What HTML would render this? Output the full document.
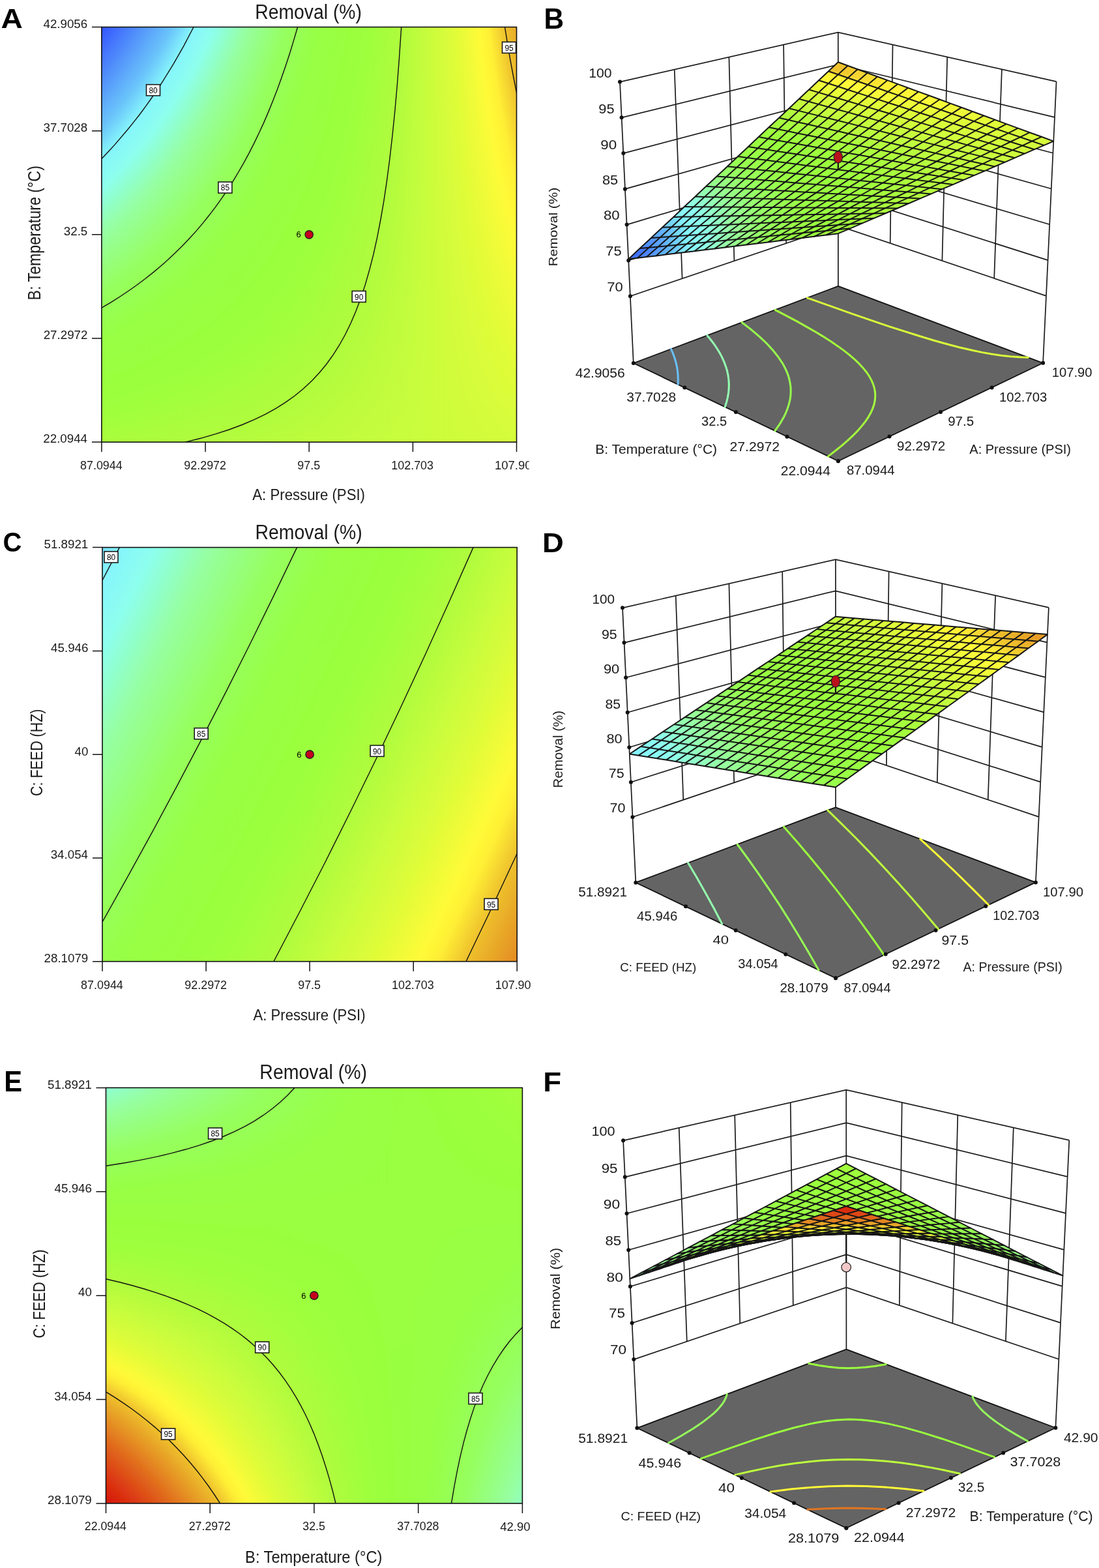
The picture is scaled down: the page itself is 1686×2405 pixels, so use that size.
<!DOCTYPE html><html><head><meta charset="utf-8"><style>html,body{margin:0;padding:0;background:#fff}svg{display:block}text{font-family:'Liberation Sans', Arial, sans-serif}</style></head><body><svg width="1686" height="2405" viewBox="0 0 1686 2405"><defs><clipPath id="c0"><rect x="155.9" y="41.5" width="636.6" height="636.6"/></clipPath><linearGradient id="g1"><stop offset="0" stop-color="#3051fe"/><stop offset="0.076" stop-color="#4b82fc"/><stop offset="0.1758" stop-color="#6ac4fa"/><stop offset="0.2256" stop-color="#86f5fc"/><stop offset="0.25" stop-color="#89faf5"/><stop offset="0.2754" stop-color="#8dffee"/><stop offset="0.3551" stop-color="#96ffa0"/><stop offset="0.4496" stop-color="#96ff5f"/><stop offset="0.5" stop-color="#97ff4e"/><stop offset="0.5242" stop-color="#98ff46"/><stop offset="0.5987" stop-color="#99ff3e"/><stop offset="0.6483" stop-color="#9eff3c"/><stop offset="0.7228" stop-color="#affc3c"/><stop offset="0.75" stop-color="#bafc3c"/><stop offset="0.7873" stop-color="#c8fd3c"/><stop offset="0.8517" stop-color="#e1fc39"/><stop offset="0.9086" stop-color="#fffa37"/><stop offset="0.9309" stop-color="#fff035"/><stop offset="0.9705" stop-color="#eec02d"/><stop offset="1" stop-color="#e8a828"/></linearGradient><linearGradient id="g2"><stop offset="0" stop-color="#3458fe"/><stop offset="0.06605" stop-color="#4b82fc"/><stop offset="0.1672" stop-color="#6ac4fa"/><stop offset="0.2177" stop-color="#86f5fc"/><stop offset="0.25" stop-color="#8afbf3"/><stop offset="0.2682" stop-color="#8dffee"/><stop offset="0.349" stop-color="#96ffa0"/><stop offset="0.4449" stop-color="#96ff5f"/><stop offset="0.5" stop-color="#97ff4d"/><stop offset="0.5204" stop-color="#98ff46"/><stop offset="0.596" stop-color="#99ff3e"/><stop offset="0.6463" stop-color="#9eff3c"/><stop offset="0.7218" stop-color="#affc3c"/><stop offset="0.75" stop-color="#bafc3c"/><stop offset="0.7872" stop-color="#c8fd3c"/><stop offset="0.8524" stop-color="#e1fc39"/><stop offset="0.9102" stop-color="#fffa37"/><stop offset="0.9328" stop-color="#fff035"/><stop offset="0.9729" stop-color="#eec02d"/><stop offset="1" stop-color="#e9aa28"/></linearGradient><linearGradient id="g3"><stop offset="0" stop-color="#385ffe"/><stop offset="0.05585" stop-color="#4b82fc"/><stop offset="0.1584" stop-color="#6ac4fa"/><stop offset="0.2097" stop-color="#86f5fc"/><stop offset="0.25" stop-color="#8cfdf1"/><stop offset="0.2609" stop-color="#8dffee"/><stop offset="0.3428" stop-color="#96ffa0"/><stop offset="0.44" stop-color="#96ff5f"/><stop offset="0.5" stop-color="#98ff4b"/><stop offset="0.5167" stop-color="#98ff46"/><stop offset="0.5933" stop-color="#99ff3e"/><stop offset="0.6442" stop-color="#9eff3c"/><stop offset="0.7208" stop-color="#affc3c"/><stop offset="0.75" stop-color="#bafc3c"/><stop offset="0.7871" stop-color="#c8fd3c"/><stop offset="0.8533" stop-color="#e1fc39"/><stop offset="0.9118" stop-color="#fffa37"/><stop offset="0.9347" stop-color="#fff035"/><stop offset="0.9754" stop-color="#eec02d"/><stop offset="1" stop-color="#e9ad29"/></linearGradient><linearGradient id="g4"><stop offset="0" stop-color="#3c66fd"/><stop offset="0.04535" stop-color="#4b82fc"/><stop offset="0.1493" stop-color="#6ac4fa"/><stop offset="0.2013" stop-color="#86f5fc"/><stop offset="0.25" stop-color="#8dfeef"/><stop offset="0.2533" stop-color="#8dffee"/><stop offset="0.3364" stop-color="#96ffa0"/><stop offset="0.435" stop-color="#96ff5f"/><stop offset="0.5" stop-color="#98ff4a"/><stop offset="0.5127" stop-color="#98ff46"/><stop offset="0.5904" stop-color="#99ff3e"/><stop offset="0.6421" stop-color="#9eff3c"/><stop offset="0.7198" stop-color="#affc3c"/><stop offset="0.75" stop-color="#bafc3c"/><stop offset="0.787" stop-color="#c8fd3c"/><stop offset="0.8541" stop-color="#e1fc39"/><stop offset="0.9134" stop-color="#fffa37"/><stop offset="0.9366" stop-color="#fff035"/><stop offset="0.9779" stop-color="#eec02d"/><stop offset="1" stop-color="#eaaf29"/></linearGradient><linearGradient id="g5"><stop offset="0" stop-color="#406dfd"/><stop offset="0.0345" stop-color="#4b82fc"/><stop offset="0.1401" stop-color="#6ac4fa"/><stop offset="0.1928" stop-color="#86f5fc"/><stop offset="0.2455" stop-color="#8dffee"/><stop offset="0.25" stop-color="#8dffea"/><stop offset="0.3298" stop-color="#96ffa0"/><stop offset="0.4298" stop-color="#96ff5f"/><stop offset="0.5" stop-color="#98ff49"/><stop offset="0.5087" stop-color="#98ff46"/><stop offset="0.5875" stop-color="#99ff3e"/><stop offset="0.64" stop-color="#9eff3c"/><stop offset="0.7187" stop-color="#affc3c"/><stop offset="0.75" stop-color="#bafc3c"/><stop offset="0.7868" stop-color="#c8fd3c"/><stop offset="0.8549" stop-color="#e1fc39"/><stop offset="0.9152" stop-color="#fffa37"/><stop offset="0.9387" stop-color="#fff035"/><stop offset="0.9806" stop-color="#eec02d"/><stop offset="1" stop-color="#eab12a"/></linearGradient><linearGradient id="g6"><stop offset="0" stop-color="#4374fd"/><stop offset="0.0234" stop-color="#4b82fc"/><stop offset="0.1305" stop-color="#6ac4fa"/><stop offset="0.184" stop-color="#86f5fc"/><stop offset="0.2375" stop-color="#8dffee"/><stop offset="0.25" stop-color="#8effe3"/><stop offset="0.323" stop-color="#96ffa0"/><stop offset="0.4244" stop-color="#96ff5f"/><stop offset="0.5" stop-color="#98ff47"/><stop offset="0.5044" stop-color="#98ff46"/><stop offset="0.5845" stop-color="#99ff3e"/><stop offset="0.6377" stop-color="#9eff3c"/><stop offset="0.7176" stop-color="#affc3c"/><stop offset="0.75" stop-color="#bbfc3c"/><stop offset="0.7867" stop-color="#c8fd3c"/><stop offset="0.8558" stop-color="#e1fc39"/><stop offset="0.9169" stop-color="#fffa37"/><stop offset="0.9408" stop-color="#fff035"/><stop offset="0.9832" stop-color="#eec02d"/><stop offset="1" stop-color="#ebb32a"/></linearGradient><linearGradient id="g7"><stop offset="0" stop-color="#477bfc"/><stop offset="0.0119" stop-color="#4b82fc"/><stop offset="0.1206" stop-color="#6ac4fa"/><stop offset="0.1749" stop-color="#86f5fc"/><stop offset="0.2293" stop-color="#8dffee"/><stop offset="0.25" stop-color="#8fffdb"/><stop offset="0.316" stop-color="#96ffa0"/><stop offset="0.4189" stop-color="#96ff5f"/><stop offset="0.5" stop-color="#98ff46"/><stop offset="0.5002" stop-color="#98ff46"/><stop offset="0.5813" stop-color="#99ff3e"/><stop offset="0.6353" stop-color="#9eff3c"/><stop offset="0.7164" stop-color="#affc3c"/><stop offset="0.75" stop-color="#bbfc3c"/><stop offset="0.7866" stop-color="#c8fd3c"/><stop offset="0.8567" stop-color="#e1fc39"/><stop offset="0.9187" stop-color="#fffa37"/><stop offset="0.9429" stop-color="#fff035"/><stop offset="0.986" stop-color="#eec02d"/><stop offset="1" stop-color="#ebb62b"/></linearGradient><linearGradient id="g8"><stop offset="0" stop-color="#4b82fc"/><stop offset="0.0001" stop-color="#4b82fc"/><stop offset="0.1104" stop-color="#6ac4fa"/><stop offset="0.1656" stop-color="#86f5fc"/><stop offset="0.2207" stop-color="#8dffee"/><stop offset="0.25" stop-color="#90ffd4"/><stop offset="0.3088" stop-color="#96ffa0"/><stop offset="0.4133" stop-color="#96ff5f"/><stop offset="0.4958" stop-color="#98ff46"/><stop offset="0.5" stop-color="#98ff46"/><stop offset="0.5781" stop-color="#99ff3e"/><stop offset="0.633" stop-color="#9eff3c"/><stop offset="0.7152" stop-color="#affc3c"/><stop offset="0.75" stop-color="#bbfc3c"/><stop offset="0.7864" stop-color="#c8fd3c"/><stop offset="0.8576" stop-color="#e1fc39"/><stop offset="0.9205" stop-color="#fffa37"/><stop offset="0.9451" stop-color="#fff035"/><stop offset="0.9889" stop-color="#eec02d"/><stop offset="1" stop-color="#ecb82b"/></linearGradient><linearGradient id="g9"><stop offset="0" stop-color="#4e89fc"/><stop offset="0.1" stop-color="#6ac4fa"/><stop offset="0.156" stop-color="#86f5fc"/><stop offset="0.212" stop-color="#8dffee"/><stop offset="0.25" stop-color="#91ffcd"/><stop offset="0.3014" stop-color="#96ffa0"/><stop offset="0.4075" stop-color="#96ff5f"/><stop offset="0.4912" stop-color="#98ff46"/><stop offset="0.5" stop-color="#98ff45"/><stop offset="0.5748" stop-color="#99ff3e"/><stop offset="0.6305" stop-color="#9eff3c"/><stop offset="0.714" stop-color="#affc3c"/><stop offset="0.75" stop-color="#bbfc3c"/><stop offset="0.7863" stop-color="#c8fd3c"/><stop offset="0.8585" stop-color="#e1fc39"/><stop offset="0.9224" stop-color="#fffa37"/><stop offset="0.9474" stop-color="#fff035"/><stop offset="0.9918" stop-color="#eec02d"/><stop offset="1" stop-color="#edba2c"/></linearGradient><linearGradient id="g10"><stop offset="0" stop-color="#5290fc"/><stop offset="0.0892" stop-color="#6ac4fa"/><stop offset="0.1461" stop-color="#86f5fc"/><stop offset="0.2029" stop-color="#8dffee"/><stop offset="0.25" stop-color="#92ffc6"/><stop offset="0.2938" stop-color="#96ffa0"/><stop offset="0.4015" stop-color="#96ff5f"/><stop offset="0.4865" stop-color="#98ff46"/><stop offset="0.5" stop-color="#98ff45"/><stop offset="0.5714" stop-color="#99ff3e"/><stop offset="0.628" stop-color="#9eff3c"/><stop offset="0.7127" stop-color="#affc3c"/><stop offset="0.75" stop-color="#bcfd3c"/><stop offset="0.7862" stop-color="#c8fd3c"/><stop offset="0.8596" stop-color="#e1fc39"/><stop offset="0.9244" stop-color="#fffa37"/><stop offset="0.9497" stop-color="#fff035"/><stop offset="0.9948" stop-color="#eec02d"/><stop offset="1" stop-color="#edbc2c"/></linearGradient><linearGradient id="g11"><stop offset="0" stop-color="#5597fb"/><stop offset="0.07805" stop-color="#6ac4fa"/><stop offset="0.1358" stop-color="#86f5fc"/><stop offset="0.1935" stop-color="#8dffee"/><stop offset="0.25" stop-color="#93ffbe"/><stop offset="0.2858" stop-color="#96ffa0"/><stop offset="0.3953" stop-color="#96ff5f"/><stop offset="0.4817" stop-color="#98ff46"/><stop offset="0.5" stop-color="#98ff44"/><stop offset="0.5679" stop-color="#99ff3e"/><stop offset="0.6253" stop-color="#9eff3c"/><stop offset="0.7115" stop-color="#affc3c"/><stop offset="0.75" stop-color="#bcfd3c"/><stop offset="0.7861" stop-color="#c8fd3c"/><stop offset="0.8605" stop-color="#e1fc39"/><stop offset="0.9264" stop-color="#fffa37"/><stop offset="0.9522" stop-color="#fff035"/><stop offset="0.998" stop-color="#eec02d"/><stop offset="1" stop-color="#eebf2d"/></linearGradient><linearGradient id="g12"><stop offset="0" stop-color="#589ffb"/><stop offset="0.06655" stop-color="#6ac4fa"/><stop offset="0.1252" stop-color="#86f5fc"/><stop offset="0.1839" stop-color="#8dffee"/><stop offset="0.25" stop-color="#93ffb7"/><stop offset="0.2777" stop-color="#96ffa0"/><stop offset="0.3889" stop-color="#96ff5f"/><stop offset="0.4767" stop-color="#98ff46"/><stop offset="0.5" stop-color="#98ff44"/><stop offset="0.5643" stop-color="#99ff3e"/><stop offset="0.6227" stop-color="#9eff3c"/><stop offset="0.7102" stop-color="#affc3c"/><stop offset="0.75" stop-color="#bcfd3c"/><stop offset="0.7859" stop-color="#c8fd3c"/><stop offset="0.8616" stop-color="#e1fc39"/><stop offset="0.9285" stop-color="#fffa37"/><stop offset="0.9546" stop-color="#fff035"/><stop offset="1" stop-color="#eec12d"/></linearGradient><linearGradient id="g13"><stop offset="0" stop-color="#5ca6fb"/><stop offset="0.05465" stop-color="#6ac4fa"/><stop offset="0.1144" stop-color="#86f5fc"/><stop offset="0.1739" stop-color="#8dffee"/><stop offset="0.25" stop-color="#94ffb0"/><stop offset="0.2692" stop-color="#96ffa0"/><stop offset="0.3823" stop-color="#96ff5f"/><stop offset="0.4714" stop-color="#98ff46"/><stop offset="0.5" stop-color="#98ff43"/><stop offset="0.5605" stop-color="#99ff3e"/><stop offset="0.6199" stop-color="#9eff3c"/><stop offset="0.7087" stop-color="#affc3c"/><stop offset="0.75" stop-color="#bcfd3c"/><stop offset="0.7857" stop-color="#c8fd3c"/><stop offset="0.8626" stop-color="#e1fc39"/><stop offset="0.9306" stop-color="#fffa37"/><stop offset="0.9572" stop-color="#fff035"/><stop offset="1" stop-color="#f0c52e"/></linearGradient><linearGradient id="g14"><stop offset="0" stop-color="#5fadfb"/><stop offset="0.0424" stop-color="#6ac4fa"/><stop offset="0.103" stop-color="#86f5fc"/><stop offset="0.1637" stop-color="#8dffee"/><stop offset="0.25" stop-color="#95ffa9"/><stop offset="0.2606" stop-color="#96ffa0"/><stop offset="0.3755" stop-color="#96ff5f"/><stop offset="0.4661" stop-color="#98ff46"/><stop offset="0.5" stop-color="#98ff43"/><stop offset="0.5566" stop-color="#99ff3e"/><stop offset="0.6169" stop-color="#9eff3c"/><stop offset="0.7074" stop-color="#affc3c"/><stop offset="0.75" stop-color="#bdfd3c"/><stop offset="0.7856" stop-color="#c8fd3c"/><stop offset="0.8638" stop-color="#e1fc39"/><stop offset="0.9328" stop-color="#fffa37"/><stop offset="0.9599" stop-color="#fff035"/><stop offset="1" stop-color="#f1c82e"/></linearGradient><linearGradient id="g15"><stop offset="0" stop-color="#63b4fa"/><stop offset="0.0297" stop-color="#6ac4fa"/><stop offset="0.0914" stop-color="#86f5fc"/><stop offset="0.1531" stop-color="#8dffee"/><stop offset="0.25" stop-color="#96ffa1"/><stop offset="0.2515" stop-color="#96ffa0"/><stop offset="0.3684" stop-color="#96ff5f"/><stop offset="0.4606" stop-color="#98ff46"/><stop offset="0.5" stop-color="#98ff43"/><stop offset="0.5526" stop-color="#99ff3e"/><stop offset="0.6139" stop-color="#9eff3c"/><stop offset="0.7058" stop-color="#affc3c"/><stop offset="0.75" stop-color="#bdfd3c"/><stop offset="0.7854" stop-color="#c8fd3c"/><stop offset="0.8649" stop-color="#e1fc39"/><stop offset="0.9351" stop-color="#fffa37"/><stop offset="0.9627" stop-color="#fff035"/><stop offset="1" stop-color="#f2cb2f"/></linearGradient><linearGradient id="g16"><stop offset="0" stop-color="#66bbfa"/><stop offset="0.01655" stop-color="#6ac4fa"/><stop offset="0.0793" stop-color="#86f5fc"/><stop offset="0.1421" stop-color="#8dffee"/><stop offset="0.2423" stop-color="#96ffa0"/><stop offset="0.25" stop-color="#96ff9c"/><stop offset="0.3611" stop-color="#96ff5f"/><stop offset="0.4549" stop-color="#98ff46"/><stop offset="0.5" stop-color="#98ff42"/><stop offset="0.5485" stop-color="#99ff3e"/><stop offset="0.6109" stop-color="#9eff3c"/><stop offset="0.7044" stop-color="#affc3c"/><stop offset="0.75" stop-color="#bdfd3c"/><stop offset="0.7853" stop-color="#c8fd3c"/><stop offset="0.8661" stop-color="#e1fc39"/><stop offset="0.9375" stop-color="#fffa37"/><stop offset="0.9654" stop-color="#fff035"/><stop offset="1" stop-color="#f3cf2f"/></linearGradient><linearGradient id="g17"><stop offset="0" stop-color="#69c2fa"/><stop offset="0.00295" stop-color="#6ac4fa"/><stop offset="0.06685" stop-color="#86f5fc"/><stop offset="0.1306" stop-color="#8dffee"/><stop offset="0.2327" stop-color="#96ffa0"/><stop offset="0.25" stop-color="#96ff97"/><stop offset="0.3536" stop-color="#96ff5f"/><stop offset="0.449" stop-color="#98ff46"/><stop offset="0.5" stop-color="#99ff42"/><stop offset="0.5443" stop-color="#99ff3e"/><stop offset="0.6077" stop-color="#9eff3c"/><stop offset="0.7027" stop-color="#affc3c"/><stop offset="0.75" stop-color="#bdfd3c"/><stop offset="0.7851" stop-color="#c8fd3c"/><stop offset="0.8673" stop-color="#e1fc39"/><stop offset="0.94" stop-color="#fffa37"/><stop offset="0.9684" stop-color="#fff035"/><stop offset="1" stop-color="#f4d230"/></linearGradient><linearGradient id="g18"><stop offset="0" stop-color="#6fccfa"/><stop offset="0.0539" stop-color="#86f5fc"/><stop offset="0.1189" stop-color="#8dffee"/><stop offset="0.2227" stop-color="#96ffa0"/><stop offset="0.25" stop-color="#96ff92"/><stop offset="0.3458" stop-color="#96ff5f"/><stop offset="0.4429" stop-color="#98ff46"/><stop offset="0.5" stop-color="#99ff41"/><stop offset="0.5398" stop-color="#99ff3e"/><stop offset="0.6043" stop-color="#9eff3c"/><stop offset="0.7011" stop-color="#affc3c"/><stop offset="0.75" stop-color="#befd3c"/><stop offset="0.7849" stop-color="#c8fd3c"/><stop offset="0.8685" stop-color="#e1fc39"/><stop offset="0.9425" stop-color="#fffa37"/><stop offset="0.9714" stop-color="#fff035"/><stop offset="1" stop-color="#f6d531"/></linearGradient><linearGradient id="g19"><stop offset="0" stop-color="#75d7fb"/><stop offset="0.0405" stop-color="#86f5fc"/><stop offset="0.1066" stop-color="#8dffee"/><stop offset="0.2123" stop-color="#96ffa0"/><stop offset="0.25" stop-color="#96ff8c"/><stop offset="0.3377" stop-color="#96ff5f"/><stop offset="0.4365" stop-color="#98ff46"/><stop offset="0.5" stop-color="#99ff41"/><stop offset="0.5352" stop-color="#99ff3e"/><stop offset="0.6009" stop-color="#9eff3c"/><stop offset="0.6994" stop-color="#affc3c"/><stop offset="0.75" stop-color="#befd3c"/><stop offset="0.7847" stop-color="#c8fd3c"/><stop offset="0.8699" stop-color="#e1fc39"/><stop offset="0.9451" stop-color="#fffa37"/><stop offset="0.9746" stop-color="#fff035"/><stop offset="1" stop-color="#f7d931"/></linearGradient><linearGradient id="g20"><stop offset="0" stop-color="#7be2fb"/><stop offset="0.0266" stop-color="#86f5fc"/><stop offset="0.09395" stop-color="#8dffee"/><stop offset="0.2016" stop-color="#96ffa0"/><stop offset="0.25" stop-color="#96ff87"/><stop offset="0.3293" stop-color="#96ff5f"/><stop offset="0.4299" stop-color="#98ff46"/><stop offset="0.5" stop-color="#99ff40"/><stop offset="0.5304" stop-color="#99ff3e"/><stop offset="0.5974" stop-color="#9eff3c"/><stop offset="0.6976" stop-color="#affc3c"/><stop offset="0.75" stop-color="#befd3c"/><stop offset="0.7845" stop-color="#c8fd3c"/><stop offset="0.8712" stop-color="#e1fc39"/><stop offset="0.9479" stop-color="#fffa37"/><stop offset="0.9778" stop-color="#fff035"/><stop offset="1" stop-color="#f8dc32"/></linearGradient><linearGradient id="g21"><stop offset="0" stop-color="#81ecfc"/><stop offset="0.01215" stop-color="#86f5fc"/><stop offset="0.0808" stop-color="#8dffee"/><stop offset="0.1905" stop-color="#96ffa0"/><stop offset="0.25" stop-color="#96ff82"/><stop offset="0.3206" stop-color="#96ff5f"/><stop offset="0.4231" stop-color="#98ff46"/><stop offset="0.5" stop-color="#99ff40"/><stop offset="0.5255" stop-color="#99ff3e"/><stop offset="0.5937" stop-color="#9eff3c"/><stop offset="0.6958" stop-color="#affc3c"/><stop offset="0.75" stop-color="#befd3c"/><stop offset="0.7843" stop-color="#c8fd3c"/><stop offset="0.8726" stop-color="#e1fc39"/><stop offset="0.9507" stop-color="#fffa37"/><stop offset="0.9812" stop-color="#fff035"/><stop offset="1" stop-color="#f9df32"/></linearGradient><linearGradient id="g22"><stop offset="0" stop-color="#86f5fb"/><stop offset="0.06715" stop-color="#8dffee"/><stop offset="0.1789" stop-color="#96ffa0"/><stop offset="0.25" stop-color="#96ff7d"/><stop offset="0.3115" stop-color="#96ff5f"/><stop offset="0.416" stop-color="#98ff46"/><stop offset="0.5" stop-color="#99ff40"/><stop offset="0.5203" stop-color="#99ff3e"/><stop offset="0.5898" stop-color="#9eff3c"/><stop offset="0.694" stop-color="#affc3c"/><stop offset="0.75" stop-color="#bffd3c"/><stop offset="0.7841" stop-color="#c8fd3c"/><stop offset="0.874" stop-color="#e1fc39"/><stop offset="0.9536" stop-color="#fffa37"/><stop offset="0.9847" stop-color="#fff035"/><stop offset="1" stop-color="#fae333"/></linearGradient><linearGradient id="g23"><stop offset="0" stop-color="#88f8f8"/><stop offset="0.05295" stop-color="#8dffee"/><stop offset="0.1669" stop-color="#96ffa0"/><stop offset="0.25" stop-color="#96ff78"/><stop offset="0.3021" stop-color="#96ff5f"/><stop offset="0.4087" stop-color="#98ff46"/><stop offset="0.5" stop-color="#99ff3f"/><stop offset="0.515" stop-color="#99ff3e"/><stop offset="0.5858" stop-color="#9eff3c"/><stop offset="0.692" stop-color="#affc3c"/><stop offset="0.75" stop-color="#bffd3c"/><stop offset="0.7838" stop-color="#c8fd3c"/><stop offset="0.8756" stop-color="#e1fc39"/><stop offset="0.9567" stop-color="#fffa37"/><stop offset="0.9884" stop-color="#fff035"/><stop offset="1" stop-color="#fbe633"/></linearGradient><linearGradient id="g24"><stop offset="0" stop-color="#89faf5"/><stop offset="0.0382" stop-color="#8dffee"/><stop offset="0.1544" stop-color="#96ffa0"/><stop offset="0.25" stop-color="#96ff73"/><stop offset="0.2923" stop-color="#96ff5f"/><stop offset="0.401" stop-color="#98ff46"/><stop offset="0.5" stop-color="#99ff3f"/><stop offset="0.5094" stop-color="#99ff3e"/><stop offset="0.5817" stop-color="#9eff3c"/><stop offset="0.69" stop-color="#affc3c"/><stop offset="0.75" stop-color="#bffd3c"/><stop offset="0.7836" stop-color="#c8fd3c"/><stop offset="0.8771" stop-color="#e1fc39"/><stop offset="0.9598" stop-color="#fffa37"/><stop offset="0.9921" stop-color="#fff035"/><stop offset="1" stop-color="#fde934"/></linearGradient><linearGradient id="g25"><stop offset="0" stop-color="#8bfcf2"/><stop offset="0.0228" stop-color="#8dffee"/><stop offset="0.1415" stop-color="#96ffa0"/><stop offset="0.25" stop-color="#96ff6e"/><stop offset="0.2822" stop-color="#96ff5f"/><stop offset="0.393" stop-color="#98ff46"/><stop offset="0.5" stop-color="#99ff3e"/><stop offset="0.5037" stop-color="#99ff3e"/><stop offset="0.5774" stop-color="#9eff3c"/><stop offset="0.6878" stop-color="#affc3c"/><stop offset="0.75" stop-color="#bffd3c"/><stop offset="0.7833" stop-color="#c8fd3c"/><stop offset="0.8787" stop-color="#e1fc39"/><stop offset="0.963" stop-color="#fffa37"/><stop offset="0.996" stop-color="#fff035"/><stop offset="1" stop-color="#feed34"/></linearGradient><linearGradient id="g26"><stop offset="0" stop-color="#8cfeef"/><stop offset="0.0068" stop-color="#8dffee"/><stop offset="0.128" stop-color="#96ffa0"/><stop offset="0.25" stop-color="#96ff69"/><stop offset="0.2716" stop-color="#96ff5f"/><stop offset="0.3847" stop-color="#98ff46"/><stop offset="0.4977" stop-color="#99ff3e"/><stop offset="0.5" stop-color="#99ff3e"/><stop offset="0.5729" stop-color="#9eff3c"/><stop offset="0.6856" stop-color="#affc3c"/><stop offset="0.75" stop-color="#c0fd3c"/><stop offset="0.7831" stop-color="#c8fd3c"/><stop offset="0.8804" stop-color="#e1fc39"/><stop offset="0.9665" stop-color="#fffa37"/><stop offset="1" stop-color="#fff035"/></linearGradient><linearGradient id="g27"><stop offset="0" stop-color="#8effe8"/><stop offset="0.1139" stop-color="#96ffa0"/><stop offset="0.25" stop-color="#96ff64"/><stop offset="0.2605" stop-color="#96ff5f"/><stop offset="0.376" stop-color="#98ff46"/><stop offset="0.4914" stop-color="#99ff3e"/><stop offset="0.5" stop-color="#9aff3e"/><stop offset="0.5683" stop-color="#9eff3c"/><stop offset="0.6833" stop-color="#affc3c"/><stop offset="0.75" stop-color="#c0fd3c"/><stop offset="0.7828" stop-color="#c8fd3c"/><stop offset="0.8822" stop-color="#e1fc39"/><stop offset="0.9701" stop-color="#fffa37"/><stop offset="1" stop-color="#fff135"/></linearGradient><linearGradient id="g28"><stop offset="0" stop-color="#8fffdd"/><stop offset="0.09915" stop-color="#96ffa0"/><stop offset="0.249" stop-color="#96ff5f"/><stop offset="0.25" stop-color="#96ff5f"/><stop offset="0.367" stop-color="#98ff46"/><stop offset="0.4849" stop-color="#99ff3e"/><stop offset="0.5" stop-color="#9aff3e"/><stop offset="0.5634" stop-color="#9eff3c"/><stop offset="0.6808" stop-color="#affc3c"/><stop offset="0.75" stop-color="#c0fd3c"/><stop offset="0.7826" stop-color="#c8fd3c"/><stop offset="0.8841" stop-color="#e1fc39"/><stop offset="0.9738" stop-color="#fffa37"/><stop offset="1" stop-color="#fff336"/></linearGradient><linearGradient id="g29"><stop offset="0" stop-color="#90ffd3"/><stop offset="0.0838" stop-color="#96ffa0"/><stop offset="0.2369" stop-color="#96ff5f"/><stop offset="0.25" stop-color="#96ff5c"/><stop offset="0.3577" stop-color="#98ff46"/><stop offset="0.4781" stop-color="#99ff3e"/><stop offset="0.5" stop-color="#9aff3d"/><stop offset="0.5583" stop-color="#9eff3c"/><stop offset="0.6784" stop-color="#affc3c"/><stop offset="0.75" stop-color="#c0fd3c"/><stop offset="0.7823" stop-color="#c8fd3c"/><stop offset="0.886" stop-color="#e1fc39"/><stop offset="0.9776" stop-color="#fffa37"/><stop offset="1" stop-color="#fff436"/></linearGradient><linearGradient id="g30"><stop offset="0" stop-color="#91ffc8"/><stop offset="0.0677" stop-color="#96ffa0"/><stop offset="0.2243" stop-color="#96ff5f"/><stop offset="0.25" stop-color="#96ff5a"/><stop offset="0.3478" stop-color="#98ff46"/><stop offset="0.4709" stop-color="#99ff3e"/><stop offset="0.5" stop-color="#9bff3d"/><stop offset="0.553" stop-color="#9eff3c"/><stop offset="0.6757" stop-color="#affc3c"/><stop offset="0.75" stop-color="#c0fd3c"/><stop offset="0.7819" stop-color="#c8fd3c"/><stop offset="0.888" stop-color="#e1fc39"/><stop offset="0.9817" stop-color="#fffa37"/><stop offset="1" stop-color="#fff536"/></linearGradient><linearGradient id="g31"><stop offset="0" stop-color="#93ffbd"/><stop offset="0.0509" stop-color="#96ffa0"/><stop offset="0.2112" stop-color="#96ff5f"/><stop offset="0.25" stop-color="#97ff57"/><stop offset="0.3375" stop-color="#98ff46"/><stop offset="0.4635" stop-color="#99ff3e"/><stop offset="0.5" stop-color="#9bff3d"/><stop offset="0.5474" stop-color="#9eff3c"/><stop offset="0.6729" stop-color="#affc3c"/><stop offset="0.75" stop-color="#c1fd3c"/><stop offset="0.7816" stop-color="#c8fd3c"/><stop offset="0.8901" stop-color="#e1fc39"/><stop offset="0.9859" stop-color="#fffa37"/><stop offset="1" stop-color="#fff636"/></linearGradient><linearGradient id="g32"><stop offset="0" stop-color="#94ffb3"/><stop offset="0.0333" stop-color="#96ffa0"/><stop offset="0.1974" stop-color="#96ff5f"/><stop offset="0.25" stop-color="#97ff55"/><stop offset="0.3267" stop-color="#98ff46"/><stop offset="0.4557" stop-color="#99ff3e"/><stop offset="0.5" stop-color="#9cff3d"/><stop offset="0.5415" stop-color="#9eff3c"/><stop offset="0.6701" stop-color="#affc3c"/><stop offset="0.75" stop-color="#c1fd3c"/><stop offset="0.7812" stop-color="#c8fd3c"/><stop offset="0.8922" stop-color="#e1fc39"/><stop offset="0.9903" stop-color="#fffa37"/><stop offset="1" stop-color="#fff736"/></linearGradient><linearGradient id="g33"><stop offset="0" stop-color="#95ffa8"/><stop offset="0.0148" stop-color="#96ffa0"/><stop offset="0.183" stop-color="#96ff5f"/><stop offset="0.25" stop-color="#97ff52"/><stop offset="0.3154" stop-color="#98ff46"/><stop offset="0.4475" stop-color="#99ff3e"/><stop offset="0.5" stop-color="#9cff3d"/><stop offset="0.5354" stop-color="#9eff3c"/><stop offset="0.6671" stop-color="#affc3c"/><stop offset="0.75" stop-color="#c1fd3c"/><stop offset="0.7809" stop-color="#c8fd3c"/><stop offset="0.8945" stop-color="#e1fc39"/><stop offset="0.9949" stop-color="#fffa37"/><stop offset="1" stop-color="#fff937"/></linearGradient><linearGradient id="g34"><stop offset="0" stop-color="#96ff9e"/><stop offset="0.1678" stop-color="#96ff5f"/><stop offset="0.25" stop-color="#97ff50"/><stop offset="0.3035" stop-color="#98ff46"/><stop offset="0.4389" stop-color="#99ff3e"/><stop offset="0.5" stop-color="#9cff3d"/><stop offset="0.529" stop-color="#9eff3c"/><stop offset="0.6639" stop-color="#affc3c"/><stop offset="0.75" stop-color="#c1fd3c"/><stop offset="0.7805" stop-color="#c8fd3c"/><stop offset="0.897" stop-color="#e1fc39"/><stop offset="0.9998" stop-color="#fffa37"/><stop offset="1" stop-color="#fffa37"/></linearGradient><linearGradient id="g35"><stop offset="0" stop-color="#96ff97"/><stop offset="0.1518" stop-color="#96ff5f"/><stop offset="0.25" stop-color="#97ff4d"/><stop offset="0.291" stop-color="#98ff46"/><stop offset="0.4299" stop-color="#99ff3e"/><stop offset="0.5" stop-color="#9dff3c"/><stop offset="0.5222" stop-color="#9eff3c"/><stop offset="0.6605" stop-color="#affc3c"/><stop offset="0.75" stop-color="#c2fd3c"/><stop offset="0.7801" stop-color="#c8fd3c"/><stop offset="0.8995" stop-color="#e1fc39"/><stop offset="1" stop-color="#fefa37"/></linearGradient><linearGradient id="g36"><stop offset="0" stop-color="#96ff8f"/><stop offset="0.1351" stop-color="#96ff5f"/><stop offset="0.25" stop-color="#98ff4b"/><stop offset="0.2779" stop-color="#98ff46"/><stop offset="0.4204" stop-color="#99ff3e"/><stop offset="0.5" stop-color="#9dff3c"/><stop offset="0.5151" stop-color="#9eff3c"/><stop offset="0.6571" stop-color="#affc3c"/><stop offset="0.75" stop-color="#c2fd3c"/><stop offset="0.7797" stop-color="#c8fd3c"/><stop offset="0.9021" stop-color="#e1fc39"/><stop offset="1" stop-color="#fcfa37"/></linearGradient><linearGradient id="g37"><stop offset="0" stop-color="#96ff88"/><stop offset="0.1174" stop-color="#96ff5f"/><stop offset="0.25" stop-color="#98ff48"/><stop offset="0.2641" stop-color="#98ff46"/><stop offset="0.4103" stop-color="#99ff3e"/><stop offset="0.5" stop-color="#9eff3c"/><stop offset="0.5077" stop-color="#9eff3c"/><stop offset="0.6533" stop-color="#affc3c"/><stop offset="0.75" stop-color="#c2fd3c"/><stop offset="0.7792" stop-color="#c8fd3c"/><stop offset="0.9049" stop-color="#e1fc39"/><stop offset="1" stop-color="#fbfa37"/></linearGradient><linearGradient id="g38"><stop offset="0" stop-color="#96ff80"/><stop offset="0.09865" stop-color="#96ff5f"/><stop offset="0.2495" stop-color="#98ff46"/><stop offset="0.25" stop-color="#98ff46"/><stop offset="0.3998" stop-color="#99ff3e"/><stop offset="0.4998" stop-color="#9eff3c"/><stop offset="0.5" stop-color="#9eff3c"/><stop offset="0.6494" stop-color="#affc3c"/><stop offset="0.75" stop-color="#c2fd3c"/><stop offset="0.7788" stop-color="#c8fd3c"/><stop offset="0.9078" stop-color="#e1fc39"/><stop offset="1" stop-color="#f9fa37"/></linearGradient><linearGradient id="g39"><stop offset="0" stop-color="#96ff79"/><stop offset="0.0789" stop-color="#96ff5f"/><stop offset="0.234" stop-color="#98ff46"/><stop offset="0.25" stop-color="#98ff45"/><stop offset="0.3886" stop-color="#99ff3e"/><stop offset="0.4914" stop-color="#9eff3c"/><stop offset="0.5" stop-color="#9fff3c"/><stop offset="0.6453" stop-color="#affc3c"/><stop offset="0.75" stop-color="#c3fd3c"/><stop offset="0.7783" stop-color="#c8fd3c"/><stop offset="0.9109" stop-color="#e1fc39"/><stop offset="1" stop-color="#f8fa37"/></linearGradient><linearGradient id="g40"><stop offset="0" stop-color="#96ff72"/><stop offset="0.058" stop-color="#96ff5f"/><stop offset="0.2177" stop-color="#98ff46"/><stop offset="0.25" stop-color="#98ff44"/><stop offset="0.3769" stop-color="#99ff3e"/><stop offset="0.4827" stop-color="#9eff3c"/><stop offset="0.5" stop-color="#a0ff3c"/><stop offset="0.641" stop-color="#affc3c"/><stop offset="0.75" stop-color="#c3fd3c"/><stop offset="0.7777" stop-color="#c8fd3c"/><stop offset="0.9142" stop-color="#e1fc39"/><stop offset="1" stop-color="#f6fb38"/></linearGradient><linearGradient id="g41"><stop offset="0" stop-color="#96ff6a"/><stop offset="0.03585" stop-color="#96ff5f"/><stop offset="0.2003" stop-color="#98ff46"/><stop offset="0.25" stop-color="#98ff44"/><stop offset="0.3643" stop-color="#99ff3e"/><stop offset="0.4733" stop-color="#9eff3c"/><stop offset="0.5" stop-color="#a1ff3c"/><stop offset="0.6363" stop-color="#affc3c"/><stop offset="0.75" stop-color="#c3fd3c"/><stop offset="0.7772" stop-color="#c8fd3c"/><stop offset="0.9177" stop-color="#e1fc39"/><stop offset="1" stop-color="#f5fb38"/></linearGradient><linearGradient id="g42"><stop offset="0" stop-color="#96ff63"/><stop offset="0.0123" stop-color="#96ff5f"/><stop offset="0.182" stop-color="#98ff46"/><stop offset="0.25" stop-color="#98ff43"/><stop offset="0.351" stop-color="#99ff3e"/><stop offset="0.4634" stop-color="#9eff3c"/><stop offset="0.5" stop-color="#a2fe3c"/><stop offset="0.6315" stop-color="#affc3c"/><stop offset="0.75" stop-color="#c3fd3c"/><stop offset="0.7766" stop-color="#c8fd3c"/><stop offset="0.9213" stop-color="#e1fc39"/><stop offset="1" stop-color="#f3fb38"/></linearGradient><linearGradient id="g43"><stop offset="0" stop-color="#96ff5d"/><stop offset="0.1624" stop-color="#98ff46"/><stop offset="0.25" stop-color="#99ff42"/><stop offset="0.3369" stop-color="#99ff3e"/><stop offset="0.4528" stop-color="#9eff3c"/><stop offset="0.5" stop-color="#a3fe3c"/><stop offset="0.6262" stop-color="#affc3c"/><stop offset="0.75" stop-color="#c4fd3c"/><stop offset="0.7759" stop-color="#c8fd3c"/><stop offset="0.9252" stop-color="#e1fc39"/><stop offset="1" stop-color="#f2fb38"/></linearGradient><linearGradient id="g44"><stop offset="0" stop-color="#96ff5a"/><stop offset="0.1415" stop-color="#98ff46"/><stop offset="0.25" stop-color="#99ff41"/><stop offset="0.3218" stop-color="#99ff3e"/><stop offset="0.4416" stop-color="#9eff3c"/><stop offset="0.5" stop-color="#a4fe3c"/><stop offset="0.6207" stop-color="#affc3c"/><stop offset="0.75" stop-color="#c4fd3c"/><stop offset="0.7753" stop-color="#c8fd3c"/><stop offset="0.9294" stop-color="#e1fc39"/><stop offset="1" stop-color="#f1fb38"/></linearGradient><linearGradient id="g45"><stop offset="0" stop-color="#97ff56"/><stop offset="0.1192" stop-color="#98ff46"/><stop offset="0.25" stop-color="#99ff40"/><stop offset="0.3057" stop-color="#99ff3e"/><stop offset="0.4296" stop-color="#9eff3c"/><stop offset="0.5" stop-color="#a4fe3c"/><stop offset="0.6148" stop-color="#affc3c"/><stop offset="0.75" stop-color="#c4fd3c"/><stop offset="0.7746" stop-color="#c8fd3c"/><stop offset="0.9338" stop-color="#e1fc39"/><stop offset="1" stop-color="#effb38"/></linearGradient><linearGradient id="g46"><stop offset="0" stop-color="#97ff52"/><stop offset="0.0953" stop-color="#98ff46"/><stop offset="0.25" stop-color="#99ff40"/><stop offset="0.2884" stop-color="#99ff3e"/><stop offset="0.4168" stop-color="#9eff3c"/><stop offset="0.5" stop-color="#a5fe3c"/><stop offset="0.6084" stop-color="#affc3c"/><stop offset="0.75" stop-color="#c4fd3c"/><stop offset="0.7737" stop-color="#c8fd3c"/><stop offset="0.9385" stop-color="#e1fc39"/><stop offset="1" stop-color="#eefb38"/></linearGradient><linearGradient id="g47"><stop offset="0" stop-color="#97ff4f"/><stop offset="0.06965" stop-color="#98ff46"/><stop offset="0.25" stop-color="#99ff3f"/><stop offset="0.27" stop-color="#99ff3e"/><stop offset="0.403" stop-color="#9eff3c"/><stop offset="0.5" stop-color="#a6fe3c"/><stop offset="0.6016" stop-color="#affc3c"/><stop offset="0.75" stop-color="#c5fd3c"/><stop offset="0.773" stop-color="#c8fd3c"/><stop offset="0.9435" stop-color="#e1fc39"/><stop offset="1" stop-color="#ecfb38"/></linearGradient><linearGradient id="g48"><stop offset="0" stop-color="#98ff4b"/><stop offset="0.04205" stop-color="#98ff46"/><stop offset="0.25" stop-color="#99ff3e"/><stop offset="0.25" stop-color="#99ff3e"/><stop offset="0.3881" stop-color="#9eff3c"/><stop offset="0.5" stop-color="#a7fd3c"/><stop offset="0.5942" stop-color="#affc3c"/><stop offset="0.75" stop-color="#c5fd3c"/><stop offset="0.7721" stop-color="#c8fd3c"/><stop offset="0.949" stop-color="#e1fc39"/><stop offset="1" stop-color="#ebfb38"/></linearGradient><linearGradient id="g49"><stop offset="0" stop-color="#98ff47"/><stop offset="0.0122" stop-color="#98ff46"/><stop offset="0.2285" stop-color="#99ff3e"/><stop offset="0.25" stop-color="#9aff3e"/><stop offset="0.3721" stop-color="#9eff3c"/><stop offset="0.5" stop-color="#a8fd3c"/><stop offset="0.5864" stop-color="#affc3c"/><stop offset="0.75" stop-color="#c5fd3c"/><stop offset="0.7711" stop-color="#c8fd3c"/><stop offset="0.9548" stop-color="#e1fc39"/><stop offset="1" stop-color="#e9fb38"/></linearGradient><linearGradient id="g50"><stop offset="0" stop-color="#98ff45"/><stop offset="0.2053" stop-color="#99ff3e"/><stop offset="0.25" stop-color="#9aff3d"/><stop offset="0.3548" stop-color="#9eff3c"/><stop offset="0.5" stop-color="#a9fd3c"/><stop offset="0.5778" stop-color="#affc3c"/><stop offset="0.75" stop-color="#c5fd3c"/><stop offset="0.77" stop-color="#c8fd3c"/><stop offset="0.9611" stop-color="#e1fc39"/><stop offset="1" stop-color="#e8fc39"/></linearGradient><linearGradient id="g51"><stop offset="0" stop-color="#98ff44"/><stop offset="0.18" stop-color="#99ff3e"/><stop offset="0.25" stop-color="#9bff3d"/><stop offset="0.3359" stop-color="#9eff3c"/><stop offset="0.5" stop-color="#aafd3c"/><stop offset="0.5685" stop-color="#affc3c"/><stop offset="0.75" stop-color="#c6fd3c"/><stop offset="0.7689" stop-color="#c8fd3c"/><stop offset="0.968" stop-color="#e1fc39"/><stop offset="1" stop-color="#e6fc39"/></linearGradient><linearGradient id="g52"><stop offset="0" stop-color="#98ff43"/><stop offset="0.1525" stop-color="#99ff3e"/><stop offset="0.25" stop-color="#9cff3d"/><stop offset="0.3155" stop-color="#9eff3c"/><stop offset="0.5" stop-color="#abfd3c"/><stop offset="0.5585" stop-color="#affc3c"/><stop offset="0.75" stop-color="#c6fd3c"/><stop offset="0.7676" stop-color="#c8fd3c"/><stop offset="0.9754" stop-color="#e1fc39"/><stop offset="1" stop-color="#e5fc39"/></linearGradient><linearGradient id="g53"><stop offset="0" stop-color="#99ff42"/><stop offset="0.1224" stop-color="#99ff3e"/><stop offset="0.25" stop-color="#9dff3d"/><stop offset="0.2931" stop-color="#9eff3c"/><stop offset="0.5" stop-color="#acfd3c"/><stop offset="0.5474" stop-color="#affc3c"/><stop offset="0.75" stop-color="#c6fd3c"/><stop offset="0.7662" stop-color="#c8fd3c"/><stop offset="0.9835" stop-color="#e1fc39"/><stop offset="1" stop-color="#e4fc39"/></linearGradient><linearGradient id="g54"><stop offset="0" stop-color="#99ff41"/><stop offset="0.0892" stop-color="#99ff3e"/><stop offset="0.25" stop-color="#9dff3c"/><stop offset="0.2684" stop-color="#9eff3c"/><stop offset="0.5" stop-color="#adfc3c"/><stop offset="0.5353" stop-color="#affc3c"/><stop offset="0.75" stop-color="#c6fd3c"/><stop offset="0.7648" stop-color="#c8fd3c"/><stop offset="0.9924" stop-color="#e1fc39"/><stop offset="1" stop-color="#e2fc39"/></linearGradient><linearGradient id="g55"><stop offset="0" stop-color="#99ff3f"/><stop offset="0.05255" stop-color="#99ff3e"/><stop offset="0.2413" stop-color="#9eff3c"/><stop offset="0.25" stop-color="#9fff3c"/><stop offset="0.5" stop-color="#aefc3c"/><stop offset="0.522" stop-color="#affc3c"/><stop offset="0.75" stop-color="#c7fd3c"/><stop offset="0.7631" stop-color="#c8fd3c"/><stop offset="1" stop-color="#e1fc39"/></linearGradient><linearGradient id="g56"><stop offset="0" stop-color="#99ff3e"/><stop offset="0.0119" stop-color="#99ff3e"/><stop offset="0.2112" stop-color="#9eff3c"/><stop offset="0.25" stop-color="#a0ff3c"/><stop offset="0.5" stop-color="#affc3c"/><stop offset="0.5072" stop-color="#affc3c"/><stop offset="0.75" stop-color="#c7fd3c"/><stop offset="0.7612" stop-color="#c8fd3c"/><stop offset="1" stop-color="#e0fc39"/></linearGradient><linearGradient id="g57"><stop offset="0" stop-color="#9aff3e"/><stop offset="0.1775" stop-color="#9eff3c"/><stop offset="0.25" stop-color="#a2fe3c"/><stop offset="0.4908" stop-color="#affc3c"/><stop offset="0.5" stop-color="#b0fc3c"/><stop offset="0.75" stop-color="#c7fd3c"/><stop offset="0.7592" stop-color="#c8fd3c"/><stop offset="1" stop-color="#dffc39"/></linearGradient><linearGradient id="g58"><stop offset="0" stop-color="#9bff3d"/><stop offset="0.1397" stop-color="#9eff3c"/><stop offset="0.25" stop-color="#a4fe3c"/><stop offset="0.4723" stop-color="#affc3c"/><stop offset="0.5" stop-color="#b1fc3c"/><stop offset="0.75" stop-color="#c7fd3c"/><stop offset="0.757" stop-color="#c8fd3c"/><stop offset="1" stop-color="#defc39"/></linearGradient><linearGradient id="g59"><stop offset="0" stop-color="#9cff3d"/><stop offset="0.0969" stop-color="#9eff3c"/><stop offset="0.25" stop-color="#a5fe3c"/><stop offset="0.4515" stop-color="#affc3c"/><stop offset="0.5" stop-color="#b3fc3c"/><stop offset="0.75" stop-color="#c8fd3c"/><stop offset="0.7544" stop-color="#c8fd3c"/><stop offset="1" stop-color="#ddfc3a"/></linearGradient><linearGradient id="g60"><stop offset="0" stop-color="#9dff3c"/><stop offset="0.048" stop-color="#9eff3c"/><stop offset="0.25" stop-color="#a7fd3c"/><stop offset="0.4278" stop-color="#affc3c"/><stop offset="0.5" stop-color="#b5fc3c"/><stop offset="0.75" stop-color="#c8fd3c"/><stop offset="0.7514" stop-color="#c8fd3c"/><stop offset="1" stop-color="#dbfc3a"/></linearGradient><linearGradient id="g61"><stop offset="0" stop-color="#9eff3c"/><stop offset="0.25" stop-color="#a9fd3c"/><stop offset="0.4006" stop-color="#affc3c"/><stop offset="0.5" stop-color="#b6fc3c"/><stop offset="0.7481" stop-color="#c8fd3c"/><stop offset="0.75" stop-color="#c8fd3c"/><stop offset="1" stop-color="#dafc3a"/></linearGradient><linearGradient id="g62"><stop offset="0" stop-color="#a1ff3c"/><stop offset="0.25" stop-color="#aafd3c"/><stop offset="0.3689" stop-color="#affc3c"/><stop offset="0.5" stop-color="#b8fc3c"/><stop offset="0.7442" stop-color="#c8fd3c"/><stop offset="0.75" stop-color="#c8fd3c"/><stop offset="1" stop-color="#d9fc3a"/></linearGradient><linearGradient id="g63"><stop offset="0" stop-color="#a3fe3c"/><stop offset="0.25" stop-color="#acfd3c"/><stop offset="0.3317" stop-color="#affc3c"/><stop offset="0.5" stop-color="#b9fc3c"/><stop offset="0.7397" stop-color="#c8fd3c"/><stop offset="0.75" stop-color="#c9fd3c"/><stop offset="1" stop-color="#d8fc3a"/></linearGradient><linearGradient id="g64"><stop offset="0" stop-color="#a6fe3c"/><stop offset="0.25" stop-color="#aefc3c"/><stop offset="0.2873" stop-color="#affc3c"/><stop offset="0.5" stop-color="#bbfc3c"/><stop offset="0.7343" stop-color="#c8fd3c"/><stop offset="0.75" stop-color="#c9fd3c"/><stop offset="1" stop-color="#d7fc3a"/></linearGradient><linearGradient id="g65"><stop offset="0" stop-color="#a8fd3c"/><stop offset="0.2334" stop-color="#affc3c"/><stop offset="0.25" stop-color="#b0fc3c"/><stop offset="0.5" stop-color="#bcfd3c"/><stop offset="0.7278" stop-color="#c8fd3c"/><stop offset="0.75" stop-color="#c9fd3c"/><stop offset="1" stop-color="#d6fc3a"/></linearGradient><linearGradient id="g66"><stop offset="0" stop-color="#abfd3c"/><stop offset="0.1664" stop-color="#affc3c"/><stop offset="0.25" stop-color="#b3fc3c"/><stop offset="0.5" stop-color="#befd3c"/><stop offset="0.7198" stop-color="#c8fd3c"/><stop offset="0.75" stop-color="#c9fd3c"/><stop offset="1" stop-color="#d5fc3a"/></linearGradient><filter id="f67" x="0" y="-0.1" width="1" height="1.2"><feGaussianBlur stdDeviation="0 4.5"/></filter><clipPath id="c68"><rect x="157" y="839.6" width="636.2" height="635.1"/></clipPath><linearGradient id="g69"><stop offset="0" stop-color="#77dbfb"/><stop offset="0.04545" stop-color="#86f5fc"/><stop offset="0.1312" stop-color="#8dffee"/><stop offset="0.25" stop-color="#95ffaa"/><stop offset="0.2682" stop-color="#96ffa0"/><stop offset="0.4304" stop-color="#96ff5f"/><stop offset="0.5" stop-color="#97ff51"/><stop offset="0.5583" stop-color="#98ff46"/><stop offset="0.6858" stop-color="#99ff3e"/><stop offset="0.75" stop-color="#9dff3c"/><stop offset="0.7708" stop-color="#9eff3c"/><stop offset="0.8979" stop-color="#affc3c"/><stop offset="1" stop-color="#c6fd3c"/></linearGradient><linearGradient id="g70"><stop offset="0" stop-color="#7ae0fb"/><stop offset="0.0374" stop-color="#86f5fc"/><stop offset="0.1233" stop-color="#8dffee"/><stop offset="0.25" stop-color="#95ffa6"/><stop offset="0.2605" stop-color="#96ffa0"/><stop offset="0.423" stop-color="#96ff5f"/><stop offset="0.5" stop-color="#97ff50"/><stop offset="0.551" stop-color="#98ff46"/><stop offset="0.6787" stop-color="#99ff3e"/><stop offset="0.75" stop-color="#9dff3c"/><stop offset="0.7637" stop-color="#9eff3c"/><stop offset="0.8911" stop-color="#affc3c"/><stop offset="1" stop-color="#c8fd3c"/></linearGradient><linearGradient id="g71"><stop offset="0" stop-color="#7ce4fb"/><stop offset="0.02935" stop-color="#86f5fc"/><stop offset="0.1154" stop-color="#8dffee"/><stop offset="0.25" stop-color="#96ffa2"/><stop offset="0.2528" stop-color="#96ffa0"/><stop offset="0.4155" stop-color="#96ff5f"/><stop offset="0.5" stop-color="#97ff4f"/><stop offset="0.5436" stop-color="#98ff46"/><stop offset="0.6715" stop-color="#99ff3e"/><stop offset="0.75" stop-color="#9eff3c"/><stop offset="0.7567" stop-color="#9eff3c"/><stop offset="0.8842" stop-color="#affc3c"/><stop offset="0.9945" stop-color="#c8fd3c"/><stop offset="1" stop-color="#c9fd3c"/></linearGradient><linearGradient id="g72"><stop offset="0" stop-color="#7fe9fc"/><stop offset="0.02125" stop-color="#86f5fc"/><stop offset="0.1074" stop-color="#8dffee"/><stop offset="0.245" stop-color="#96ffa0"/><stop offset="0.25" stop-color="#96ff9e"/><stop offset="0.4079" stop-color="#96ff5f"/><stop offset="0.5" stop-color="#97ff4d"/><stop offset="0.5363" stop-color="#98ff46"/><stop offset="0.6644" stop-color="#99ff3e"/><stop offset="0.7497" stop-color="#9eff3c"/><stop offset="0.75" stop-color="#9eff3c"/><stop offset="0.8773" stop-color="#affc3c"/><stop offset="0.9878" stop-color="#c8fd3c"/><stop offset="1" stop-color="#cbfd3c"/></linearGradient><linearGradient id="g73"><stop offset="0" stop-color="#82eefc"/><stop offset="0.01315" stop-color="#86f5fc"/><stop offset="0.0994" stop-color="#8dffee"/><stop offset="0.2372" stop-color="#96ffa0"/><stop offset="0.25" stop-color="#96ff9b"/><stop offset="0.4004" stop-color="#96ff5f"/><stop offset="0.5" stop-color="#98ff4c"/><stop offset="0.529" stop-color="#98ff46"/><stop offset="0.6572" stop-color="#99ff3e"/><stop offset="0.7426" stop-color="#9eff3c"/><stop offset="0.75" stop-color="#9fff3c"/><stop offset="0.8704" stop-color="#affc3c"/><stop offset="0.981" stop-color="#c8fd3c"/><stop offset="1" stop-color="#ccfd3b"/></linearGradient><linearGradient id="g74"><stop offset="0" stop-color="#84f2fc"/><stop offset="0.005" stop-color="#86f5fc"/><stop offset="0.0914" stop-color="#8dffee"/><stop offset="0.2293" stop-color="#96ffa0"/><stop offset="0.25" stop-color="#96ff98"/><stop offset="0.3928" stop-color="#96ff5f"/><stop offset="0.5" stop-color="#98ff4a"/><stop offset="0.5215" stop-color="#98ff46"/><stop offset="0.65" stop-color="#99ff3e"/><stop offset="0.7355" stop-color="#9eff3c"/><stop offset="0.75" stop-color="#a0ff3c"/><stop offset="0.8636" stop-color="#affc3c"/><stop offset="0.9743" stop-color="#c8fd3c"/><stop offset="1" stop-color="#cefd3b"/></linearGradient><linearGradient id="g75"><stop offset="0" stop-color="#86f5fb"/><stop offset="0.08335" stop-color="#8dffee"/><stop offset="0.2216" stop-color="#96ffa0"/><stop offset="0.25" stop-color="#96ff95"/><stop offset="0.3852" stop-color="#96ff5f"/><stop offset="0.5" stop-color="#98ff49"/><stop offset="0.5141" stop-color="#98ff46"/><stop offset="0.6428" stop-color="#99ff3e"/><stop offset="0.7284" stop-color="#9eff3c"/><stop offset="0.75" stop-color="#a1fe3c"/><stop offset="0.8566" stop-color="#affc3c"/><stop offset="0.9675" stop-color="#c8fd3c"/><stop offset="1" stop-color="#cffd3b"/></linearGradient><linearGradient id="g76"><stop offset="0" stop-color="#87f6fa"/><stop offset="0.0753" stop-color="#8dffee"/><stop offset="0.2137" stop-color="#96ffa0"/><stop offset="0.25" stop-color="#96ff92"/><stop offset="0.3776" stop-color="#96ff5f"/><stop offset="0.5" stop-color="#98ff47"/><stop offset="0.5067" stop-color="#98ff46"/><stop offset="0.6356" stop-color="#99ff3e"/><stop offset="0.7213" stop-color="#9eff3c"/><stop offset="0.75" stop-color="#a2fe3c"/><stop offset="0.8497" stop-color="#affc3c"/><stop offset="0.9607" stop-color="#c8fd3c"/><stop offset="1" stop-color="#d1fd3b"/></linearGradient><linearGradient id="g77"><stop offset="0" stop-color="#88f7f9"/><stop offset="0.06725" stop-color="#8dffee"/><stop offset="0.2058" stop-color="#96ffa0"/><stop offset="0.25" stop-color="#96ff8f"/><stop offset="0.37" stop-color="#96ff5f"/><stop offset="0.4993" stop-color="#98ff46"/><stop offset="0.5" stop-color="#98ff46"/><stop offset="0.6282" stop-color="#99ff3e"/><stop offset="0.7142" stop-color="#9eff3c"/><stop offset="0.75" stop-color="#a3fe3c"/><stop offset="0.8427" stop-color="#affc3c"/><stop offset="0.9539" stop-color="#c8fd3c"/><stop offset="1" stop-color="#d2fd3b"/></linearGradient><linearGradient id="g78"><stop offset="0" stop-color="#88f8f8"/><stop offset="0.0591" stop-color="#8dffee"/><stop offset="0.1979" stop-color="#96ffa0"/><stop offset="0.25" stop-color="#96ff8b"/><stop offset="0.3623" stop-color="#96ff5f"/><stop offset="0.4918" stop-color="#98ff46"/><stop offset="0.5" stop-color="#98ff45"/><stop offset="0.621" stop-color="#99ff3e"/><stop offset="0.7069" stop-color="#9eff3c"/><stop offset="0.75" stop-color="#a4fe3c"/><stop offset="0.8357" stop-color="#affc3c"/><stop offset="0.9471" stop-color="#c8fd3c"/><stop offset="1" stop-color="#d4fd3b"/></linearGradient><linearGradient id="g79"><stop offset="0" stop-color="#89f9f6"/><stop offset="0.051" stop-color="#8dffee"/><stop offset="0.19" stop-color="#96ffa0"/><stop offset="0.25" stop-color="#96ff88"/><stop offset="0.3546" stop-color="#96ff5f"/><stop offset="0.4843" stop-color="#98ff46"/><stop offset="0.5" stop-color="#98ff45"/><stop offset="0.6137" stop-color="#99ff3e"/><stop offset="0.6998" stop-color="#9eff3c"/><stop offset="0.75" stop-color="#a5fe3c"/><stop offset="0.8287" stop-color="#affc3c"/><stop offset="0.9403" stop-color="#c8fd3c"/><stop offset="1" stop-color="#d5fc3a"/></linearGradient><linearGradient id="g80"><stop offset="0" stop-color="#8afaf5"/><stop offset="0.04285" stop-color="#8dffee"/><stop offset="0.182" stop-color="#96ffa0"/><stop offset="0.25" stop-color="#96ff85"/><stop offset="0.3469" stop-color="#96ff5f"/><stop offset="0.4768" stop-color="#98ff46"/><stop offset="0.5" stop-color="#98ff45"/><stop offset="0.6063" stop-color="#99ff3e"/><stop offset="0.6925" stop-color="#9eff3c"/><stop offset="0.75" stop-color="#a6fe3c"/><stop offset="0.8217" stop-color="#affc3c"/><stop offset="0.9334" stop-color="#c8fd3c"/><stop offset="1" stop-color="#d7fc3a"/></linearGradient><linearGradient id="g81"><stop offset="0" stop-color="#8afbf4"/><stop offset="0.03465" stop-color="#8dffee"/><stop offset="0.174" stop-color="#96ffa0"/><stop offset="0.25" stop-color="#96ff82"/><stop offset="0.3392" stop-color="#96ff5f"/><stop offset="0.4692" stop-color="#98ff46"/><stop offset="0.5" stop-color="#98ff44"/><stop offset="0.599" stop-color="#99ff3e"/><stop offset="0.6854" stop-color="#9eff3c"/><stop offset="0.75" stop-color="#a6fe3c"/><stop offset="0.8146" stop-color="#affc3c"/><stop offset="0.9265" stop-color="#c8fd3c"/><stop offset="1" stop-color="#d8fc3a"/></linearGradient><linearGradient id="g82"><stop offset="0" stop-color="#8bfcf2"/><stop offset="0.02645" stop-color="#8dffee"/><stop offset="0.166" stop-color="#96ffa0"/><stop offset="0.25" stop-color="#96ff7f"/><stop offset="0.3314" stop-color="#96ff5f"/><stop offset="0.4617" stop-color="#98ff46"/><stop offset="0.5" stop-color="#98ff44"/><stop offset="0.5916" stop-color="#99ff3e"/><stop offset="0.6781" stop-color="#9eff3c"/><stop offset="0.75" stop-color="#a7fd3c"/><stop offset="0.8075" stop-color="#affc3c"/><stop offset="0.9196" stop-color="#c8fd3c"/><stop offset="1" stop-color="#dafc3a"/></linearGradient><linearGradient id="g83"><stop offset="0" stop-color="#8cfdf1"/><stop offset="0.01825" stop-color="#8dffee"/><stop offset="0.1581" stop-color="#96ffa0"/><stop offset="0.25" stop-color="#96ff7c"/><stop offset="0.3236" stop-color="#96ff5f"/><stop offset="0.4541" stop-color="#98ff46"/><stop offset="0.5" stop-color="#98ff43"/><stop offset="0.5842" stop-color="#99ff3e"/><stop offset="0.6708" stop-color="#9eff3c"/><stop offset="0.75" stop-color="#a8fd3c"/><stop offset="0.8005" stop-color="#affc3c"/><stop offset="0.9126" stop-color="#c8fd3c"/><stop offset="1" stop-color="#dbfc3a"/></linearGradient><linearGradient id="g84"><stop offset="0" stop-color="#8cfef0"/><stop offset="0.01" stop-color="#8dffee"/><stop offset="0.15" stop-color="#96ffa0"/><stop offset="0.25" stop-color="#96ff79"/><stop offset="0.3158" stop-color="#96ff5f"/><stop offset="0.4465" stop-color="#98ff46"/><stop offset="0.5" stop-color="#98ff43"/><stop offset="0.5768" stop-color="#99ff3e"/><stop offset="0.6635" stop-color="#9eff3c"/><stop offset="0.75" stop-color="#a9fd3c"/><stop offset="0.7934" stop-color="#affc3c"/><stop offset="0.9057" stop-color="#c8fd3c"/><stop offset="1" stop-color="#ddfc39"/></linearGradient><linearGradient id="g85"><stop offset="0" stop-color="#8dffee"/><stop offset="0.0017" stop-color="#8dffee"/><stop offset="0.142" stop-color="#96ffa0"/><stop offset="0.25" stop-color="#96ff76"/><stop offset="0.308" stop-color="#96ff5f"/><stop offset="0.4388" stop-color="#98ff46"/><stop offset="0.5" stop-color="#98ff42"/><stop offset="0.5694" stop-color="#99ff3e"/><stop offset="0.6562" stop-color="#9eff3c"/><stop offset="0.75" stop-color="#aafd3c"/><stop offset="0.7863" stop-color="#affc3c"/><stop offset="0.8987" stop-color="#c8fd3c"/><stop offset="1" stop-color="#dffc39"/></linearGradient><linearGradient id="g86"><stop offset="0" stop-color="#8dffea"/><stop offset="0.1339" stop-color="#96ffa0"/><stop offset="0.25" stop-color="#96ff73"/><stop offset="0.3002" stop-color="#96ff5f"/><stop offset="0.4312" stop-color="#98ff46"/><stop offset="0.5" stop-color="#99ff42"/><stop offset="0.5618" stop-color="#99ff3e"/><stop offset="0.6489" stop-color="#9eff3c"/><stop offset="0.75" stop-color="#abfd3c"/><stop offset="0.7791" stop-color="#affc3c"/><stop offset="0.8918" stop-color="#c8fd3c"/><stop offset="1" stop-color="#e0fc39"/></linearGradient><linearGradient id="g87"><stop offset="0" stop-color="#8effe6"/><stop offset="0.1257" stop-color="#96ffa0"/><stop offset="0.25" stop-color="#96ff70"/><stop offset="0.2923" stop-color="#96ff5f"/><stop offset="0.4235" stop-color="#98ff46"/><stop offset="0.5" stop-color="#99ff41"/><stop offset="0.5544" stop-color="#99ff3e"/><stop offset="0.6415" stop-color="#9eff3c"/><stop offset="0.75" stop-color="#acfd3c"/><stop offset="0.7719" stop-color="#affc3c"/><stop offset="0.8847" stop-color="#c8fd3c"/><stop offset="0.9973" stop-color="#e1fc39"/><stop offset="1" stop-color="#e2fc39"/></linearGradient><linearGradient id="g88"><stop offset="0" stop-color="#8effe1"/><stop offset="0.1176" stop-color="#96ffa0"/><stop offset="0.25" stop-color="#96ff6c"/><stop offset="0.2844" stop-color="#96ff5f"/><stop offset="0.4158" stop-color="#98ff46"/><stop offset="0.5" stop-color="#99ff41"/><stop offset="0.5469" stop-color="#99ff3e"/><stop offset="0.6341" stop-color="#9eff3c"/><stop offset="0.75" stop-color="#adfc3c"/><stop offset="0.7648" stop-color="#affc3c"/><stop offset="0.8777" stop-color="#c8fd3c"/><stop offset="0.9905" stop-color="#e1fc39"/><stop offset="1" stop-color="#e4fc39"/></linearGradient><linearGradient id="g89"><stop offset="0" stop-color="#8fffdd"/><stop offset="0.1094" stop-color="#96ffa0"/><stop offset="0.25" stop-color="#96ff69"/><stop offset="0.2765" stop-color="#96ff5f"/><stop offset="0.4081" stop-color="#98ff46"/><stop offset="0.5" stop-color="#99ff40"/><stop offset="0.5393" stop-color="#99ff3e"/><stop offset="0.6267" stop-color="#9eff3c"/><stop offset="0.75" stop-color="#aefc3c"/><stop offset="0.7575" stop-color="#affc3c"/><stop offset="0.8706" stop-color="#c8fd3c"/><stop offset="0.9836" stop-color="#e1fc39"/><stop offset="1" stop-color="#e6fc39"/></linearGradient><linearGradient id="g90"><stop offset="0" stop-color="#90ffd8"/><stop offset="0.1013" stop-color="#96ffa0"/><stop offset="0.25" stop-color="#96ff66"/><stop offset="0.2686" stop-color="#96ff5f"/><stop offset="0.4003" stop-color="#98ff46"/><stop offset="0.5" stop-color="#99ff40"/><stop offset="0.5318" stop-color="#99ff3e"/><stop offset="0.6193" stop-color="#9eff3c"/><stop offset="0.75" stop-color="#affc3c"/><stop offset="0.7503" stop-color="#affc3c"/><stop offset="0.8636" stop-color="#c8fd3c"/><stop offset="0.9767" stop-color="#e1fc39"/><stop offset="1" stop-color="#e8fc39"/></linearGradient><linearGradient id="g91"><stop offset="0" stop-color="#90ffd3"/><stop offset="0.093" stop-color="#96ffa0"/><stop offset="0.25" stop-color="#96ff63"/><stop offset="0.2606" stop-color="#96ff5f"/><stop offset="0.3926" stop-color="#98ff46"/><stop offset="0.5" stop-color="#99ff3f"/><stop offset="0.5242" stop-color="#99ff3e"/><stop offset="0.6119" stop-color="#9eff3c"/><stop offset="0.743" stop-color="#affc3c"/><stop offset="0.75" stop-color="#b1fc3c"/><stop offset="0.8565" stop-color="#c8fd3c"/><stop offset="0.9698" stop-color="#e1fc39"/><stop offset="1" stop-color="#eafb38"/></linearGradient><linearGradient id="g92"><stop offset="0" stop-color="#91ffcf"/><stop offset="0.08475" stop-color="#96ffa0"/><stop offset="0.25" stop-color="#96ff60"/><stop offset="0.2526" stop-color="#96ff5f"/><stop offset="0.3847" stop-color="#98ff46"/><stop offset="0.5" stop-color="#99ff3f"/><stop offset="0.5166" stop-color="#99ff3e"/><stop offset="0.6043" stop-color="#9eff3c"/><stop offset="0.7358" stop-color="#affc3c"/><stop offset="0.75" stop-color="#b2fc3c"/><stop offset="0.8494" stop-color="#c8fd3c"/><stop offset="0.9628" stop-color="#e1fc39"/><stop offset="1" stop-color="#ecfb38"/></linearGradient><linearGradient id="g93"><stop offset="0" stop-color="#91ffca"/><stop offset="0.0765" stop-color="#96ffa0"/><stop offset="0.2445" stop-color="#96ff5f"/><stop offset="0.25" stop-color="#96ff5e"/><stop offset="0.3769" stop-color="#98ff46"/><stop offset="0.5" stop-color="#99ff3f"/><stop offset="0.509" stop-color="#99ff3e"/><stop offset="0.5968" stop-color="#9eff3c"/><stop offset="0.7285" stop-color="#affc3c"/><stop offset="0.75" stop-color="#b4fc3c"/><stop offset="0.8422" stop-color="#c8fd3c"/><stop offset="0.9558" stop-color="#e1fc39"/><stop offset="1" stop-color="#eefb38"/></linearGradient><linearGradient id="g94"><stop offset="0" stop-color="#92ffc5"/><stop offset="0.0682" stop-color="#96ffa0"/><stop offset="0.2365" stop-color="#96ff5f"/><stop offset="0.25" stop-color="#96ff5c"/><stop offset="0.3691" stop-color="#98ff46"/><stop offset="0.5" stop-color="#99ff3e"/><stop offset="0.5013" stop-color="#99ff3e"/><stop offset="0.5894" stop-color="#9eff3c"/><stop offset="0.7211" stop-color="#affc3c"/><stop offset="0.75" stop-color="#b5fc3c"/><stop offset="0.8351" stop-color="#c8fd3c"/><stop offset="0.9488" stop-color="#e1fc39"/><stop offset="1" stop-color="#f0fb38"/></linearGradient><linearGradient id="g95"><stop offset="0" stop-color="#92ffc1"/><stop offset="0.0599" stop-color="#96ffa0"/><stop offset="0.2284" stop-color="#96ff5f"/><stop offset="0.25" stop-color="#96ff5b"/><stop offset="0.3612" stop-color="#98ff46"/><stop offset="0.4936" stop-color="#99ff3e"/><stop offset="0.5" stop-color="#99ff3e"/><stop offset="0.5818" stop-color="#9eff3c"/><stop offset="0.7137" stop-color="#affc3c"/><stop offset="0.75" stop-color="#b7fc3c"/><stop offset="0.8279" stop-color="#c8fd3c"/><stop offset="0.9418" stop-color="#e1fc39"/><stop offset="1" stop-color="#f2fb38"/></linearGradient><linearGradient id="g96"><stop offset="0" stop-color="#93ffbc"/><stop offset="0.05155" stop-color="#96ffa0"/><stop offset="0.2204" stop-color="#96ff5f"/><stop offset="0.25" stop-color="#96ff59"/><stop offset="0.3533" stop-color="#98ff46"/><stop offset="0.486" stop-color="#99ff3e"/><stop offset="0.5" stop-color="#9aff3e"/><stop offset="0.5743" stop-color="#9eff3c"/><stop offset="0.7064" stop-color="#affc3c"/><stop offset="0.75" stop-color="#b9fc3c"/><stop offset="0.8207" stop-color="#c8fd3c"/><stop offset="0.9348" stop-color="#e1fc39"/><stop offset="1" stop-color="#f4fb38"/></linearGradient><linearGradient id="g97"><stop offset="0" stop-color="#93ffb8"/><stop offset="0.0432" stop-color="#96ffa0"/><stop offset="0.2122" stop-color="#96ff5f"/><stop offset="0.25" stop-color="#97ff58"/><stop offset="0.3454" stop-color="#98ff46"/><stop offset="0.4783" stop-color="#99ff3e"/><stop offset="0.5" stop-color="#9aff3e"/><stop offset="0.5666" stop-color="#9eff3c"/><stop offset="0.699" stop-color="#affc3c"/><stop offset="0.75" stop-color="#bafc3c"/><stop offset="0.8135" stop-color="#c8fd3c"/><stop offset="0.9278" stop-color="#e1fc39"/><stop offset="1" stop-color="#f6fb38"/></linearGradient><linearGradient id="g98"><stop offset="0" stop-color="#94ffb3"/><stop offset="0.0348" stop-color="#96ffa0"/><stop offset="0.2041" stop-color="#96ff5f"/><stop offset="0.25" stop-color="#97ff56"/><stop offset="0.3375" stop-color="#98ff46"/><stop offset="0.4705" stop-color="#99ff3e"/><stop offset="0.5" stop-color="#9bff3d"/><stop offset="0.5591" stop-color="#9eff3c"/><stop offset="0.6916" stop-color="#affc3c"/><stop offset="0.75" stop-color="#bcfd3c"/><stop offset="0.8063" stop-color="#c8fd3c"/><stop offset="0.9206" stop-color="#e1fc39"/><stop offset="1" stop-color="#f9fa37"/></linearGradient><linearGradient id="g99"><stop offset="0" stop-color="#94ffae"/><stop offset="0.0264" stop-color="#96ffa0"/><stop offset="0.196" stop-color="#96ff5f"/><stop offset="0.25" stop-color="#97ff55"/><stop offset="0.3295" stop-color="#98ff46"/><stop offset="0.4627" stop-color="#99ff3e"/><stop offset="0.5" stop-color="#9bff3d"/><stop offset="0.5514" stop-color="#9eff3c"/><stop offset="0.6842" stop-color="#affc3c"/><stop offset="0.75" stop-color="#bdfd3c"/><stop offset="0.799" stop-color="#c8fd3c"/><stop offset="0.9135" stop-color="#e1fc39"/><stop offset="1" stop-color="#fbfa37"/></linearGradient><linearGradient id="g100"><stop offset="0" stop-color="#95ffaa"/><stop offset="0.01795" stop-color="#96ffa0"/><stop offset="0.1878" stop-color="#96ff5f"/><stop offset="0.25" stop-color="#97ff53"/><stop offset="0.3216" stop-color="#98ff46"/><stop offset="0.455" stop-color="#99ff3e"/><stop offset="0.5" stop-color="#9cff3d"/><stop offset="0.5437" stop-color="#9eff3c"/><stop offset="0.6767" stop-color="#affc3c"/><stop offset="0.75" stop-color="#bffd3c"/><stop offset="0.7917" stop-color="#c8fd3c"/><stop offset="0.9064" stop-color="#e1fc39"/><stop offset="1" stop-color="#fdfa37"/></linearGradient><linearGradient id="g101"><stop offset="0" stop-color="#95ffa5"/><stop offset="0.0095" stop-color="#96ffa0"/><stop offset="0.1796" stop-color="#96ff5f"/><stop offset="0.25" stop-color="#97ff52"/><stop offset="0.3135" stop-color="#98ff46"/><stop offset="0.4471" stop-color="#99ff3e"/><stop offset="0.5" stop-color="#9cff3d"/><stop offset="0.5361" stop-color="#9eff3c"/><stop offset="0.6693" stop-color="#affc3c"/><stop offset="0.75" stop-color="#c1fd3c"/><stop offset="0.7844" stop-color="#c8fd3c"/><stop offset="0.8993" stop-color="#e1fc39"/><stop offset="1" stop-color="#fffa37"/></linearGradient><linearGradient id="g102"><stop offset="0" stop-color="#96ffa1"/><stop offset="0.001" stop-color="#96ffa0"/><stop offset="0.1714" stop-color="#96ff5f"/><stop offset="0.25" stop-color="#97ff50"/><stop offset="0.3055" stop-color="#98ff46"/><stop offset="0.4394" stop-color="#99ff3e"/><stop offset="0.5" stop-color="#9cff3d"/><stop offset="0.5284" stop-color="#9eff3c"/><stop offset="0.6618" stop-color="#affc3c"/><stop offset="0.75" stop-color="#c2fd3c"/><stop offset="0.7771" stop-color="#c8fd3c"/><stop offset="0.8921" stop-color="#e1fc39"/><stop offset="0.9938" stop-color="#fffa37"/><stop offset="1" stop-color="#fff837"/></linearGradient><linearGradient id="g103"><stop offset="0" stop-color="#96ff9d"/><stop offset="0.1631" stop-color="#96ff5f"/><stop offset="0.25" stop-color="#97ff4f"/><stop offset="0.2974" stop-color="#98ff46"/><stop offset="0.4315" stop-color="#99ff3e"/><stop offset="0.5" stop-color="#9dff3c"/><stop offset="0.5207" stop-color="#9eff3c"/><stop offset="0.6542" stop-color="#affc3c"/><stop offset="0.75" stop-color="#c4fd3c"/><stop offset="0.7697" stop-color="#c8fd3c"/><stop offset="0.885" stop-color="#e1fc39"/><stop offset="0.9868" stop-color="#fffa37"/><stop offset="1" stop-color="#fff736"/></linearGradient><linearGradient id="g104"><stop offset="0" stop-color="#96ff9a"/><stop offset="0.1548" stop-color="#96ff5f"/><stop offset="0.25" stop-color="#97ff4d"/><stop offset="0.2893" stop-color="#98ff46"/><stop offset="0.4236" stop-color="#99ff3e"/><stop offset="0.5" stop-color="#9dff3c"/><stop offset="0.5129" stop-color="#9eff3c"/><stop offset="0.6466" stop-color="#affc3c"/><stop offset="0.75" stop-color="#c5fd3c"/><stop offset="0.7623" stop-color="#c8fd3c"/><stop offset="0.8778" stop-color="#e1fc39"/><stop offset="0.9797" stop-color="#fffa37"/><stop offset="1" stop-color="#fff536"/></linearGradient><linearGradient id="g105"><stop offset="0" stop-color="#96ff97"/><stop offset="0.1465" stop-color="#96ff5f"/><stop offset="0.25" stop-color="#98ff4c"/><stop offset="0.2812" stop-color="#98ff46"/><stop offset="0.4157" stop-color="#99ff3e"/><stop offset="0.5" stop-color="#9eff3c"/><stop offset="0.5051" stop-color="#9eff3c"/><stop offset="0.6391" stop-color="#affc3c"/><stop offset="0.75" stop-color="#c7fd3c"/><stop offset="0.7549" stop-color="#c8fd3c"/><stop offset="0.8705" stop-color="#e1fc39"/><stop offset="0.9726" stop-color="#fffa37"/><stop offset="1" stop-color="#fff336"/></linearGradient><linearGradient id="g106"><stop offset="0" stop-color="#96ff93"/><stop offset="0.1381" stop-color="#96ff5f"/><stop offset="0.25" stop-color="#98ff4a"/><stop offset="0.2731" stop-color="#98ff46"/><stop offset="0.4078" stop-color="#99ff3e"/><stop offset="0.4974" stop-color="#9eff3c"/><stop offset="0.5" stop-color="#9eff3c"/><stop offset="0.6315" stop-color="#affc3c"/><stop offset="0.7475" stop-color="#c8fd3c"/><stop offset="0.75" stop-color="#c9fd3c"/><stop offset="0.8633" stop-color="#e1fc39"/><stop offset="0.9655" stop-color="#fffa37"/><stop offset="1" stop-color="#fff135"/></linearGradient><linearGradient id="g107"><stop offset="0" stop-color="#96ff90"/><stop offset="0.1298" stop-color="#96ff5f"/><stop offset="0.25" stop-color="#98ff49"/><stop offset="0.265" stop-color="#98ff46"/><stop offset="0.3998" stop-color="#99ff3e"/><stop offset="0.4895" stop-color="#9eff3c"/><stop offset="0.5" stop-color="#9fff3c"/><stop offset="0.6239" stop-color="#affc3c"/><stop offset="0.74" stop-color="#c8fd3c"/><stop offset="0.75" stop-color="#cafd3c"/><stop offset="0.856" stop-color="#e1fc39"/><stop offset="0.9584" stop-color="#fffa37"/><stop offset="0.9984" stop-color="#fff035"/><stop offset="1" stop-color="#ffef35"/></linearGradient><linearGradient id="g108"><stop offset="0" stop-color="#96ff8d"/><stop offset="0.1214" stop-color="#96ff5f"/><stop offset="0.25" stop-color="#98ff47"/><stop offset="0.2568" stop-color="#98ff46"/><stop offset="0.3918" stop-color="#99ff3e"/><stop offset="0.4817" stop-color="#9eff3c"/><stop offset="0.5" stop-color="#a0ff3c"/><stop offset="0.6162" stop-color="#affc3c"/><stop offset="0.7326" stop-color="#c8fd3c"/><stop offset="0.75" stop-color="#ccfd3c"/><stop offset="0.8487" stop-color="#e1fc39"/><stop offset="0.9512" stop-color="#fffa37"/><stop offset="0.9913" stop-color="#fff035"/><stop offset="1" stop-color="#fdea34"/></linearGradient><linearGradient id="g109"><stop offset="0" stop-color="#96ff8a"/><stop offset="0.113" stop-color="#96ff5f"/><stop offset="0.2485" stop-color="#98ff46"/><stop offset="0.25" stop-color="#98ff46"/><stop offset="0.3838" stop-color="#99ff3e"/><stop offset="0.4738" stop-color="#9eff3c"/><stop offset="0.5" stop-color="#a1fe3c"/><stop offset="0.6086" stop-color="#affc3c"/><stop offset="0.7251" stop-color="#c8fd3c"/><stop offset="0.75" stop-color="#cdfd3b"/><stop offset="0.8414" stop-color="#e1fc39"/><stop offset="0.9441" stop-color="#fffa37"/><stop offset="0.9842" stop-color="#fff035"/><stop offset="1" stop-color="#fbe533"/></linearGradient><linearGradient id="g110"><stop offset="0" stop-color="#96ff86"/><stop offset="0.1045" stop-color="#96ff5f"/><stop offset="0.2403" stop-color="#98ff46"/><stop offset="0.25" stop-color="#98ff45"/><stop offset="0.3758" stop-color="#99ff3e"/><stop offset="0.4659" stop-color="#9eff3c"/><stop offset="0.5" stop-color="#a2fe3c"/><stop offset="0.6009" stop-color="#affc3c"/><stop offset="0.7176" stop-color="#c8fd3c"/><stop offset="0.75" stop-color="#cffd3b"/><stop offset="0.834" stop-color="#e1fc39"/><stop offset="0.9369" stop-color="#fffa37"/><stop offset="0.9771" stop-color="#fff035"/><stop offset="1" stop-color="#fae132"/></linearGradient><linearGradient id="g111"><stop offset="0" stop-color="#96ff83"/><stop offset="0.0961" stop-color="#96ff5f"/><stop offset="0.232" stop-color="#98ff46"/><stop offset="0.25" stop-color="#98ff45"/><stop offset="0.3678" stop-color="#99ff3e"/><stop offset="0.458" stop-color="#9eff3c"/><stop offset="0.5" stop-color="#a3fe3c"/><stop offset="0.5931" stop-color="#affc3c"/><stop offset="0.71" stop-color="#c8fd3c"/><stop offset="0.75" stop-color="#d1fd3b"/><stop offset="0.8267" stop-color="#e1fc39"/><stop offset="0.9297" stop-color="#fffa37"/><stop offset="0.9699" stop-color="#fff035"/><stop offset="1" stop-color="#f8dc32"/></linearGradient><linearGradient id="g112"><stop offset="0" stop-color="#96ff80"/><stop offset="0.0876" stop-color="#96ff5f"/><stop offset="0.2238" stop-color="#98ff46"/><stop offset="0.25" stop-color="#98ff44"/><stop offset="0.3597" stop-color="#99ff3e"/><stop offset="0.4501" stop-color="#9eff3c"/><stop offset="0.5" stop-color="#a4fe3c"/><stop offset="0.5855" stop-color="#affc3c"/><stop offset="0.7025" stop-color="#c8fd3c"/><stop offset="0.75" stop-color="#d2fd3b"/><stop offset="0.8193" stop-color="#e1fc39"/><stop offset="0.9224" stop-color="#fffa37"/><stop offset="0.9628" stop-color="#fff035"/><stop offset="1" stop-color="#f6d731"/></linearGradient><linearGradient id="g113"><stop offset="0" stop-color="#96ff7d"/><stop offset="0.07905" stop-color="#96ff5f"/><stop offset="0.2154" stop-color="#98ff46"/><stop offset="0.25" stop-color="#98ff44"/><stop offset="0.3516" stop-color="#99ff3e"/><stop offset="0.4421" stop-color="#9eff3c"/><stop offset="0.5" stop-color="#a5fe3c"/><stop offset="0.5776" stop-color="#affc3c"/><stop offset="0.6949" stop-color="#c8fd3c"/><stop offset="0.75" stop-color="#d4fd3b"/><stop offset="0.8119" stop-color="#e1fc39"/><stop offset="0.9152" stop-color="#fffa37"/><stop offset="0.9556" stop-color="#fff035"/><stop offset="1" stop-color="#f4d230"/></linearGradient><linearGradient id="g114"><stop offset="0" stop-color="#96ff79"/><stop offset="0.0705" stop-color="#96ff5f"/><stop offset="0.2072" stop-color="#98ff46"/><stop offset="0.25" stop-color="#98ff43"/><stop offset="0.3435" stop-color="#99ff3e"/><stop offset="0.4341" stop-color="#9eff3c"/><stop offset="0.5" stop-color="#a6fe3c"/><stop offset="0.5699" stop-color="#affc3c"/><stop offset="0.6873" stop-color="#c8fd3c"/><stop offset="0.75" stop-color="#d5fc3a"/><stop offset="0.8044" stop-color="#e1fc39"/><stop offset="0.908" stop-color="#fffa37"/><stop offset="0.9484" stop-color="#fff035"/><stop offset="1" stop-color="#f3cd2f"/></linearGradient><linearGradient id="g115"><stop offset="0" stop-color="#96ff76"/><stop offset="0.06195" stop-color="#96ff5f"/><stop offset="0.1987" stop-color="#98ff46"/><stop offset="0.25" stop-color="#98ff43"/><stop offset="0.3353" stop-color="#99ff3e"/><stop offset="0.4261" stop-color="#9eff3c"/><stop offset="0.5" stop-color="#a7fd3c"/><stop offset="0.5621" stop-color="#affc3c"/><stop offset="0.6796" stop-color="#c8fd3c"/><stop offset="0.75" stop-color="#d7fc3a"/><stop offset="0.797" stop-color="#e1fc39"/><stop offset="0.9006" stop-color="#fffa37"/><stop offset="0.9411" stop-color="#fff035"/><stop offset="1" stop-color="#f1c92e"/></linearGradient><linearGradient id="g116"><stop offset="0" stop-color="#96ff73"/><stop offset="0.05335" stop-color="#96ff5f"/><stop offset="0.1904" stop-color="#98ff46"/><stop offset="0.25" stop-color="#98ff43"/><stop offset="0.3271" stop-color="#99ff3e"/><stop offset="0.4181" stop-color="#9eff3c"/><stop offset="0.5" stop-color="#a8fd3c"/><stop offset="0.5543" stop-color="#affc3c"/><stop offset="0.672" stop-color="#c8fd3c"/><stop offset="0.75" stop-color="#d9fc3a"/><stop offset="0.7895" stop-color="#e1fc39"/><stop offset="0.8933" stop-color="#fffa37"/><stop offset="0.9339" stop-color="#fff035"/><stop offset="1" stop-color="#efc42e"/></linearGradient><linearGradient id="g117"><stop offset="0" stop-color="#96ff70"/><stop offset="0.0447" stop-color="#96ff5f"/><stop offset="0.182" stop-color="#98ff46"/><stop offset="0.25" stop-color="#98ff42"/><stop offset="0.3189" stop-color="#99ff3e"/><stop offset="0.41" stop-color="#9eff3c"/><stop offset="0.5" stop-color="#a9fd3c"/><stop offset="0.5464" stop-color="#affc3c"/><stop offset="0.6643" stop-color="#c8fd3c"/><stop offset="0.75" stop-color="#dafc3a"/><stop offset="0.7821" stop-color="#e1fc39"/><stop offset="0.886" stop-color="#fffa37"/><stop offset="0.9266" stop-color="#fff035"/><stop offset="0.9988" stop-color="#eec02d"/><stop offset="1" stop-color="#eebf2d"/></linearGradient><linearGradient id="g118"><stop offset="0" stop-color="#96ff6c"/><stop offset="0.03605" stop-color="#96ff5f"/><stop offset="0.1735" stop-color="#98ff46"/><stop offset="0.25" stop-color="#99ff42"/><stop offset="0.3106" stop-color="#99ff3e"/><stop offset="0.4019" stop-color="#9eff3c"/><stop offset="0.5" stop-color="#aafd3c"/><stop offset="0.5385" stop-color="#affc3c"/><stop offset="0.6566" stop-color="#c8fd3c"/><stop offset="0.75" stop-color="#dcfc3a"/><stop offset="0.7746" stop-color="#e1fc39"/><stop offset="0.8786" stop-color="#fffa37"/><stop offset="0.9193" stop-color="#fff035"/><stop offset="0.9915" stop-color="#eec02d"/><stop offset="1" stop-color="#edbc2c"/></linearGradient><linearGradient id="g119"><stop offset="0" stop-color="#96ff69"/><stop offset="0.0274" stop-color="#96ff5f"/><stop offset="0.165" stop-color="#98ff46"/><stop offset="0.25" stop-color="#99ff41"/><stop offset="0.3024" stop-color="#99ff3e"/><stop offset="0.3938" stop-color="#9eff3c"/><stop offset="0.5" stop-color="#abfd3c"/><stop offset="0.5306" stop-color="#affc3c"/><stop offset="0.6489" stop-color="#c8fd3c"/><stop offset="0.75" stop-color="#ddfc39"/><stop offset="0.767" stop-color="#e1fc39"/><stop offset="0.8713" stop-color="#fffa37"/><stop offset="0.912" stop-color="#fff035"/><stop offset="0.9844" stop-color="#eec02d"/><stop offset="1" stop-color="#ecb92c"/></linearGradient><linearGradient id="g120"><stop offset="0" stop-color="#96ff66"/><stop offset="0.0187" stop-color="#96ff5f"/><stop offset="0.1566" stop-color="#98ff46"/><stop offset="0.25" stop-color="#99ff41"/><stop offset="0.2942" stop-color="#99ff3e"/><stop offset="0.3856" stop-color="#9eff3c"/><stop offset="0.5" stop-color="#acfc3c"/><stop offset="0.5227" stop-color="#affc3c"/><stop offset="0.6411" stop-color="#c8fd3c"/><stop offset="0.75" stop-color="#dffc39"/><stop offset="0.7594" stop-color="#e1fc39"/><stop offset="0.8638" stop-color="#fffa37"/><stop offset="0.9046" stop-color="#fff035"/><stop offset="0.9771" stop-color="#eec02d"/><stop offset="1" stop-color="#ebb62b"/></linearGradient><linearGradient id="g121"><stop offset="0" stop-color="#96ff63"/><stop offset="0.00995" stop-color="#96ff5f"/><stop offset="0.1481" stop-color="#98ff46"/><stop offset="0.25" stop-color="#99ff40"/><stop offset="0.2858" stop-color="#99ff3e"/><stop offset="0.3775" stop-color="#9eff3c"/><stop offset="0.5" stop-color="#adfc3c"/><stop offset="0.5148" stop-color="#affc3c"/><stop offset="0.6334" stop-color="#c8fd3c"/><stop offset="0.75" stop-color="#e1fc39"/><stop offset="0.7518" stop-color="#e1fc39"/><stop offset="0.8564" stop-color="#fffa37"/><stop offset="0.8972" stop-color="#fff035"/><stop offset="0.9698" stop-color="#eec02d"/><stop offset="1" stop-color="#ebb32a"/></linearGradient><linearGradient id="g122"><stop offset="0" stop-color="#96ff5f"/><stop offset="0.0012" stop-color="#96ff5f"/><stop offset="0.1395" stop-color="#98ff46"/><stop offset="0.25" stop-color="#99ff40"/><stop offset="0.2775" stop-color="#99ff3e"/><stop offset="0.3693" stop-color="#9eff3c"/><stop offset="0.5" stop-color="#aefc3c"/><stop offset="0.5068" stop-color="#affc3c"/><stop offset="0.6256" stop-color="#c8fd3c"/><stop offset="0.7442" stop-color="#e1fc39"/><stop offset="0.75" stop-color="#e3fc39"/><stop offset="0.8489" stop-color="#fffa37"/><stop offset="0.8899" stop-color="#fff035"/><stop offset="0.9626" stop-color="#eec02d"/><stop offset="1" stop-color="#eaaf2a"/></linearGradient><linearGradient id="g123"><stop offset="0" stop-color="#96ff5e"/><stop offset="0.131" stop-color="#98ff46"/><stop offset="0.25" stop-color="#99ff3f"/><stop offset="0.2692" stop-color="#99ff3e"/><stop offset="0.3611" stop-color="#9eff3c"/><stop offset="0.4988" stop-color="#affc3c"/><stop offset="0.5" stop-color="#affc3c"/><stop offset="0.6178" stop-color="#c8fd3c"/><stop offset="0.7366" stop-color="#e1fc39"/><stop offset="0.75" stop-color="#e5fc39"/><stop offset="0.8415" stop-color="#fffa37"/><stop offset="0.8824" stop-color="#fff035"/><stop offset="0.9552" stop-color="#eec02d"/><stop offset="1" stop-color="#e9ac29"/></linearGradient><linearGradient id="g124"><stop offset="0" stop-color="#96ff5c"/><stop offset="0.1224" stop-color="#98ff46"/><stop offset="0.25" stop-color="#99ff3f"/><stop offset="0.2608" stop-color="#99ff3e"/><stop offset="0.3528" stop-color="#9eff3c"/><stop offset="0.4907" stop-color="#affc3c"/><stop offset="0.5" stop-color="#b1fc3c"/><stop offset="0.6099" stop-color="#c8fd3c"/><stop offset="0.7289" stop-color="#e1fc39"/><stop offset="0.75" stop-color="#e7fc39"/><stop offset="0.8339" stop-color="#fffa37"/><stop offset="0.875" stop-color="#fff035"/><stop offset="0.9479" stop-color="#eec02d"/><stop offset="1" stop-color="#e8a928"/></linearGradient><linearGradient id="g125"><stop offset="0" stop-color="#96ff5a"/><stop offset="0.1137" stop-color="#98ff46"/><stop offset="0.25" stop-color="#99ff3e"/><stop offset="0.2523" stop-color="#99ff3e"/><stop offset="0.3446" stop-color="#9eff3c"/><stop offset="0.4827" stop-color="#affc3c"/><stop offset="0.5" stop-color="#b3fc3c"/><stop offset="0.602" stop-color="#c8fd3c"/><stop offset="0.7212" stop-color="#e1fc39"/><stop offset="0.75" stop-color="#e9fb38"/><stop offset="0.8264" stop-color="#fffa37"/><stop offset="0.8676" stop-color="#fff035"/><stop offset="0.9405" stop-color="#eec02d"/><stop offset="0.9952" stop-color="#e8a828"/><stop offset="1" stop-color="#e8a628"/></linearGradient><linearGradient id="g126"><stop offset="0" stop-color="#96ff59"/><stop offset="0.105" stop-color="#98ff46"/><stop offset="0.2439" stop-color="#99ff3e"/><stop offset="0.25" stop-color="#99ff3e"/><stop offset="0.3363" stop-color="#9eff3c"/><stop offset="0.4746" stop-color="#affc3c"/><stop offset="0.5" stop-color="#b4fc3c"/><stop offset="0.5941" stop-color="#c8fd3c"/><stop offset="0.7135" stop-color="#e1fc39"/><stop offset="0.75" stop-color="#ebfb38"/><stop offset="0.8189" stop-color="#fffa37"/><stop offset="0.86" stop-color="#fff035"/><stop offset="0.9332" stop-color="#eec02d"/><stop offset="0.9879" stop-color="#e8a828"/><stop offset="1" stop-color="#e7a327"/></linearGradient><linearGradient id="g127"><stop offset="0" stop-color="#97ff57"/><stop offset="0.09635" stop-color="#98ff46"/><stop offset="0.2354" stop-color="#99ff3e"/><stop offset="0.25" stop-color="#9aff3e"/><stop offset="0.3279" stop-color="#9eff3c"/><stop offset="0.4665" stop-color="#affc3c"/><stop offset="0.5" stop-color="#b6fc3c"/><stop offset="0.5862" stop-color="#c8fd3c"/><stop offset="0.7058" stop-color="#e1fc39"/><stop offset="0.75" stop-color="#eefb38"/><stop offset="0.8113" stop-color="#fffa37"/><stop offset="0.8525" stop-color="#fff035"/><stop offset="0.9258" stop-color="#eec02d"/><stop offset="0.9807" stop-color="#e8a828"/><stop offset="1" stop-color="#e7a026"/></linearGradient><linearGradient id="g128"><stop offset="0" stop-color="#97ff56"/><stop offset="0.08765" stop-color="#98ff46"/><stop offset="0.2269" stop-color="#99ff3e"/><stop offset="0.25" stop-color="#9aff3e"/><stop offset="0.3196" stop-color="#9eff3c"/><stop offset="0.4583" stop-color="#affc3c"/><stop offset="0.5" stop-color="#b8fc3c"/><stop offset="0.5783" stop-color="#c8fd3c"/><stop offset="0.698" stop-color="#e1fc39"/><stop offset="0.75" stop-color="#f0fb38"/><stop offset="0.8037" stop-color="#fffa37"/><stop offset="0.845" stop-color="#fff035"/><stop offset="0.9183" stop-color="#eec02d"/><stop offset="0.9733" stop-color="#e8a828"/><stop offset="1" stop-color="#e79c26"/></linearGradient><linearGradient id="g129"><stop offset="0" stop-color="#97ff54"/><stop offset="0.0789" stop-color="#98ff46"/><stop offset="0.2184" stop-color="#99ff3e"/><stop offset="0.25" stop-color="#9bff3d"/><stop offset="0.3113" stop-color="#9eff3c"/><stop offset="0.4502" stop-color="#affc3c"/><stop offset="0.5" stop-color="#b9fc3c"/><stop offset="0.5704" stop-color="#c8fd3c"/><stop offset="0.6903" stop-color="#e1fc39"/><stop offset="0.75" stop-color="#f2fb38"/><stop offset="0.7961" stop-color="#fffa37"/><stop offset="0.8375" stop-color="#fff035"/><stop offset="0.9109" stop-color="#eec02d"/><stop offset="0.9659" stop-color="#e8a828"/><stop offset="1" stop-color="#e69925"/></linearGradient><linearGradient id="g130"><stop offset="0" stop-color="#97ff53"/><stop offset="0.07015" stop-color="#98ff46"/><stop offset="0.2099" stop-color="#99ff3e"/><stop offset="0.25" stop-color="#9bff3d"/><stop offset="0.3029" stop-color="#9eff3c"/><stop offset="0.442" stop-color="#affc3c"/><stop offset="0.5" stop-color="#bbfc3c"/><stop offset="0.5624" stop-color="#c8fd3c"/><stop offset="0.6824" stop-color="#e1fc39"/><stop offset="0.75" stop-color="#f4fb38"/><stop offset="0.7884" stop-color="#fffa37"/><stop offset="0.8298" stop-color="#fff035"/><stop offset="0.9034" stop-color="#eec02d"/><stop offset="0.9586" stop-color="#e8a828"/><stop offset="1" stop-color="#e69625"/></linearGradient><linearGradient id="g131"><stop offset="0" stop-color="#97ff51"/><stop offset="0.06135" stop-color="#98ff46"/><stop offset="0.2013" stop-color="#99ff3e"/><stop offset="0.25" stop-color="#9cff3d"/><stop offset="0.2944" stop-color="#9eff3c"/><stop offset="0.4338" stop-color="#affc3c"/><stop offset="0.5" stop-color="#bdfd3c"/><stop offset="0.5544" stop-color="#c8fd3c"/><stop offset="0.6746" stop-color="#e1fc39"/><stop offset="0.75" stop-color="#f6fb38"/><stop offset="0.7808" stop-color="#fffa37"/><stop offset="0.8222" stop-color="#fff035"/><stop offset="0.896" stop-color="#eec02d"/><stop offset="0.9511" stop-color="#e8a828"/><stop offset="1" stop-color="#e59324"/></linearGradient><linearGradient id="g132"><stop offset="0" stop-color="#97ff4f"/><stop offset="0.05255" stop-color="#98ff46"/><stop offset="0.1927" stop-color="#99ff3e"/><stop offset="0.25" stop-color="#9cff3d"/><stop offset="0.286" stop-color="#9eff3c"/><stop offset="0.4255" stop-color="#affc3c"/><stop offset="0.5" stop-color="#befd3c"/><stop offset="0.5463" stop-color="#c8fd3c"/><stop offset="0.6667" stop-color="#e1fc39"/><stop offset="0.75" stop-color="#f8fa37"/><stop offset="0.7731" stop-color="#fffa37"/><stop offset="0.8146" stop-color="#fff035"/><stop offset="0.8884" stop-color="#eec02d"/><stop offset="0.9437" stop-color="#e8a828"/><stop offset="1" stop-color="#e59024"/></linearGradient><linearGradient id="g133"><stop offset="0" stop-color="#97ff4e"/><stop offset="0.0437" stop-color="#98ff46"/><stop offset="0.1841" stop-color="#99ff3e"/><stop offset="0.25" stop-color="#9dff3d"/><stop offset="0.2775" stop-color="#9eff3c"/><stop offset="0.4173" stop-color="#affc3c"/><stop offset="0.5" stop-color="#c0fd3c"/><stop offset="0.5382" stop-color="#c8fd3c"/><stop offset="0.6588" stop-color="#e1fc39"/><stop offset="0.75" stop-color="#fbfa37"/><stop offset="0.7653" stop-color="#fffa37"/><stop offset="0.807" stop-color="#fff035"/><stop offset="0.8809" stop-color="#eec02d"/><stop offset="0.9363" stop-color="#e8a828"/><stop offset="1" stop-color="#e58c23"/></linearGradient><linearGradient id="g134"><stop offset="0" stop-color="#98ff4c"/><stop offset="0.0348" stop-color="#98ff46"/><stop offset="0.1754" stop-color="#99ff3e"/><stop offset="0.25" stop-color="#9dff3c"/><stop offset="0.269" stop-color="#9eff3c"/><stop offset="0.4091" stop-color="#affc3c"/><stop offset="0.5" stop-color="#c2fd3c"/><stop offset="0.5301" stop-color="#c8fd3c"/><stop offset="0.651" stop-color="#e1fc39"/><stop offset="0.75" stop-color="#fdfa37"/><stop offset="0.7576" stop-color="#fffa37"/><stop offset="0.7993" stop-color="#fff035"/><stop offset="0.8734" stop-color="#eec02d"/><stop offset="0.9288" stop-color="#e8a828"/><stop offset="1" stop-color="#e48922"/></linearGradient><filter id="f135" x="0" y="-0.1" width="1" height="1.2"><feGaussianBlur stdDeviation="0 4.5"/></filter><clipPath id="c136"><rect x="162.5" y="1668.4" width="638.9" height="637.5"/></clipPath><linearGradient id="g137"><stop offset="0" stop-color="#8fffdb"/><stop offset="0.1535" stop-color="#96ffa0"/><stop offset="0.25" stop-color="#96ff86"/><stop offset="0.3961" stop-color="#96ff5f"/><stop offset="0.5" stop-color="#97ff51"/><stop offset="0.5872" stop-color="#98ff46"/><stop offset="0.75" stop-color="#99ff3f"/><stop offset="0.7781" stop-color="#99ff3e"/><stop offset="0.9052" stop-color="#9eff3c"/><stop offset="1" stop-color="#a6fe3c"/></linearGradient><linearGradient id="g138"><stop offset="0" stop-color="#91ffcd"/><stop offset="0.1231" stop-color="#96ffa0"/><stop offset="0.25" stop-color="#96ff80"/><stop offset="0.3788" stop-color="#96ff5f"/><stop offset="0.5" stop-color="#97ff50"/><stop offset="0.5803" stop-color="#98ff46"/><stop offset="0.75" stop-color="#99ff3f"/><stop offset="0.7814" stop-color="#99ff3e"/><stop offset="0.9153" stop-color="#9eff3c"/><stop offset="1" stop-color="#a5fe3c"/></linearGradient><linearGradient id="g139"><stop offset="0" stop-color="#92ffbf"/><stop offset="0.0893" stop-color="#96ffa0"/><stop offset="0.25" stop-color="#96ff79"/><stop offset="0.3596" stop-color="#96ff5f"/><stop offset="0.5" stop-color="#97ff4f"/><stop offset="0.5726" stop-color="#98ff46"/><stop offset="0.75" stop-color="#99ff3f"/><stop offset="0.7852" stop-color="#99ff3e"/><stop offset="0.9266" stop-color="#9eff3c"/><stop offset="1" stop-color="#a4fe3c"/></linearGradient><linearGradient id="g140"><stop offset="0" stop-color="#94ffb1"/><stop offset="0.05135" stop-color="#96ffa0"/><stop offset="0.25" stop-color="#96ff73"/><stop offset="0.338" stop-color="#96ff5f"/><stop offset="0.5" stop-color="#97ff4d"/><stop offset="0.5639" stop-color="#98ff46"/><stop offset="0.75" stop-color="#99ff3f"/><stop offset="0.7893" stop-color="#99ff3e"/><stop offset="0.9393" stop-color="#9eff3c"/><stop offset="1" stop-color="#a3fe3c"/></linearGradient><linearGradient id="g141"><stop offset="0" stop-color="#96ffa3"/><stop offset="0.00845" stop-color="#96ffa0"/><stop offset="0.25" stop-color="#96ff6d"/><stop offset="0.3137" stop-color="#96ff5f"/><stop offset="0.5" stop-color="#98ff4c"/><stop offset="0.5541" stop-color="#98ff46"/><stop offset="0.75" stop-color="#99ff3f"/><stop offset="0.7939" stop-color="#99ff3e"/><stop offset="0.9536" stop-color="#9eff3c"/><stop offset="1" stop-color="#a1fe3c"/></linearGradient><linearGradient id="g142"><stop offset="0" stop-color="#96ff98"/><stop offset="0.25" stop-color="#96ff66"/><stop offset="0.2861" stop-color="#96ff5f"/><stop offset="0.5" stop-color="#98ff4a"/><stop offset="0.543" stop-color="#98ff46"/><stop offset="0.75" stop-color="#99ff40"/><stop offset="0.7993" stop-color="#99ff3e"/><stop offset="0.9698" stop-color="#9eff3c"/><stop offset="1" stop-color="#a0ff3c"/></linearGradient><linearGradient id="g143"><stop offset="0" stop-color="#96ff8e"/><stop offset="0.25" stop-color="#96ff60"/><stop offset="0.2543" stop-color="#96ff5f"/><stop offset="0.5" stop-color="#98ff49"/><stop offset="0.5302" stop-color="#98ff46"/><stop offset="0.75" stop-color="#99ff40"/><stop offset="0.8054" stop-color="#99ff3e"/><stop offset="0.9884" stop-color="#9eff3c"/><stop offset="1" stop-color="#9fff3c"/></linearGradient><linearGradient id="g144"><stop offset="0" stop-color="#96ff84"/><stop offset="0.2174" stop-color="#96ff5f"/><stop offset="0.25" stop-color="#96ff5c"/><stop offset="0.5" stop-color="#98ff47"/><stop offset="0.5155" stop-color="#98ff46"/><stop offset="0.75" stop-color="#99ff40"/><stop offset="0.8125" stop-color="#99ff3e"/><stop offset="1" stop-color="#9eff3c"/></linearGradient><linearGradient id="g145"><stop offset="0" stop-color="#96ff7b"/><stop offset="0.1742" stop-color="#96ff5f"/><stop offset="0.25" stop-color="#96ff59"/><stop offset="0.4981" stop-color="#98ff46"/><stop offset="0.5" stop-color="#98ff46"/><stop offset="0.75" stop-color="#99ff40"/><stop offset="0.8207" stop-color="#99ff3e"/><stop offset="1" stop-color="#9dff3c"/></linearGradient><linearGradient id="g146"><stop offset="0" stop-color="#96ff71"/><stop offset="0.1227" stop-color="#96ff5f"/><stop offset="0.25" stop-color="#97ff56"/><stop offset="0.4775" stop-color="#98ff46"/><stop offset="0.5" stop-color="#98ff45"/><stop offset="0.75" stop-color="#99ff40"/><stop offset="0.8306" stop-color="#99ff3e"/><stop offset="1" stop-color="#9dff3d"/></linearGradient><linearGradient id="g147"><stop offset="0" stop-color="#96ff67"/><stop offset="0.0603" stop-color="#96ff5f"/><stop offset="0.25" stop-color="#97ff53"/><stop offset="0.4526" stop-color="#98ff46"/><stop offset="0.5" stop-color="#98ff45"/><stop offset="0.75" stop-color="#99ff40"/><stop offset="0.8425" stop-color="#99ff3e"/><stop offset="1" stop-color="#9cff3d"/></linearGradient><linearGradient id="g148"><stop offset="0" stop-color="#96ff5e"/><stop offset="0.25" stop-color="#97ff50"/><stop offset="0.4218" stop-color="#98ff46"/><stop offset="0.5" stop-color="#98ff45"/><stop offset="0.75" stop-color="#99ff40"/><stop offset="0.8571" stop-color="#99ff3e"/><stop offset="1" stop-color="#9bff3d"/></linearGradient><linearGradient id="g149"><stop offset="0" stop-color="#96ff59"/><stop offset="0.25" stop-color="#97ff4d"/><stop offset="0.3828" stop-color="#98ff46"/><stop offset="0.5" stop-color="#98ff44"/><stop offset="0.75" stop-color="#99ff40"/><stop offset="0.8756" stop-color="#99ff3e"/><stop offset="1" stop-color="#9bff3d"/></linearGradient><linearGradient id="g150"><stop offset="0" stop-color="#97ff54"/><stop offset="0.25" stop-color="#98ff4a"/><stop offset="0.3318" stop-color="#98ff46"/><stop offset="0.5" stop-color="#98ff44"/><stop offset="0.75" stop-color="#99ff40"/><stop offset="0.8996" stop-color="#99ff3e"/><stop offset="1" stop-color="#9aff3d"/></linearGradient><linearGradient id="g151"><stop offset="0" stop-color="#97ff50"/><stop offset="0.25" stop-color="#98ff46"/><stop offset="0.2625" stop-color="#98ff46"/><stop offset="0.5" stop-color="#98ff43"/><stop offset="0.75" stop-color="#99ff40"/><stop offset="0.9321" stop-color="#99ff3e"/><stop offset="1" stop-color="#9aff3e"/></linearGradient><linearGradient id="g152"><stop offset="0" stop-color="#98ff4b"/><stop offset="0.1623" stop-color="#98ff46"/><stop offset="0.25" stop-color="#98ff45"/><stop offset="0.5" stop-color="#98ff43"/><stop offset="0.75" stop-color="#99ff40"/><stop offset="0.9785" stop-color="#99ff3e"/><stop offset="1" stop-color="#99ff3e"/></linearGradient><linearGradient id="g153"><stop offset="0" stop-color="#98ff46"/><stop offset="0.00455" stop-color="#98ff46"/><stop offset="0.25" stop-color="#98ff44"/><stop offset="0.5" stop-color="#98ff42"/><stop offset="0.75" stop-color="#99ff40"/><stop offset="1" stop-color="#99ff3e"/></linearGradient><linearGradient id="g154"><stop offset="0" stop-color="#98ff45"/><stop offset="0.25" stop-color="#98ff43"/><stop offset="0.5" stop-color="#99ff42"/><stop offset="0.75" stop-color="#99ff40"/><stop offset="1" stop-color="#99ff3f"/></linearGradient><linearGradient id="g155"><stop offset="0" stop-color="#98ff43"/><stop offset="0.25" stop-color="#98ff42"/><stop offset="0.5" stop-color="#99ff41"/><stop offset="0.75" stop-color="#99ff40"/><stop offset="1" stop-color="#99ff40"/></linearGradient><linearGradient id="g156"><stop offset="0" stop-color="#99ff41"/><stop offset="0.25" stop-color="#99ff41"/><stop offset="0.5" stop-color="#99ff41"/><stop offset="0.75" stop-color="#99ff41"/><stop offset="1" stop-color="#99ff40"/></linearGradient><linearGradient id="g157"><stop offset="0" stop-color="#99ff40"/><stop offset="0.25" stop-color="#99ff40"/><stop offset="0.5" stop-color="#99ff40"/><stop offset="0.75" stop-color="#99ff41"/><stop offset="1" stop-color="#99ff41"/></linearGradient><linearGradient id="g158"><stop offset="0" stop-color="#99ff3e"/><stop offset="0.25" stop-color="#99ff3f"/><stop offset="0.5" stop-color="#99ff40"/><stop offset="0.75" stop-color="#99ff41"/><stop offset="1" stop-color="#99ff41"/></linearGradient><linearGradient id="g159"><stop offset="0" stop-color="#9aff3e"/><stop offset="0.2186" stop-color="#99ff3e"/><stop offset="0.25" stop-color="#99ff3e"/><stop offset="0.5" stop-color="#99ff3f"/><stop offset="0.75" stop-color="#99ff41"/><stop offset="1" stop-color="#98ff42"/></linearGradient><linearGradient id="g160"><stop offset="0" stop-color="#9cff3d"/><stop offset="0.25" stop-color="#9aff3e"/><stop offset="0.3628" stop-color="#99ff3e"/><stop offset="0.5" stop-color="#99ff3f"/><stop offset="0.75" stop-color="#99ff41"/><stop offset="1" stop-color="#98ff43"/></linearGradient><linearGradient id="g161"><stop offset="0" stop-color="#9dff3c"/><stop offset="0.25" stop-color="#9bff3d"/><stop offset="0.4425" stop-color="#99ff3e"/><stop offset="0.5" stop-color="#99ff3f"/><stop offset="0.75" stop-color="#99ff41"/><stop offset="1" stop-color="#98ff43"/></linearGradient><linearGradient id="g162"><stop offset="0" stop-color="#9fff3c"/><stop offset="0.03625" stop-color="#9eff3c"/><stop offset="0.25" stop-color="#9cff3d"/><stop offset="0.493" stop-color="#99ff3e"/><stop offset="0.5" stop-color="#99ff3e"/><stop offset="0.75" stop-color="#99ff41"/><stop offset="1" stop-color="#98ff44"/></linearGradient><linearGradient id="g163"><stop offset="0" stop-color="#a2fe3c"/><stop offset="0.1412" stop-color="#9eff3c"/><stop offset="0.25" stop-color="#9dff3d"/><stop offset="0.5" stop-color="#99ff3e"/><stop offset="0.5279" stop-color="#99ff3e"/><stop offset="0.75" stop-color="#99ff41"/><stop offset="1" stop-color="#98ff44"/></linearGradient><linearGradient id="g164"><stop offset="0" stop-color="#a5fe3c"/><stop offset="0.2182" stop-color="#9eff3c"/><stop offset="0.25" stop-color="#9eff3c"/><stop offset="0.5" stop-color="#9aff3e"/><stop offset="0.5534" stop-color="#99ff3e"/><stop offset="0.75" stop-color="#99ff41"/><stop offset="1" stop-color="#98ff45"/></linearGradient><linearGradient id="g165"><stop offset="0" stop-color="#a9fd3c"/><stop offset="0.25" stop-color="#9fff3c"/><stop offset="0.2772" stop-color="#9eff3c"/><stop offset="0.5" stop-color="#9aff3e"/><stop offset="0.5728" stop-color="#99ff3e"/><stop offset="0.75" stop-color="#99ff41"/><stop offset="1" stop-color="#98ff46"/></linearGradient><linearGradient id="g166"><stop offset="0" stop-color="#acfd3c"/><stop offset="0.25" stop-color="#a1fe3c"/><stop offset="0.3237" stop-color="#9eff3c"/><stop offset="0.5" stop-color="#9bff3d"/><stop offset="0.5881" stop-color="#99ff3e"/><stop offset="0.75" stop-color="#99ff41"/><stop offset="0.9868" stop-color="#98ff46"/><stop offset="1" stop-color="#98ff47"/></linearGradient><linearGradient id="g167"><stop offset="0" stop-color="#affc3c"/><stop offset="0.0041" stop-color="#affc3c"/><stop offset="0.25" stop-color="#a3fe3c"/><stop offset="0.3614" stop-color="#9eff3c"/><stop offset="0.5" stop-color="#9bff3d"/><stop offset="0.6005" stop-color="#99ff3e"/><stop offset="0.75" stop-color="#99ff41"/><stop offset="0.9607" stop-color="#98ff46"/><stop offset="1" stop-color="#98ff49"/></linearGradient><linearGradient id="g168"><stop offset="0" stop-color="#b5fc3c"/><stop offset="0.0661" stop-color="#affc3c"/><stop offset="0.25" stop-color="#a5fe3c"/><stop offset="0.3924" stop-color="#9eff3c"/><stop offset="0.5" stop-color="#9cff3d"/><stop offset="0.6108" stop-color="#99ff3e"/><stop offset="0.75" stop-color="#99ff41"/><stop offset="0.9393" stop-color="#98ff46"/><stop offset="1" stop-color="#98ff4b"/></linearGradient><linearGradient id="g169"><stop offset="0" stop-color="#bafc3c"/><stop offset="0.1183" stop-color="#affc3c"/><stop offset="0.25" stop-color="#a8fd3c"/><stop offset="0.4185" stop-color="#9eff3c"/><stop offset="0.5" stop-color="#9cff3d"/><stop offset="0.6193" stop-color="#99ff3e"/><stop offset="0.75" stop-color="#99ff41"/><stop offset="0.9214" stop-color="#98ff46"/><stop offset="1" stop-color="#97ff4c"/></linearGradient><linearGradient id="g170"><stop offset="0" stop-color="#c0fd3c"/><stop offset="0.1627" stop-color="#affc3c"/><stop offset="0.25" stop-color="#aafd3c"/><stop offset="0.4407" stop-color="#9eff3c"/><stop offset="0.5" stop-color="#9cff3d"/><stop offset="0.6266" stop-color="#99ff3e"/><stop offset="0.75" stop-color="#99ff42"/><stop offset="0.9061" stop-color="#98ff46"/><stop offset="1" stop-color="#97ff4e"/></linearGradient><linearGradient id="g171"><stop offset="0" stop-color="#c5fd3c"/><stop offset="0.2011" stop-color="#affc3c"/><stop offset="0.25" stop-color="#acfd3c"/><stop offset="0.4599" stop-color="#9eff3c"/><stop offset="0.5" stop-color="#9dff3c"/><stop offset="0.6329" stop-color="#99ff3e"/><stop offset="0.75" stop-color="#99ff42"/><stop offset="0.893" stop-color="#98ff46"/><stop offset="1" stop-color="#97ff50"/></linearGradient><linearGradient id="g172"><stop offset="0" stop-color="#cbfd3c"/><stop offset="0.02495" stop-color="#c8fd3c"/><stop offset="0.2344" stop-color="#affc3c"/><stop offset="0.25" stop-color="#aefc3c"/><stop offset="0.4766" stop-color="#9eff3c"/><stop offset="0.5" stop-color="#9dff3c"/><stop offset="0.6384" stop-color="#99ff3e"/><stop offset="0.75" stop-color="#99ff42"/><stop offset="0.8815" stop-color="#98ff46"/><stop offset="1" stop-color="#97ff52"/></linearGradient><linearGradient id="g173"><stop offset="0" stop-color="#d1fd3b"/><stop offset="0.0669" stop-color="#c8fd3c"/><stop offset="0.25" stop-color="#b1fc3c"/><stop offset="0.2638" stop-color="#affc3c"/><stop offset="0.4913" stop-color="#9eff3c"/><stop offset="0.5" stop-color="#9eff3c"/><stop offset="0.6432" stop-color="#99ff3e"/><stop offset="0.75" stop-color="#99ff42"/><stop offset="0.8715" stop-color="#98ff46"/><stop offset="1" stop-color="#97ff54"/></linearGradient><linearGradient id="g174"><stop offset="0" stop-color="#d6fc3a"/><stop offset="0.1041" stop-color="#c8fd3c"/><stop offset="0.25" stop-color="#b4fc3c"/><stop offset="0.2897" stop-color="#affc3c"/><stop offset="0.5" stop-color="#9eff3c"/><stop offset="0.5042" stop-color="#9eff3c"/><stop offset="0.6474" stop-color="#99ff3e"/><stop offset="0.75" stop-color="#99ff42"/><stop offset="0.8626" stop-color="#98ff46"/><stop offset="1" stop-color="#97ff56"/></linearGradient><linearGradient id="g175"><stop offset="0" stop-color="#dcfc3a"/><stop offset="0.1373" stop-color="#c8fd3c"/><stop offset="0.25" stop-color="#b8fc3c"/><stop offset="0.3129" stop-color="#affc3c"/><stop offset="0.5" stop-color="#9fff3c"/><stop offset="0.5158" stop-color="#9eff3c"/><stop offset="0.6512" stop-color="#99ff3e"/><stop offset="0.75" stop-color="#99ff42"/><stop offset="0.8547" stop-color="#98ff46"/><stop offset="1" stop-color="#97ff58"/></linearGradient><linearGradient id="g176"><stop offset="0" stop-color="#e1fc39"/><stop offset="0.0007" stop-color="#e1fc39"/><stop offset="0.1671" stop-color="#c8fd3c"/><stop offset="0.25" stop-color="#bcfd3c"/><stop offset="0.3337" stop-color="#affc3c"/><stop offset="0.5" stop-color="#a0ff3c"/><stop offset="0.5262" stop-color="#9eff3c"/><stop offset="0.6546" stop-color="#99ff3e"/><stop offset="0.75" stop-color="#99ff42"/><stop offset="0.8477" stop-color="#98ff46"/><stop offset="1" stop-color="#96ff5a"/></linearGradient><linearGradient id="g177"><stop offset="0" stop-color="#e9fb38"/><stop offset="0.03565" stop-color="#e1fc39"/><stop offset="0.194" stop-color="#c8fd3c"/><stop offset="0.25" stop-color="#bffd3c"/><stop offset="0.3525" stop-color="#affc3c"/><stop offset="0.5" stop-color="#a1fe3c"/><stop offset="0.5355" stop-color="#9eff3c"/><stop offset="0.6578" stop-color="#99ff3e"/><stop offset="0.75" stop-color="#98ff42"/><stop offset="0.8413" stop-color="#98ff46"/><stop offset="1" stop-color="#96ff5c"/></linearGradient><linearGradient id="g178"><stop offset="0" stop-color="#f0fb38"/><stop offset="0.0674" stop-color="#e1fc39"/><stop offset="0.2183" stop-color="#c8fd3c"/><stop offset="0.25" stop-color="#c3fd3c"/><stop offset="0.3695" stop-color="#affc3c"/><stop offset="0.5" stop-color="#a2fe3c"/><stop offset="0.5441" stop-color="#9eff3c"/><stop offset="0.6605" stop-color="#99ff3e"/><stop offset="0.75" stop-color="#98ff42"/><stop offset="0.8355" stop-color="#98ff46"/><stop offset="1" stop-color="#96ff5d"/></linearGradient><linearGradient id="g179"><stop offset="0" stop-color="#f8fa37"/><stop offset="0.0963" stop-color="#e1fc39"/><stop offset="0.2406" stop-color="#c8fd3c"/><stop offset="0.25" stop-color="#c6fd3c"/><stop offset="0.385" stop-color="#affc3c"/><stop offset="0.5" stop-color="#a3fe3c"/><stop offset="0.5518" stop-color="#9eff3c"/><stop offset="0.6631" stop-color="#99ff3e"/><stop offset="0.75" stop-color="#98ff42"/><stop offset="0.8302" stop-color="#98ff46"/><stop offset="0.9974" stop-color="#96ff5f"/><stop offset="1" stop-color="#96ff60"/></linearGradient><linearGradient id="g180"><stop offset="0" stop-color="#fffa37"/><stop offset="0.00065" stop-color="#fffa37"/><stop offset="0.1228" stop-color="#e1fc39"/><stop offset="0.25" stop-color="#cafd3c"/><stop offset="0.2609" stop-color="#c8fd3c"/><stop offset="0.3992" stop-color="#affc3c"/><stop offset="0.5" stop-color="#a4fe3c"/><stop offset="0.5589" stop-color="#9eff3c"/><stop offset="0.6654" stop-color="#99ff3e"/><stop offset="0.75" stop-color="#98ff42"/><stop offset="0.8254" stop-color="#98ff46"/><stop offset="0.9855" stop-color="#96ff5f"/><stop offset="1" stop-color="#96ff64"/></linearGradient><linearGradient id="g181"><stop offset="0" stop-color="#fff336"/><stop offset="0.02995" stop-color="#fffa37"/><stop offset="0.1471" stop-color="#e1fc39"/><stop offset="0.25" stop-color="#cefd3b"/><stop offset="0.2796" stop-color="#c8fd3c"/><stop offset="0.4122" stop-color="#affc3c"/><stop offset="0.5" stop-color="#a5fe3c"/><stop offset="0.5654" stop-color="#9eff3c"/><stop offset="0.6675" stop-color="#99ff3e"/><stop offset="0.75" stop-color="#98ff42"/><stop offset="0.821" stop-color="#98ff46"/><stop offset="0.9745" stop-color="#96ff5f"/><stop offset="1" stop-color="#96ff68"/></linearGradient><linearGradient id="g182"><stop offset="0" stop-color="#fce834"/><stop offset="0.0129" stop-color="#fff035"/><stop offset="0.0569" stop-color="#fffa37"/><stop offset="0.1694" stop-color="#e1fc39"/><stop offset="0.25" stop-color="#d1fd3b"/><stop offset="0.2968" stop-color="#c8fd3c"/><stop offset="0.4243" stop-color="#affc3c"/><stop offset="0.5" stop-color="#a6fe3c"/><stop offset="0.5714" stop-color="#9eff3c"/><stop offset="0.6695" stop-color="#99ff3e"/><stop offset="0.75" stop-color="#98ff42"/><stop offset="0.8169" stop-color="#98ff46"/><stop offset="0.9644" stop-color="#96ff5f"/><stop offset="1" stop-color="#96ff6b"/></linearGradient><linearGradient id="g183"><stop offset="0" stop-color="#f6d731"/><stop offset="0.0395" stop-color="#fff035"/><stop offset="0.08185" stop-color="#fffa37"/><stop offset="0.1902" stop-color="#e1fc39"/><stop offset="0.25" stop-color="#d5fc3a"/><stop offset="0.3127" stop-color="#c8fd3c"/><stop offset="0.4354" stop-color="#affc3c"/><stop offset="0.5" stop-color="#a7fd3c"/><stop offset="0.5769" stop-color="#9eff3c"/><stop offset="0.6714" stop-color="#99ff3e"/><stop offset="0.75" stop-color="#98ff42"/><stop offset="0.8132" stop-color="#98ff46"/><stop offset="0.955" stop-color="#96ff5f"/><stop offset="1" stop-color="#96ff6f"/></linearGradient><linearGradient id="g184"><stop offset="0" stop-color="#f0c62e"/><stop offset="0.06415" stop-color="#fff035"/><stop offset="0.105" stop-color="#fffa37"/><stop offset="0.2094" stop-color="#e1fc39"/><stop offset="0.25" stop-color="#d8fc3a"/><stop offset="0.3275" stop-color="#c8fd3c"/><stop offset="0.4456" stop-color="#affc3c"/><stop offset="0.5" stop-color="#a8fd3c"/><stop offset="0.582" stop-color="#9eff3c"/><stop offset="0.6731" stop-color="#99ff3e"/><stop offset="0.75" stop-color="#98ff43"/><stop offset="0.8096" stop-color="#98ff46"/><stop offset="0.9464" stop-color="#96ff5f"/><stop offset="1" stop-color="#96ff73"/></linearGradient><linearGradient id="g185"><stop offset="0" stop-color="#ecb82b"/><stop offset="0.01705" stop-color="#eec02d"/><stop offset="0.0871" stop-color="#fff035"/><stop offset="0.1265" stop-color="#fffa37"/><stop offset="0.2273" stop-color="#e1fc39"/><stop offset="0.25" stop-color="#dcfc3a"/><stop offset="0.3412" stop-color="#c8fd3c"/><stop offset="0.4552" stop-color="#affc3c"/><stop offset="0.5" stop-color="#a9fd3c"/><stop offset="0.5868" stop-color="#9eff3c"/><stop offset="0.6746" stop-color="#99ff3e"/><stop offset="0.75" stop-color="#98ff43"/><stop offset="0.8064" stop-color="#98ff46"/><stop offset="0.9383" stop-color="#96ff5f"/><stop offset="1" stop-color="#96ff77"/></linearGradient><linearGradient id="g186"><stop offset="0" stop-color="#e9ad29"/><stop offset="0.04085" stop-color="#eec02d"/><stop offset="0.1085" stop-color="#fff035"/><stop offset="0.1466" stop-color="#fffa37"/><stop offset="0.2439" stop-color="#e1fc39"/><stop offset="0.25" stop-color="#e0fc39"/><stop offset="0.354" stop-color="#c8fd3c"/><stop offset="0.4641" stop-color="#affc3c"/><stop offset="0.5" stop-color="#aafd3c"/><stop offset="0.5913" stop-color="#9eff3c"/><stop offset="0.6761" stop-color="#99ff3e"/><stop offset="0.75" stop-color="#98ff43"/><stop offset="0.8034" stop-color="#98ff46"/><stop offset="0.9307" stop-color="#96ff5f"/><stop offset="1" stop-color="#96ff7b"/></linearGradient><linearGradient id="g187"><stop offset="0" stop-color="#e7a127"/><stop offset="0.01395" stop-color="#e8a828"/><stop offset="0.06305" stop-color="#eec02d"/><stop offset="0.1285" stop-color="#fff035"/><stop offset="0.1653" stop-color="#fffa37"/><stop offset="0.25" stop-color="#e4fc39"/><stop offset="0.2594" stop-color="#e1fc39"/><stop offset="0.3659" stop-color="#c8fd3c"/><stop offset="0.4724" stop-color="#affc3c"/><stop offset="0.5" stop-color="#abfd3c"/><stop offset="0.5955" stop-color="#9eff3c"/><stop offset="0.6775" stop-color="#99ff3e"/><stop offset="0.75" stop-color="#98ff43"/><stop offset="0.8006" stop-color="#98ff46"/><stop offset="0.9238" stop-color="#96ff5f"/><stop offset="1" stop-color="#96ff7f"/></linearGradient><linearGradient id="g188"><stop offset="0" stop-color="#e69625"/><stop offset="0.0363" stop-color="#e8a828"/><stop offset="0.08385" stop-color="#eec02d"/><stop offset="0.1472" stop-color="#fff035"/><stop offset="0.1829" stop-color="#fffa37"/><stop offset="0.25" stop-color="#e9fb38"/><stop offset="0.2741" stop-color="#e1fc39"/><stop offset="0.3771" stop-color="#c8fd3c"/><stop offset="0.4803" stop-color="#affc3c"/><stop offset="0.5" stop-color="#acfc3c"/><stop offset="0.5994" stop-color="#9eff3c"/><stop offset="0.6787" stop-color="#99ff3e"/><stop offset="0.75" stop-color="#98ff43"/><stop offset="0.7979" stop-color="#98ff46"/><stop offset="0.9172" stop-color="#96ff5f"/><stop offset="1" stop-color="#96ff83"/></linearGradient><linearGradient id="g189"><stop offset="0" stop-color="#e48a23"/><stop offset="0.0573" stop-color="#e8a828"/><stop offset="0.1033" stop-color="#eec02d"/><stop offset="0.1648" stop-color="#fff035"/><stop offset="0.1994" stop-color="#fffa37"/><stop offset="0.25" stop-color="#eefb38"/><stop offset="0.2877" stop-color="#e1fc39"/><stop offset="0.3876" stop-color="#c8fd3c"/><stop offset="0.4876" stop-color="#affc3c"/><stop offset="0.5" stop-color="#adfc3c"/><stop offset="0.603" stop-color="#9eff3c"/><stop offset="0.68" stop-color="#99ff3e"/><stop offset="0.75" stop-color="#98ff43"/><stop offset="0.7955" stop-color="#98ff46"/><stop offset="0.9111" stop-color="#96ff5f"/><stop offset="1" stop-color="#96ff86"/></linearGradient><linearGradient id="g190"><stop offset="0" stop-color="#e37f21"/><stop offset="0.077" stop-color="#e8a828"/><stop offset="0.1217" stop-color="#eec02d"/><stop offset="0.1813" stop-color="#fff035"/><stop offset="0.2148" stop-color="#fffa37"/><stop offset="0.25" stop-color="#f3fb38"/><stop offset="0.3005" stop-color="#e1fc39"/><stop offset="0.3975" stop-color="#c8fd3c"/><stop offset="0.4945" stop-color="#affc3c"/><stop offset="0.5" stop-color="#aefc3c"/><stop offset="0.6065" stop-color="#9eff3c"/><stop offset="0.6811" stop-color="#99ff3e"/><stop offset="0.75" stop-color="#98ff43"/><stop offset="0.7932" stop-color="#98ff46"/><stop offset="0.9052" stop-color="#96ff5f"/><stop offset="1" stop-color="#96ff8a"/></linearGradient><linearGradient id="g191"><stop offset="0" stop-color="#e1731f"/><stop offset="0.0956" stop-color="#e8a828"/><stop offset="0.139" stop-color="#eec02d"/><stop offset="0.1969" stop-color="#fff035"/><stop offset="0.2294" stop-color="#fffa37"/><stop offset="0.25" stop-color="#f8fa37"/><stop offset="0.3127" stop-color="#e1fc39"/><stop offset="0.4068" stop-color="#c8fd3c"/><stop offset="0.5" stop-color="#affc3c"/><stop offset="0.501" stop-color="#affc3c"/><stop offset="0.6097" stop-color="#9eff3c"/><stop offset="0.6822" stop-color="#99ff3e"/><stop offset="0.75" stop-color="#98ff43"/><stop offset="0.791" stop-color="#98ff46"/><stop offset="0.8998" stop-color="#96ff5f"/><stop offset="1" stop-color="#96ff8e"/></linearGradient><linearGradient id="g192"><stop offset="0" stop-color="#e0691d"/><stop offset="0.01475" stop-color="#e1701e"/><stop offset="0.1131" stop-color="#e8a828"/><stop offset="0.1553" stop-color="#eec02d"/><stop offset="0.2116" stop-color="#fff035"/><stop offset="0.2433" stop-color="#fffa37"/><stop offset="0.25" stop-color="#fcfa37"/><stop offset="0.3241" stop-color="#e1fc39"/><stop offset="0.4156" stop-color="#c8fd3c"/><stop offset="0.5" stop-color="#b1fc3c"/><stop offset="0.5071" stop-color="#affc3c"/><stop offset="0.6128" stop-color="#9eff3c"/><stop offset="0.6832" stop-color="#99ff3e"/><stop offset="0.75" stop-color="#98ff43"/><stop offset="0.7889" stop-color="#98ff46"/><stop offset="0.8947" stop-color="#96ff5f"/><stop offset="1" stop-color="#96ff92"/></linearGradient><linearGradient id="g193"><stop offset="0" stop-color="#df5f1b"/><stop offset="0.03405" stop-color="#e1701e"/><stop offset="0.1297" stop-color="#e8a828"/><stop offset="0.1708" stop-color="#eec02d"/><stop offset="0.2254" stop-color="#fff035"/><stop offset="0.25" stop-color="#fff837"/><stop offset="0.2562" stop-color="#fffa37"/><stop offset="0.3349" stop-color="#e1fc39"/><stop offset="0.4239" stop-color="#c8fd3c"/><stop offset="0.5" stop-color="#b3fc3c"/><stop offset="0.5129" stop-color="#affc3c"/><stop offset="0.6157" stop-color="#9eff3c"/><stop offset="0.6842" stop-color="#99ff3e"/><stop offset="0.75" stop-color="#98ff43"/><stop offset="0.787" stop-color="#98ff46"/><stop offset="0.8898" stop-color="#96ff5f"/><stop offset="1" stop-color="#96ff96"/></linearGradient><linearGradient id="g194"><stop offset="0" stop-color="#de5519"/><stop offset="0.05225" stop-color="#e1701e"/><stop offset="0.1455" stop-color="#e8a828"/><stop offset="0.1854" stop-color="#eec02d"/><stop offset="0.2386" stop-color="#fff035"/><stop offset="0.25" stop-color="#fff436"/><stop offset="0.2686" stop-color="#fffa37"/><stop offset="0.3452" stop-color="#e1fc39"/><stop offset="0.4317" stop-color="#c8fd3c"/><stop offset="0.5" stop-color="#b4fc3c"/><stop offset="0.5184" stop-color="#affc3c"/><stop offset="0.6184" stop-color="#9eff3c"/><stop offset="0.6851" stop-color="#99ff3e"/><stop offset="0.75" stop-color="#98ff43"/><stop offset="0.7852" stop-color="#98ff46"/><stop offset="0.8852" stop-color="#96ff5f"/><stop offset="1" stop-color="#96ff9a"/></linearGradient><linearGradient id="g195"><stop offset="0" stop-color="#dd4b17"/><stop offset="0.0696" stop-color="#e1701e"/><stop offset="0.1603" stop-color="#e8a828"/><stop offset="0.1992" stop-color="#eec02d"/><stop offset="0.25" stop-color="#ffef35"/><stop offset="0.2511" stop-color="#fff035"/><stop offset="0.2803" stop-color="#fffa37"/><stop offset="0.3548" stop-color="#e1fc39"/><stop offset="0.4392" stop-color="#c8fd3c"/><stop offset="0.5" stop-color="#b6fc3c"/><stop offset="0.5236" stop-color="#affc3c"/><stop offset="0.621" stop-color="#9eff3c"/><stop offset="0.686" stop-color="#99ff3e"/><stop offset="0.75" stop-color="#98ff43"/><stop offset="0.7834" stop-color="#98ff46"/><stop offset="0.8809" stop-color="#96ff5f"/><stop offset="1" stop-color="#96ff9e"/></linearGradient><linearGradient id="g196"><stop offset="0" stop-color="#dc4115"/><stop offset="0.086" stop-color="#e1701e"/><stop offset="0.1744" stop-color="#e8a828"/><stop offset="0.2123" stop-color="#eec02d"/><stop offset="0.25" stop-color="#fbe433"/><stop offset="0.263" stop-color="#fff035"/><stop offset="0.2914" stop-color="#fffa37"/><stop offset="0.3641" stop-color="#e1fc39"/><stop offset="0.4463" stop-color="#c8fd3c"/><stop offset="0.5" stop-color="#b8fc3c"/><stop offset="0.5285" stop-color="#affc3c"/><stop offset="0.6235" stop-color="#9eff3c"/><stop offset="0.6867" stop-color="#99ff3e"/><stop offset="0.75" stop-color="#98ff43"/><stop offset="0.7817" stop-color="#98ff46"/><stop offset="0.8767" stop-color="#96ff5f"/><stop offset="0.9971" stop-color="#96ffa0"/><stop offset="1" stop-color="#96ffa2"/></linearGradient><linearGradient id="g197"><stop offset="0" stop-color="#db3813"/><stop offset="0.0092" stop-color="#dc3c14"/><stop offset="0.1016" stop-color="#e1701e"/><stop offset="0.1879" stop-color="#e8a828"/><stop offset="0.2248" stop-color="#eec02d"/><stop offset="0.25" stop-color="#f7d831"/><stop offset="0.2742" stop-color="#fff035"/><stop offset="0.3019" stop-color="#fffa37"/><stop offset="0.3729" stop-color="#e1fc39"/><stop offset="0.4531" stop-color="#c8fd3c"/><stop offset="0.5" stop-color="#b9fc3c"/><stop offset="0.5333" stop-color="#affc3c"/><stop offset="0.6258" stop-color="#9eff3c"/><stop offset="0.6875" stop-color="#99ff3e"/><stop offset="0.75" stop-color="#98ff43"/><stop offset="0.7802" stop-color="#98ff46"/><stop offset="0.8728" stop-color="#96ff5f"/><stop offset="0.9903" stop-color="#96ffa0"/><stop offset="1" stop-color="#95ffa8"/></linearGradient><linearGradient id="g198"><stop offset="0" stop-color="#da3010"/><stop offset="0.0263" stop-color="#dc3c14"/><stop offset="0.1165" stop-color="#e1701e"/><stop offset="0.2007" stop-color="#e8a828"/><stop offset="0.2368" stop-color="#eec02d"/><stop offset="0.25" stop-color="#f3cd2f"/><stop offset="0.2849" stop-color="#fff035"/><stop offset="0.312" stop-color="#fffa37"/><stop offset="0.3812" stop-color="#e1fc39"/><stop offset="0.4595" stop-color="#c8fd3c"/><stop offset="0.5" stop-color="#bbfc3c"/><stop offset="0.5377" stop-color="#affc3c"/><stop offset="0.628" stop-color="#9eff3c"/><stop offset="0.6883" stop-color="#99ff3e"/><stop offset="0.75" stop-color="#98ff43"/><stop offset="0.7787" stop-color="#98ff46"/><stop offset="0.8691" stop-color="#96ff5f"/><stop offset="0.9837" stop-color="#96ffa0"/><stop offset="1" stop-color="#94ffad"/></linearGradient><linearGradient id="g199"><stop offset="0" stop-color="#d9280e"/><stop offset="0.0426" stop-color="#dc3c14"/><stop offset="0.1306" stop-color="#e1701e"/><stop offset="0.2128" stop-color="#e8a828"/><stop offset="0.2481" stop-color="#eec02d"/><stop offset="0.25" stop-color="#efc22d"/><stop offset="0.2951" stop-color="#fff035"/><stop offset="0.3216" stop-color="#fffa37"/><stop offset="0.3891" stop-color="#e1fc39"/><stop offset="0.4656" stop-color="#c8fd3c"/><stop offset="0.5" stop-color="#bdfd3c"/><stop offset="0.542" stop-color="#affc3c"/><stop offset="0.6301" stop-color="#9eff3c"/><stop offset="0.689" stop-color="#99ff3e"/><stop offset="0.75" stop-color="#98ff44"/><stop offset="0.7772" stop-color="#98ff46"/><stop offset="0.8656" stop-color="#96ff5f"/><stop offset="0.9774" stop-color="#96ffa0"/><stop offset="1" stop-color="#94ffb3"/></linearGradient><linearGradient id="g200"><stop offset="0" stop-color="#d8200c"/><stop offset="0.0008" stop-color="#d8200c"/><stop offset="0.05815" stop-color="#dc3c14"/><stop offset="0.1442" stop-color="#e1701e"/><stop offset="0.2245" stop-color="#e8a828"/><stop offset="0.25" stop-color="#ecba2c"/><stop offset="0.259" stop-color="#eec02d"/><stop offset="0.3049" stop-color="#fff035"/><stop offset="0.3307" stop-color="#fffa37"/><stop offset="0.3967" stop-color="#e1fc39"/><stop offset="0.4713" stop-color="#c8fd3c"/><stop offset="0.5" stop-color="#befd3c"/><stop offset="0.546" stop-color="#affc3c"/><stop offset="0.6322" stop-color="#9eff3c"/><stop offset="0.6896" stop-color="#99ff3e"/><stop offset="0.75" stop-color="#98ff44"/><stop offset="0.7759" stop-color="#98ff46"/><stop offset="0.8621" stop-color="#96ff5f"/><stop offset="0.9714" stop-color="#96ffa0"/><stop offset="1" stop-color="#93ffb8"/></linearGradient><linearGradient id="g201"><stop offset="0" stop-color="#d71c0b"/><stop offset="0.0169" stop-color="#d8200c"/><stop offset="0.073" stop-color="#dc3c14"/><stop offset="0.1571" stop-color="#e1701e"/><stop offset="0.2356" stop-color="#e8a828"/><stop offset="0.25" stop-color="#ebb22a"/><stop offset="0.2692" stop-color="#eec02d"/><stop offset="0.3142" stop-color="#fff035"/><stop offset="0.3394" stop-color="#fffa37"/><stop offset="0.404" stop-color="#e1fc39"/><stop offset="0.4769" stop-color="#c8fd3c"/><stop offset="0.5" stop-color="#c0fd3c"/><stop offset="0.5499" stop-color="#affc3c"/><stop offset="0.6341" stop-color="#9eff3c"/><stop offset="0.6903" stop-color="#99ff3e"/><stop offset="0.75" stop-color="#98ff44"/><stop offset="0.7746" stop-color="#98ff46"/><stop offset="0.8589" stop-color="#96ff5f"/><stop offset="0.9657" stop-color="#96ffa0"/><stop offset="1" stop-color="#93ffbe"/></linearGradient><linearGradient id="g202"><stop offset="0" stop-color="#d7190a"/><stop offset="0.00495" stop-color="#d7190a"/><stop offset="0.03235" stop-color="#d8200c"/><stop offset="0.08715" stop-color="#dc3c14"/><stop offset="0.1694" stop-color="#e1701e"/><stop offset="0.2463" stop-color="#e8a828"/><stop offset="0.25" stop-color="#e9ab29"/><stop offset="0.2792" stop-color="#eec02d"/><stop offset="0.3231" stop-color="#fff035"/><stop offset="0.3478" stop-color="#fffa37"/><stop offset="0.4108" stop-color="#e1fc39"/><stop offset="0.4823" stop-color="#c8fd3c"/><stop offset="0.5" stop-color="#c2fd3c"/><stop offset="0.5536" stop-color="#affc3c"/><stop offset="0.636" stop-color="#9eff3c"/><stop offset="0.6909" stop-color="#99ff3e"/><stop offset="0.75" stop-color="#98ff44"/><stop offset="0.7733" stop-color="#98ff46"/><stop offset="0.8558" stop-color="#96ff5f"/><stop offset="0.9603" stop-color="#96ffa0"/><stop offset="1" stop-color="#92ffc3"/></linearGradient><filter id="f203" x="0" y="-0.1" width="1" height="1.2"><feGaussianBlur stdDeviation="0 4.5"/></filter><clipPath id="sc204"><polygon points="1285.8,358.2 1304.5,350.3 1322.9,342.4 1341.1,334.7 1359,327 1376.7,319.5 1394.2,312 1411.4,304.6 1428.4,297.4 1445.2,290.2 1461.8,283.1 1478.1,276.1 1494.3,269.1 1510.2,262.3 1525.9,255.5 1541.4,248.8 1556.8,242.2 1571.9,235.7 1586.9,229.2 1601.7,222.9 1616.2,216.6 1616.2,216.6 1597.8,209.8 1579.6,203.2 1561.7,196.6 1543.9,190.1 1526.3,183.6 1509,177.3 1491.9,171 1474.9,164.8 1458.1,158.6 1441.6,152.5 1425.2,146.5 1409,140.6 1393,134.7 1377.2,128.9 1361.5,123.1 1346,117.5 1330.7,111.8 1315.6,106.3 1300.6,100.7 1285.8,95.3 1285.8,95.3 1271,109.2 1256.1,123.3 1241,137.5 1225.8,151.8 1210.5,166.2 1195.1,180.7 1179.5,195.3 1163.8,210.1 1148,225 1132,240 1115.9,255.2 1099.6,270.4 1083.2,285.8 1066.6,301.4 1049.9,317 1033.1,332.9 1016.1,348.8 998.9,364.9 981.6,381.1 964.1,397.5 964.1,397.5 978,395.8 992,394.1 1006.3,392.4 1020.7,390.6 1035.4,388.8 1050.3,387 1065.5,385.2 1080.8,383.3 1096.4,381.4 1112.3,379.5 1128.4,377.5 1144.8,375.5 1161.4,373.5 1178.3,371.4 1195.5,369.3 1212.9,367.2 1230.7,365 1248.7,362.8 1267.1,360.5 1285.8,358.2"/></clipPath><filter id="sf204" x="-0.1" y="-0.1" width="1.2" height="1.2"><feGaussianBlur stdDeviation="3"/></filter><clipPath id="sc205"><polygon points="1281.9,1207.5 1300,1194.5 1318,1181.6 1335.7,1168.9 1353.2,1156.3 1370.4,1143.9 1387.5,1131.6 1404.4,1119.5 1421.1,1107.4 1437.5,1095.6 1453.8,1083.8 1469.9,1072.2 1485.9,1060.7 1501.6,1049.3 1517.1,1038.1 1532.5,1027 1547.7,1016 1562.8,1005.1 1577.7,994.3 1592.4,983.7 1606.9,973.1 1606.9,973.1 1588.6,971.6 1570.5,970.1 1552.6,968.6 1535,967.1 1517.6,965.7 1500.5,964.2 1483.6,962.8 1466.8,961.4 1450.3,960 1434.1,958.6 1418,957.3 1402.1,955.9 1386.4,954.6 1370.9,953.3 1355.6,952 1340.5,950.7 1325.6,949.4 1310.9,948.2 1296.3,946.9 1281.9,945.7 1281.9,945.7 1267.6,955.3 1253,965 1238.4,974.8 1223.6,984.7 1208.7,994.7 1193.6,1004.8 1178.4,1015 1163,1025.2 1147.4,1035.6 1131.8,1046.1 1115.9,1056.6 1099.9,1067.3 1083.7,1078.1 1067.4,1088.9 1050.9,1099.9 1034.2,1111 1017.4,1122.2 1000.4,1133.5 983.2,1144.9 965.8,1156.5 965.8,1156.5 979.6,1158.7 993.5,1161 1007.7,1163.3 1022,1165.6 1036.6,1168 1051.3,1170.4 1066.3,1172.8 1081.5,1175.2 1096.9,1177.7 1112.5,1180.3 1128.3,1182.8 1144.4,1185.4 1160.7,1188 1177.2,1190.7 1194,1193.4 1211.1,1196.2 1228.4,1198.9 1245.9,1201.8 1263.8,1204.6 1281.9,1207.5"/></clipPath><filter id="sf205" x="-0.1" y="-0.1" width="1.2" height="1.2"><feGaussianBlur stdDeviation="3"/></filter><clipPath id="clipA107"><rect x="700" y="690" width="111.7" height="40"/></clipPath></defs><rect width="1686" height="2405" fill="#fff"/><g clip-path="url(#c0)"><g filter="url(#f67)"><rect x="155.9" y="31.1" width="636.6" height="10.9" fill="url(#g1)"/><rect x="155.9" y="41" width="636.6" height="10.9" fill="url(#g2)"/><rect x="155.9" y="50.9" width="636.6" height="10.9" fill="url(#g3)"/><rect x="155.9" y="60.9" width="636.6" height="10.9" fill="url(#g4)"/><rect x="155.9" y="70.8" width="636.6" height="10.9" fill="url(#g5)"/><rect x="155.9" y="80.8" width="636.6" height="10.9" fill="url(#g6)"/><rect x="155.9" y="90.7" width="636.6" height="10.9" fill="url(#g7)"/><rect x="155.9" y="100.7" width="636.6" height="10.9" fill="url(#g8)"/><rect x="155.9" y="110.6" width="636.6" height="10.9" fill="url(#g9)"/><rect x="155.9" y="120.6" width="636.6" height="10.9" fill="url(#g10)"/><rect x="155.9" y="130.5" width="636.6" height="10.9" fill="url(#g11)"/><rect x="155.9" y="140.5" width="636.6" height="10.9" fill="url(#g12)"/><rect x="155.9" y="150.4" width="636.6" height="10.9" fill="url(#g13)"/><rect x="155.9" y="160.4" width="636.6" height="10.9" fill="url(#g14)"/><rect x="155.9" y="170.3" width="636.6" height="10.9" fill="url(#g15)"/><rect x="155.9" y="180.3" width="636.6" height="10.9" fill="url(#g16)"/><rect x="155.9" y="190.2" width="636.6" height="10.9" fill="url(#g17)"/><rect x="155.9" y="200.2" width="636.6" height="10.9" fill="url(#g18)"/><rect x="155.9" y="210.1" width="636.6" height="10.9" fill="url(#g19)"/><rect x="155.9" y="220" width="636.6" height="10.9" fill="url(#g20)"/><rect x="155.9" y="230" width="636.6" height="10.9" fill="url(#g21)"/><rect x="155.9" y="239.9" width="636.6" height="10.9" fill="url(#g22)"/><rect x="155.9" y="249.9" width="636.6" height="10.9" fill="url(#g23)"/><rect x="155.9" y="259.8" width="636.6" height="10.9" fill="url(#g24)"/><rect x="155.9" y="269.8" width="636.6" height="10.9" fill="url(#g25)"/><rect x="155.9" y="279.7" width="636.6" height="10.9" fill="url(#g26)"/><rect x="155.9" y="289.7" width="636.6" height="10.9" fill="url(#g27)"/><rect x="155.9" y="299.6" width="636.6" height="10.9" fill="url(#g28)"/><rect x="155.9" y="309.6" width="636.6" height="10.9" fill="url(#g29)"/><rect x="155.9" y="319.5" width="636.6" height="10.9" fill="url(#g30)"/><rect x="155.9" y="329.5" width="636.6" height="10.9" fill="url(#g31)"/><rect x="155.9" y="339.4" width="636.6" height="10.9" fill="url(#g32)"/><rect x="155.9" y="349.4" width="636.6" height="10.9" fill="url(#g33)"/><rect x="155.9" y="359.3" width="636.6" height="10.9" fill="url(#g34)"/><rect x="155.9" y="369.2" width="636.6" height="10.9" fill="url(#g35)"/><rect x="155.9" y="379.2" width="636.6" height="10.9" fill="url(#g36)"/><rect x="155.9" y="389.1" width="636.6" height="10.9" fill="url(#g37)"/><rect x="155.9" y="399.1" width="636.6" height="10.9" fill="url(#g38)"/><rect x="155.9" y="409" width="636.6" height="10.9" fill="url(#g39)"/><rect x="155.9" y="419" width="636.6" height="10.9" fill="url(#g40)"/><rect x="155.9" y="428.9" width="636.6" height="10.9" fill="url(#g41)"/><rect x="155.9" y="438.9" width="636.6" height="10.9" fill="url(#g42)"/><rect x="155.9" y="448.8" width="636.6" height="10.9" fill="url(#g43)"/><rect x="155.9" y="458.8" width="636.6" height="10.9" fill="url(#g44)"/><rect x="155.9" y="468.7" width="636.6" height="10.9" fill="url(#g45)"/><rect x="155.9" y="478.7" width="636.6" height="10.9" fill="url(#g46)"/><rect x="155.9" y="488.6" width="636.6" height="10.9" fill="url(#g47)"/><rect x="155.9" y="498.6" width="636.6" height="10.9" fill="url(#g48)"/><rect x="155.9" y="508.5" width="636.6" height="10.9" fill="url(#g49)"/><rect x="155.9" y="518.5" width="636.6" height="10.9" fill="url(#g50)"/><rect x="155.9" y="528.4" width="636.6" height="10.9" fill="url(#g51)"/><rect x="155.9" y="538.3" width="636.6" height="10.9" fill="url(#g52)"/><rect x="155.9" y="548.3" width="636.6" height="10.9" fill="url(#g53)"/><rect x="155.9" y="558.2" width="636.6" height="10.9" fill="url(#g54)"/><rect x="155.9" y="568.2" width="636.6" height="10.9" fill="url(#g55)"/><rect x="155.9" y="578.1" width="636.6" height="10.9" fill="url(#g56)"/><rect x="155.9" y="588.1" width="636.6" height="10.9" fill="url(#g57)"/><rect x="155.9" y="598" width="636.6" height="10.9" fill="url(#g58)"/><rect x="155.9" y="608" width="636.6" height="10.9" fill="url(#g59)"/><rect x="155.9" y="617.9" width="636.6" height="10.9" fill="url(#g60)"/><rect x="155.9" y="627.9" width="636.6" height="10.9" fill="url(#g61)"/><rect x="155.9" y="637.8" width="636.6" height="10.9" fill="url(#g62)"/><rect x="155.9" y="647.8" width="636.6" height="10.9" fill="url(#g63)"/><rect x="155.9" y="657.7" width="636.6" height="10.9" fill="url(#g64)"/><rect x="155.9" y="667.7" width="636.6" height="10.9" fill="url(#g65)"/><rect x="155.9" y="677.6" width="636.6" height="10.9" fill="url(#g66)"/></g><polyline points="155.9,243.6 166.1,232.8 176.3,221.6 195.4,199.3 205.4,186.9 214.3,175.5 223.5,163.1 232.4,150.5 241.4,137.5 249.9,124.4 266.4,97.6 282.2,69.8 297,41.5" fill="none" stroke="#111" stroke-width="1.4"/><polyline points="155.9,472.2 170,463.8 184,455 196.7,446.5 209.5,437.5 222.2,428 235,417.9 246.5,408.3 258,398.1 269.4,387.3 279.9,377 290.8,365.5 301.2,354.1 311.5,341.9 321.2,329.8 330.7,317.3 339.6,304.9 348.7,291.5 357.5,277.8 366.1,263.5 374.1,249.6 381.8,235.4 389.6,220.1 397,204.8 404.7,188.1 411.8,171.6 418.7,154.6 425.4,137.2 431.9,119.3 438.5,100.2 444.8,81 450.6,61.9 456.6,41.5" fill="none" stroke="#111" stroke-width="1.4"/><polyline points="284.4,678.1 307.7,672.3 330.7,665.7 351.4,659 371.5,651.5 389.9,643.7 407.2,635.3 423.8,626.1 438.4,616.9 452.6,606.7 465.9,595.7 478.7,583.8 490.1,571.5 501.1,558.2 511.2,544.1 520.8,529 529.7,513 538.1,495.7 545.8,477.8 553.5,457.4 560.3,436.6 566.8,414 573,389.8 578.6,364.3 583.8,337.5 588.9,308.1 593.5,277.2 597.8,244.3 601.9,208.6 605.8,170.4 609.3,130.8 612.6,87.4 615.7,41.5" fill="none" stroke="#111" stroke-width="1.4"/><polyline points="792.5,142.4 787.7,118 783.2,93.8 778.8,68.3 774.5,41.5" fill="none" stroke="#111" stroke-width="1.4"/></g><rect x="224.5" y="129.7" width="21" height="17" fill="#fff" stroke="#1a1a1a" stroke-width="1.6"/><text x="235" y="143" font-size="13.5" text-anchor="middle" textLength="13.2" lengthAdjust="spacingAndGlyphs">80</text><rect x="334.9" y="279.1" width="21" height="17" fill="#fff" stroke="#1a1a1a" stroke-width="1.6"/><text x="345.4" y="292.4" font-size="13.5" text-anchor="middle" textLength="13.2" lengthAdjust="spacingAndGlyphs">85</text><rect x="540.2" y="446.4" width="21" height="17" fill="#fff" stroke="#1a1a1a" stroke-width="1.6"/><text x="550.7" y="459.7" font-size="13.5" text-anchor="middle" textLength="13.2" lengthAdjust="spacingAndGlyphs">90</text><rect x="770.5" y="64.4" width="21" height="17" fill="#fff" stroke="#1a1a1a" stroke-width="1.6"/><text x="781" y="77.7" font-size="13.5" text-anchor="middle" textLength="13.2" lengthAdjust="spacingAndGlyphs">95</text><circle cx="474.2" cy="359.8" r="6.2" fill="#c4001e" stroke="#1a1a1a" stroke-width="1.3"/><text x="461.7" y="364.3" font-size="13" text-anchor="end">6</text><rect x="155.9" y="41.5" width="636.6" height="636.6" fill="none" stroke="#111" stroke-width="1.6"/><path d="M155.9 678.1V693.1M155.9 41.5H140.9M315.1 678.1V693.1M155.9 200.7H140.9M474.2 678.1V693.1M155.9 359.8H140.9M633.4 678.1V693.1M155.9 519H140.9M792.5 678.1V693.1M155.9 678.1H140.9" stroke="#111" stroke-width="1.5" fill="none"/><g clip-path="url(#c68)"><g filter="url(#f135)"><rect x="157" y="829.2" width="636.2" height="10.9" fill="url(#g69)"/><rect x="157" y="839.1" width="636.2" height="10.9" fill="url(#g70)"/><rect x="157" y="849" width="636.2" height="10.9" fill="url(#g71)"/><rect x="157" y="858.9" width="636.2" height="10.9" fill="url(#g72)"/><rect x="157" y="868.9" width="636.2" height="10.9" fill="url(#g73)"/><rect x="157" y="878.8" width="636.2" height="10.9" fill="url(#g74)"/><rect x="157" y="888.7" width="636.2" height="10.9" fill="url(#g75)"/><rect x="157" y="898.6" width="636.2" height="10.9" fill="url(#g76)"/><rect x="157" y="908.6" width="636.2" height="10.9" fill="url(#g77)"/><rect x="157" y="918.5" width="636.2" height="10.9" fill="url(#g78)"/><rect x="157" y="928.4" width="636.2" height="10.9" fill="url(#g79)"/><rect x="157" y="938.3" width="636.2" height="10.9" fill="url(#g80)"/><rect x="157" y="948.3" width="636.2" height="10.9" fill="url(#g81)"/><rect x="157" y="958.2" width="636.2" height="10.9" fill="url(#g82)"/><rect x="157" y="968.1" width="636.2" height="10.9" fill="url(#g83)"/><rect x="157" y="978" width="636.2" height="10.9" fill="url(#g84)"/><rect x="157" y="988" width="636.2" height="10.9" fill="url(#g85)"/><rect x="157" y="997.9" width="636.2" height="10.9" fill="url(#g86)"/><rect x="157" y="1007.8" width="636.2" height="10.9" fill="url(#g87)"/><rect x="157" y="1017.7" width="636.2" height="10.9" fill="url(#g88)"/><rect x="157" y="1027.6" width="636.2" height="10.9" fill="url(#g89)"/><rect x="157" y="1037.6" width="636.2" height="10.9" fill="url(#g90)"/><rect x="157" y="1047.5" width="636.2" height="10.9" fill="url(#g91)"/><rect x="157" y="1057.4" width="636.2" height="10.9" fill="url(#g92)"/><rect x="157" y="1067.3" width="636.2" height="10.9" fill="url(#g93)"/><rect x="157" y="1077.3" width="636.2" height="10.9" fill="url(#g94)"/><rect x="157" y="1087.2" width="636.2" height="10.9" fill="url(#g95)"/><rect x="157" y="1097.1" width="636.2" height="10.9" fill="url(#g96)"/><rect x="157" y="1107" width="636.2" height="10.9" fill="url(#g97)"/><rect x="157" y="1117" width="636.2" height="10.9" fill="url(#g98)"/><rect x="157" y="1126.9" width="636.2" height="10.9" fill="url(#g99)"/><rect x="157" y="1136.8" width="636.2" height="10.9" fill="url(#g100)"/><rect x="157" y="1146.7" width="636.2" height="10.9" fill="url(#g101)"/><rect x="157" y="1156.7" width="636.2" height="10.9" fill="url(#g102)"/><rect x="157" y="1166.6" width="636.2" height="10.9" fill="url(#g103)"/><rect x="157" y="1176.5" width="636.2" height="10.9" fill="url(#g104)"/><rect x="157" y="1186.4" width="636.2" height="10.9" fill="url(#g105)"/><rect x="157" y="1196.3" width="636.2" height="10.9" fill="url(#g106)"/><rect x="157" y="1206.3" width="636.2" height="10.9" fill="url(#g107)"/><rect x="157" y="1216.2" width="636.2" height="10.9" fill="url(#g108)"/><rect x="157" y="1226.1" width="636.2" height="10.9" fill="url(#g109)"/><rect x="157" y="1236" width="636.2" height="10.9" fill="url(#g110)"/><rect x="157" y="1246" width="636.2" height="10.9" fill="url(#g111)"/><rect x="157" y="1255.9" width="636.2" height="10.9" fill="url(#g112)"/><rect x="157" y="1265.8" width="636.2" height="10.9" fill="url(#g113)"/><rect x="157" y="1275.7" width="636.2" height="10.9" fill="url(#g114)"/><rect x="157" y="1285.7" width="636.2" height="10.9" fill="url(#g115)"/><rect x="157" y="1295.6" width="636.2" height="10.9" fill="url(#g116)"/><rect x="157" y="1305.5" width="636.2" height="10.9" fill="url(#g117)"/><rect x="157" y="1315.4" width="636.2" height="10.9" fill="url(#g118)"/><rect x="157" y="1325.3" width="636.2" height="10.9" fill="url(#g119)"/><rect x="157" y="1335.3" width="636.2" height="10.9" fill="url(#g120)"/><rect x="157" y="1345.2" width="636.2" height="10.9" fill="url(#g121)"/><rect x="157" y="1355.1" width="636.2" height="10.9" fill="url(#g122)"/><rect x="157" y="1365" width="636.2" height="10.9" fill="url(#g123)"/><rect x="157" y="1375" width="636.2" height="10.9" fill="url(#g124)"/><rect x="157" y="1384.9" width="636.2" height="10.9" fill="url(#g125)"/><rect x="157" y="1394.8" width="636.2" height="10.9" fill="url(#g126)"/><rect x="157" y="1404.7" width="636.2" height="10.9" fill="url(#g127)"/><rect x="157" y="1414.7" width="636.2" height="10.9" fill="url(#g128)"/><rect x="157" y="1424.6" width="636.2" height="10.9" fill="url(#g129)"/><rect x="157" y="1434.5" width="636.2" height="10.9" fill="url(#g130)"/><rect x="157" y="1444.4" width="636.2" height="10.9" fill="url(#g131)"/><rect x="157" y="1454.4" width="636.2" height="10.9" fill="url(#g132)"/><rect x="157" y="1464.3" width="636.2" height="10.9" fill="url(#g133)"/><rect x="157" y="1474.2" width="636.2" height="10.9" fill="url(#g134)"/></g><polyline points="157,890.3 183.3,839.6" fill="none" stroke="#111" stroke-width="1.4"/><polyline points="157,1414.1 195.8,1344.9 234.3,1274.9 271.9,1204.9 309.4,1133.6 346.7,1061.1 383.2,988.5 419.6,914.4 455.6,839.6" fill="none" stroke="#111" stroke-width="1.4"/><polyline points="419.9,1474.7 459.9,1398.3 499.1,1322 537.9,1244.3 576.5,1165.3 614.7,1085 652.5,1003.8 689.4,922.3 726,839.6" fill="none" stroke="#111" stroke-width="1.4"/><polyline points="715,1474.7 754.6,1392 793.2,1309.2" fill="none" stroke="#111" stroke-width="1.4"/></g><rect x="160" y="845.9" width="21" height="17" fill="#fff" stroke="#1a1a1a" stroke-width="1.6"/><text x="170.5" y="859.2" font-size="13.5" text-anchor="middle" textLength="13.2" lengthAdjust="spacingAndGlyphs">80</text><rect x="298.2" y="1116.7" width="21" height="17" fill="#fff" stroke="#1a1a1a" stroke-width="1.6"/><text x="308.7" y="1130" font-size="13.5" text-anchor="middle" textLength="13.2" lengthAdjust="spacingAndGlyphs">85</text><rect x="568.1" y="1143.3" width="21" height="17" fill="#fff" stroke="#1a1a1a" stroke-width="1.6"/><text x="578.6" y="1156.6" font-size="13.5" text-anchor="middle" textLength="13.2" lengthAdjust="spacingAndGlyphs">90</text><rect x="743" y="1378.3" width="21" height="17" fill="#fff" stroke="#1a1a1a" stroke-width="1.6"/><text x="753.5" y="1391.6" font-size="13.5" text-anchor="middle" textLength="13.2" lengthAdjust="spacingAndGlyphs">95</text><circle cx="475.1" cy="1157.2" r="6.2" fill="#c4001e" stroke="#1a1a1a" stroke-width="1.3"/><text x="462.6" y="1161.7" font-size="13" text-anchor="end">6</text><rect x="157" y="839.6" width="636.2" height="635.1" fill="none" stroke="#111" stroke-width="1.6"/><path d="M157 1474.7V1489.7M157 839.6H142M316.1 1474.7V1489.7M157 998.4H142M475.1 1474.7V1489.7M157 1157.2H142M634.2 1474.7V1489.7M157 1315.9H142M793.2 1474.7V1489.7M157 1474.7H142" stroke="#111" stroke-width="1.5" fill="none"/><g clip-path="url(#c136)"><g filter="url(#f203)"><rect x="162.5" y="1657.9" width="638.9" height="11" fill="url(#g137)"/><rect x="162.5" y="1667.9" width="638.9" height="11" fill="url(#g138)"/><rect x="162.5" y="1677.9" width="638.9" height="11" fill="url(#g139)"/><rect x="162.5" y="1687.8" width="638.9" height="11" fill="url(#g140)"/><rect x="162.5" y="1697.8" width="638.9" height="11" fill="url(#g141)"/><rect x="162.5" y="1707.7" width="638.9" height="11" fill="url(#g142)"/><rect x="162.5" y="1717.7" width="638.9" height="11" fill="url(#g143)"/><rect x="162.5" y="1727.7" width="638.9" height="11" fill="url(#g144)"/><rect x="162.5" y="1737.6" width="638.9" height="11" fill="url(#g145)"/><rect x="162.5" y="1747.6" width="638.9" height="11" fill="url(#g146)"/><rect x="162.5" y="1757.5" width="638.9" height="11" fill="url(#g147)"/><rect x="162.5" y="1767.5" width="638.9" height="11" fill="url(#g148)"/><rect x="162.5" y="1777.5" width="638.9" height="11" fill="url(#g149)"/><rect x="162.5" y="1787.4" width="638.9" height="11" fill="url(#g150)"/><rect x="162.5" y="1797.4" width="638.9" height="11" fill="url(#g151)"/><rect x="162.5" y="1807.4" width="638.9" height="11" fill="url(#g152)"/><rect x="162.5" y="1817.3" width="638.9" height="11" fill="url(#g153)"/><rect x="162.5" y="1827.3" width="638.9" height="11" fill="url(#g154)"/><rect x="162.5" y="1837.2" width="638.9" height="11" fill="url(#g155)"/><rect x="162.5" y="1847.2" width="638.9" height="11" fill="url(#g156)"/><rect x="162.5" y="1857.2" width="638.9" height="11" fill="url(#g157)"/><rect x="162.5" y="1867.1" width="638.9" height="11" fill="url(#g158)"/><rect x="162.5" y="1877.1" width="638.9" height="11" fill="url(#g159)"/><rect x="162.5" y="1887" width="638.9" height="11" fill="url(#g160)"/><rect x="162.5" y="1897" width="638.9" height="11" fill="url(#g161)"/><rect x="162.5" y="1907" width="638.9" height="11" fill="url(#g162)"/><rect x="162.5" y="1916.9" width="638.9" height="11" fill="url(#g163)"/><rect x="162.5" y="1926.9" width="638.9" height="11" fill="url(#g164)"/><rect x="162.5" y="1936.8" width="638.9" height="11" fill="url(#g165)"/><rect x="162.5" y="1946.8" width="638.9" height="11" fill="url(#g166)"/><rect x="162.5" y="1956.8" width="638.9" height="11" fill="url(#g167)"/><rect x="162.5" y="1966.7" width="638.9" height="11" fill="url(#g168)"/><rect x="162.5" y="1976.7" width="638.9" height="11" fill="url(#g169)"/><rect x="162.5" y="1986.7" width="638.9" height="11" fill="url(#g170)"/><rect x="162.5" y="1996.6" width="638.9" height="11" fill="url(#g171)"/><rect x="162.5" y="2006.6" width="638.9" height="11" fill="url(#g172)"/><rect x="162.5" y="2016.5" width="638.9" height="11" fill="url(#g173)"/><rect x="162.5" y="2026.5" width="638.9" height="11" fill="url(#g174)"/><rect x="162.5" y="2036.5" width="638.9" height="11" fill="url(#g175)"/><rect x="162.5" y="2046.4" width="638.9" height="11" fill="url(#g176)"/><rect x="162.5" y="2056.4" width="638.9" height="11" fill="url(#g177)"/><rect x="162.5" y="2066.3" width="638.9" height="11" fill="url(#g178)"/><rect x="162.5" y="2076.3" width="638.9" height="11" fill="url(#g179)"/><rect x="162.5" y="2086.3" width="638.9" height="11" fill="url(#g180)"/><rect x="162.5" y="2096.2" width="638.9" height="11" fill="url(#g181)"/><rect x="162.5" y="2106.2" width="638.9" height="11" fill="url(#g182)"/><rect x="162.5" y="2116.1" width="638.9" height="11" fill="url(#g183)"/><rect x="162.5" y="2126.1" width="638.9" height="11" fill="url(#g184)"/><rect x="162.5" y="2136.1" width="638.9" height="11" fill="url(#g185)"/><rect x="162.5" y="2146" width="638.9" height="11" fill="url(#g186)"/><rect x="162.5" y="2156" width="638.9" height="11" fill="url(#g187)"/><rect x="162.5" y="2165.9" width="638.9" height="11" fill="url(#g188)"/><rect x="162.5" y="2175.9" width="638.9" height="11" fill="url(#g189)"/><rect x="162.5" y="2185.9" width="638.9" height="11" fill="url(#g190)"/><rect x="162.5" y="2195.8" width="638.9" height="11" fill="url(#g191)"/><rect x="162.5" y="2205.8" width="638.9" height="11" fill="url(#g192)"/><rect x="162.5" y="2215.8" width="638.9" height="11" fill="url(#g193)"/><rect x="162.5" y="2225.7" width="638.9" height="11" fill="url(#g194)"/><rect x="162.5" y="2235.7" width="638.9" height="11" fill="url(#g195)"/><rect x="162.5" y="2245.6" width="638.9" height="11" fill="url(#g196)"/><rect x="162.5" y="2255.6" width="638.9" height="11" fill="url(#g197)"/><rect x="162.5" y="2265.6" width="638.9" height="11" fill="url(#g198)"/><rect x="162.5" y="2275.5" width="638.9" height="11" fill="url(#g199)"/><rect x="162.5" y="2285.5" width="638.9" height="11" fill="url(#g200)"/><rect x="162.5" y="2295.4" width="638.9" height="11" fill="url(#g201)"/><rect x="162.5" y="2305.4" width="638.9" height="11" fill="url(#g202)"/></g><polyline points="162.5,1788.3 190.7,1783.8 216.3,1779.1 240.6,1774.1 263.6,1768.6 285.4,1762.8 305.9,1756.6 325.1,1750 343,1743 359.7,1735.7 376.3,1727.3 390.4,1719.3 404.5,1710.2 418,1700.3 430.1,1690.3 441.1,1679.9 452,1668.4" fill="none" stroke="#111" stroke-width="1.4"/><polyline points="801.4,2035.8 791.2,2046.4 782.2,2056.8 773.2,2068.5 764.3,2081.6 756.1,2095.1 748.5,2109.2 741.2,2124.3 734.6,2139.8 728.2,2156.4 722.2,2174.3 716.4,2193.5 711.2,2212.6 706,2234.4 701.4,2256.1 696.8,2280.3 692.5,2305.9" fill="none" stroke="#111" stroke-width="1.4"/><polyline points="162.5,1961.7 183,1966.5 202.2,1971.5 221.4,1977 239.3,1982.6 256,1988.3 272.6,1994.5 288,2000.8 303.3,2007.7 317.4,2014.7 331.5,2022.3 344.3,2029.9 356.2,2037.6 367.4,2045.5 378.9,2054.4 389.2,2063.2 400.2,2073.4 410.2,2083.6 419.3,2093.8 428.7,2105.3 437.3,2116.8 445.9,2129.6 453.8,2142.4 461,2155.1 468.3,2169.2 474.9,2183.3 481.5,2198.6 487.7,2214.5 493.9,2231.8 499.7,2249.7 505.1,2267.6 510.3,2286.7 515,2305.9" fill="none" stroke="#111" stroke-width="1.4"/><polyline points="162.5,2134.8 176.6,2143.6 189.4,2152.1 202.2,2161 214.8,2170.5 226.5,2179.7 238.3,2189.6 249.6,2199.7 260.5,2210.1 271.3,2221 281.5,2231.8 291.6,2243.3 301.2,2254.8 311,2267.4 320,2279.5 328.9,2292.5 337.7,2305.9" fill="none" stroke="#111" stroke-width="1.4"/></g><rect x="319.6" y="1730" width="21" height="17" fill="#fff" stroke="#1a1a1a" stroke-width="1.6"/><text x="330.1" y="1743.3" font-size="13.5" text-anchor="middle" textLength="13.2" lengthAdjust="spacingAndGlyphs">85</text><rect x="391.7" y="2058" width="21" height="17" fill="#fff" stroke="#1a1a1a" stroke-width="1.6"/><text x="402.2" y="2071.3" font-size="13.5" text-anchor="middle" textLength="13.2" lengthAdjust="spacingAndGlyphs">90</text><rect x="247.6" y="2191" width="21" height="17" fill="#fff" stroke="#1a1a1a" stroke-width="1.6"/><text x="258.1" y="2204.3" font-size="13.5" text-anchor="middle" textLength="13.2" lengthAdjust="spacingAndGlyphs">95</text><rect x="719" y="2136.6" width="21" height="17" fill="#fff" stroke="#1a1a1a" stroke-width="1.6"/><text x="729.5" y="2149.9" font-size="13.5" text-anchor="middle" textLength="13.2" lengthAdjust="spacingAndGlyphs">85</text><circle cx="481.9" cy="1987.2" r="6.2" fill="#c4001e" stroke="#1a1a1a" stroke-width="1.3"/><text x="469.4" y="1991.7" font-size="13" text-anchor="end">6</text><rect x="162.5" y="1668.4" width="638.9" height="637.5" fill="none" stroke="#111" stroke-width="1.6"/><path d="M162.5 2305.9V2320.9M162.5 1668.4H147.5M322.2 2305.9V2320.9M162.5 1827.8H147.5M481.9 2305.9V2320.9M162.5 1987.2H147.5M641.7 2305.9V2320.9M162.5 2146.5H147.5M801.4 2305.9V2320.9M162.5 2305.9H147.5" stroke="#111" stroke-width="1.5" fill="none"/><path d="M966.9 454.2L1285.9 346.1L1605 453.9M964.2 399.4L1285.9 296.7L1607.6 399.1M961.6 344.6L1285.8 247.3L1610.2 344.3M958.9 289.9L1285.8 197.8L1612.8 289.5M956.3 235.1L1285.8 148.4L1615.4 234.7M953.6 180.3L1285.8 99L1618 179.9M951 125.6L1285.8 49.6L1620.6 125.1M1046.6 427.2L1034.7 106.6M1365.7 373.1L1369.5 68.5M1126.4 400.1L1118.4 87.6M1445.4 400L1453.2 87.3M1206.1 373.1L1202.1 68.6M1525.2 426.9L1536.9 106.2M971.8 557L951 125.6M1285.9 438.9L1285.8 49.6M1600.1 556.8L1620.6 125.1" stroke="#1c1c1c" stroke-width="1.7" fill="none"/><polygon points="971.8,557 1285.9,707.2 1600.1,556.8 1285.9,438.9" fill="#646464" stroke="#111" stroke-width="1.8" stroke-linejoin="round"/><polyline points="1029.5,535.3 1032.4,542 1034.9,549 1037,556.1 1038.5,562.6 1039.5,569.1 1040.1,576.3 1040.3,583 1040,589.6" fill="none" stroke="#69c1fa" stroke-width="3" stroke-linecap="round"/><polyline points="1084.9,514.5 1090.7,521.5 1095.7,528.2 1100.3,535 1104.6,542.1 1108.1,548.9 1111.2,555.9 1113.6,562.4 1115.6,569.2 1117.1,576.3 1117.9,582.9 1118.3,589.8 1118.1,596.8 1117.4,603.6 1116.2,610.3 1114.4,617.5 1112.2,624.2" fill="none" stroke="#94ffb1" stroke-width="3" stroke-linecap="round"/><polyline points="1138.2,494.5 1152.5,505.6 1165.7,516.8 1176.9,527.5 1186.2,537.7 1194.2,547.8 1200.9,557.9 1203.5,562.7 1206,567.8 1208.2,573.1 1209.8,577.7 1211.2,583 1212.2,588.2 1212.9,593.4 1213.1,598.1 1213.1,603.2 1212.7,608 1212,612.7 1210.8,618.2 1207.7,628.1 1205.5,633.3 1202.8,639 1196.7,649.6 1188.9,660.8" fill="none" stroke="#97ff4d" stroke-width="3" stroke-linecap="round"/><polyline points="1189.3,475.3 1222.2,492.6 1250.7,508.8 1262.8,516.1 1274.5,523.6 1285.2,530.9 1294.9,537.9 1303.4,544.7 1311,551.2 1318.1,558 1324.1,564.4 1329,570.5 1333.5,577 1337,583.4 1339.6,589.4 1341.4,595.4 1342.5,601.4 1342.8,607.4 1342.3,613.6 1341.1,619.8 1339,626.2 1336.1,632.7 1332.2,639.6 1327.5,646.6 1322.1,653.4 1315.6,660.9 1308.4,668.2 1300.7,675.3 1291.8,683.1 1281.4,691.5 1270.5,699.9" fill="none" stroke="#a3fe3c" stroke-width="3" stroke-linecap="round"/><polyline points="1238.5,456.8 1306.7,481.1 1364.4,500.8 1412.3,516 1433.8,522.5 1453.7,528 1471.7,532.7 1489.2,536.8 1506.1,540.4 1521,543.1 1536.1,545.3 1550.1,546.8 1563.7,547.8 1577.4,548.3" fill="none" stroke="#dafc3a" stroke-width="3" stroke-linecap="round"/><g fill="#111"><circle cx="966.9" cy="454.2" r="3"/><circle cx="964.2" cy="399.4" r="3"/><circle cx="961.6" cy="344.6" r="3"/><circle cx="958.9" cy="289.9" r="3"/><circle cx="956.3" cy="235.1" r="3"/><circle cx="953.6" cy="180.3" r="3"/><circle cx="951" cy="125.6" r="3"/><circle cx="971.8" cy="557" r="3"/><circle cx="1285.9" cy="707.2" r="3"/><circle cx="1050.3" cy="594.6" r="3"/><circle cx="1364.5" cy="669.6" r="3"/><circle cx="1128.9" cy="632.1" r="3"/><circle cx="1443" cy="632" r="3"/><circle cx="1207.4" cy="669.7" r="3"/><circle cx="1521.6" cy="594.4" r="3"/><circle cx="1285.9" cy="707.2" r="3"/><circle cx="1600.1" cy="556.8" r="3"/></g><g clip-path="url(#sc204)"><g filter="url(#sf204)" stroke-width="1"><polygon points="1285.7,367.7 1305,360.6 1285.7,363.5 1266.5,371.1" fill="#a6fe3c" stroke="#a6fe3c"/><polygon points="1305,360.6 1324.1,353.5 1304.7,355.9 1285.7,363.5" fill="#a6fe3c" stroke="#a6fe3c"/><polygon points="1324.1,353.5 1342.8,346.6 1323.5,348.5 1304.7,355.9" fill="#a6fe3c" stroke="#a6fe3c"/><polygon points="1342.8,346.6 1361.3,339.7 1341.9,341.1 1323.5,348.5" fill="#a8fd3c" stroke="#a8fd3c"/><polygon points="1361.3,339.7 1379.5,333 1360.1,333.8 1341.9,341.1" fill="#aafd3c" stroke="#aafd3c"/><polygon points="1379.5,333 1397.4,326.3 1378.1,326.7 1360.1,333.8" fill="#abfd3c" stroke="#abfd3c"/><polygon points="1397.4,326.3 1415.1,319.7 1395.8,319.6 1378.1,326.7" fill="#adfc3c" stroke="#adfc3c"/><polygon points="1415.1,319.7 1432.6,313.2 1413.2,312.6 1395.8,319.6" fill="#aefc3c" stroke="#aefc3c"/><polygon points="1432.6,313.2 1449.8,306.8 1430.5,305.7 1413.2,312.6" fill="#b1fc3c" stroke="#b1fc3c"/><polygon points="1449.8,306.8 1466.8,300.5 1447.5,298.9 1430.5,305.7" fill="#b4fc3c" stroke="#b4fc3c"/><polygon points="1466.8,300.5 1483.5,294.2 1464.2,292.2 1447.5,298.9" fill="#b6fc3c" stroke="#b6fc3c"/><polygon points="1483.5,294.2 1500.1,288 1480.8,285.5 1464.2,292.2" fill="#b9fc3c" stroke="#b9fc3c"/><polygon points="1500.1,288 1516.4,281.9 1497.1,279 1480.8,285.5" fill="#bcfd3c" stroke="#bcfd3c"/><polygon points="1516.4,281.9 1532.4,275.9 1513.2,272.5 1497.1,279" fill="#bffd3c" stroke="#bffd3c"/><polygon points="1532.4,275.9 1548.3,270 1529.1,266.1 1513.2,272.5" fill="#c2fd3c" stroke="#c2fd3c"/><polygon points="1548.3,270 1564,264.1 1544.8,259.8 1529.1,266.1" fill="#c5fd3c" stroke="#c5fd3c"/><polygon points="1564,264.1 1579.4,258.3 1560.3,253.5 1544.8,259.8" fill="#c7fd3c" stroke="#c7fd3c"/><polygon points="1579.4,258.3 1594.7,252.5 1575.6,247.4 1560.3,253.5" fill="#cafd3c" stroke="#cafd3c"/><polygon points="1594.7,252.5 1609.7,246.9 1590.7,241.3 1575.6,247.4" fill="#cdfd3b" stroke="#cdfd3b"/><polygon points="1609.7,246.9 1624.6,241.3 1605.6,235.2 1590.7,241.3" fill="#d0fd3b" stroke="#d0fd3b"/><polygon points="1624.6,241.3 1639.3,235.8 1620.3,229.3 1605.6,235.2" fill="#d3fd3b" stroke="#d3fd3b"/><polygon points="1639.3,235.8 1653.7,230.3 1634.9,223.4 1620.3,229.3" fill="#d6fc3a" stroke="#d6fc3a"/><polygon points="1653.7,230.3 1668.1,224.9 1649.2,217.6 1634.9,223.4" fill="#d6fc3a" stroke="#d6fc3a"/><polygon points="1668.1,224.9 1682.2,219.5 1663.4,211.8 1649.2,217.6" fill="#d6fc3a" stroke="#d6fc3a"/><polygon points="1266.5,371.1 1285.7,363.5 1266.8,366.3 1247.6,374.5" fill="#a6fe3c" stroke="#a6fe3c"/><polygon points="1285.7,363.5 1304.7,355.9 1285.8,358.2 1266.8,366.3" fill="#a6fe3c" stroke="#a6fe3c"/><polygon points="1304.7,355.9 1323.5,348.5 1304.5,350.3 1285.8,358.2" fill="#a6fe3c" stroke="#a6fe3c"/><polygon points="1323.5,348.5 1341.9,341.1 1322.9,342.4 1304.5,350.3" fill="#a8fd3c" stroke="#a8fd3c"/><polygon points="1341.9,341.1 1360.1,333.8 1341.1,334.7 1322.9,342.4" fill="#aafd3c" stroke="#aafd3c"/><polygon points="1360.1,333.8 1378.1,326.7 1359,327 1341.1,334.7" fill="#abfd3c" stroke="#abfd3c"/><polygon points="1378.1,326.7 1395.8,319.6 1376.7,319.5 1359,327" fill="#adfc3c" stroke="#adfc3c"/><polygon points="1395.8,319.6 1413.2,312.6 1394.2,312 1376.7,319.5" fill="#aefc3c" stroke="#aefc3c"/><polygon points="1413.2,312.6 1430.5,305.7 1411.4,304.6 1394.2,312" fill="#b1fc3c" stroke="#b1fc3c"/><polygon points="1430.5,305.7 1447.5,298.9 1428.4,297.4 1411.4,304.6" fill="#b4fc3c" stroke="#b4fc3c"/><polygon points="1447.5,298.9 1464.2,292.2 1445.2,290.2 1428.4,297.4" fill="#b6fc3c" stroke="#b6fc3c"/><polygon points="1464.2,292.2 1480.8,285.5 1461.8,283.1 1445.2,290.2" fill="#b9fc3c" stroke="#b9fc3c"/><polygon points="1480.8,285.5 1497.1,279 1478.1,276.1 1461.8,283.1" fill="#bcfd3c" stroke="#bcfd3c"/><polygon points="1497.1,279 1513.2,272.5 1494.3,269.1 1478.1,276.1" fill="#bffd3c" stroke="#bffd3c"/><polygon points="1513.2,272.5 1529.1,266.1 1510.2,262.3 1494.3,269.1" fill="#c2fd3c" stroke="#c2fd3c"/><polygon points="1529.1,266.1 1544.8,259.8 1525.9,255.5 1510.2,262.3" fill="#c5fd3c" stroke="#c5fd3c"/><polygon points="1544.8,259.8 1560.3,253.5 1541.4,248.8 1525.9,255.5" fill="#c7fd3c" stroke="#c7fd3c"/><polygon points="1560.3,253.5 1575.6,247.4 1556.8,242.2 1541.4,248.8" fill="#cafd3c" stroke="#cafd3c"/><polygon points="1575.6,247.4 1590.7,241.3 1571.9,235.7 1556.8,242.2" fill="#cdfd3b" stroke="#cdfd3b"/><polygon points="1590.7,241.3 1605.6,235.2 1586.9,229.2 1571.9,235.7" fill="#d0fd3b" stroke="#d0fd3b"/><polygon points="1605.6,235.2 1620.3,229.3 1601.7,222.9 1586.9,229.2" fill="#d3fd3b" stroke="#d3fd3b"/><polygon points="1620.3,229.3 1634.9,223.4 1616.2,216.6 1601.7,222.9" fill="#d6fc3a" stroke="#d6fc3a"/><polygon points="1634.9,223.4 1649.2,217.6 1630.7,210.3 1616.2,216.6" fill="#d6fc3a" stroke="#d6fc3a"/><polygon points="1649.2,217.6 1663.4,211.8 1644.9,204.2 1630.7,210.3" fill="#d6fc3a" stroke="#d6fc3a"/><polygon points="1247.6,374.5 1266.8,366.3 1248.2,369.1 1229,377.8" fill="#a6fe3c" stroke="#a6fe3c"/><polygon points="1266.8,366.3 1285.8,358.2 1267.1,360.5 1248.2,369.1" fill="#a6fe3c" stroke="#a6fe3c"/><polygon points="1285.8,358.2 1304.5,350.3 1285.8,352.1 1267.1,360.5" fill="#a6fe3c" stroke="#a6fe3c"/><polygon points="1304.5,350.3 1322.9,342.4 1304.2,343.7 1285.8,352.1" fill="#a8fd3c" stroke="#a8fd3c"/><polygon points="1322.9,342.4 1341.1,334.7 1322.3,335.5 1304.2,343.7" fill="#aafd3c" stroke="#aafd3c"/><polygon points="1341.1,334.7 1359,327 1340.3,327.4 1322.3,335.5" fill="#abfd3c" stroke="#abfd3c"/><polygon points="1359,327 1376.7,319.5 1358,319.3 1340.3,327.4" fill="#adfc3c" stroke="#adfc3c"/><polygon points="1376.7,319.5 1394.2,312 1375.4,311.4 1358,319.3" fill="#aefc3c" stroke="#aefc3c"/><polygon points="1394.2,312 1411.4,304.6 1392.7,303.6 1375.4,311.4" fill="#b1fc3c" stroke="#b1fc3c"/><polygon points="1411.4,304.6 1428.4,297.4 1409.7,295.8 1392.7,303.6" fill="#b4fc3c" stroke="#b4fc3c"/><polygon points="1428.4,297.4 1445.2,290.2 1426.5,288.2 1409.7,295.8" fill="#b6fc3c" stroke="#b6fc3c"/><polygon points="1445.2,290.2 1461.8,283.1 1443,280.6 1426.5,288.2" fill="#b9fc3c" stroke="#b9fc3c"/><polygon points="1461.8,283.1 1478.1,276.1 1459.4,273.2 1443,280.6" fill="#bcfd3c" stroke="#bcfd3c"/><polygon points="1478.1,276.1 1494.3,269.1 1475.6,265.8 1459.4,273.2" fill="#bffd3c" stroke="#bffd3c"/><polygon points="1494.3,269.1 1510.2,262.3 1491.5,258.5 1475.6,265.8" fill="#c2fd3c" stroke="#c2fd3c"/><polygon points="1510.2,262.3 1525.9,255.5 1507.3,251.3 1491.5,258.5" fill="#c5fd3c" stroke="#c5fd3c"/><polygon points="1525.9,255.5 1541.4,248.8 1522.8,244.2 1507.3,251.3" fill="#c7fd3c" stroke="#c7fd3c"/><polygon points="1541.4,248.8 1556.8,242.2 1538.2,237.2 1522.8,244.2" fill="#cafd3c" stroke="#cafd3c"/><polygon points="1556.8,242.2 1571.9,235.7 1553.4,230.2 1538.2,237.2" fill="#cdfd3b" stroke="#cdfd3b"/><polygon points="1571.9,235.7 1586.9,229.2 1568.4,223.3 1553.4,230.2" fill="#d0fd3b" stroke="#d0fd3b"/><polygon points="1586.9,229.2 1601.7,222.9 1583.2,216.5 1568.4,223.3" fill="#d3fd3b" stroke="#d3fd3b"/><polygon points="1601.7,222.9 1616.2,216.6 1597.8,209.8 1583.2,216.5" fill="#d6fc3a" stroke="#d6fc3a"/><polygon points="1616.2,216.6 1630.7,210.3 1612.3,203.2 1597.8,209.8" fill="#d6fc3a" stroke="#d6fc3a"/><polygon points="1630.7,210.3 1644.9,204.2 1626.6,196.6 1612.3,203.2" fill="#d6fc3a" stroke="#d6fc3a"/><polygon points="1229,377.8 1248.2,369.1 1229.8,371.8 1210.7,381" fill="#9fff3c" stroke="#9fff3c"/><polygon points="1248.2,369.1 1267.1,360.5 1248.7,362.8 1229.8,371.8" fill="#9fff3c" stroke="#9fff3c"/><polygon points="1267.1,360.5 1285.8,352.1 1267.4,353.9 1248.7,362.8" fill="#9fff3c" stroke="#9fff3c"/><polygon points="1285.8,352.1 1304.2,343.7 1285.8,345 1267.4,353.9" fill="#a1ff3c" stroke="#a1ff3c"/><polygon points="1304.2,343.7 1322.3,335.5 1303.9,336.3 1285.8,345" fill="#a3fe3c" stroke="#a3fe3c"/><polygon points="1322.3,335.5 1340.3,327.4 1321.8,327.7 1303.9,336.3" fill="#a5fe3c" stroke="#a5fe3c"/><polygon points="1340.3,327.4 1358,319.3 1339.5,319.2 1321.8,327.7" fill="#a7fd3c" stroke="#a7fd3c"/><polygon points="1358,319.3 1375.4,311.4 1357,310.8 1339.5,319.2" fill="#a9fd3c" stroke="#a9fd3c"/><polygon points="1375.4,311.4 1392.7,303.6 1374.2,302.5 1357,310.8" fill="#abfd3c" stroke="#abfd3c"/><polygon points="1392.7,303.6 1409.7,295.8 1391.2,294.3 1374.2,302.5" fill="#aefc3c" stroke="#aefc3c"/><polygon points="1409.7,295.8 1426.5,288.2 1408,286.2 1391.2,294.3" fill="#b0fc3c" stroke="#b0fc3c"/><polygon points="1426.5,288.2 1443,280.6 1424.6,278.2 1408,286.2" fill="#b4fc3c" stroke="#b4fc3c"/><polygon points="1443,280.6 1459.4,273.2 1440.9,270.3 1424.6,278.2" fill="#b7fc3c" stroke="#b7fc3c"/><polygon points="1459.4,273.2 1475.6,265.8 1457.1,262.5 1440.9,270.3" fill="#bbfc3c" stroke="#bbfc3c"/><polygon points="1475.6,265.8 1491.5,258.5 1473.1,254.8 1457.1,262.5" fill="#bffd3c" stroke="#bffd3c"/><polygon points="1491.5,258.5 1507.3,251.3 1488.9,247.2 1473.1,254.8" fill="#c3fd3c" stroke="#c3fd3c"/><polygon points="1507.3,251.3 1522.8,244.2 1504.5,239.6 1488.9,247.2" fill="#c6fd3c" stroke="#c6fd3c"/><polygon points="1522.8,244.2 1538.2,237.2 1519.9,232.2 1504.5,239.6" fill="#cafd3c" stroke="#cafd3c"/><polygon points="1538.2,237.2 1553.4,230.2 1535.1,224.8 1519.9,232.2" fill="#cefd3b" stroke="#cefd3b"/><polygon points="1553.4,230.2 1568.4,223.3 1550.1,217.5 1535.1,224.8" fill="#d1fd3b" stroke="#d1fd3b"/><polygon points="1568.4,223.3 1583.2,216.5 1565,210.3 1550.1,217.5" fill="#d5fc3a" stroke="#d5fc3a"/><polygon points="1583.2,216.5 1597.8,209.8 1579.6,203.2 1565,210.3" fill="#d9fc3a" stroke="#d9fc3a"/><polygon points="1597.8,209.8 1612.3,203.2 1594.1,196.1 1579.6,203.2" fill="#d9fc3a" stroke="#d9fc3a"/><polygon points="1612.3,203.2 1626.6,196.6 1608.5,189.1 1594.1,196.1" fill="#d9fc3a" stroke="#d9fc3a"/><polygon points="1210.7,381 1229.8,371.8 1211.8,374.5 1192.7,384.2" fill="#9bff3d" stroke="#9bff3d"/><polygon points="1229.8,371.8 1248.7,362.8 1230.7,365 1211.8,374.5" fill="#9bff3d" stroke="#9bff3d"/><polygon points="1248.7,362.8 1267.4,353.9 1249.3,355.6 1230.7,365" fill="#9bff3d" stroke="#9bff3d"/><polygon points="1267.4,353.9 1285.8,345 1267.6,346.3 1249.3,355.6" fill="#9cff3d" stroke="#9cff3d"/><polygon points="1285.8,345 1303.9,336.3 1285.8,337.1 1267.6,346.3" fill="#9dff3c" stroke="#9dff3c"/><polygon points="1303.9,336.3 1321.8,327.7 1303.7,328.1 1285.8,337.1" fill="#9fff3c" stroke="#9fff3c"/><polygon points="1321.8,327.7 1339.5,319.2 1321.3,319.1 1303.7,328.1" fill="#a1fe3c" stroke="#a1fe3c"/><polygon points="1339.5,319.2 1357,310.8 1338.8,310.2 1321.3,319.1" fill="#a4fe3c" stroke="#a4fe3c"/><polygon points="1357,310.8 1374.2,302.5 1356,301.5 1338.8,310.2" fill="#a7fd3c" stroke="#a7fd3c"/><polygon points="1374.2,302.5 1391.2,294.3 1373,292.9 1356,301.5" fill="#a9fd3c" stroke="#a9fd3c"/><polygon points="1391.2,294.3 1408,286.2 1389.8,284.3 1373,292.9" fill="#acfd3c" stroke="#acfd3c"/><polygon points="1408,286.2 1424.6,278.2 1406.4,275.9 1389.8,284.3" fill="#affc3c" stroke="#affc3c"/><polygon points="1424.6,278.2 1440.9,270.3 1422.8,267.5 1406.4,275.9" fill="#b3fc3c" stroke="#b3fc3c"/><polygon points="1440.9,270.3 1457.1,262.5 1438.9,259.3 1422.8,267.5" fill="#b7fc3c" stroke="#b7fc3c"/><polygon points="1457.1,262.5 1473.1,254.8 1454.9,251.1 1438.9,259.3" fill="#bcfd3c" stroke="#bcfd3c"/><polygon points="1473.1,254.8 1488.9,247.2 1470.7,243.1 1454.9,251.1" fill="#c0fd3c" stroke="#c0fd3c"/><polygon points="1488.9,247.2 1504.5,239.6 1486.3,235.1 1470.7,243.1" fill="#c5fd3c" stroke="#c5fd3c"/><polygon points="1504.5,239.6 1519.9,232.2 1501.8,227.2 1486.3,235.1" fill="#cafd3c" stroke="#cafd3c"/><polygon points="1519.9,232.2 1535.1,224.8 1517,219.4 1501.8,227.2" fill="#cefd3b" stroke="#cefd3b"/><polygon points="1535.1,224.8 1550.1,217.5 1532.1,211.7 1517,219.4" fill="#d3fd3b" stroke="#d3fd3b"/><polygon points="1550.1,217.5 1565,210.3 1547,204.1 1532.1,211.7" fill="#d7fc3a" stroke="#d7fc3a"/><polygon points="1565,210.3 1579.6,203.2 1561.7,196.6 1547,204.1" fill="#dcfc3a" stroke="#dcfc3a"/><polygon points="1579.6,203.2 1594.1,196.1 1576.2,189.1 1561.7,196.6" fill="#dcfc3a" stroke="#dcfc3a"/><polygon points="1594.1,196.1 1608.5,189.1 1590.6,181.7 1576.2,189.1" fill="#dcfc3a" stroke="#dcfc3a"/><polygon points="1192.7,384.2 1211.8,374.5 1194.1,377.2 1175.1,387.3" fill="#99ff40" stroke="#99ff40"/><polygon points="1211.8,374.5 1230.7,365 1212.9,367.2 1194.1,377.2" fill="#99ff40" stroke="#99ff40"/><polygon points="1230.7,365 1249.3,355.6 1231.5,357.3 1212.9,367.2" fill="#99ff40" stroke="#99ff40"/><polygon points="1249.3,355.6 1267.6,346.3 1249.8,347.5 1231.5,357.3" fill="#99ff3e" stroke="#99ff3e"/><polygon points="1267.6,346.3 1285.8,337.1 1267.9,337.9 1249.8,347.5" fill="#9aff3d" stroke="#9aff3d"/><polygon points="1285.8,337.1 1303.7,328.1 1285.8,328.4 1267.9,337.9" fill="#9cff3d" stroke="#9cff3d"/><polygon points="1303.7,328.1 1321.3,319.1 1303.4,319 1285.8,328.4" fill="#9dff3c" stroke="#9dff3c"/><polygon points="1321.3,319.1 1338.8,310.2 1320.8,309.7 1303.4,319" fill="#9fff3c" stroke="#9fff3c"/><polygon points="1338.8,310.2 1356,301.5 1338,300.5 1320.8,309.7" fill="#a2fe3c" stroke="#a2fe3c"/><polygon points="1356,301.5 1373,292.9 1355,291.4 1338,300.5" fill="#a5fe3c" stroke="#a5fe3c"/><polygon points="1373,292.9 1389.8,284.3 1371.8,282.4 1355,291.4" fill="#a8fd3c" stroke="#a8fd3c"/><polygon points="1389.8,284.3 1406.4,275.9 1388.4,273.5 1371.8,282.4" fill="#abfd3c" stroke="#abfd3c"/><polygon points="1406.4,275.9 1422.8,267.5 1404.8,264.8 1388.4,273.5" fill="#affc3c" stroke="#affc3c"/><polygon points="1422.8,267.5 1438.9,259.3 1421,256.1 1404.8,264.8" fill="#b4fc3c" stroke="#b4fc3c"/><polygon points="1438.9,259.3 1454.9,251.1 1437,247.5 1421,256.1" fill="#b9fc3c" stroke="#b9fc3c"/><polygon points="1454.9,251.1 1470.7,243.1 1452.8,239 1437,247.5" fill="#befd3c" stroke="#befd3c"/><polygon points="1470.7,243.1 1486.3,235.1 1468.4,230.7 1452.8,239" fill="#c4fd3c" stroke="#c4fd3c"/><polygon points="1486.3,235.1 1501.8,227.2 1483.9,222.4 1468.4,230.7" fill="#c9fd3c" stroke="#c9fd3c"/><polygon points="1501.8,227.2 1517,219.4 1499.1,214.2 1483.9,222.4" fill="#cffd3b" stroke="#cffd3b"/><polygon points="1517,219.4 1532.1,211.7 1514.2,206 1499.1,214.2" fill="#d4fd3b" stroke="#d4fd3b"/><polygon points="1532.1,211.7 1547,204.1 1529.2,198 1514.2,206" fill="#d9fc3a" stroke="#d9fc3a"/><polygon points="1547,204.1 1561.7,196.6 1543.9,190.1 1529.2,198" fill="#dffc39" stroke="#dffc39"/><polygon points="1561.7,196.6 1576.2,189.1 1558.5,182.2 1543.9,190.1" fill="#dffc39" stroke="#dffc39"/><polygon points="1576.2,189.1 1590.6,181.7 1572.9,174.4 1558.5,182.2" fill="#dffc39" stroke="#dffc39"/><polygon points="1175.1,387.3 1194.1,377.2 1176.7,379.8 1157.7,390.4" fill="#98ff43" stroke="#98ff43"/><polygon points="1194.1,377.2 1212.9,367.2 1195.5,369.3 1176.7,379.8" fill="#98ff43" stroke="#98ff43"/><polygon points="1212.9,367.2 1231.5,357.3 1214,359 1195.5,369.3" fill="#98ff43" stroke="#98ff43"/><polygon points="1231.5,357.3 1249.8,347.5 1232.3,348.8 1214,359" fill="#99ff41" stroke="#99ff41"/><polygon points="1249.8,347.5 1267.9,337.9 1250.3,338.7 1232.3,348.8" fill="#99ff40" stroke="#99ff40"/><polygon points="1267.9,337.9 1285.8,328.4 1268.2,328.7 1250.3,338.7" fill="#99ff3e" stroke="#99ff3e"/><polygon points="1285.8,328.4 1303.4,319 1285.8,318.9 1268.2,328.7" fill="#9bff3d" stroke="#9bff3d"/><polygon points="1303.4,319 1320.8,309.7 1303.2,309.1 1285.8,318.9" fill="#9cff3d" stroke="#9cff3d"/><polygon points="1320.8,309.7 1338,300.5 1320.4,299.5 1303.2,309.1" fill="#9eff3c" stroke="#9eff3c"/><polygon points="1338,300.5 1355,291.4 1337.4,290 1320.4,299.5" fill="#a1fe3c" stroke="#a1fe3c"/><polygon points="1355,291.4 1371.8,282.4 1354.1,280.6 1337.4,290" fill="#a5fe3c" stroke="#a5fe3c"/><polygon points="1371.8,282.4 1388.4,273.5 1370.7,271.2 1354.1,280.6" fill="#a8fd3c" stroke="#a8fd3c"/><polygon points="1388.4,273.5 1404.8,264.8 1387.1,262 1370.7,271.2" fill="#acfd3c" stroke="#acfd3c"/><polygon points="1404.8,264.8 1421,256.1 1403.3,252.9 1387.1,262" fill="#b0fc3c" stroke="#b0fc3c"/><polygon points="1421,256.1 1437,247.5 1419.3,243.9 1403.3,252.9" fill="#b6fc3c" stroke="#b6fc3c"/><polygon points="1437,247.5 1452.8,239 1435.1,235 1419.3,243.9" fill="#bcfd3c" stroke="#bcfd3c"/><polygon points="1452.8,239 1468.4,230.7 1450.8,226.2 1435.1,235" fill="#c3fd3c" stroke="#c3fd3c"/><polygon points="1468.4,230.7 1483.9,222.4 1466.2,217.5 1450.8,226.2" fill="#c9fd3c" stroke="#c9fd3c"/><polygon points="1483.9,222.4 1499.1,214.2 1481.5,208.9 1466.2,217.5" fill="#cffd3b" stroke="#cffd3b"/><polygon points="1499.1,214.2 1514.2,206 1496.6,200.4 1481.5,208.9" fill="#d5fc3a" stroke="#d5fc3a"/><polygon points="1514.2,206 1529.2,198 1511.6,192 1496.6,200.4" fill="#dcfc3a" stroke="#dcfc3a"/><polygon points="1529.2,198 1543.9,190.1 1526.3,183.6 1511.6,192" fill="#e2fc39" stroke="#e2fc39"/><polygon points="1543.9,190.1 1558.5,182.2 1541,175.4 1526.3,183.6" fill="#e2fc39" stroke="#e2fc39"/><polygon points="1558.5,182.2 1572.9,174.4 1555.4,167.2 1541,175.4" fill="#e2fc39" stroke="#e2fc39"/><polygon points="1157.7,390.4 1176.7,379.8 1159.6,382.3 1140.7,393.4" fill="#98ff48" stroke="#98ff48"/><polygon points="1176.7,379.8 1195.5,369.3 1178.3,371.4 1159.6,382.3" fill="#98ff48" stroke="#98ff48"/><polygon points="1195.5,369.3 1214,359 1196.8,360.6 1178.3,371.4" fill="#98ff48" stroke="#98ff48"/><polygon points="1214,359 1232.3,348.8 1215,350 1196.8,360.6" fill="#98ff45" stroke="#98ff45"/><polygon points="1232.3,348.8 1250.3,338.7 1233,339.4 1215,350" fill="#98ff43" stroke="#98ff43"/><polygon points="1250.3,338.7 1268.2,328.7 1250.8,329 1233,339.4" fill="#99ff41" stroke="#99ff41"/><polygon points="1268.2,328.7 1285.8,318.9 1268.4,318.7 1250.8,329" fill="#99ff3f" stroke="#99ff3f"/><polygon points="1285.8,318.9 1303.2,309.1 1285.8,308.6 1268.4,318.7" fill="#9aff3e" stroke="#9aff3e"/><polygon points="1303.2,309.1 1320.4,299.5 1303,298.5 1285.8,308.6" fill="#9cff3d" stroke="#9cff3d"/><polygon points="1320.4,299.5 1337.4,290 1319.9,288.5 1303,298.5" fill="#9dff3c" stroke="#9dff3c"/><polygon points="1337.4,290 1354.1,280.6 1336.7,278.7 1319.9,288.5" fill="#a1fe3c" stroke="#a1fe3c"/><polygon points="1354.1,280.6 1370.7,271.2 1353.3,269 1336.7,278.7" fill="#a5fe3c" stroke="#a5fe3c"/><polygon points="1370.7,271.2 1387.1,262 1369.6,259.4 1353.3,269" fill="#a9fd3c" stroke="#a9fd3c"/><polygon points="1387.1,262 1403.3,252.9 1385.8,249.8 1369.6,259.4" fill="#adfc3c" stroke="#adfc3c"/><polygon points="1403.3,252.9 1419.3,243.9 1401.9,240.4 1385.8,249.8" fill="#b3fc3c" stroke="#b3fc3c"/><polygon points="1419.3,243.9 1435.1,235 1417.7,231.1 1401.9,240.4" fill="#bafc3c" stroke="#bafc3c"/><polygon points="1435.1,235 1450.8,226.2 1433.3,221.9 1417.7,231.1" fill="#c1fd3c" stroke="#c1fd3c"/><polygon points="1450.8,226.2 1466.2,217.5 1448.8,212.8 1433.3,221.9" fill="#c8fd3c" stroke="#c8fd3c"/><polygon points="1466.2,217.5 1481.5,208.9 1464.1,203.8 1448.8,212.8" fill="#cffd3b" stroke="#cffd3b"/><polygon points="1481.5,208.9 1496.6,200.4 1479.2,194.8 1464.1,203.8" fill="#d7fc3a" stroke="#d7fc3a"/><polygon points="1496.6,200.4 1511.6,192 1494.2,186 1479.2,194.8" fill="#defc39" stroke="#defc39"/><polygon points="1511.6,192 1526.3,183.6 1509,177.3 1494.2,186" fill="#e6fc39" stroke="#e6fc39"/><polygon points="1526.3,183.6 1541,175.4 1523.6,168.6 1509,177.3" fill="#e6fc39" stroke="#e6fc39"/><polygon points="1541,175.4 1555.4,167.2 1538.1,160.1 1523.6,168.6" fill="#e6fc39" stroke="#e6fc39"/><polygon points="1140.7,393.4 1159.6,382.3 1142.8,384.8 1123.9,396.3" fill="#97ff54" stroke="#97ff54"/><polygon points="1159.6,382.3 1178.3,371.4 1161.4,373.5 1142.8,384.8" fill="#97ff54" stroke="#97ff54"/><polygon points="1178.3,371.4 1196.8,360.6 1179.8,362.3 1161.4,373.5" fill="#97ff54" stroke="#97ff54"/><polygon points="1196.8,360.6 1215,350 1198,351.2 1179.8,362.3" fill="#97ff4d" stroke="#97ff4d"/><polygon points="1215,350 1233,339.4 1216,340.2 1198,351.2" fill="#98ff46" stroke="#98ff46"/><polygon points="1233,339.4 1250.8,329 1233.7,329.3 1216,340.2" fill="#98ff44" stroke="#98ff44"/><polygon points="1250.8,329 1268.4,318.7 1251.3,318.6 1233.7,329.3" fill="#99ff42" stroke="#99ff42"/><polygon points="1268.4,318.7 1285.8,308.6 1268.6,308 1251.3,318.6" fill="#99ff40" stroke="#99ff40"/><polygon points="1285.8,308.6 1303,298.5 1285.8,297.5 1268.6,308" fill="#9aff3e" stroke="#9aff3e"/><polygon points="1303,298.5 1319.9,288.5 1302.7,287.1 1285.8,297.5" fill="#9cff3d" stroke="#9cff3d"/><polygon points="1319.9,288.5 1336.7,278.7 1319.5,276.9 1302.7,287.1" fill="#9eff3c" stroke="#9eff3c"/><polygon points="1336.7,278.7 1353.3,269 1336,266.7 1319.5,276.9" fill="#a2fe3c" stroke="#a2fe3c"/><polygon points="1353.3,269 1369.6,259.4 1352.4,256.7 1336,266.7" fill="#a6fe3c" stroke="#a6fe3c"/><polygon points="1369.6,259.4 1385.8,249.8 1368.6,246.8 1352.4,256.7" fill="#abfd3c" stroke="#abfd3c"/><polygon points="1385.8,249.8 1401.9,240.4 1384.6,236.9 1368.6,246.8" fill="#b0fc3c" stroke="#b0fc3c"/><polygon points="1401.9,240.4 1417.7,231.1 1400.5,227.2 1384.6,236.9" fill="#b8fc3c" stroke="#b8fc3c"/><polygon points="1417.7,231.1 1433.3,221.9 1416.1,217.6 1400.5,227.2" fill="#c0fd3c" stroke="#c0fd3c"/><polygon points="1433.3,221.9 1448.8,212.8 1431.6,208.1 1416.1,217.6" fill="#c8fd3c" stroke="#c8fd3c"/><polygon points="1448.8,212.8 1464.1,203.8 1446.9,198.7 1431.6,208.1" fill="#d0fd3b" stroke="#d0fd3b"/><polygon points="1464.1,203.8 1479.2,194.8 1462,189.3 1446.9,198.7" fill="#d8fc3a" stroke="#d8fc3a"/><polygon points="1479.2,194.8 1494.2,186 1477,180.1 1462,189.3" fill="#e0fc39" stroke="#e0fc39"/><polygon points="1494.2,186 1509,177.3 1491.9,171 1477,180.1" fill="#eafb38" stroke="#eafb38"/><polygon points="1509,177.3 1523.6,168.6 1506.5,161.9 1491.9,171" fill="#eafb38" stroke="#eafb38"/><polygon points="1523.6,168.6 1538.1,160.1 1521,153 1506.5,161.9" fill="#eafb38" stroke="#eafb38"/><polygon points="1123.9,396.3 1142.8,384.8 1126.2,387.3 1107.4,399.2" fill="#96ff5f" stroke="#96ff5f"/><polygon points="1142.8,384.8 1161.4,373.5 1144.8,375.5 1126.2,387.3" fill="#96ff5f" stroke="#96ff5f"/><polygon points="1161.4,373.5 1179.8,362.3 1163.1,363.9 1144.8,375.5" fill="#96ff5f" stroke="#96ff5f"/><polygon points="1179.8,362.3 1198,351.2 1181.3,352.3 1163.1,363.9" fill="#97ff57" stroke="#97ff57"/><polygon points="1198,351.2 1216,340.2 1199.2,340.9 1181.3,352.3" fill="#97ff50" stroke="#97ff50"/><polygon points="1216,340.2 1233.7,329.3 1216.9,329.6 1199.2,340.9" fill="#98ff48" stroke="#98ff48"/><polygon points="1233.7,329.3 1251.3,318.6 1234.4,318.5 1216.9,329.6" fill="#98ff44" stroke="#98ff44"/><polygon points="1251.3,318.6 1268.6,308 1251.7,307.5 1234.4,318.5" fill="#99ff42" stroke="#99ff42"/><polygon points="1268.6,308 1285.8,297.5 1268.9,296.6 1251.7,307.5" fill="#99ff40" stroke="#99ff40"/><polygon points="1285.8,297.5 1302.7,287.1 1285.8,285.8 1268.9,296.6" fill="#9aff3e" stroke="#9aff3e"/><polygon points="1302.7,287.1 1319.5,276.9 1302.5,275.1 1285.8,285.8" fill="#9cff3d" stroke="#9cff3d"/><polygon points="1319.5,276.9 1336,266.7 1319.1,264.5 1302.5,275.1" fill="#9fff3c" stroke="#9fff3c"/><polygon points="1336,266.7 1352.4,256.7 1335.4,254.1 1319.1,264.5" fill="#a4fe3c" stroke="#a4fe3c"/><polygon points="1352.4,256.7 1368.6,246.8 1351.6,243.7 1335.4,254.1" fill="#a9fd3c" stroke="#a9fd3c"/><polygon points="1368.6,246.8 1384.6,236.9 1367.6,233.5 1351.6,243.7" fill="#aefc3c" stroke="#aefc3c"/><polygon points="1384.6,236.9 1400.5,227.2 1383.4,223.4 1367.6,233.5" fill="#b6fc3c" stroke="#b6fc3c"/><polygon points="1400.5,227.2 1416.1,217.6 1399.1,213.4 1383.4,223.4" fill="#bffd3c" stroke="#bffd3c"/><polygon points="1416.1,217.6 1431.6,208.1 1414.6,203.4 1399.1,213.4" fill="#c8fd3c" stroke="#c8fd3c"/><polygon points="1431.6,208.1 1446.9,198.7 1429.9,193.6 1414.6,203.4" fill="#d0fd3b" stroke="#d0fd3b"/><polygon points="1446.9,198.7 1462,189.3 1445.1,183.9 1429.9,193.6" fill="#d9fc3a" stroke="#d9fc3a"/><polygon points="1462,189.3 1477,180.1 1460.1,174.3 1445.1,183.9" fill="#e2fc39" stroke="#e2fc39"/><polygon points="1477,180.1 1491.9,171 1474.9,164.8 1460.1,174.3" fill="#eefb38" stroke="#eefb38"/><polygon points="1491.9,171 1506.5,161.9 1489.6,155.3 1474.9,164.8" fill="#eefb38" stroke="#eefb38"/><polygon points="1506.5,161.9 1521,153 1504.1,146 1489.6,155.3" fill="#eefb38" stroke="#eefb38"/><polygon points="1107.4,399.2 1126.2,387.3 1109.9,389.7 1091.2,402.1" fill="#96ff76" stroke="#96ff76"/><polygon points="1126.2,387.3 1144.8,375.5 1128.4,377.5 1109.9,389.7" fill="#96ff76" stroke="#96ff76"/><polygon points="1144.8,375.5 1163.1,363.9 1146.7,365.4 1128.4,377.5" fill="#96ff76" stroke="#96ff76"/><polygon points="1163.1,363.9 1181.3,352.3 1164.8,353.5 1146.7,365.4" fill="#96ff65" stroke="#96ff65"/><polygon points="1181.3,352.3 1199.2,340.9 1182.7,341.6 1164.8,353.5" fill="#96ff5a" stroke="#96ff5a"/><polygon points="1199.2,340.9 1216.9,329.6 1200.3,329.9 1182.7,341.6" fill="#97ff52" stroke="#97ff52"/><polygon points="1216.9,329.6 1234.4,318.5 1217.8,318.4 1200.3,329.9" fill="#98ff49" stroke="#98ff49"/><polygon points="1234.4,318.5 1251.7,307.5 1235.1,306.9 1217.8,318.4" fill="#98ff44" stroke="#98ff44"/><polygon points="1251.7,307.5 1268.9,296.6 1252.2,295.6 1235.1,306.9" fill="#99ff42" stroke="#99ff42"/><polygon points="1268.9,296.6 1285.8,285.8 1269.1,284.4 1252.2,295.6" fill="#99ff3f" stroke="#99ff3f"/><polygon points="1285.8,285.8 1302.5,275.1 1285.8,273.3 1269.1,284.4" fill="#9aff3d" stroke="#9aff3d"/><polygon points="1302.5,275.1 1319.1,264.5 1302.3,262.3 1285.8,273.3" fill="#9dff3c" stroke="#9dff3c"/><polygon points="1319.1,264.5 1335.4,254.1 1318.7,251.5 1302.3,262.3" fill="#a1fe3c" stroke="#a1fe3c"/><polygon points="1335.4,254.1 1351.6,243.7 1334.8,240.7 1318.7,251.5" fill="#a7fd3c" stroke="#a7fd3c"/><polygon points="1351.6,243.7 1367.6,233.5 1350.8,230.1 1334.8,240.7" fill="#acfc3c" stroke="#acfc3c"/><polygon points="1367.6,233.5 1383.4,223.4 1366.7,219.6 1350.8,230.1" fill="#b4fc3c" stroke="#b4fc3c"/><polygon points="1383.4,223.4 1399.1,213.4 1382.3,209.2 1366.7,219.6" fill="#befd3c" stroke="#befd3c"/><polygon points="1399.1,213.4 1414.6,203.4 1397.8,198.9 1382.3,209.2" fill="#c7fd3c" stroke="#c7fd3c"/><polygon points="1414.6,203.4 1429.9,193.6 1413.1,188.6 1397.8,198.9" fill="#d1fd3b" stroke="#d1fd3b"/><polygon points="1429.9,193.6 1445.1,183.9 1428.3,178.5 1413.1,188.6" fill="#dbfc3a" stroke="#dbfc3a"/><polygon points="1445.1,183.9 1460.1,174.3 1443.3,168.5 1428.3,178.5" fill="#e5fc39" stroke="#e5fc39"/><polygon points="1460.1,174.3 1474.9,164.8 1458.1,158.6 1443.3,168.5" fill="#f2fb38" stroke="#f2fb38"/><polygon points="1474.9,164.8 1489.6,155.3 1472.8,148.8 1458.1,158.6" fill="#f2fb38" stroke="#f2fb38"/><polygon points="1489.6,155.3 1504.1,146 1487.4,139.1 1472.8,148.8" fill="#f2fb38" stroke="#f2fb38"/><polygon points="1091.2,402.1 1109.9,389.7 1093.9,392.1 1075.2,404.9" fill="#96ff8d" stroke="#96ff8d"/><polygon points="1109.9,389.7 1128.4,377.5 1112.3,379.5 1093.9,392.1" fill="#96ff8d" stroke="#96ff8d"/><polygon points="1128.4,377.5 1146.7,365.4 1130.5,367 1112.3,379.5" fill="#96ff8d" stroke="#96ff8d"/><polygon points="1146.7,365.4 1164.8,353.5 1148.6,354.6 1130.5,367" fill="#96ff7b" stroke="#96ff7b"/><polygon points="1164.8,353.5 1182.7,341.6 1166.4,342.3 1148.6,354.6" fill="#96ff68" stroke="#96ff68"/><polygon points="1182.7,341.6 1200.3,329.9 1184,330.2 1166.4,342.3" fill="#96ff5b" stroke="#96ff5b"/><polygon points="1200.3,329.9 1217.8,318.4 1201.4,318.2 1184,330.2" fill="#97ff52" stroke="#97ff52"/><polygon points="1217.8,318.4 1235.1,306.9 1218.7,306.4 1201.4,318.2" fill="#98ff49" stroke="#98ff49"/><polygon points="1235.1,306.9 1252.2,295.6 1235.7,294.7 1218.7,306.4" fill="#98ff44" stroke="#98ff44"/><polygon points="1252.2,295.6 1269.1,284.4 1252.6,283 1235.7,294.7" fill="#99ff41" stroke="#99ff41"/><polygon points="1269.1,284.4 1285.8,273.3 1269.3,271.6 1252.6,283" fill="#99ff3e" stroke="#99ff3e"/><polygon points="1285.8,273.3 1302.3,262.3 1285.8,260.2 1269.3,271.6" fill="#9bff3d" stroke="#9bff3d"/><polygon points="1302.3,262.3 1318.7,251.5 1302.1,248.9 1285.8,260.2" fill="#9eff3c" stroke="#9eff3c"/><polygon points="1318.7,251.5 1334.8,240.7 1318.3,237.8 1302.1,248.9" fill="#a5fe3c" stroke="#a5fe3c"/><polygon points="1334.8,240.7 1350.8,230.1 1334.3,226.8 1318.3,237.8" fill="#abfd3c" stroke="#abfd3c"/><polygon points="1350.8,230.1 1366.7,219.6 1350.1,215.8 1334.3,226.8" fill="#b2fc3c" stroke="#b2fc3c"/><polygon points="1366.7,219.6 1382.3,209.2 1365.7,205 1350.1,215.8" fill="#bdfd3c" stroke="#bdfd3c"/><polygon points="1382.3,209.2 1397.8,198.9 1381.2,194.3 1365.7,205" fill="#c7fd3c" stroke="#c7fd3c"/><polygon points="1397.8,198.9 1413.1,188.6 1396.5,183.7 1381.2,194.3" fill="#d1fd3b" stroke="#d1fd3b"/><polygon points="1413.1,188.6 1428.3,178.5 1411.7,173.2 1396.5,183.7" fill="#dcfc3a" stroke="#dcfc3a"/><polygon points="1428.3,178.5 1443.3,168.5 1426.7,162.8 1411.7,173.2" fill="#e8fc39" stroke="#e8fc39"/><polygon points="1443.3,168.5 1458.1,158.6 1441.6,152.5 1426.7,162.8" fill="#f6fb38" stroke="#f6fb38"/><polygon points="1458.1,158.6 1472.8,148.8 1456.3,142.4 1441.6,152.5" fill="#f6fb38" stroke="#f6fb38"/><polygon points="1472.8,148.8 1487.4,139.1 1470.9,132.3 1456.3,142.4" fill="#f6fb38" stroke="#f6fb38"/><polygon points="1075.2,404.9 1093.9,392.1 1078.1,394.5 1059.5,407.7" fill="#95ffa6" stroke="#95ffa6"/><polygon points="1093.9,392.1 1112.3,379.5 1096.4,381.4 1078.1,394.5" fill="#95ffa6" stroke="#95ffa6"/><polygon points="1112.3,379.5 1130.5,367 1114.6,368.5 1096.4,381.4" fill="#95ffa6" stroke="#95ffa6"/><polygon points="1130.5,367 1148.6,354.6 1132.6,355.7 1114.6,368.5" fill="#96ff90" stroke="#96ff90"/><polygon points="1148.6,354.6 1166.4,342.3 1150.4,343 1132.6,355.7" fill="#96ff7c" stroke="#96ff7c"/><polygon points="1166.4,342.3 1184,330.2 1167.9,330.5 1150.4,343" fill="#96ff68" stroke="#96ff68"/><polygon points="1184,330.2 1201.4,318.2 1185.3,318.1 1167.9,330.5" fill="#96ff5a" stroke="#96ff5a"/><polygon points="1201.4,318.2 1218.7,306.4 1202.5,305.9 1185.3,318.1" fill="#97ff50" stroke="#97ff50"/><polygon points="1218.7,306.4 1235.7,294.7 1219.5,293.7 1202.5,305.9" fill="#98ff47" stroke="#98ff47"/><polygon points="1235.7,294.7 1252.6,283 1236.4,281.7 1219.5,293.7" fill="#98ff43" stroke="#98ff43"/><polygon points="1252.6,283 1269.3,271.6 1253,269.8 1236.4,281.7" fill="#99ff40" stroke="#99ff40"/><polygon points="1269.3,271.6 1285.8,260.2 1269.5,258.1 1253,269.8" fill="#9aff3e" stroke="#9aff3e"/><polygon points="1285.8,260.2 1302.1,248.9 1285.8,246.4 1269.5,258.1" fill="#9dff3c" stroke="#9dff3c"/><polygon points="1302.1,248.9 1318.3,237.8 1301.9,234.9 1285.8,246.4" fill="#a2fe3c" stroke="#a2fe3c"/><polygon points="1318.3,237.8 1334.3,226.8 1317.9,223.4 1301.9,234.9" fill="#a9fd3c" stroke="#a9fd3c"/><polygon points="1334.3,226.8 1350.1,215.8 1333.7,212.1 1317.9,223.4" fill="#b0fc3c" stroke="#b0fc3c"/><polygon points="1350.1,215.8 1365.7,205 1349.3,200.9 1333.7,212.1" fill="#bbfc3c" stroke="#bbfc3c"/><polygon points="1365.7,205 1381.2,194.3 1364.8,189.8 1349.3,200.9" fill="#c7fd3c" stroke="#c7fd3c"/><polygon points="1381.2,194.3 1396.5,183.7 1380.2,178.9 1364.8,189.8" fill="#d2fd3b" stroke="#d2fd3b"/><polygon points="1396.5,183.7 1411.7,173.2 1395.3,168 1380.2,178.9" fill="#ddfc39" stroke="#ddfc39"/><polygon points="1411.7,173.2 1426.7,162.8 1410.3,157.2 1395.3,168" fill="#ebfb38" stroke="#ebfb38"/><polygon points="1426.7,162.8 1441.6,152.5 1425.2,146.5 1410.3,157.2" fill="#fafa37" stroke="#fafa37"/><polygon points="1441.6,152.5 1456.3,142.4 1439.9,136 1425.2,146.5" fill="#fafa37" stroke="#fafa37"/><polygon points="1456.3,142.4 1470.9,132.3 1454.5,125.5 1439.9,136" fill="#fafa37" stroke="#fafa37"/><polygon points="1059.5,407.7 1078.1,394.5 1062.5,396.8 1044,410.4" fill="#92ffc7" stroke="#92ffc7"/><polygon points="1078.1,394.5 1096.4,381.4 1080.8,383.3 1062.5,396.8" fill="#92ffc7" stroke="#92ffc7"/><polygon points="1096.4,381.4 1114.6,368.5 1098.9,370 1080.8,383.3" fill="#92ffc7" stroke="#92ffc7"/><polygon points="1114.6,368.5 1132.6,355.7 1116.8,356.8 1098.9,370" fill="#95ffa8" stroke="#95ffa8"/><polygon points="1132.6,355.7 1150.4,343 1134.5,343.7 1116.8,356.8" fill="#96ff90" stroke="#96ff90"/><polygon points="1150.4,343 1167.9,330.5 1152.1,330.8 1134.5,343.7" fill="#96ff7b" stroke="#96ff7b"/><polygon points="1167.9,330.5 1185.3,318.1 1169.4,318 1152.1,330.8" fill="#96ff66" stroke="#96ff66"/><polygon points="1185.3,318.1 1202.5,305.9 1186.6,305.3 1169.4,318" fill="#97ff58" stroke="#97ff58"/><polygon points="1202.5,305.9 1219.5,293.7 1203.5,292.8 1186.6,305.3" fill="#97ff4d" stroke="#97ff4d"/><polygon points="1219.5,293.7 1236.4,281.7 1220.3,280.4 1203.5,292.8" fill="#98ff45" stroke="#98ff45"/><polygon points="1236.4,281.7 1253,269.8 1236.9,268.1 1220.3,280.4" fill="#99ff42" stroke="#99ff42"/><polygon points="1253,269.8 1269.5,258.1 1253.4,255.9 1236.9,268.1" fill="#99ff3e" stroke="#99ff3e"/><polygon points="1269.5,258.1 1285.8,246.4 1269.7,243.9 1253.4,255.9" fill="#9cff3d" stroke="#9cff3d"/><polygon points="1285.8,246.4 1301.9,234.9 1285.8,232 1269.7,243.9" fill="#a0ff3c" stroke="#a0ff3c"/><polygon points="1301.9,234.9 1317.9,223.4 1301.7,220.2 1285.8,232" fill="#a7fd3c" stroke="#a7fd3c"/><polygon points="1317.9,223.4 1333.7,212.1 1317.5,208.5 1301.7,220.2" fill="#aefc3c" stroke="#aefc3c"/><polygon points="1333.7,212.1 1349.3,200.9 1333.2,196.9 1317.5,208.5" fill="#bafc3c" stroke="#bafc3c"/><polygon points="1349.3,200.9 1364.8,189.8 1348.6,185.4 1333.2,196.9" fill="#c6fd3c" stroke="#c6fd3c"/><polygon points="1364.8,189.8 1380.2,178.9 1364,174 1348.6,185.4" fill="#d2fd3b" stroke="#d2fd3b"/><polygon points="1380.2,178.9 1395.3,168 1379.1,162.8 1364,174" fill="#defc39" stroke="#defc39"/><polygon points="1395.3,168 1410.3,157.2 1394.1,151.6 1379.1,162.8" fill="#eefb38" stroke="#eefb38"/><polygon points="1410.3,157.2 1425.2,146.5 1409,140.6 1394.1,151.6" fill="#fffa37" stroke="#fffa37"/><polygon points="1425.2,146.5 1439.9,136 1423.7,129.6 1409,140.6" fill="#fffa37" stroke="#fffa37"/><polygon points="1439.9,136 1454.5,125.5 1438.3,118.8 1423.7,129.6" fill="#fffa37" stroke="#fffa37"/><polygon points="1044,410.4 1062.5,396.8 1047.2,399.1 1028.8,413.1" fill="#8effe7" stroke="#8effe7"/><polygon points="1062.5,396.8 1080.8,383.3 1065.5,385.2 1047.2,399.1" fill="#8effe7" stroke="#8effe7"/><polygon points="1080.8,383.3 1098.9,370 1083.5,371.4 1065.5,385.2" fill="#8effe7" stroke="#8effe7"/><polygon points="1098.9,370 1116.8,356.8 1101.3,357.9 1083.5,371.4" fill="#92ffc7" stroke="#92ffc7"/><polygon points="1116.8,356.8 1134.5,343.7 1119,344.4 1101.3,357.9" fill="#95ffa6" stroke="#95ffa6"/><polygon points="1134.5,343.7 1152.1,330.8 1136.4,331.1 1119,344.4" fill="#96ff8e" stroke="#96ff8e"/><polygon points="1152.1,330.8 1169.4,318 1153.7,317.9 1136.4,331.1" fill="#96ff77" stroke="#96ff77"/><polygon points="1169.4,318 1186.6,305.3 1170.8,304.8 1153.7,317.9" fill="#96ff60" stroke="#96ff60"/><polygon points="1186.6,305.3 1203.5,292.8 1187.8,291.9 1170.8,304.8" fill="#97ff54" stroke="#97ff54"/><polygon points="1203.5,292.8 1220.3,280.4 1204.5,279.1 1187.8,291.9" fill="#98ff49" stroke="#98ff49"/><polygon points="1220.3,280.4 1236.9,268.1 1221.1,266.4 1204.5,279.1" fill="#98ff43" stroke="#98ff43"/><polygon points="1236.9,268.1 1253.4,255.9 1237.5,253.9 1221.1,266.4" fill="#99ff40" stroke="#99ff40"/><polygon points="1253.4,255.9 1269.7,243.9 1253.8,241.4 1237.5,253.9" fill="#9bff3d" stroke="#9bff3d"/><polygon points="1269.7,243.9 1285.8,232 1269.9,229.1 1253.8,241.4" fill="#9eff3c" stroke="#9eff3c"/><polygon points="1285.8,232 1301.7,220.2 1285.8,216.9 1269.9,229.1" fill="#a6fe3c" stroke="#a6fe3c"/><polygon points="1301.7,220.2 1317.5,208.5 1301.6,204.9 1285.8,216.9" fill="#adfc3c" stroke="#adfc3c"/><polygon points="1317.5,208.5 1333.2,196.9 1317.2,192.9 1301.6,204.9" fill="#b9fc3c" stroke="#b9fc3c"/><polygon points="1333.2,196.9 1348.6,185.4 1332.6,181 1317.2,192.9" fill="#c6fd3c" stroke="#c6fd3c"/><polygon points="1348.6,185.4 1364,174 1348,169.3 1332.6,181" fill="#d3fd3b" stroke="#d3fd3b"/><polygon points="1364,174 1379.1,162.8 1363.1,157.7 1348,169.3" fill="#e0fc39" stroke="#e0fc39"/><polygon points="1379.1,162.8 1394.1,151.6 1378.1,146.1 1363.1,157.7" fill="#f1fb38" stroke="#f1fb38"/><polygon points="1394.1,151.6 1409,140.6 1393,134.7 1378.1,146.1" fill="#fff736" stroke="#fff736"/><polygon points="1409,140.6 1423.7,129.6 1407.7,123.4 1393,134.7" fill="#fff736" stroke="#fff736"/><polygon points="1423.7,129.6 1438.3,118.8 1422.3,112.2 1407.7,123.4" fill="#fff736" stroke="#fff736"/><polygon points="1028.8,413.1 1047.2,399.1 1032.2,401.3 1013.8,415.7" fill="#89faf6" stroke="#89faf6"/><polygon points="1047.2,399.1 1065.5,385.2 1050.3,387 1032.2,401.3" fill="#89faf6" stroke="#89faf6"/><polygon points="1065.5,385.2 1083.5,371.4 1068.3,372.9 1050.3,387" fill="#89faf6" stroke="#89faf6"/><polygon points="1083.5,371.4 1101.3,357.9 1086.1,358.9 1068.3,372.9" fill="#8effe6" stroke="#8effe6"/><polygon points="1101.3,357.9 1119,344.4 1103.6,345.1 1086.1,358.9" fill="#92ffc3" stroke="#92ffc3"/><polygon points="1119,344.4 1136.4,331.1 1121,331.3 1103.6,345.1" fill="#96ffa0" stroke="#96ffa0"/><polygon points="1136.4,331.1 1153.7,317.9 1138.3,317.8 1121,331.3" fill="#96ff88" stroke="#96ff88"/><polygon points="1153.7,317.9 1170.8,304.8 1155.3,304.3 1138.3,317.8" fill="#96ff6f" stroke="#96ff6f"/><polygon points="1170.8,304.8 1187.8,291.9 1172.2,291 1155.3,304.3" fill="#96ff5b" stroke="#96ff5b"/><polygon points="1187.8,291.9 1204.5,279.1 1188.9,277.8 1172.2,291" fill="#97ff4f" stroke="#97ff4f"/><polygon points="1204.5,279.1 1221.1,266.4 1205.5,264.8 1188.9,277.8" fill="#98ff45" stroke="#98ff45"/><polygon points="1221.1,266.4 1237.5,253.9 1221.9,251.8 1205.5,264.8" fill="#99ff41" stroke="#99ff41"/><polygon points="1237.5,253.9 1253.8,241.4 1238.1,239 1221.9,251.8" fill="#99ff3e" stroke="#99ff3e"/><polygon points="1253.8,241.4 1269.9,229.1 1254.1,226.3 1238.1,239" fill="#9dff3c" stroke="#9dff3c"/><polygon points="1269.9,229.1 1285.8,216.9 1270,213.7 1254.1,226.3" fill="#a4fe3c" stroke="#a4fe3c"/><polygon points="1285.8,216.9 1301.6,204.9 1285.8,201.3 1270,213.7" fill="#acfd3c" stroke="#acfd3c"/><polygon points="1301.6,204.9 1317.2,192.9 1301.4,188.9 1285.8,201.3" fill="#b8fc3c" stroke="#b8fc3c"/><polygon points="1317.2,192.9 1332.6,181 1316.8,176.7 1301.4,188.9" fill="#c6fd3c" stroke="#c6fd3c"/><polygon points="1332.6,181 1348,169.3 1332.1,164.6 1316.8,176.7" fill="#d3fd3b" stroke="#d3fd3b"/><polygon points="1348,169.3 1363.1,157.7 1347.3,152.6 1332.1,164.6" fill="#e1fc39" stroke="#e1fc39"/><polygon points="1363.1,157.7 1378.1,146.1 1362.3,140.7 1347.3,152.6" fill="#f4fb38" stroke="#f4fb38"/><polygon points="1378.1,146.1 1393,134.7 1377.2,128.9 1362.3,140.7" fill="#fff336" stroke="#fff336"/><polygon points="1393,134.7 1407.7,123.4 1391.9,117.2 1377.2,128.9" fill="#fff336" stroke="#fff336"/><polygon points="1407.7,123.4 1422.3,112.2 1406.5,105.6 1391.9,117.2" fill="#fff336" stroke="#fff336"/><polygon points="1013.8,415.7 1032.2,401.3 1017.4,403.5 999.1,418.3" fill="#80ebfc" stroke="#80ebfc"/><polygon points="1032.2,401.3 1050.3,387 1035.4,388.8 1017.4,403.5" fill="#80ebfc" stroke="#80ebfc"/><polygon points="1050.3,387 1068.3,372.9 1053.3,374.3 1035.4,388.8" fill="#80ebfc" stroke="#80ebfc"/><polygon points="1068.3,372.9 1086.1,358.9 1071,359.9 1053.3,374.3" fill="#8afaf4" stroke="#8afaf4"/><polygon points="1086.1,358.9 1103.6,345.1 1088.5,345.7 1071,359.9" fill="#8fffe0" stroke="#8fffe0"/><polygon points="1103.6,345.1 1121,331.3 1105.9,331.6 1088.5,345.7" fill="#93ffbb" stroke="#93ffbb"/><polygon points="1121,331.3 1138.3,317.8 1123,317.6 1105.9,331.6" fill="#96ff99" stroke="#96ff99"/><polygon points="1138.3,317.8 1155.3,304.3 1140,303.8 1123,317.6" fill="#96ff7f" stroke="#96ff7f"/><polygon points="1155.3,304.3 1172.2,291 1156.9,290.1 1140,303.8" fill="#96ff65" stroke="#96ff65"/><polygon points="1172.2,291 1188.9,277.8 1173.5,276.6 1156.9,290.1" fill="#97ff55" stroke="#97ff55"/><polygon points="1188.9,277.8 1205.5,264.8 1190,263.1 1173.5,276.6" fill="#98ff49" stroke="#98ff49"/><polygon points="1205.5,264.8 1221.9,251.8 1206.4,249.8 1190,263.1" fill="#98ff43" stroke="#98ff43"/><polygon points="1221.9,251.8 1238.1,239 1222.6,236.6 1206.4,249.8" fill="#99ff3f" stroke="#99ff3f"/><polygon points="1238.1,239 1254.1,226.3 1238.6,223.5 1222.6,236.6" fill="#9cff3d" stroke="#9cff3d"/><polygon points="1254.1,226.3 1270,213.7 1254.5,210.6 1238.6,223.5" fill="#a2fe3c" stroke="#a2fe3c"/><polygon points="1270,213.7 1285.8,201.3 1270.2,197.7 1254.5,210.6" fill="#abfd3c" stroke="#abfd3c"/><polygon points="1285.8,201.3 1301.4,188.9 1285.8,185 1270.2,197.7" fill="#b7fc3c" stroke="#b7fc3c"/><polygon points="1301.4,188.9 1316.8,176.7 1301.2,172.4 1285.8,185" fill="#c5fd3c" stroke="#c5fd3c"/><polygon points="1316.8,176.7 1332.1,164.6 1316.5,159.9 1301.2,172.4" fill="#d4fd3b" stroke="#d4fd3b"/><polygon points="1332.1,164.6 1347.3,152.6 1331.7,147.6 1316.5,159.9" fill="#e3fc39" stroke="#e3fc39"/><polygon points="1347.3,152.6 1362.3,140.7 1346.7,135.3 1331.7,147.6" fill="#f7fb38" stroke="#f7fb38"/><polygon points="1362.3,140.7 1377.2,128.9 1361.5,123.1 1346.7,135.3" fill="#fff035" stroke="#fff035"/><polygon points="1377.2,128.9 1391.9,117.2 1376.3,111.1 1361.5,123.1" fill="#fff035" stroke="#fff035"/><polygon points="1391.9,117.2 1406.5,105.6 1390.8,99.1 1376.3,111.1" fill="#fff035" stroke="#fff035"/><polygon points="999.1,418.3 1017.4,403.5 1002.7,405.7 984.6,420.8" fill="#6dcafa" stroke="#6dcafa"/><polygon points="1017.4,403.5 1035.4,388.8 1020.7,390.6 1002.7,405.7" fill="#6dcafa" stroke="#6dcafa"/><polygon points="1035.4,388.8 1053.3,374.3 1038.5,375.7 1020.7,390.6" fill="#6dcafa" stroke="#6dcafa"/><polygon points="1053.3,374.3 1071,359.9 1056.2,361 1038.5,375.7" fill="#84f1fc" stroke="#84f1fc"/><polygon points="1071,359.9 1088.5,345.7 1073.6,346.3 1056.2,361" fill="#8bfcf2" stroke="#8bfcf2"/><polygon points="1088.5,345.7 1105.9,331.6 1090.9,331.9 1073.6,346.3" fill="#90ffd5" stroke="#90ffd5"/><polygon points="1105.9,331.6 1123,317.6 1108,317.5 1090.9,331.9" fill="#94ffae" stroke="#94ffae"/><polygon points="1123,317.6 1140,303.8 1125,303.3 1108,317.5" fill="#96ff8f" stroke="#96ff8f"/><polygon points="1140,303.8 1156.9,290.1 1141.7,289.2 1125,303.3" fill="#96ff73" stroke="#96ff73"/><polygon points="1156.9,290.1 1173.5,276.6 1158.4,275.3 1141.7,289.2" fill="#96ff5b" stroke="#96ff5b"/><polygon points="1173.5,276.6 1190,263.1 1174.8,261.5 1158.4,275.3" fill="#97ff4e" stroke="#97ff4e"/><polygon points="1190,263.1 1206.4,249.8 1191.1,247.8 1174.8,261.5" fill="#98ff44" stroke="#98ff44"/><polygon points="1206.4,249.8 1222.6,236.6 1207.3,234.2 1191.1,247.8" fill="#99ff40" stroke="#99ff40"/><polygon points="1222.6,236.6 1238.6,223.5 1223.3,220.8 1207.3,234.2" fill="#9bff3d" stroke="#9bff3d"/><polygon points="1238.6,223.5 1254.5,210.6 1239.1,207.5 1223.3,220.8" fill="#a1ff3c" stroke="#a1ff3c"/><polygon points="1254.5,210.6 1270.2,197.7 1254.8,194.3 1239.1,207.5" fill="#aafd3c" stroke="#aafd3c"/><polygon points="1270.2,197.7 1285.8,185 1270.4,181.2 1254.8,194.3" fill="#b5fc3c" stroke="#b5fc3c"/><polygon points="1285.8,185 1301.2,172.4 1285.8,168.2 1270.4,181.2" fill="#c5fd3c" stroke="#c5fd3c"/><polygon points="1301.2,172.4 1316.5,159.9 1301.1,155.3 1285.8,168.2" fill="#d4fd3b" stroke="#d4fd3b"/><polygon points="1316.5,159.9 1331.7,147.6 1316.2,142.6 1301.1,155.3" fill="#e5fc39" stroke="#e5fc39"/><polygon points="1331.7,147.6 1346.7,135.3 1331.2,130 1316.2,142.6" fill="#fafa37" stroke="#fafa37"/><polygon points="1346.7,135.3 1361.5,123.1 1346,117.5 1331.2,130" fill="#fce633" stroke="#fce633"/><polygon points="1361.5,123.1 1376.3,111.1 1360.8,105 1346,117.5" fill="#fce633" stroke="#fce633"/><polygon points="1376.3,111.1 1390.8,99.1 1375.4,92.7 1360.8,105" fill="#fce633" stroke="#fce633"/><polygon points="984.6,420.8 1002.7,405.7 988.4,407.8 970.3,423.4" fill="#61b2fb" stroke="#61b2fb"/><polygon points="1002.7,405.7 1020.7,390.6 1006.3,392.4 988.4,407.8" fill="#61b2fb" stroke="#61b2fb"/><polygon points="1020.7,390.6 1038.5,375.7 1024,377.1 1006.3,392.4" fill="#61b2fb" stroke="#61b2fb"/><polygon points="1038.5,375.7 1056.2,361 1041.5,362 1024,377.1" fill="#72d2fb" stroke="#72d2fb"/><polygon points="1056.2,361 1073.6,346.3 1058.9,347 1041.5,362" fill="#87f6fa" stroke="#87f6fa"/><polygon points="1073.6,346.3 1090.9,331.9 1076.1,332.1 1058.9,347" fill="#8dffee" stroke="#8dffee"/><polygon points="1090.9,331.9 1108,317.5 1093.2,317.4 1076.1,332.1" fill="#92ffc7" stroke="#92ffc7"/><polygon points="1108,317.5 1125,303.3 1110.1,302.8 1093.2,317.4" fill="#96ff9e" stroke="#96ff9e"/><polygon points="1125,303.3 1141.7,289.2 1126.8,288.4 1110.1,302.8" fill="#96ff81" stroke="#96ff81"/><polygon points="1141.7,289.2 1158.4,275.3 1143.4,274.1 1126.8,288.4" fill="#96ff64" stroke="#96ff64"/><polygon points="1158.4,275.3 1174.8,261.5 1159.8,259.9 1143.4,274.1" fill="#97ff54" stroke="#97ff54"/><polygon points="1174.8,261.5 1191.1,247.8 1176.1,245.8 1159.8,259.9" fill="#98ff46" stroke="#98ff46"/><polygon points="1191.1,247.8 1207.3,234.2 1192.2,231.9 1176.1,245.8" fill="#99ff41" stroke="#99ff41"/><polygon points="1207.3,234.2 1223.3,220.8 1208.1,218.1 1192.2,231.9" fill="#9aff3e" stroke="#9aff3e"/><polygon points="1223.3,220.8 1239.1,207.5 1223.9,204.4 1208.1,218.1" fill="#9fff3c" stroke="#9fff3c"/><polygon points="1239.1,207.5 1254.8,194.3 1239.6,190.8 1223.9,204.4" fill="#a8fd3c" stroke="#a8fd3c"/><polygon points="1254.8,194.3 1270.4,181.2 1255.2,177.4 1239.6,190.8" fill="#b4fc3c" stroke="#b4fc3c"/><polygon points="1270.4,181.2 1285.8,168.2 1270.5,164 1255.2,177.4" fill="#c4fd3c" stroke="#c4fd3c"/><polygon points="1285.8,168.2 1301.1,155.3 1285.8,150.8 1270.5,164" fill="#d5fc3a" stroke="#d5fc3a"/><polygon points="1301.1,155.3 1316.2,142.6 1300.9,137.7 1285.8,150.8" fill="#e7fc39" stroke="#e7fc39"/><polygon points="1316.2,142.6 1331.2,130 1315.9,124.7 1300.9,137.7" fill="#fdfa37" stroke="#fdfa37"/><polygon points="1331.2,130 1346,117.5 1330.7,111.8 1315.9,124.7" fill="#f8dd32" stroke="#f8dd32"/><polygon points="1346,117.5 1360.8,105 1345.4,99.1 1330.7,111.8" fill="#f8dd32" stroke="#f8dd32"/><polygon points="1360.8,105 1375.4,92.7 1360,86.4 1345.4,99.1" fill="#f8dd32" stroke="#f8dd32"/><polygon points="970.3,423.4 988.4,407.8 974.2,409.9 956.2,425.8" fill="#579bfb" stroke="#579bfb"/><polygon points="988.4,407.8 1006.3,392.4 992,394.1 974.2,409.9" fill="#579bfb" stroke="#579bfb"/><polygon points="1006.3,392.4 1024,377.1 1009.7,378.5 992,394.1" fill="#579bfb" stroke="#579bfb"/><polygon points="1024,377.1 1041.5,362 1027.1,363 1009.7,378.5" fill="#65b9fa" stroke="#65b9fa"/><polygon points="1041.5,362 1058.9,347 1044.4,347.6 1027.1,363" fill="#79defb" stroke="#79defb"/><polygon points="1058.9,347 1076.1,332.1 1061.6,332.4 1044.4,347.6" fill="#89f9f6" stroke="#89f9f6"/><polygon points="1076.1,332.1 1093.2,317.4 1078.6,317.3 1061.6,332.4" fill="#8fffdf" stroke="#8fffdf"/><polygon points="1093.2,317.4 1110.1,302.8 1095.4,302.3 1078.6,317.3" fill="#94ffb4" stroke="#94ffb4"/><polygon points="1110.1,302.8 1126.8,288.4 1112.1,287.5 1095.4,302.3" fill="#96ff8f" stroke="#96ff8f"/><polygon points="1126.8,288.4 1143.4,274.1 1128.6,272.8 1112.1,287.5" fill="#96ff71" stroke="#96ff71"/><polygon points="1143.4,274.1 1159.8,259.9 1145,258.3 1128.6,272.8" fill="#96ff59" stroke="#96ff59"/><polygon points="1159.8,259.9 1176.1,245.8 1161.2,243.9 1145,258.3" fill="#98ff4a" stroke="#98ff4a"/><polygon points="1176.1,245.8 1192.2,231.9 1177.3,229.6 1161.2,243.9" fill="#98ff43" stroke="#98ff43"/><polygon points="1192.2,231.9 1208.1,218.1 1193.2,215.4 1177.3,229.6" fill="#99ff3e" stroke="#99ff3e"/><polygon points="1208.1,218.1 1223.9,204.4 1209,201.3 1193.2,215.4" fill="#9eff3c" stroke="#9eff3c"/><polygon points="1223.9,204.4 1239.6,190.8 1224.6,187.4 1209,201.3" fill="#a7fd3c" stroke="#a7fd3c"/><polygon points="1239.6,190.8 1255.2,177.4 1240.1,173.6 1224.6,187.4" fill="#b3fc3c" stroke="#b3fc3c"/><polygon points="1255.2,177.4 1270.5,164 1255.5,159.9 1240.1,173.6" fill="#c4fd3c" stroke="#c4fd3c"/><polygon points="1270.5,164 1285.8,150.8 1270.7,146.3 1255.5,159.9" fill="#d5fc3a" stroke="#d5fc3a"/><polygon points="1285.8,150.8 1300.9,137.7 1285.8,132.8 1270.7,146.3" fill="#e8fc39" stroke="#e8fc39"/><polygon points="1300.9,137.7 1315.9,124.7 1300.8,119.5 1285.8,132.8" fill="#fff937" stroke="#fff937"/><polygon points="1315.9,124.7 1330.7,111.8 1315.6,106.3 1300.8,119.5" fill="#f5d430" stroke="#f5d430"/><polygon points="1330.7,111.8 1345.4,99.1 1330.3,93.1 1315.6,106.3" fill="#f5d430" stroke="#f5d430"/><polygon points="1345.4,99.1 1360,86.4 1344.9,80.1 1330.3,93.1" fill="#f5d430" stroke="#f5d430"/><polygon points="956.2,425.8 974.2,409.9 960.2,411.9 942.3,428.2" fill="#4c85fc" stroke="#4c85fc"/><polygon points="974.2,409.9 992,394.1 978,395.8 960.2,411.9" fill="#4c85fc" stroke="#4c85fc"/><polygon points="992,394.1 1009.7,378.5 995.5,379.8 978,395.8" fill="#4c85fc" stroke="#4c85fc"/><polygon points="1009.7,378.5 1027.1,363 1012.9,363.9 995.5,379.8" fill="#5ba4fb" stroke="#5ba4fb"/><polygon points="1027.1,363 1044.4,347.6 1030.2,348.2 1012.9,363.9" fill="#69c2fa" stroke="#69c2fa"/><polygon points="1044.4,347.6 1061.6,332.4 1047.2,332.6 1030.2,348.2" fill="#83effc" stroke="#83effc"/><polygon points="1061.6,332.4 1078.6,317.3 1064.2,317.2 1047.2,332.6" fill="#8cfdf1" stroke="#8cfdf1"/><polygon points="1078.6,317.3 1095.4,302.3 1080.9,301.9 1064.2,317.2" fill="#91ffca" stroke="#91ffca"/><polygon points="1095.4,302.3 1112.1,287.5 1097.5,286.7 1080.9,301.9" fill="#96ff9d" stroke="#96ff9d"/><polygon points="1112.1,287.5 1128.6,272.8 1114,271.6 1097.5,286.7" fill="#96ff7e" stroke="#96ff7e"/><polygon points="1128.6,272.8 1145,258.3 1130.3,256.7 1114,271.6" fill="#96ff5e" stroke="#96ff5e"/><polygon points="1145,258.3 1161.2,243.9 1146.5,241.9 1130.3,256.7" fill="#97ff4f" stroke="#97ff4f"/><polygon points="1161.2,243.9 1177.3,229.6 1162.5,227.3 1146.5,241.9" fill="#98ff44" stroke="#98ff44"/><polygon points="1177.3,229.6 1193.2,215.4 1178.4,212.7 1162.5,227.3" fill="#99ff3f" stroke="#99ff3f"/><polygon points="1193.2,215.4 1209,201.3 1194.2,198.3 1178.4,212.7" fill="#9dff3c" stroke="#9dff3c"/><polygon points="1209,201.3 1224.6,187.4 1209.8,184 1194.2,198.3" fill="#a6fe3c" stroke="#a6fe3c"/><polygon points="1224.6,187.4 1240.1,173.6 1225.2,169.9 1209.8,184" fill="#b2fc3c" stroke="#b2fc3c"/><polygon points="1240.1,173.6 1255.5,159.9 1240.6,155.8 1225.2,169.9" fill="#c4fd3c" stroke="#c4fd3c"/><polygon points="1255.5,159.9 1270.7,146.3 1255.8,141.9 1240.6,155.8" fill="#d6fc3a" stroke="#d6fc3a"/><polygon points="1270.7,146.3 1285.8,132.8 1270.8,128 1255.8,141.9" fill="#eafb38" stroke="#eafb38"/><polygon points="1285.8,132.8 1300.8,119.5 1285.8,114.3 1270.8,128" fill="#fff736" stroke="#fff736"/><polygon points="1300.8,119.5 1315.6,106.3 1300.6,100.7 1285.8,114.3" fill="#f2ca2f" stroke="#f2ca2f"/><polygon points="1315.6,106.3 1330.3,93.1 1315.3,87.3 1300.6,100.7" fill="#f2ca2f" stroke="#f2ca2f"/><polygon points="1330.3,93.1 1344.9,80.1 1329.9,73.9 1315.3,87.3" fill="#f2ca2f" stroke="#f2ca2f"/><polygon points="942.3,428.2 960.2,411.9 946.5,414 928.7,430.6" fill="#416ffd" stroke="#416ffd"/><polygon points="960.2,411.9 978,395.8 964.1,397.5 946.5,414" fill="#416ffd" stroke="#416ffd"/><polygon points="978,395.8 995.5,379.8 981.6,381.1 964.1,397.5" fill="#416ffd" stroke="#416ffd"/><polygon points="995.5,379.8 1012.9,363.9 998.9,364.9 981.6,381.1" fill="#518ffc" stroke="#518ffc"/><polygon points="1012.9,363.9 1030.2,348.2 1016.1,348.8 998.9,364.9" fill="#60affb" stroke="#60affb"/><polygon points="1030.2,348.2 1047.2,332.6 1033.1,332.9 1016.1,348.8" fill="#74d5fb" stroke="#74d5fb"/><polygon points="1047.2,332.6 1064.2,317.2 1049.9,317 1033.1,332.9" fill="#88f8f8" stroke="#88f8f8"/><polygon points="1064.2,317.2 1080.9,301.9 1066.6,301.4 1049.9,317" fill="#8fffe0" stroke="#8fffe0"/><polygon points="1080.9,301.9 1097.5,286.7 1083.2,285.8 1066.6,301.4" fill="#94ffb0" stroke="#94ffb0"/><polygon points="1097.5,286.7 1114,271.6 1099.6,270.4 1083.2,285.8" fill="#96ff8a" stroke="#96ff8a"/><polygon points="1114,271.6 1130.3,256.7 1115.9,255.2 1099.6,270.4" fill="#96ff69" stroke="#96ff69"/><polygon points="1130.3,256.7 1146.5,241.9 1132,240 1115.9,255.2" fill="#97ff53" stroke="#97ff53"/><polygon points="1146.5,241.9 1162.5,227.3 1148,225 1132,240" fill="#98ff45" stroke="#98ff45"/><polygon points="1162.5,227.3 1178.4,212.7 1163.8,210.1 1148,225" fill="#99ff40" stroke="#99ff40"/><polygon points="1178.4,212.7 1194.2,198.3 1179.5,195.3 1163.8,210.1" fill="#9cff3d" stroke="#9cff3d"/><polygon points="1194.2,198.3 1209.8,184 1195.1,180.7 1179.5,195.3" fill="#a5fe3c" stroke="#a5fe3c"/><polygon points="1209.8,184 1225.2,169.9 1210.5,166.2 1195.1,180.7" fill="#b1fc3c" stroke="#b1fc3c"/><polygon points="1225.2,169.9 1240.6,155.8 1225.8,151.8 1210.5,166.2" fill="#c3fd3c" stroke="#c3fd3c"/><polygon points="1240.6,155.8 1255.8,141.9 1241,137.5 1225.8,151.8" fill="#d6fc3a" stroke="#d6fc3a"/><polygon points="1255.8,141.9 1270.8,128 1256.1,123.3 1241,137.5" fill="#ecfb38" stroke="#ecfb38"/><polygon points="1270.8,128 1285.8,114.3 1271,109.2 1256.1,123.3" fill="#fff436" stroke="#fff436"/><polygon points="1285.8,114.3 1300.6,100.7 1285.8,95.3 1271,109.2" fill="#eec12d" stroke="#eec12d"/><polygon points="1300.6,100.7 1315.3,87.3 1300.5,81.5 1285.8,95.3" fill="#eec12d" stroke="#eec12d"/><polygon points="1315.3,87.3 1329.9,73.9 1315,67.7 1300.5,81.5" fill="#eec12d" stroke="#eec12d"/><polygon points="928.7,430.6 946.5,414 932.9,416 915.2,433" fill="#416ffd" stroke="#416ffd"/><polygon points="946.5,414 964.1,397.5 950.5,399.1 932.9,416" fill="#416ffd" stroke="#416ffd"/><polygon points="964.1,397.5 981.6,381.1 967.9,382.4 950.5,399.1" fill="#416ffd" stroke="#416ffd"/><polygon points="981.6,381.1 998.9,364.9 985.1,365.8 967.9,382.4" fill="#518ffc" stroke="#518ffc"/><polygon points="998.9,364.9 1016.1,348.8 1002.2,349.4 985.1,365.8" fill="#60affb" stroke="#60affb"/><polygon points="1016.1,348.8 1033.1,332.9 1019.1,333.1 1002.2,349.4" fill="#74d5fb" stroke="#74d5fb"/><polygon points="1033.1,332.9 1049.9,317 1035.9,316.9 1019.1,333.1" fill="#88f8f8" stroke="#88f8f8"/><polygon points="1049.9,317 1066.6,301.4 1052.5,300.9 1035.9,316.9" fill="#8fffe0" stroke="#8fffe0"/><polygon points="1066.6,301.4 1083.2,285.8 1069,285 1052.5,300.9" fill="#94ffb0" stroke="#94ffb0"/><polygon points="1083.2,285.8 1099.6,270.4 1085.4,269.3 1069,285" fill="#96ff8a" stroke="#96ff8a"/><polygon points="1099.6,270.4 1115.9,255.2 1101.6,253.6 1085.4,269.3" fill="#96ff69" stroke="#96ff69"/><polygon points="1115.9,255.2 1132,240 1117.7,238.1 1101.6,253.6" fill="#97ff53" stroke="#97ff53"/><polygon points="1132,240 1148,225 1133.6,222.8 1117.7,238.1" fill="#98ff45" stroke="#98ff45"/><polygon points="1148,225 1163.8,210.1 1149.4,207.5 1133.6,222.8" fill="#99ff40" stroke="#99ff40"/><polygon points="1163.8,210.1 1179.5,195.3 1165.1,192.4 1149.4,207.5" fill="#9cff3d" stroke="#9cff3d"/><polygon points="1179.5,195.3 1195.1,180.7 1180.6,177.4 1165.1,192.4" fill="#a5fe3c" stroke="#a5fe3c"/><polygon points="1195.1,180.7 1210.5,166.2 1196,162.5 1180.6,177.4" fill="#b1fc3c" stroke="#b1fc3c"/><polygon points="1210.5,166.2 1225.8,151.8 1211.3,147.8 1196,162.5" fill="#c3fd3c" stroke="#c3fd3c"/><polygon points="1225.8,151.8 1241,137.5 1226.4,133.1 1211.3,147.8" fill="#d6fc3a" stroke="#d6fc3a"/><polygon points="1241,137.5 1256.1,123.3 1241.4,118.6 1226.4,133.1" fill="#ecfb38" stroke="#ecfb38"/><polygon points="1256.1,123.3 1271,109.2 1256.3,104.2 1241.4,118.6" fill="#fff436" stroke="#fff436"/><polygon points="1271,109.2 1285.8,95.3 1271.1,89.9 1256.3,104.2" fill="#eec12d" stroke="#eec12d"/><polygon points="1285.8,95.3 1300.5,81.5 1285.8,75.7 1271.1,89.9" fill="#eec12d" stroke="#eec12d"/><polygon points="1300.5,81.5 1315,67.7 1300.3,61.6 1285.8,75.7" fill="#eec12d" stroke="#eec12d"/><polygon points="915.2,433 932.9,416 919.6,417.9 902,435.3" fill="#416ffd" stroke="#416ffd"/><polygon points="932.9,416 950.5,399.1 937,400.7 919.6,417.9" fill="#416ffd" stroke="#416ffd"/><polygon points="950.5,399.1 967.9,382.4 954.3,383.7 937,400.7" fill="#416ffd" stroke="#416ffd"/><polygon points="967.9,382.4 985.1,365.8 971.5,366.7 954.3,383.7" fill="#518ffc" stroke="#518ffc"/><polygon points="985.1,365.8 1002.2,349.4 988.5,350 971.5,366.7" fill="#60affb" stroke="#60affb"/><polygon points="1002.2,349.4 1019.1,333.1 1005.4,333.3 988.5,350" fill="#74d5fb" stroke="#74d5fb"/><polygon points="1019.1,333.1 1035.9,316.9 1022.1,316.8 1005.4,333.3" fill="#88f8f8" stroke="#88f8f8"/><polygon points="1035.9,316.9 1052.5,300.9 1038.6,300.4 1022.1,316.8" fill="#8fffe0" stroke="#8fffe0"/><polygon points="1052.5,300.9 1069,285 1055.1,284.2 1038.6,300.4" fill="#94ffb0" stroke="#94ffb0"/><polygon points="1069,285 1085.4,269.3 1071.4,268.1 1055.1,284.2" fill="#96ff8a" stroke="#96ff8a"/><polygon points="1085.4,269.3 1101.6,253.6 1087.5,252.1 1071.4,268.1" fill="#96ff69" stroke="#96ff69"/><polygon points="1101.6,253.6 1117.7,238.1 1103.5,236.3 1087.5,252.1" fill="#97ff53" stroke="#97ff53"/><polygon points="1117.7,238.1 1133.6,222.8 1119.4,220.6 1103.5,236.3" fill="#98ff45" stroke="#98ff45"/><polygon points="1133.6,222.8 1149.4,207.5 1135.2,205 1119.4,220.6" fill="#99ff40" stroke="#99ff40"/><polygon points="1149.4,207.5 1165.1,192.4 1150.8,189.5 1135.2,205" fill="#9cff3d" stroke="#9cff3d"/><polygon points="1165.1,192.4 1180.6,177.4 1166.3,174.2 1150.8,189.5" fill="#a5fe3c" stroke="#a5fe3c"/><polygon points="1180.6,177.4 1196,162.5 1181.6,158.9 1166.3,174.2" fill="#b1fc3c" stroke="#b1fc3c"/><polygon points="1196,162.5 1211.3,147.8 1196.9,143.8 1181.6,158.9" fill="#c3fd3c" stroke="#c3fd3c"/><polygon points="1211.3,147.8 1226.4,133.1 1212,128.8 1196.9,143.8" fill="#d6fc3a" stroke="#d6fc3a"/><polygon points="1226.4,133.1 1241.4,118.6 1227,114 1212,128.8" fill="#ecfb38" stroke="#ecfb38"/><polygon points="1241.4,118.6 1256.3,104.2 1241.9,99.2 1227,114" fill="#fff436" stroke="#fff436"/><polygon points="1256.3,104.2 1271.1,89.9 1256.6,84.6 1241.9,99.2" fill="#eec12d" stroke="#eec12d"/><polygon points="1271.1,89.9 1285.8,75.7 1271.3,70 1256.6,84.6" fill="#eec12d" stroke="#eec12d"/><polygon points="1285.8,75.7 1300.3,61.6 1285.8,55.6 1271.3,70" fill="#eec12d" stroke="#eec12d"/></g></g><g fill="none" stroke="#161616" stroke-width="2" stroke-linejoin="round"><polyline points="1285.8,358.2 1304.5,350.3 1322.9,342.4 1341.1,334.7 1359,327 1376.7,319.5 1394.2,312 1411.4,304.6 1428.4,297.4 1445.2,290.2 1461.8,283.1 1478.1,276.1 1494.3,269.1 1510.2,262.3 1525.9,255.5 1541.4,248.8 1556.8,242.2 1571.9,235.7 1586.9,229.2 1601.7,222.9 1616.2,216.6"/><polyline points="1285.8,358.2 1267.1,360.5 1248.7,362.8 1230.7,365 1212.9,367.2 1195.5,369.3 1178.3,371.4 1161.4,373.5 1144.8,375.5 1128.4,377.5 1112.3,379.5 1096.4,381.4 1080.8,383.3 1065.5,385.2 1050.3,387 1035.4,388.8 1020.7,390.6 1006.3,392.4 992,394.1 978,395.8 964.1,397.5"/><polyline points="1267.1,360.5 1285.8,352.1 1304.2,343.7 1322.3,335.5 1340.3,327.4 1358,319.3 1375.4,311.4 1392.7,303.6 1409.7,295.8 1426.5,288.2 1443,280.6 1459.4,273.2 1475.6,265.8 1491.5,258.5 1507.3,251.3 1522.8,244.2 1538.2,237.2 1553.4,230.2 1568.4,223.3 1583.2,216.5 1597.8,209.8"/><polyline points="1304.5,350.3 1285.8,352.1 1267.4,353.9 1249.3,355.6 1231.5,357.3 1214,359 1196.8,360.6 1179.8,362.3 1163.1,363.9 1146.7,365.4 1130.5,367 1114.6,368.5 1098.9,370 1083.5,371.4 1068.3,372.9 1053.3,374.3 1038.5,375.7 1024,377.1 1009.7,378.5 995.5,379.8 981.6,381.1"/><polyline points="1248.7,362.8 1267.4,353.9 1285.8,345 1303.9,336.3 1321.8,327.7 1339.5,319.2 1357,310.8 1374.2,302.5 1391.2,294.3 1408,286.2 1424.6,278.2 1440.9,270.3 1457.1,262.5 1473.1,254.8 1488.9,247.2 1504.5,239.6 1519.9,232.2 1535.1,224.8 1550.1,217.5 1565,210.3 1579.6,203.2"/><polyline points="1322.9,342.4 1304.2,343.7 1285.8,345 1267.6,346.3 1249.8,347.5 1232.3,348.8 1215,350 1198,351.2 1181.3,352.3 1164.8,353.5 1148.6,354.6 1132.6,355.7 1116.8,356.8 1101.3,357.9 1086.1,358.9 1071,359.9 1056.2,361 1041.5,362 1027.1,363 1012.9,363.9 998.9,364.9"/><polyline points="1230.7,365 1249.3,355.6 1267.6,346.3 1285.8,337.1 1303.7,328.1 1321.3,319.1 1338.8,310.2 1356,301.5 1373,292.9 1389.8,284.3 1406.4,275.9 1422.8,267.5 1438.9,259.3 1454.9,251.1 1470.7,243.1 1486.3,235.1 1501.8,227.2 1517,219.4 1532.1,211.7 1547,204.1 1561.7,196.6"/><polyline points="1341.1,334.7 1322.3,335.5 1303.9,336.3 1285.8,337.1 1267.9,337.9 1250.3,338.7 1233,339.4 1216,340.2 1199.2,340.9 1182.7,341.6 1166.4,342.3 1150.4,343 1134.5,343.7 1119,344.4 1103.6,345.1 1088.5,345.7 1073.6,346.3 1058.9,347 1044.4,347.6 1030.2,348.2 1016.1,348.8"/><polyline points="1212.9,367.2 1231.5,357.3 1249.8,347.5 1267.9,337.9 1285.8,328.4 1303.4,319 1320.8,309.7 1338,300.5 1355,291.4 1371.8,282.4 1388.4,273.5 1404.8,264.8 1421,256.1 1437,247.5 1452.8,239 1468.4,230.7 1483.9,222.4 1499.1,214.2 1514.2,206 1529.2,198 1543.9,190.1"/><polyline points="1359,327 1340.3,327.4 1321.8,327.7 1303.7,328.1 1285.8,328.4 1268.2,328.7 1250.8,329 1233.7,329.3 1216.9,329.6 1200.3,329.9 1184,330.2 1167.9,330.5 1152.1,330.8 1136.4,331.1 1121,331.3 1105.9,331.6 1090.9,331.9 1076.1,332.1 1061.6,332.4 1047.2,332.6 1033.1,332.9"/><polyline points="1195.5,369.3 1214,359 1232.3,348.8 1250.3,338.7 1268.2,328.7 1285.8,318.9 1303.2,309.1 1320.4,299.5 1337.4,290 1354.1,280.6 1370.7,271.2 1387.1,262 1403.3,252.9 1419.3,243.9 1435.1,235 1450.8,226.2 1466.2,217.5 1481.5,208.9 1496.6,200.4 1511.6,192 1526.3,183.6"/><polyline points="1376.7,319.5 1358,319.3 1339.5,319.2 1321.3,319.1 1303.4,319 1285.8,318.9 1268.4,318.7 1251.3,318.6 1234.4,318.5 1217.8,318.4 1201.4,318.2 1185.3,318.1 1169.4,318 1153.7,317.9 1138.3,317.8 1123,317.6 1108,317.5 1093.2,317.4 1078.6,317.3 1064.2,317.2 1049.9,317"/><polyline points="1178.3,371.4 1196.8,360.6 1215,350 1233,339.4 1250.8,329 1268.4,318.7 1285.8,308.6 1303,298.5 1319.9,288.5 1336.7,278.7 1353.3,269 1369.6,259.4 1385.8,249.8 1401.9,240.4 1417.7,231.1 1433.3,221.9 1448.8,212.8 1464.1,203.8 1479.2,194.8 1494.2,186 1509,177.3"/><polyline points="1394.2,312 1375.4,311.4 1357,310.8 1338.8,310.2 1320.8,309.7 1303.2,309.1 1285.8,308.6 1268.6,308 1251.7,307.5 1235.1,306.9 1218.7,306.4 1202.5,305.9 1186.6,305.3 1170.8,304.8 1155.3,304.3 1140,303.8 1125,303.3 1110.1,302.8 1095.4,302.3 1080.9,301.9 1066.6,301.4"/><polyline points="1161.4,373.5 1179.8,362.3 1198,351.2 1216,340.2 1233.7,329.3 1251.3,318.6 1268.6,308 1285.8,297.5 1302.7,287.1 1319.5,276.9 1336,266.7 1352.4,256.7 1368.6,246.8 1384.6,236.9 1400.5,227.2 1416.1,217.6 1431.6,208.1 1446.9,198.7 1462,189.3 1477,180.1 1491.9,171"/><polyline points="1411.4,304.6 1392.7,303.6 1374.2,302.5 1356,301.5 1338,300.5 1320.4,299.5 1303,298.5 1285.8,297.5 1268.9,296.6 1252.2,295.6 1235.7,294.7 1219.5,293.7 1203.5,292.8 1187.8,291.9 1172.2,291 1156.9,290.1 1141.7,289.2 1126.8,288.4 1112.1,287.5 1097.5,286.7 1083.2,285.8"/><polyline points="1144.8,375.5 1163.1,363.9 1181.3,352.3 1199.2,340.9 1216.9,329.6 1234.4,318.5 1251.7,307.5 1268.9,296.6 1285.8,285.8 1302.5,275.1 1319.1,264.5 1335.4,254.1 1351.6,243.7 1367.6,233.5 1383.4,223.4 1399.1,213.4 1414.6,203.4 1429.9,193.6 1445.1,183.9 1460.1,174.3 1474.9,164.8"/><polyline points="1428.4,297.4 1409.7,295.8 1391.2,294.3 1373,292.9 1355,291.4 1337.4,290 1319.9,288.5 1302.7,287.1 1285.8,285.8 1269.1,284.4 1252.6,283 1236.4,281.7 1220.3,280.4 1204.5,279.1 1188.9,277.8 1173.5,276.6 1158.4,275.3 1143.4,274.1 1128.6,272.8 1114,271.6 1099.6,270.4"/><polyline points="1128.4,377.5 1146.7,365.4 1164.8,353.5 1182.7,341.6 1200.3,329.9 1217.8,318.4 1235.1,306.9 1252.2,295.6 1269.1,284.4 1285.8,273.3 1302.3,262.3 1318.7,251.5 1334.8,240.7 1350.8,230.1 1366.7,219.6 1382.3,209.2 1397.8,198.9 1413.1,188.6 1428.3,178.5 1443.3,168.5 1458.1,158.6"/><polyline points="1445.2,290.2 1426.5,288.2 1408,286.2 1389.8,284.3 1371.8,282.4 1354.1,280.6 1336.7,278.7 1319.5,276.9 1302.5,275.1 1285.8,273.3 1269.3,271.6 1253,269.8 1236.9,268.1 1221.1,266.4 1205.5,264.8 1190,263.1 1174.8,261.5 1159.8,259.9 1145,258.3 1130.3,256.7 1115.9,255.2"/><polyline points="1112.3,379.5 1130.5,367 1148.6,354.6 1166.4,342.3 1184,330.2 1201.4,318.2 1218.7,306.4 1235.7,294.7 1252.6,283 1269.3,271.6 1285.8,260.2 1302.1,248.9 1318.3,237.8 1334.3,226.8 1350.1,215.8 1365.7,205 1381.2,194.3 1396.5,183.7 1411.7,173.2 1426.7,162.8 1441.6,152.5"/><polyline points="1461.8,283.1 1443,280.6 1424.6,278.2 1406.4,275.9 1388.4,273.5 1370.7,271.2 1353.3,269 1336,266.7 1319.1,264.5 1302.3,262.3 1285.8,260.2 1269.5,258.1 1253.4,255.9 1237.5,253.9 1221.9,251.8 1206.4,249.8 1191.1,247.8 1176.1,245.8 1161.2,243.9 1146.5,241.9 1132,240"/><polyline points="1096.4,381.4 1114.6,368.5 1132.6,355.7 1150.4,343 1167.9,330.5 1185.3,318.1 1202.5,305.9 1219.5,293.7 1236.4,281.7 1253,269.8 1269.5,258.1 1285.8,246.4 1301.9,234.9 1317.9,223.4 1333.7,212.1 1349.3,200.9 1364.8,189.8 1380.2,178.9 1395.3,168 1410.3,157.2 1425.2,146.5"/><polyline points="1478.1,276.1 1459.4,273.2 1440.9,270.3 1422.8,267.5 1404.8,264.8 1387.1,262 1369.6,259.4 1352.4,256.7 1335.4,254.1 1318.7,251.5 1302.1,248.9 1285.8,246.4 1269.7,243.9 1253.8,241.4 1238.1,239 1222.6,236.6 1207.3,234.2 1192.2,231.9 1177.3,229.6 1162.5,227.3 1148,225"/><polyline points="1080.8,383.3 1098.9,370 1116.8,356.8 1134.5,343.7 1152.1,330.8 1169.4,318 1186.6,305.3 1203.5,292.8 1220.3,280.4 1236.9,268.1 1253.4,255.9 1269.7,243.9 1285.8,232 1301.7,220.2 1317.5,208.5 1333.2,196.9 1348.6,185.4 1364,174 1379.1,162.8 1394.1,151.6 1409,140.6"/><polyline points="1494.3,269.1 1475.6,265.8 1457.1,262.5 1438.9,259.3 1421,256.1 1403.3,252.9 1385.8,249.8 1368.6,246.8 1351.6,243.7 1334.8,240.7 1318.3,237.8 1301.9,234.9 1285.8,232 1269.9,229.1 1254.1,226.3 1238.6,223.5 1223.3,220.8 1208.1,218.1 1193.2,215.4 1178.4,212.7 1163.8,210.1"/><polyline points="1065.5,385.2 1083.5,371.4 1101.3,357.9 1119,344.4 1136.4,331.1 1153.7,317.9 1170.8,304.8 1187.8,291.9 1204.5,279.1 1221.1,266.4 1237.5,253.9 1253.8,241.4 1269.9,229.1 1285.8,216.9 1301.6,204.9 1317.2,192.9 1332.6,181 1348,169.3 1363.1,157.7 1378.1,146.1 1393,134.7"/><polyline points="1510.2,262.3 1491.5,258.5 1473.1,254.8 1454.9,251.1 1437,247.5 1419.3,243.9 1401.9,240.4 1384.6,236.9 1367.6,233.5 1350.8,230.1 1334.3,226.8 1317.9,223.4 1301.7,220.2 1285.8,216.9 1270,213.7 1254.5,210.6 1239.1,207.5 1223.9,204.4 1209,201.3 1194.2,198.3 1179.5,195.3"/><polyline points="1050.3,387 1068.3,372.9 1086.1,358.9 1103.6,345.1 1121,331.3 1138.3,317.8 1155.3,304.3 1172.2,291 1188.9,277.8 1205.5,264.8 1221.9,251.8 1238.1,239 1254.1,226.3 1270,213.7 1285.8,201.3 1301.4,188.9 1316.8,176.7 1332.1,164.6 1347.3,152.6 1362.3,140.7 1377.2,128.9"/><polyline points="1525.9,255.5 1507.3,251.3 1488.9,247.2 1470.7,243.1 1452.8,239 1435.1,235 1417.7,231.1 1400.5,227.2 1383.4,223.4 1366.7,219.6 1350.1,215.8 1333.7,212.1 1317.5,208.5 1301.6,204.9 1285.8,201.3 1270.2,197.7 1254.8,194.3 1239.6,190.8 1224.6,187.4 1209.8,184 1195.1,180.7"/><polyline points="1035.4,388.8 1053.3,374.3 1071,359.9 1088.5,345.7 1105.9,331.6 1123,317.6 1140,303.8 1156.9,290.1 1173.5,276.6 1190,263.1 1206.4,249.8 1222.6,236.6 1238.6,223.5 1254.5,210.6 1270.2,197.7 1285.8,185 1301.2,172.4 1316.5,159.9 1331.7,147.6 1346.7,135.3 1361.5,123.1"/><polyline points="1541.4,248.8 1522.8,244.2 1504.5,239.6 1486.3,235.1 1468.4,230.7 1450.8,226.2 1433.3,221.9 1416.1,217.6 1399.1,213.4 1382.3,209.2 1365.7,205 1349.3,200.9 1333.2,196.9 1317.2,192.9 1301.4,188.9 1285.8,185 1270.4,181.2 1255.2,177.4 1240.1,173.6 1225.2,169.9 1210.5,166.2"/><polyline points="1020.7,390.6 1038.5,375.7 1056.2,361 1073.6,346.3 1090.9,331.9 1108,317.5 1125,303.3 1141.7,289.2 1158.4,275.3 1174.8,261.5 1191.1,247.8 1207.3,234.2 1223.3,220.8 1239.1,207.5 1254.8,194.3 1270.4,181.2 1285.8,168.2 1301.1,155.3 1316.2,142.6 1331.2,130 1346,117.5"/><polyline points="1556.8,242.2 1538.2,237.2 1519.9,232.2 1501.8,227.2 1483.9,222.4 1466.2,217.5 1448.8,212.8 1431.6,208.1 1414.6,203.4 1397.8,198.9 1381.2,194.3 1364.8,189.8 1348.6,185.4 1332.6,181 1316.8,176.7 1301.2,172.4 1285.8,168.2 1270.5,164 1255.5,159.9 1240.6,155.8 1225.8,151.8"/><polyline points="1006.3,392.4 1024,377.1 1041.5,362 1058.9,347 1076.1,332.1 1093.2,317.4 1110.1,302.8 1126.8,288.4 1143.4,274.1 1159.8,259.9 1176.1,245.8 1192.2,231.9 1208.1,218.1 1223.9,204.4 1239.6,190.8 1255.2,177.4 1270.5,164 1285.8,150.8 1300.9,137.7 1315.9,124.7 1330.7,111.8"/><polyline points="1571.9,235.7 1553.4,230.2 1535.1,224.8 1517,219.4 1499.1,214.2 1481.5,208.9 1464.1,203.8 1446.9,198.7 1429.9,193.6 1413.1,188.6 1396.5,183.7 1380.2,178.9 1364,174 1348,169.3 1332.1,164.6 1316.5,159.9 1301.1,155.3 1285.8,150.8 1270.7,146.3 1255.8,141.9 1241,137.5"/><polyline points="992,394.1 1009.7,378.5 1027.1,363 1044.4,347.6 1061.6,332.4 1078.6,317.3 1095.4,302.3 1112.1,287.5 1128.6,272.8 1145,258.3 1161.2,243.9 1177.3,229.6 1193.2,215.4 1209,201.3 1224.6,187.4 1240.1,173.6 1255.5,159.9 1270.7,146.3 1285.8,132.8 1300.8,119.5 1315.6,106.3"/><polyline points="1586.9,229.2 1568.4,223.3 1550.1,217.5 1532.1,211.7 1514.2,206 1496.6,200.4 1479.2,194.8 1462,189.3 1445.1,183.9 1428.3,178.5 1411.7,173.2 1395.3,168 1379.1,162.8 1363.1,157.7 1347.3,152.6 1331.7,147.6 1316.2,142.6 1300.9,137.7 1285.8,132.8 1270.8,128 1256.1,123.3"/><polyline points="978,395.8 995.5,379.8 1012.9,363.9 1030.2,348.2 1047.2,332.6 1064.2,317.2 1080.9,301.9 1097.5,286.7 1114,271.6 1130.3,256.7 1146.5,241.9 1162.5,227.3 1178.4,212.7 1194.2,198.3 1209.8,184 1225.2,169.9 1240.6,155.8 1255.8,141.9 1270.8,128 1285.8,114.3 1300.6,100.7"/><polyline points="1601.7,222.9 1583.2,216.5 1565,210.3 1547,204.1 1529.2,198 1511.6,192 1494.2,186 1477,180.1 1460.1,174.3 1443.3,168.5 1426.7,162.8 1410.3,157.2 1394.1,151.6 1378.1,146.1 1362.3,140.7 1346.7,135.3 1331.2,130 1315.9,124.7 1300.8,119.5 1285.8,114.3 1271,109.2"/><polyline points="964.1,397.5 981.6,381.1 998.9,364.9 1016.1,348.8 1033.1,332.9 1049.9,317 1066.6,301.4 1083.2,285.8 1099.6,270.4 1115.9,255.2 1132,240 1148,225 1163.8,210.1 1179.5,195.3 1195.1,180.7 1210.5,166.2 1225.8,151.8 1241,137.5 1256.1,123.3 1271,109.2 1285.8,95.3"/><polyline points="1616.2,216.6 1597.8,209.8 1579.6,203.2 1561.7,196.6 1543.9,190.1 1526.3,183.6 1509,177.3 1491.9,171 1474.9,164.8 1458.1,158.6 1441.6,152.5 1425.2,146.5 1409,140.6 1393,134.7 1377.2,128.9 1361.5,123.1 1346,117.5 1330.7,111.8 1315.6,106.3 1300.6,100.7 1285.8,95.3"/></g><line x1="1285.8" y1="241.1" x2="1285.8" y2="260.2" stroke="#111" stroke-width="2.2"/><ellipse cx="1285.8" cy="241.1" rx="6.6" ry="9.1" fill="#b8101c" stroke="#222" stroke-width="1.2"/><path d="M970.4 1253.2L1282 1147.7L1593.6 1252.9M967.9 1199.7L1282 1099.4L1596.2 1199.4M965.3 1146.2L1282 1051.1L1598.7 1145.9M962.7 1092.7L1282 1002.9L1601.3 1092.4M960.1 1039.3L1281.9 954.6L1603.8 1038.9M957.5 985.8L1281.9 906.3L1606.3 985.4M955 932.3L1281.9 858.1L1608.9 931.9M1048.3 1226.8L1036.7 913.7M1359.9 1174L1363.6 876.5M1126.2 1200.4L1118.4 895.2M1437.8 1200.3L1445.4 895M1204.1 1174.1L1200.2 876.6M1515.7 1226.6L1527.1 913.4M975.3 1353.7L955 932.3M1282 1238.3L1281.9 858.1M1588.9 1353.4L1608.9 931.9" stroke="#1c1c1c" stroke-width="1.7" fill="none"/><polygon points="975.3,1353.7 1282,1500.3 1588.9,1353.4 1282,1238.3" fill="#646464" stroke="#111" stroke-width="1.8" stroke-linejoin="round"/><polyline points="1055.6,1323.5 1069.3,1346.6 1082.4,1369.7 1095.3,1393.3 1107.7,1417" fill="none" stroke="#94ffae" stroke-width="3" stroke-linecap="round"/><polyline points="1131.2,1295 1147.7,1317.5 1164,1340.6 1179.9,1363.9 1195.7,1387.7 1211.2,1412.1 1226.4,1437 1241.5,1462.4 1256,1487.9" fill="none" stroke="#97ff55" stroke-width="3" stroke-linecap="round"/><polyline points="1202.5,1268.2 1222.6,1291.1 1242.7,1314.8 1262.2,1338.5 1281.6,1362.9 1300.7,1387.7 1319.5,1412.9 1338,1438.5 1356.3,1464.7" fill="none" stroke="#9bff3d" stroke-width="3" stroke-linecap="round"/><polyline points="1269.9,1242.9 1291.9,1264.3 1313.9,1286.3 1335.3,1308.4 1356.6,1331 1377.9,1354.2 1398.5,1377.3 1419,1400.9 1439.4,1425" fill="none" stroke="#bdfd3c" stroke-width="3" stroke-linecap="round"/><polyline points="1411.7,1286.9 1438.2,1311.4 1464.7,1336.5 1490.6,1361.9 1516.7,1388" fill="none" stroke="#f9fa37" stroke-width="3" stroke-linecap="round"/><g fill="#111"><circle cx="970.4" cy="1253.2" r="3"/><circle cx="967.9" cy="1199.7" r="3"/><circle cx="965.3" cy="1146.2" r="3"/><circle cx="962.7" cy="1092.7" r="3"/><circle cx="960.1" cy="1039.3" r="3"/><circle cx="957.5" cy="985.8" r="3"/><circle cx="955" cy="932.3" r="3"/><circle cx="975.3" cy="1353.7" r="3"/><circle cx="1282" cy="1500.3" r="3"/><circle cx="1052" cy="1390.3" r="3"/><circle cx="1358.7" cy="1463.6" r="3"/><circle cx="1128.7" cy="1427" r="3"/><circle cx="1435.5" cy="1426.9" r="3"/><circle cx="1205.3" cy="1463.7" r="3"/><circle cx="1512.2" cy="1390.1" r="3"/><circle cx="1282" cy="1500.3" r="3"/><circle cx="1588.9" cy="1353.4" r="3"/></g><g clip-path="url(#sc205)"><g filter="url(#sf205)" stroke-width="1"><polygon points="1281.9,1240.4 1300.5,1226.9 1281.9,1223.8 1263.3,1237.2" fill="#98ff4b" stroke="#98ff4b"/><polygon points="1300.5,1226.9 1319,1213.5 1300.3,1210.5 1281.9,1223.8" fill="#98ff4b" stroke="#98ff4b"/><polygon points="1319,1213.5 1337.2,1200.3 1318.5,1197.4 1300.3,1210.5" fill="#98ff4b" stroke="#98ff4b"/><polygon points="1337.2,1200.3 1355.1,1187.2 1336.4,1184.4 1318.5,1197.4" fill="#98ff45" stroke="#98ff45"/><polygon points="1355.1,1187.2 1372.9,1174.3 1354.1,1171.6 1336.4,1184.4" fill="#99ff42" stroke="#99ff42"/><polygon points="1372.9,1174.3 1390.4,1161.6 1371.6,1158.9 1354.1,1171.6" fill="#99ff3f" stroke="#99ff3f"/><polygon points="1390.4,1161.6 1407.7,1149 1388.9,1146.4 1371.6,1158.9" fill="#9bff3d" stroke="#9bff3d"/><polygon points="1407.7,1149 1424.8,1136.5 1406,1134.1 1388.9,1146.4" fill="#9dff3c" stroke="#9dff3c"/><polygon points="1424.8,1136.5 1441.7,1124.2 1422.9,1121.8 1406,1134.1" fill="#a3fe3c" stroke="#a3fe3c"/><polygon points="1441.7,1124.2 1458.4,1112.1 1439.6,1109.7 1422.9,1121.8" fill="#a9fd3c" stroke="#a9fd3c"/><polygon points="1458.4,1112.1 1474.9,1100 1456.1,1097.8 1439.6,1109.7" fill="#affc3c" stroke="#affc3c"/><polygon points="1474.9,1100 1491.2,1088.2 1472.4,1086 1456.1,1097.8" fill="#b9fc3c" stroke="#b9fc3c"/><polygon points="1491.2,1088.2 1507.4,1076.4 1488.5,1074.3 1472.4,1086" fill="#c3fd3c" stroke="#c3fd3c"/><polygon points="1507.4,1076.4 1523.3,1064.8 1504.4,1062.7 1488.5,1074.3" fill="#cefd3b" stroke="#cefd3b"/><polygon points="1523.3,1064.8 1539,1053.3 1520.2,1051.3 1504.4,1062.7" fill="#d8fc3a" stroke="#d8fc3a"/><polygon points="1539,1053.3 1554.6,1041.9 1535.7,1040 1520.2,1051.3" fill="#e3fc39" stroke="#e3fc39"/><polygon points="1554.6,1041.9 1570,1030.7 1551.1,1028.8 1535.7,1040" fill="#f1fb38" stroke="#f1fb38"/><polygon points="1570,1030.7 1585.2,1019.6 1566.3,1017.8 1551.1,1028.8" fill="#fffa37" stroke="#fffa37"/><polygon points="1585.2,1019.6 1600.2,1008.6 1581.4,1006.8 1566.3,1017.8" fill="#fdea34" stroke="#fdea34"/><polygon points="1600.2,1008.6 1615.1,997.7 1596.2,996 1581.4,1006.8" fill="#f1c92f" stroke="#f1c92f"/><polygon points="1615.1,997.7 1629.8,986.9 1611,985.3 1596.2,996" fill="#eab02a" stroke="#eab02a"/><polygon points="1629.8,986.9 1644.3,976.3 1625.5,974.7 1611,985.3" fill="#e69b26" stroke="#e69b26"/><polygon points="1644.3,976.3 1658.7,965.7 1639.9,964.2 1625.5,974.7" fill="#e69b26" stroke="#e69b26"/><polygon points="1658.7,965.7 1672.9,955.3 1654.1,953.8 1639.9,964.2" fill="#e69b26" stroke="#e69b26"/><polygon points="1263.3,1237.2 1281.9,1223.8 1263.5,1220.7 1244.9,1234.1" fill="#98ff4b" stroke="#98ff4b"/><polygon points="1281.9,1223.8 1300.3,1210.5 1281.9,1207.5 1263.5,1220.7" fill="#98ff4b" stroke="#98ff4b"/><polygon points="1300.3,1210.5 1318.5,1197.4 1300,1194.5 1281.9,1207.5" fill="#98ff4b" stroke="#98ff4b"/><polygon points="1318.5,1197.4 1336.4,1184.4 1318,1181.6 1300,1194.5" fill="#98ff45" stroke="#98ff45"/><polygon points="1336.4,1184.4 1354.1,1171.6 1335.7,1168.9 1318,1181.6" fill="#99ff42" stroke="#99ff42"/><polygon points="1354.1,1171.6 1371.6,1158.9 1353.2,1156.3 1335.7,1168.9" fill="#99ff3f" stroke="#99ff3f"/><polygon points="1371.6,1158.9 1388.9,1146.4 1370.4,1143.9 1353.2,1156.3" fill="#9bff3d" stroke="#9bff3d"/><polygon points="1388.9,1146.4 1406,1134.1 1387.5,1131.6 1370.4,1143.9" fill="#9dff3c" stroke="#9dff3c"/><polygon points="1406,1134.1 1422.9,1121.8 1404.4,1119.5 1387.5,1131.6" fill="#a3fe3c" stroke="#a3fe3c"/><polygon points="1422.9,1121.8 1439.6,1109.7 1421.1,1107.4 1404.4,1119.5" fill="#a9fd3c" stroke="#a9fd3c"/><polygon points="1439.6,1109.7 1456.1,1097.8 1437.5,1095.6 1421.1,1107.4" fill="#affc3c" stroke="#affc3c"/><polygon points="1456.1,1097.8 1472.4,1086 1453.8,1083.8 1437.5,1095.6" fill="#b9fc3c" stroke="#b9fc3c"/><polygon points="1472.4,1086 1488.5,1074.3 1469.9,1072.2 1453.8,1083.8" fill="#c3fd3c" stroke="#c3fd3c"/><polygon points="1488.5,1074.3 1504.4,1062.7 1485.9,1060.7 1469.9,1072.2" fill="#cefd3b" stroke="#cefd3b"/><polygon points="1504.4,1062.7 1520.2,1051.3 1501.6,1049.3 1485.9,1060.7" fill="#d8fc3a" stroke="#d8fc3a"/><polygon points="1520.2,1051.3 1535.7,1040 1517.1,1038.1 1501.6,1049.3" fill="#e3fc39" stroke="#e3fc39"/><polygon points="1535.7,1040 1551.1,1028.8 1532.5,1027 1517.1,1038.1" fill="#f1fb38" stroke="#f1fb38"/><polygon points="1551.1,1028.8 1566.3,1017.8 1547.7,1016 1532.5,1027" fill="#fffa37" stroke="#fffa37"/><polygon points="1566.3,1017.8 1581.4,1006.8 1562.8,1005.1 1547.7,1016" fill="#fdea34" stroke="#fdea34"/><polygon points="1581.4,1006.8 1596.2,996 1577.7,994.3 1562.8,1005.1" fill="#f1c92f" stroke="#f1c92f"/><polygon points="1596.2,996 1611,985.3 1592.4,983.7 1577.7,994.3" fill="#eab02a" stroke="#eab02a"/><polygon points="1611,985.3 1625.5,974.7 1606.9,973.1 1592.4,983.7" fill="#e69b26" stroke="#e69b26"/><polygon points="1625.5,974.7 1639.9,964.2 1621.3,962.7 1606.9,973.1" fill="#e69b26" stroke="#e69b26"/><polygon points="1639.9,964.2 1654.1,953.8 1635.5,952.4 1621.3,962.7" fill="#e69b26" stroke="#e69b26"/><polygon points="1244.9,1234.1 1263.5,1220.7 1245.4,1217.7 1226.9,1231" fill="#98ff4b" stroke="#98ff4b"/><polygon points="1263.5,1220.7 1281.9,1207.5 1263.8,1204.6 1245.4,1217.7" fill="#98ff4b" stroke="#98ff4b"/><polygon points="1281.9,1207.5 1300,1194.5 1281.9,1191.7 1263.8,1204.6" fill="#98ff4b" stroke="#98ff4b"/><polygon points="1300,1194.5 1318,1181.6 1299.8,1178.9 1281.9,1191.7" fill="#98ff45" stroke="#98ff45"/><polygon points="1318,1181.6 1335.7,1168.9 1317.5,1166.3 1299.8,1178.9" fill="#99ff42" stroke="#99ff42"/><polygon points="1335.7,1168.9 1353.2,1156.3 1334.9,1153.8 1317.5,1166.3" fill="#99ff3f" stroke="#99ff3f"/><polygon points="1353.2,1156.3 1370.4,1143.9 1352.2,1141.4 1334.9,1153.8" fill="#9bff3d" stroke="#9bff3d"/><polygon points="1370.4,1143.9 1387.5,1131.6 1369.3,1129.2 1352.2,1141.4" fill="#9dff3c" stroke="#9dff3c"/><polygon points="1387.5,1131.6 1404.4,1119.5 1386.1,1117.1 1369.3,1129.2" fill="#a3fe3c" stroke="#a3fe3c"/><polygon points="1404.4,1119.5 1421.1,1107.4 1402.8,1105.2 1386.1,1117.1" fill="#a9fd3c" stroke="#a9fd3c"/><polygon points="1421.1,1107.4 1437.5,1095.6 1419.2,1093.4 1402.8,1105.2" fill="#affc3c" stroke="#affc3c"/><polygon points="1437.5,1095.6 1453.8,1083.8 1435.5,1081.7 1419.2,1093.4" fill="#b9fc3c" stroke="#b9fc3c"/><polygon points="1453.8,1083.8 1469.9,1072.2 1451.6,1070.1 1435.5,1081.7" fill="#c3fd3c" stroke="#c3fd3c"/><polygon points="1469.9,1072.2 1485.9,1060.7 1467.5,1058.7 1451.6,1070.1" fill="#cefd3b" stroke="#cefd3b"/><polygon points="1485.9,1060.7 1501.6,1049.3 1483.3,1047.4 1467.5,1058.7" fill="#d8fc3a" stroke="#d8fc3a"/><polygon points="1501.6,1049.3 1517.1,1038.1 1498.8,1036.2 1483.3,1047.4" fill="#e3fc39" stroke="#e3fc39"/><polygon points="1517.1,1038.1 1532.5,1027 1514.2,1025.2 1498.8,1036.2" fill="#f1fb38" stroke="#f1fb38"/><polygon points="1532.5,1027 1547.7,1016 1529.4,1014.2 1514.2,1025.2" fill="#fffa37" stroke="#fffa37"/><polygon points="1547.7,1016 1562.8,1005.1 1544.4,1003.4 1529.4,1014.2" fill="#fdea34" stroke="#fdea34"/><polygon points="1562.8,1005.1 1577.7,994.3 1559.3,992.7 1544.4,1003.4" fill="#f1c92f" stroke="#f1c92f"/><polygon points="1577.7,994.3 1592.4,983.7 1574,982.1 1559.3,992.7" fill="#eab02a" stroke="#eab02a"/><polygon points="1592.4,983.7 1606.9,973.1 1588.6,971.6 1574,982.1" fill="#e69b26" stroke="#e69b26"/><polygon points="1606.9,973.1 1621.3,962.7 1603,961.2 1588.6,971.6" fill="#e69b26" stroke="#e69b26"/><polygon points="1621.3,962.7 1635.5,952.4 1617.2,951 1603,961.2" fill="#e69b26" stroke="#e69b26"/><polygon points="1226.9,1231 1245.4,1217.7 1227.6,1214.8 1209.1,1227.9" fill="#97ff50" stroke="#97ff50"/><polygon points="1245.4,1217.7 1263.8,1204.6 1245.9,1201.8 1227.6,1214.8" fill="#97ff50" stroke="#97ff50"/><polygon points="1263.8,1204.6 1281.9,1191.7 1264,1188.9 1245.9,1201.8" fill="#97ff50" stroke="#97ff50"/><polygon points="1281.9,1191.7 1299.8,1178.9 1281.9,1176.2 1264,1188.9" fill="#98ff47" stroke="#98ff47"/><polygon points="1299.8,1178.9 1317.5,1166.3 1299.6,1163.6 1281.9,1176.2" fill="#98ff44" stroke="#98ff44"/><polygon points="1317.5,1166.3 1334.9,1153.8 1317,1151.2 1299.6,1163.6" fill="#99ff41" stroke="#99ff41"/><polygon points="1334.9,1153.8 1352.2,1141.4 1334.2,1138.9 1317,1151.2" fill="#99ff3e" stroke="#99ff3e"/><polygon points="1352.2,1141.4 1369.3,1129.2 1351.3,1126.8 1334.2,1138.9" fill="#9cff3d" stroke="#9cff3d"/><polygon points="1369.3,1129.2 1386.1,1117.1 1368.1,1114.8 1351.3,1126.8" fill="#9fff3c" stroke="#9fff3c"/><polygon points="1386.1,1117.1 1402.8,1105.2 1384.8,1102.9 1368.1,1114.8" fill="#a5fe3c" stroke="#a5fe3c"/><polygon points="1402.8,1105.2 1419.2,1093.4 1401.2,1091.2 1384.8,1102.9" fill="#acfd3c" stroke="#acfd3c"/><polygon points="1419.2,1093.4 1435.5,1081.7 1417.5,1079.6 1401.2,1091.2" fill="#b4fc3c" stroke="#b4fc3c"/><polygon points="1435.5,1081.7 1451.6,1070.1 1433.6,1068.1 1417.5,1079.6" fill="#befd3c" stroke="#befd3c"/><polygon points="1451.6,1070.1 1467.5,1058.7 1449.5,1056.7 1433.6,1068.1" fill="#c8fd3c" stroke="#c8fd3c"/><polygon points="1467.5,1058.7 1483.3,1047.4 1465.2,1045.5 1449.5,1056.7" fill="#d3fd3b" stroke="#d3fd3b"/><polygon points="1483.3,1047.4 1498.8,1036.2 1480.7,1034.4 1465.2,1045.5" fill="#ddfc39" stroke="#ddfc39"/><polygon points="1498.8,1036.2 1514.2,1025.2 1496.1,1023.4 1480.7,1034.4" fill="#eafb38" stroke="#eafb38"/><polygon points="1514.2,1025.2 1529.4,1014.2 1511.3,1012.5 1496.1,1023.4" fill="#f8fa37" stroke="#f8fa37"/><polygon points="1529.4,1014.2 1544.4,1003.4 1526.3,1001.7 1511.3,1012.5" fill="#fff436" stroke="#fff436"/><polygon points="1544.4,1003.4 1559.3,992.7 1541.2,991.1 1526.3,1001.7" fill="#f7d931" stroke="#f7d931"/><polygon points="1559.3,992.7 1574,982.1 1555.9,980.5 1541.2,991.1" fill="#edbb2c" stroke="#edbb2c"/><polygon points="1574,982.1 1588.6,971.6 1570.5,970.1 1555.9,980.5" fill="#e8a527" stroke="#e8a527"/><polygon points="1588.6,971.6 1603,961.2 1584.9,959.8 1570.5,970.1" fill="#e8a527" stroke="#e8a527"/><polygon points="1603,961.2 1617.2,951 1599.1,949.5 1584.9,959.8" fill="#e8a527" stroke="#e8a527"/><polygon points="1209.1,1227.9 1227.6,1214.8 1210.1,1211.9 1191.6,1224.9" fill="#97ff55" stroke="#97ff55"/><polygon points="1227.6,1214.8 1245.9,1201.8 1228.4,1198.9 1210.1,1211.9" fill="#97ff55" stroke="#97ff55"/><polygon points="1245.9,1201.8 1264,1188.9 1246.4,1186.2 1228.4,1198.9" fill="#97ff55" stroke="#97ff55"/><polygon points="1264,1188.9 1281.9,1176.2 1264.3,1173.5 1246.4,1186.2" fill="#98ff4c" stroke="#98ff4c"/><polygon points="1281.9,1176.2 1299.6,1163.6 1281.9,1161.1 1264.3,1173.5" fill="#98ff45" stroke="#98ff45"/><polygon points="1299.6,1163.6 1317,1151.2 1299.3,1148.7 1281.9,1161.1" fill="#98ff42" stroke="#98ff42"/><polygon points="1317,1151.2 1334.2,1138.9 1316.5,1136.5 1299.3,1148.7" fill="#99ff3f" stroke="#99ff3f"/><polygon points="1334.2,1138.9 1351.3,1126.8 1333.6,1124.5 1316.5,1136.5" fill="#9aff3d" stroke="#9aff3d"/><polygon points="1351.3,1126.8 1368.1,1114.8 1350.4,1112.5 1333.6,1124.5" fill="#9dff3c" stroke="#9dff3c"/><polygon points="1368.1,1114.8 1384.8,1102.9 1367,1100.7 1350.4,1112.5" fill="#a2fe3c" stroke="#a2fe3c"/><polygon points="1384.8,1102.9 1401.2,1091.2 1383.4,1089.1 1367,1100.7" fill="#a8fd3c" stroke="#a8fd3c"/><polygon points="1401.2,1091.2 1417.5,1079.6 1399.7,1077.5 1383.4,1089.1" fill="#affc3c" stroke="#affc3c"/><polygon points="1417.5,1079.6 1433.6,1068.1 1415.8,1066.1 1399.7,1077.5" fill="#b9fc3c" stroke="#b9fc3c"/><polygon points="1433.6,1068.1 1449.5,1056.7 1431.7,1054.8 1415.8,1066.1" fill="#c3fd3c" stroke="#c3fd3c"/><polygon points="1449.5,1056.7 1465.2,1045.5 1447.4,1043.6 1431.7,1054.8" fill="#cefd3b" stroke="#cefd3b"/><polygon points="1465.2,1045.5 1480.7,1034.4 1462.9,1032.6 1447.4,1043.6" fill="#d8fc3a" stroke="#d8fc3a"/><polygon points="1480.7,1034.4 1496.1,1023.4 1478.3,1021.6 1462.9,1032.6" fill="#e3fc39" stroke="#e3fc39"/><polygon points="1496.1,1023.4 1511.3,1012.5 1493.5,1010.8 1478.3,1021.6" fill="#f1fb38" stroke="#f1fb38"/><polygon points="1511.3,1012.5 1526.3,1001.7 1508.5,1000.1 1493.5,1010.8" fill="#fff937" stroke="#fff937"/><polygon points="1526.3,1001.7 1541.2,991.1 1523.4,989.5 1508.5,1000.1" fill="#fce934" stroke="#fce934"/><polygon points="1541.2,991.1 1555.9,980.5 1538.1,979 1523.4,989.5" fill="#f1c82e" stroke="#f1c82e"/><polygon points="1555.9,980.5 1570.5,970.1 1552.6,968.6 1538.1,979" fill="#eaaf2a" stroke="#eaaf2a"/><polygon points="1570.5,970.1 1584.9,959.8 1567,958.3 1552.6,968.6" fill="#eaaf2a" stroke="#eaaf2a"/><polygon points="1584.9,959.8 1599.1,949.5 1581.3,948.2 1567,958.3" fill="#eaaf2a" stroke="#eaaf2a"/><polygon points="1191.6,1224.9 1210.1,1211.9 1192.8,1209 1174.4,1222" fill="#96ff5a" stroke="#96ff5a"/><polygon points="1210.1,1211.9 1228.4,1198.9 1211.1,1196.2 1192.8,1209" fill="#96ff5a" stroke="#96ff5a"/><polygon points="1228.4,1198.9 1246.4,1186.2 1229.1,1183.5 1211.1,1196.2" fill="#96ff5a" stroke="#96ff5a"/><polygon points="1246.4,1186.2 1264.3,1173.5 1246.9,1170.9 1229.1,1183.5" fill="#97ff51" stroke="#97ff51"/><polygon points="1264.3,1173.5 1281.9,1161.1 1264.5,1158.5 1246.9,1170.9" fill="#98ff48" stroke="#98ff48"/><polygon points="1281.9,1161.1 1299.3,1148.7 1281.9,1146.3 1264.5,1158.5" fill="#98ff44" stroke="#98ff44"/><polygon points="1299.3,1148.7 1316.5,1136.5 1299.1,1134.1 1281.9,1146.3" fill="#99ff41" stroke="#99ff41"/><polygon points="1316.5,1136.5 1333.6,1124.5 1316.1,1122.1 1299.1,1134.1" fill="#99ff3e" stroke="#99ff3e"/><polygon points="1333.6,1124.5 1350.4,1112.5 1332.9,1110.3 1316.1,1122.1" fill="#9cff3d" stroke="#9cff3d"/><polygon points="1350.4,1112.5 1367,1100.7 1349.5,1098.6 1332.9,1110.3" fill="#9fff3c" stroke="#9fff3c"/><polygon points="1367,1100.7 1383.4,1089.1 1365.9,1087 1349.5,1098.6" fill="#a5fe3c" stroke="#a5fe3c"/><polygon points="1383.4,1089.1 1399.7,1077.5 1382.2,1075.5 1365.9,1087" fill="#abfd3c" stroke="#abfd3c"/><polygon points="1399.7,1077.5 1415.8,1066.1 1398.2,1064.1 1382.2,1075.5" fill="#b3fc3c" stroke="#b3fc3c"/><polygon points="1415.8,1066.1 1431.7,1054.8 1414.1,1052.9 1398.2,1064.1" fill="#befd3c" stroke="#befd3c"/><polygon points="1431.7,1054.8 1447.4,1043.6 1429.8,1041.8 1414.1,1052.9" fill="#c8fd3c" stroke="#c8fd3c"/><polygon points="1447.4,1043.6 1462.9,1032.6 1445.3,1030.8 1429.8,1041.8" fill="#d3fd3b" stroke="#d3fd3b"/><polygon points="1462.9,1032.6 1478.3,1021.6 1460.7,1019.9 1445.3,1030.8" fill="#ddfc39" stroke="#ddfc39"/><polygon points="1478.3,1021.6 1493.5,1010.8 1475.9,1009.1 1460.7,1019.9" fill="#eafb38" stroke="#eafb38"/><polygon points="1493.5,1010.8 1508.5,1000.1 1490.9,998.5 1475.9,1009.1" fill="#f9fa37" stroke="#f9fa37"/><polygon points="1508.5,1000.1 1523.4,989.5 1505.8,987.9 1490.9,998.5" fill="#fff336" stroke="#fff336"/><polygon points="1523.4,989.5 1538.1,979 1520.5,977.5 1505.8,987.9" fill="#f6d731" stroke="#f6d731"/><polygon points="1538.1,979 1552.6,968.6 1535,967.1 1520.5,977.5" fill="#ecba2c" stroke="#ecba2c"/><polygon points="1552.6,968.6 1567,958.3 1549.4,956.9 1535,967.1" fill="#ecba2c" stroke="#ecba2c"/><polygon points="1567,958.3 1581.3,948.2 1563.7,946.8 1549.4,956.9" fill="#ecba2c" stroke="#ecba2c"/><polygon points="1174.4,1222 1192.8,1209 1175.8,1206.2 1157.4,1219.1" fill="#96ff60" stroke="#96ff60"/><polygon points="1192.8,1209 1211.1,1196.2 1194,1193.4 1175.8,1206.2" fill="#96ff60" stroke="#96ff60"/><polygon points="1211.1,1196.2 1229.1,1183.5 1212,1180.8 1194,1193.4" fill="#96ff60" stroke="#96ff60"/><polygon points="1229.1,1183.5 1246.9,1170.9 1229.8,1168.3 1212,1180.8" fill="#97ff56" stroke="#97ff56"/><polygon points="1246.9,1170.9 1264.5,1158.5 1247.4,1156 1229.8,1168.3" fill="#97ff4d" stroke="#97ff4d"/><polygon points="1264.5,1158.5 1281.9,1146.3 1264.7,1143.8 1247.4,1156" fill="#98ff45" stroke="#98ff45"/><polygon points="1281.9,1146.3 1299.1,1134.1 1281.9,1131.8 1264.7,1143.8" fill="#98ff42" stroke="#98ff42"/><polygon points="1299.1,1134.1 1316.1,1122.1 1298.9,1119.9 1281.9,1131.8" fill="#99ff40" stroke="#99ff40"/><polygon points="1316.1,1122.1 1332.9,1110.3 1315.7,1108.1 1298.9,1119.9" fill="#9aff3d" stroke="#9aff3d"/><polygon points="1332.9,1110.3 1349.5,1098.6 1332.2,1096.4 1315.7,1108.1" fill="#9dff3c" stroke="#9dff3c"/><polygon points="1349.5,1098.6 1365.9,1087 1348.6,1084.9 1332.2,1096.4" fill="#a2fe3c" stroke="#a2fe3c"/><polygon points="1365.9,1087 1382.2,1075.5 1364.9,1073.5 1348.6,1084.9" fill="#a8fd3c" stroke="#a8fd3c"/><polygon points="1382.2,1075.5 1398.2,1064.1 1380.9,1062.2 1364.9,1073.5" fill="#aefc3c" stroke="#aefc3c"/><polygon points="1398.2,1064.1 1414.1,1052.9 1396.8,1051 1380.9,1062.2" fill="#b9fc3c" stroke="#b9fc3c"/><polygon points="1414.1,1052.9 1429.8,1041.8 1412.5,1039.9 1396.8,1051" fill="#c3fd3c" stroke="#c3fd3c"/><polygon points="1429.8,1041.8 1445.3,1030.8 1428,1029 1412.5,1039.9" fill="#cefd3b" stroke="#cefd3b"/><polygon points="1445.3,1030.8 1460.7,1019.9 1443.3,1018.2 1428,1029" fill="#d8fc3a" stroke="#d8fc3a"/><polygon points="1460.7,1019.9 1475.9,1009.1 1458.5,1007.5 1443.3,1018.2" fill="#e4fc39" stroke="#e4fc39"/><polygon points="1475.9,1009.1 1490.9,998.5 1473.5,996.8 1458.5,1007.5" fill="#f2fb38" stroke="#f2fb38"/><polygon points="1490.9,998.5 1505.8,987.9 1488.4,986.4 1473.5,996.8" fill="#fff937" stroke="#fff937"/><polygon points="1505.8,987.9 1520.5,977.5 1503.1,976 1488.4,986.4" fill="#fce733" stroke="#fce733"/><polygon points="1520.5,977.5 1535,967.1 1517.6,965.7 1503.1,976" fill="#f0c62e" stroke="#f0c62e"/><polygon points="1535,967.1 1549.4,956.9 1532,955.5 1517.6,965.7" fill="#f0c62e" stroke="#f0c62e"/><polygon points="1549.4,956.9 1563.7,946.8 1546.3,945.4 1532,955.5" fill="#f0c62e" stroke="#f0c62e"/><polygon points="1157.4,1219.1 1175.8,1206.2 1159.1,1203.4 1140.7,1216.2" fill="#96ff6a" stroke="#96ff6a"/><polygon points="1175.8,1206.2 1194,1193.4 1177.2,1190.7 1159.1,1203.4" fill="#96ff6a" stroke="#96ff6a"/><polygon points="1194,1193.4 1212,1180.8 1195.2,1178.2 1177.2,1190.7" fill="#96ff6a" stroke="#96ff6a"/><polygon points="1212,1180.8 1229.8,1168.3 1212.9,1165.8 1195.2,1178.2" fill="#96ff5b" stroke="#96ff5b"/><polygon points="1229.8,1168.3 1247.4,1156 1230.5,1153.6 1212.9,1165.8" fill="#97ff52" stroke="#97ff52"/><polygon points="1247.4,1156 1264.7,1143.8 1247.8,1141.4 1230.5,1153.6" fill="#98ff49" stroke="#98ff49"/><polygon points="1264.7,1143.8 1281.9,1131.8 1265,1129.5 1247.8,1141.4" fill="#98ff44" stroke="#98ff44"/><polygon points="1281.9,1131.8 1298.9,1119.9 1281.9,1117.6 1265,1129.5" fill="#99ff41" stroke="#99ff41"/><polygon points="1298.9,1119.9 1315.7,1108.1 1298.7,1105.9 1281.9,1117.6" fill="#99ff3e" stroke="#99ff3e"/><polygon points="1315.7,1108.1 1332.2,1096.4 1315.2,1094.3 1298.7,1105.9" fill="#9cff3d" stroke="#9cff3d"/><polygon points="1332.2,1096.4 1348.6,1084.9 1331.6,1082.8 1315.2,1094.3" fill="#9fff3c" stroke="#9fff3c"/><polygon points="1348.6,1084.9 1364.9,1073.5 1347.8,1071.5 1331.6,1082.8" fill="#a5fe3c" stroke="#a5fe3c"/><polygon points="1364.9,1073.5 1380.9,1062.2 1363.8,1060.2 1347.8,1071.5" fill="#abfd3c" stroke="#abfd3c"/><polygon points="1380.9,1062.2 1396.8,1051 1379.7,1049.1 1363.8,1060.2" fill="#b3fc3c" stroke="#b3fc3c"/><polygon points="1396.8,1051 1412.5,1039.9 1395.4,1038.1 1379.7,1049.1" fill="#befd3c" stroke="#befd3c"/><polygon points="1412.5,1039.9 1428,1029 1410.9,1027.2 1395.4,1038.1" fill="#c8fd3c" stroke="#c8fd3c"/><polygon points="1428,1029 1443.3,1018.2 1426.2,1016.5 1410.9,1027.2" fill="#d3fd3b" stroke="#d3fd3b"/><polygon points="1443.3,1018.2 1458.5,1007.5 1441.4,1005.8 1426.2,1016.5" fill="#defc39" stroke="#defc39"/><polygon points="1458.5,1007.5 1473.5,996.8 1456.4,995.3 1441.4,1005.8" fill="#ebfb38" stroke="#ebfb38"/><polygon points="1473.5,996.8 1488.4,986.4 1471.2,984.8 1456.4,995.3" fill="#f9fa37" stroke="#f9fa37"/><polygon points="1488.4,986.4 1503.1,976 1485.9,974.5 1471.2,984.8" fill="#fff235" stroke="#fff235"/><polygon points="1503.1,976 1517.6,965.7 1500.5,964.2 1485.9,974.5" fill="#f5d531" stroke="#f5d531"/><polygon points="1517.6,965.7 1532,955.5 1514.9,954.1 1500.5,964.2" fill="#f5d531" stroke="#f5d531"/><polygon points="1532,955.5 1546.3,945.4 1529.1,944.1 1514.9,954.1" fill="#f5d531" stroke="#f5d531"/><polygon points="1140.7,1216.2 1159.1,1203.4 1142.6,1200.6 1124.2,1213.4" fill="#96ff74" stroke="#96ff74"/><polygon points="1159.1,1203.4 1177.2,1190.7 1160.7,1188 1142.6,1200.6" fill="#96ff74" stroke="#96ff74"/><polygon points="1177.2,1190.7 1195.2,1178.2 1178.6,1175.6 1160.7,1188" fill="#96ff74" stroke="#96ff74"/><polygon points="1195.2,1178.2 1212.9,1165.8 1196.3,1163.3 1178.6,1175.6" fill="#96ff61" stroke="#96ff61"/><polygon points="1212.9,1165.8 1230.5,1153.6 1213.8,1151.1 1196.3,1163.3" fill="#97ff57" stroke="#97ff57"/><polygon points="1230.5,1153.6 1247.8,1141.4 1231.1,1139.1 1213.8,1151.1" fill="#97ff4e" stroke="#97ff4e"/><polygon points="1247.8,1141.4 1265,1129.5 1248.3,1127.2 1231.1,1139.1" fill="#98ff46" stroke="#98ff46"/><polygon points="1265,1129.5 1281.9,1117.6 1265.2,1115.4 1248.3,1127.2" fill="#98ff43" stroke="#98ff43"/><polygon points="1281.9,1117.6 1298.7,1105.9 1281.9,1103.7 1265.2,1115.4" fill="#99ff40" stroke="#99ff40"/><polygon points="1298.7,1105.9 1315.2,1094.3 1298.5,1092.2 1281.9,1103.7" fill="#9aff3e" stroke="#9aff3e"/><polygon points="1315.2,1094.3 1331.6,1082.8 1314.8,1080.8 1298.5,1092.2" fill="#9dff3c" stroke="#9dff3c"/><polygon points="1331.6,1082.8 1347.8,1071.5 1331,1069.5 1314.8,1080.8" fill="#a2fe3c" stroke="#a2fe3c"/><polygon points="1347.8,1071.5 1363.8,1060.2 1347,1058.3 1331,1069.5" fill="#a8fd3c" stroke="#a8fd3c"/><polygon points="1363.8,1060.2 1379.7,1049.1 1362.8,1047.3 1347,1058.3" fill="#aefc3c" stroke="#aefc3c"/><polygon points="1379.7,1049.1 1395.4,1038.1 1378.5,1036.3 1362.8,1047.3" fill="#b9fc3c" stroke="#b9fc3c"/><polygon points="1395.4,1038.1 1410.9,1027.2 1394,1025.5 1378.5,1036.3" fill="#c3fd3c" stroke="#c3fd3c"/><polygon points="1410.9,1027.2 1426.2,1016.5 1409.3,1014.8 1394,1025.5" fill="#cefd3b" stroke="#cefd3b"/><polygon points="1426.2,1016.5 1441.4,1005.8 1424.5,1004.2 1409.3,1014.8" fill="#d9fc3a" stroke="#d9fc3a"/><polygon points="1441.4,1005.8 1456.4,995.3 1439.5,993.7 1424.5,1004.2" fill="#e4fc39" stroke="#e4fc39"/><polygon points="1456.4,995.3 1471.2,984.8 1454.3,983.3 1439.5,993.7" fill="#f3fb38" stroke="#f3fb38"/><polygon points="1471.2,984.8 1485.9,974.5 1469,973 1454.3,983.3" fill="#fff837" stroke="#fff837"/><polygon points="1485.9,974.5 1500.5,964.2 1483.6,962.8 1469,973" fill="#fbe433" stroke="#fbe433"/><polygon points="1500.5,964.2 1514.9,954.1 1497.9,952.7 1483.6,962.8" fill="#fbe433" stroke="#fbe433"/><polygon points="1514.9,954.1 1529.1,944.1 1512.2,942.7 1497.9,952.7" fill="#fbe433" stroke="#fbe433"/><polygon points="1124.2,1213.4 1142.6,1200.6 1126.3,1197.9 1108,1210.6" fill="#96ff7f" stroke="#96ff7f"/><polygon points="1142.6,1200.6 1160.7,1188 1144.4,1185.4 1126.3,1197.9" fill="#96ff7f" stroke="#96ff7f"/><polygon points="1160.7,1188 1178.6,1175.6 1162.3,1173 1144.4,1185.4" fill="#96ff7f" stroke="#96ff7f"/><polygon points="1178.6,1175.6 1196.3,1163.3 1180,1160.8 1162.3,1173" fill="#96ff6c" stroke="#96ff6c"/><polygon points="1196.3,1163.3 1213.8,1151.1 1197.4,1148.7 1180,1160.8" fill="#96ff5c" stroke="#96ff5c"/><polygon points="1213.8,1151.1 1231.1,1139.1 1214.7,1136.7 1197.4,1148.7" fill="#97ff53" stroke="#97ff53"/><polygon points="1231.1,1139.1 1248.3,1127.2 1231.8,1124.9 1214.7,1136.7" fill="#98ff4a" stroke="#98ff4a"/><polygon points="1248.3,1127.2 1265.2,1115.4 1248.7,1113.2 1231.8,1124.9" fill="#98ff44" stroke="#98ff44"/><polygon points="1265.2,1115.4 1281.9,1103.7 1265.4,1101.6 1248.7,1113.2" fill="#99ff41" stroke="#99ff41"/><polygon points="1281.9,1103.7 1298.5,1092.2 1281.9,1090.1 1265.4,1101.6" fill="#99ff3e" stroke="#99ff3e"/><polygon points="1298.5,1092.2 1314.8,1080.8 1298.3,1078.8 1281.9,1090.1" fill="#9cff3d" stroke="#9cff3d"/><polygon points="1314.8,1080.8 1331,1069.5 1314.4,1067.6 1298.3,1078.8" fill="#9fff3c" stroke="#9fff3c"/><polygon points="1331,1069.5 1347,1058.3 1330.4,1056.4 1314.4,1067.6" fill="#a5fe3c" stroke="#a5fe3c"/><polygon points="1347,1058.3 1362.8,1047.3 1346.2,1045.5 1330.4,1056.4" fill="#abfd3c" stroke="#abfd3c"/><polygon points="1362.8,1047.3 1378.5,1036.3 1361.9,1034.6 1346.2,1045.5" fill="#b3fc3c" stroke="#b3fc3c"/><polygon points="1378.5,1036.3 1394,1025.5 1377.3,1023.8 1361.9,1034.6" fill="#befd3c" stroke="#befd3c"/><polygon points="1394,1025.5 1409.3,1014.8 1392.7,1013.1 1377.3,1023.8" fill="#c9fd3c" stroke="#c9fd3c"/><polygon points="1409.3,1014.8 1424.5,1004.2 1407.8,1002.6 1392.7,1013.1" fill="#d4fd3b" stroke="#d4fd3b"/><polygon points="1424.5,1004.2 1439.5,993.7 1422.8,992.1 1407.8,1002.6" fill="#defc39" stroke="#defc39"/><polygon points="1439.5,993.7 1454.3,983.3 1437.6,981.8 1422.8,992.1" fill="#ecfb38" stroke="#ecfb38"/><polygon points="1454.3,983.3 1469,973 1452.3,971.5 1437.6,981.8" fill="#fafa37" stroke="#fafa37"/><polygon points="1469,973 1483.6,962.8 1466.8,961.4 1452.3,971.5" fill="#fff135" stroke="#fff135"/><polygon points="1483.6,962.8 1497.9,952.7 1481.2,951.4 1466.8,961.4" fill="#fff135" stroke="#fff135"/><polygon points="1497.9,952.7 1512.2,942.7 1495.5,941.4 1481.2,951.4" fill="#fff135" stroke="#fff135"/><polygon points="1108,1210.6 1126.3,1197.9 1110.3,1195.3 1092,1207.8" fill="#96ff89" stroke="#96ff89"/><polygon points="1126.3,1197.9 1144.4,1185.4 1128.3,1182.8 1110.3,1195.3" fill="#96ff89" stroke="#96ff89"/><polygon points="1144.4,1185.4 1162.3,1173 1146.2,1170.5 1128.3,1182.8" fill="#96ff89" stroke="#96ff89"/><polygon points="1162.3,1173 1180,1160.8 1163.8,1158.4 1146.2,1170.5" fill="#96ff76" stroke="#96ff76"/><polygon points="1180,1160.8 1197.4,1148.7 1181.3,1146.3 1163.8,1158.4" fill="#96ff63" stroke="#96ff63"/><polygon points="1197.4,1148.7 1214.7,1136.7 1198.5,1134.4 1181.3,1146.3" fill="#97ff58" stroke="#97ff58"/><polygon points="1214.7,1136.7 1231.8,1124.9 1215.6,1122.7 1198.5,1134.4" fill="#97ff4e" stroke="#97ff4e"/><polygon points="1231.8,1124.9 1248.7,1113.2 1232.4,1111 1215.6,1122.7" fill="#98ff46" stroke="#98ff46"/><polygon points="1248.7,1113.2 1265.4,1101.6 1249.1,1099.5 1232.4,1111" fill="#98ff43" stroke="#98ff43"/><polygon points="1265.4,1101.6 1281.9,1090.1 1265.6,1088.1 1249.1,1099.5" fill="#99ff40" stroke="#99ff40"/><polygon points="1281.9,1090.1 1298.3,1078.8 1281.9,1076.8 1265.6,1088.1" fill="#9aff3e" stroke="#9aff3e"/><polygon points="1298.3,1078.8 1314.4,1067.6 1298.1,1065.6 1281.9,1076.8" fill="#9dff3c" stroke="#9dff3c"/><polygon points="1314.4,1067.6 1330.4,1056.4 1314,1054.6 1298.1,1065.6" fill="#a2fe3c" stroke="#a2fe3c"/><polygon points="1330.4,1056.4 1346.2,1045.5 1329.8,1043.7 1314,1054.6" fill="#a8fd3c" stroke="#a8fd3c"/><polygon points="1346.2,1045.5 1361.9,1034.6 1345.4,1032.8 1329.8,1043.7" fill="#aefc3c" stroke="#aefc3c"/><polygon points="1361.9,1034.6 1377.3,1023.8 1360.9,1022.1 1345.4,1032.8" fill="#b9fc3c" stroke="#b9fc3c"/><polygon points="1377.3,1023.8 1392.7,1013.1 1376.2,1011.5 1360.9,1022.1" fill="#c4fd3c" stroke="#c4fd3c"/><polygon points="1392.7,1013.1 1407.8,1002.6 1391.3,1001 1376.2,1011.5" fill="#cefd3b" stroke="#cefd3b"/><polygon points="1407.8,1002.6 1422.8,992.1 1406.3,990.6 1391.3,1001" fill="#d9fc3a" stroke="#d9fc3a"/><polygon points="1422.8,992.1 1437.6,981.8 1421.2,980.3 1406.3,990.6" fill="#e5fc39" stroke="#e5fc39"/><polygon points="1437.6,981.8 1452.3,971.5 1435.8,970.1 1421.2,980.3" fill="#f4fb38" stroke="#f4fb38"/><polygon points="1452.3,971.5 1466.8,961.4 1450.3,960 1435.8,970.1" fill="#fff736" stroke="#fff736"/><polygon points="1466.8,961.4 1481.2,951.4 1464.7,950 1450.3,960" fill="#fff736" stroke="#fff736"/><polygon points="1481.2,951.4 1495.5,941.4 1479,940.1 1464.7,950" fill="#fff736" stroke="#fff736"/><polygon points="1092,1207.8 1110.3,1195.3 1094.5,1192.6 1076.3,1205.1" fill="#96ff93" stroke="#96ff93"/><polygon points="1110.3,1195.3 1128.3,1182.8 1112.5,1180.3 1094.5,1192.6" fill="#96ff93" stroke="#96ff93"/><polygon points="1128.3,1182.8 1146.2,1170.5 1130.3,1168 1112.5,1180.3" fill="#96ff93" stroke="#96ff93"/><polygon points="1146.2,1170.5 1163.8,1158.4 1147.9,1156 1130.3,1168" fill="#96ff80" stroke="#96ff80"/><polygon points="1163.8,1158.4 1181.3,1146.3 1165.3,1144 1147.9,1156" fill="#96ff6d" stroke="#96ff6d"/><polygon points="1181.3,1146.3 1198.5,1134.4 1182.5,1132.2 1165.3,1144" fill="#96ff5d" stroke="#96ff5d"/><polygon points="1198.5,1134.4 1215.6,1122.7 1199.5,1120.5 1182.5,1132.2" fill="#97ff53" stroke="#97ff53"/><polygon points="1215.6,1122.7 1232.4,1111 1216.4,1108.9 1199.5,1120.5" fill="#98ff4a" stroke="#98ff4a"/><polygon points="1232.4,1111 1249.1,1099.5 1233,1097.4 1216.4,1108.9" fill="#98ff44" stroke="#98ff44"/><polygon points="1249.1,1099.5 1265.6,1088.1 1249.5,1086.1 1233,1097.4" fill="#99ff41" stroke="#99ff41"/><polygon points="1265.6,1088.1 1281.9,1076.8 1265.8,1074.9 1249.5,1086.1" fill="#99ff3e" stroke="#99ff3e"/><polygon points="1281.9,1076.8 1298.1,1065.6 1281.9,1063.8 1265.8,1074.9" fill="#9bff3d" stroke="#9bff3d"/><polygon points="1298.1,1065.6 1314,1054.6 1297.9,1052.8 1281.9,1063.8" fill="#9fff3c" stroke="#9fff3c"/><polygon points="1314,1054.6 1329.8,1043.7 1313.6,1041.9 1297.9,1052.8" fill="#a5fe3c" stroke="#a5fe3c"/><polygon points="1329.8,1043.7 1345.4,1032.8 1329.2,1031.1 1313.6,1041.9" fill="#abfd3c" stroke="#abfd3c"/><polygon points="1345.4,1032.8 1360.9,1022.1 1344.7,1020.4 1329.2,1031.1" fill="#b4fc3c" stroke="#b4fc3c"/><polygon points="1360.9,1022.1 1376.2,1011.5 1360,1009.9 1344.7,1020.4" fill="#befd3c" stroke="#befd3c"/><polygon points="1376.2,1011.5 1391.3,1001 1375.1,999.4 1360,1009.9" fill="#c9fd3c" stroke="#c9fd3c"/><polygon points="1391.3,1001 1406.3,990.6 1390.1,989.1 1375.1,999.4" fill="#d4fd3b" stroke="#d4fd3b"/><polygon points="1406.3,990.6 1421.2,980.3 1404.9,978.8 1390.1,989.1" fill="#dffc39" stroke="#dffc39"/><polygon points="1421.2,980.3 1435.8,970.1 1419.5,968.7 1404.9,978.8" fill="#edfb38" stroke="#edfb38"/><polygon points="1435.8,970.1 1450.3,960 1434.1,958.6 1419.5,968.7" fill="#fcfa37" stroke="#fcfa37"/><polygon points="1450.3,960 1464.7,950 1448.4,948.7 1434.1,958.6" fill="#fcfa37" stroke="#fcfa37"/><polygon points="1464.7,950 1479,940.1 1462.7,938.8 1448.4,948.7" fill="#fcfa37" stroke="#fcfa37"/><polygon points="1076.3,1205.1 1094.5,1192.6 1078.9,1190 1060.7,1202.4" fill="#96ff9e" stroke="#96ff9e"/><polygon points="1094.5,1192.6 1112.5,1180.3 1096.9,1177.7 1078.9,1190" fill="#96ff9e" stroke="#96ff9e"/><polygon points="1112.5,1180.3 1130.3,1168 1114.6,1165.6 1096.9,1177.7" fill="#96ff9e" stroke="#96ff9e"/><polygon points="1130.3,1168 1147.9,1156 1132.2,1153.6 1114.6,1165.6" fill="#96ff8b" stroke="#96ff8b"/><polygon points="1147.9,1156 1165.3,1144 1149.6,1141.7 1132.2,1153.6" fill="#96ff77" stroke="#96ff77"/><polygon points="1165.3,1144 1182.5,1132.2 1166.8,1129.9 1149.6,1141.7" fill="#96ff64" stroke="#96ff64"/><polygon points="1182.5,1132.2 1199.5,1120.5 1183.8,1118.3 1166.8,1129.9" fill="#97ff58" stroke="#97ff58"/><polygon points="1199.5,1120.5 1216.4,1108.9 1200.6,1106.8 1183.8,1118.3" fill="#97ff4f" stroke="#97ff4f"/><polygon points="1216.4,1108.9 1233,1097.4 1217.2,1095.4 1200.6,1106.8" fill="#98ff46" stroke="#98ff46"/><polygon points="1233,1097.4 1249.5,1086.1 1233.6,1084.1 1217.2,1095.4" fill="#98ff43" stroke="#98ff43"/><polygon points="1249.5,1086.1 1265.8,1074.9 1249.9,1072.9 1233.6,1084.1" fill="#99ff40" stroke="#99ff40"/><polygon points="1265.8,1074.9 1281.9,1063.8 1266,1061.9 1249.9,1072.9" fill="#9aff3e" stroke="#9aff3e"/><polygon points="1281.9,1063.8 1297.9,1052.8 1281.9,1050.9 1266,1061.9" fill="#9dff3c" stroke="#9dff3c"/><polygon points="1297.9,1052.8 1313.6,1041.9 1297.7,1040.1 1281.9,1050.9" fill="#a2fe3c" stroke="#a2fe3c"/><polygon points="1313.6,1041.9 1329.2,1031.1 1313.3,1029.4 1297.7,1040.1" fill="#a8fd3c" stroke="#a8fd3c"/><polygon points="1329.2,1031.1 1344.7,1020.4 1328.7,1018.8 1313.3,1029.4" fill="#affc3c" stroke="#affc3c"/><polygon points="1344.7,1020.4 1360,1009.9 1344,1008.3 1328.7,1018.8" fill="#b9fc3c" stroke="#b9fc3c"/><polygon points="1360,1009.9 1375.1,999.4 1359.1,997.9 1344,1008.3" fill="#c4fd3c" stroke="#c4fd3c"/><polygon points="1375.1,999.4 1390.1,989.1 1374,987.6 1359.1,997.9" fill="#cffd3b" stroke="#cffd3b"/><polygon points="1390.1,989.1 1404.9,978.8 1388.8,977.4 1374,987.6" fill="#dafc3a" stroke="#dafc3a"/><polygon points="1404.9,978.8 1419.5,968.7 1403.5,967.3 1388.8,977.4" fill="#e6fc39" stroke="#e6fc39"/><polygon points="1419.5,968.7 1434.1,958.6 1418,957.3 1403.5,967.3" fill="#f5fb38" stroke="#f5fb38"/><polygon points="1434.1,958.6 1448.4,948.7 1432.3,947.4 1418,957.3" fill="#f5fb38" stroke="#f5fb38"/><polygon points="1448.4,948.7 1462.7,938.8 1446.6,937.6 1432.3,947.4" fill="#f5fb38" stroke="#f5fb38"/><polygon points="1060.7,1202.4 1078.9,1190 1063.6,1187.5 1045.4,1199.8" fill="#95ffab" stroke="#95ffab"/><polygon points="1078.9,1190 1096.9,1177.7 1081.5,1175.2 1063.6,1187.5" fill="#95ffab" stroke="#95ffab"/><polygon points="1096.9,1177.7 1114.6,1165.6 1099.2,1163.2 1081.5,1175.2" fill="#95ffab" stroke="#95ffab"/><polygon points="1114.6,1165.6 1132.2,1153.6 1116.7,1151.2 1099.2,1163.2" fill="#96ff95" stroke="#96ff95"/><polygon points="1132.2,1153.6 1149.6,1141.7 1134.1,1139.4 1116.7,1151.2" fill="#96ff82" stroke="#96ff82"/><polygon points="1149.6,1141.7 1166.8,1129.9 1151.2,1127.7 1134.1,1139.4" fill="#96ff6e" stroke="#96ff6e"/><polygon points="1166.8,1129.9 1183.8,1118.3 1168.2,1116.1 1151.2,1127.7" fill="#96ff5d" stroke="#96ff5d"/><polygon points="1183.8,1118.3 1200.6,1106.8 1185,1104.7 1168.2,1116.1" fill="#97ff54" stroke="#97ff54"/><polygon points="1200.6,1106.8 1217.2,1095.4 1201.6,1093.4 1185,1104.7" fill="#98ff4a" stroke="#98ff4a"/><polygon points="1217.2,1095.4 1233.6,1084.1 1218,1082.1 1201.6,1093.4" fill="#98ff44" stroke="#98ff44"/><polygon points="1233.6,1084.1 1249.9,1072.9 1234.2,1071 1218,1082.1" fill="#99ff41" stroke="#99ff41"/><polygon points="1249.9,1072.9 1266,1061.9 1250.3,1060 1234.2,1071" fill="#99ff3e" stroke="#99ff3e"/><polygon points="1266,1061.9 1281.9,1050.9 1266.2,1049.2 1250.3,1060" fill="#9cff3d" stroke="#9cff3d"/><polygon points="1281.9,1050.9 1297.7,1040.1 1281.9,1038.4 1266.2,1049.2" fill="#9fff3c" stroke="#9fff3c"/><polygon points="1297.7,1040.1 1313.3,1029.4 1297.5,1027.7 1281.9,1038.4" fill="#a5fe3c" stroke="#a5fe3c"/><polygon points="1313.3,1029.4 1328.7,1018.8 1312.9,1017.2 1297.5,1027.7" fill="#acfd3c" stroke="#acfd3c"/><polygon points="1328.7,1018.8 1344,1008.3 1328.1,1006.7 1312.9,1017.2" fill="#b4fc3c" stroke="#b4fc3c"/><polygon points="1344,1008.3 1359.1,997.9 1343.2,996.4 1328.1,1006.7" fill="#bffd3c" stroke="#bffd3c"/><polygon points="1359.1,997.9 1374,987.6 1358.2,986.1 1343.2,996.4" fill="#cafd3c" stroke="#cafd3c"/><polygon points="1374,987.6 1388.8,977.4 1373,975.9 1358.2,986.1" fill="#d5fc3a" stroke="#d5fc3a"/><polygon points="1388.8,977.4 1403.5,967.3 1387.6,965.9 1373,975.9" fill="#e0fc39" stroke="#e0fc39"/><polygon points="1403.5,967.3 1418,957.3 1402.1,955.9 1387.6,965.9" fill="#eefb38" stroke="#eefb38"/><polygon points="1418,957.3 1432.3,947.4 1416.5,946.1 1402.1,955.9" fill="#eefb38" stroke="#eefb38"/><polygon points="1432.3,947.4 1446.6,937.6 1430.7,936.3 1416.5,946.1" fill="#eefb38" stroke="#eefb38"/><polygon points="1045.4,1199.8 1063.6,1187.5 1048.4,1184.9 1030.3,1197.2" fill="#93ffba" stroke="#93ffba"/><polygon points="1063.6,1187.5 1081.5,1175.2 1066.3,1172.8 1048.4,1184.9" fill="#93ffba" stroke="#93ffba"/><polygon points="1081.5,1175.2 1099.2,1163.2 1084,1160.8 1066.3,1172.8" fill="#93ffba" stroke="#93ffba"/><polygon points="1099.2,1163.2 1116.7,1151.2 1101.5,1148.9 1084,1160.8" fill="#96ff9f" stroke="#96ff9f"/><polygon points="1116.7,1151.2 1134.1,1139.4 1118.8,1137.2 1101.5,1148.9" fill="#96ff8c" stroke="#96ff8c"/><polygon points="1134.1,1139.4 1151.2,1127.7 1135.9,1125.5 1118.8,1137.2" fill="#96ff78" stroke="#96ff78"/><polygon points="1151.2,1127.7 1168.2,1116.1 1152.8,1114 1135.9,1125.5" fill="#96ff65" stroke="#96ff65"/><polygon points="1168.2,1116.1 1185,1104.7 1169.6,1102.6 1152.8,1114" fill="#97ff59" stroke="#97ff59"/><polygon points="1185,1104.7 1201.6,1093.4 1186.1,1091.4 1169.6,1102.6" fill="#97ff4f" stroke="#97ff4f"/><polygon points="1201.6,1093.4 1218,1082.1 1202.5,1080.2 1186.1,1091.4" fill="#98ff46" stroke="#98ff46"/><polygon points="1218,1082.1 1234.2,1071 1218.7,1069.2 1202.5,1080.2" fill="#98ff43" stroke="#98ff43"/><polygon points="1234.2,1071 1250.3,1060 1234.8,1058.2 1218.7,1069.2" fill="#99ff40" stroke="#99ff40"/><polygon points="1250.3,1060 1266.2,1049.2 1250.7,1047.4 1234.8,1058.2" fill="#9aff3e" stroke="#9aff3e"/><polygon points="1266.2,1049.2 1281.9,1038.4 1266.4,1036.7 1250.7,1047.4" fill="#9dff3c" stroke="#9dff3c"/><polygon points="1281.9,1038.4 1297.5,1027.7 1281.9,1026.1 1266.4,1036.7" fill="#a2fe3c" stroke="#a2fe3c"/><polygon points="1297.5,1027.7 1312.9,1017.2 1297.3,1015.6 1281.9,1026.1" fill="#a9fd3c" stroke="#a9fd3c"/><polygon points="1312.9,1017.2 1328.1,1006.7 1312.5,1005.1 1297.3,1015.6" fill="#affc3c" stroke="#affc3c"/><polygon points="1328.1,1006.7 1343.2,996.4 1327.6,994.8 1312.5,1005.1" fill="#bafc3c" stroke="#bafc3c"/><polygon points="1343.2,996.4 1358.2,986.1 1342.5,984.6 1327.6,994.8" fill="#c5fd3c" stroke="#c5fd3c"/><polygon points="1358.2,986.1 1373,975.9 1357.3,974.5 1342.5,984.6" fill="#d0fd3b" stroke="#d0fd3b"/><polygon points="1373,975.9 1387.6,965.9 1371.9,964.5 1357.3,974.5" fill="#dbfc3a" stroke="#dbfc3a"/><polygon points="1387.6,965.9 1402.1,955.9 1386.4,954.6 1371.9,964.5" fill="#e8fc39" stroke="#e8fc39"/><polygon points="1402.1,955.9 1416.5,946.1 1400.8,944.8 1386.4,954.6" fill="#e8fc39" stroke="#e8fc39"/><polygon points="1416.5,946.1 1430.7,936.3 1415,935.1 1400.8,944.8" fill="#e8fc39" stroke="#e8fc39"/><polygon points="1030.3,1197.2 1048.4,1184.9 1033.5,1182.4 1015.5,1194.6" fill="#91ffc9" stroke="#91ffc9"/><polygon points="1048.4,1184.9 1066.3,1172.8 1051.3,1170.4 1033.5,1182.4" fill="#91ffc9" stroke="#91ffc9"/><polygon points="1066.3,1172.8 1084,1160.8 1069,1158.4 1051.3,1170.4" fill="#91ffc9" stroke="#91ffc9"/><polygon points="1084,1160.8 1101.5,1148.9 1086.4,1146.6 1069,1158.4" fill="#94ffad" stroke="#94ffad"/><polygon points="1101.5,1148.9 1118.8,1137.2 1103.7,1134.9 1086.4,1146.6" fill="#96ff96" stroke="#96ff96"/><polygon points="1118.8,1137.2 1135.9,1125.5 1120.8,1123.4 1103.7,1134.9" fill="#96ff82" stroke="#96ff82"/><polygon points="1135.9,1125.5 1152.8,1114 1137.7,1111.9 1120.8,1123.4" fill="#96ff6f" stroke="#96ff6f"/><polygon points="1152.8,1114 1169.6,1102.6 1154.4,1100.6 1137.7,1111.9" fill="#96ff5d" stroke="#96ff5d"/><polygon points="1169.6,1102.6 1186.1,1091.4 1170.9,1089.4 1154.4,1100.6" fill="#97ff54" stroke="#97ff54"/><polygon points="1186.1,1091.4 1202.5,1080.2 1187.3,1078.3 1170.9,1089.4" fill="#98ff4a" stroke="#98ff4a"/><polygon points="1202.5,1080.2 1218.7,1069.2 1203.5,1067.3 1187.3,1078.3" fill="#98ff44" stroke="#98ff44"/><polygon points="1218.7,1069.2 1234.8,1058.2 1219.5,1056.4 1203.5,1067.3" fill="#99ff41" stroke="#99ff41"/><polygon points="1234.8,1058.2 1250.7,1047.4 1235.3,1045.6 1219.5,1056.4" fill="#99ff3e" stroke="#99ff3e"/><polygon points="1250.7,1047.4 1266.4,1036.7 1251,1035 1235.3,1045.6" fill="#9cff3d" stroke="#9cff3d"/><polygon points="1266.4,1036.7 1281.9,1026.1 1266.6,1024.4 1251,1035" fill="#9fff3c" stroke="#9fff3c"/><polygon points="1281.9,1026.1 1297.3,1015.6 1281.9,1014 1266.6,1024.4" fill="#a6fe3c" stroke="#a6fe3c"/><polygon points="1297.3,1015.6 1312.5,1005.1 1297.1,1003.6 1281.9,1014" fill="#acfd3c" stroke="#acfd3c"/><polygon points="1312.5,1005.1 1327.6,994.8 1312.2,993.3 1297.1,1003.6" fill="#b5fc3c" stroke="#b5fc3c"/><polygon points="1327.6,994.8 1342.5,984.6 1327.1,983.2 1312.2,993.3" fill="#c0fd3c" stroke="#c0fd3c"/><polygon points="1342.5,984.6 1357.3,974.5 1341.9,973.1 1327.1,983.2" fill="#cbfd3c" stroke="#cbfd3c"/><polygon points="1357.3,974.5 1371.9,964.5 1356.5,963.2 1341.9,973.1" fill="#d6fc3a" stroke="#d6fc3a"/><polygon points="1371.9,964.5 1386.4,954.6 1370.9,953.3 1356.5,963.2" fill="#e1fc39" stroke="#e1fc39"/><polygon points="1386.4,954.6 1400.8,944.8 1385.3,943.5 1370.9,953.3" fill="#e1fc39" stroke="#e1fc39"/><polygon points="1400.8,944.8 1415,935.1 1399.4,933.8 1385.3,943.5" fill="#e1fc39" stroke="#e1fc39"/><polygon points="1015.5,1194.6 1033.5,1182.4 1018.8,1180 1000.8,1192.1" fill="#90ffd7" stroke="#90ffd7"/><polygon points="1033.5,1182.4 1051.3,1170.4 1036.6,1168 1018.8,1180" fill="#90ffd7" stroke="#90ffd7"/><polygon points="1051.3,1170.4 1069,1158.4 1054.2,1156.1 1036.6,1168" fill="#90ffd7" stroke="#90ffd7"/><polygon points="1069,1158.4 1086.4,1146.6 1071.6,1144.4 1054.2,1156.1" fill="#93ffbc" stroke="#93ffbc"/><polygon points="1086.4,1146.6 1103.7,1134.9 1088.8,1132.7 1071.6,1144.4" fill="#96ffa0" stroke="#96ffa0"/><polygon points="1103.7,1134.9 1120.8,1123.4 1105.9,1121.2 1088.8,1132.7" fill="#96ff8c" stroke="#96ff8c"/><polygon points="1120.8,1123.4 1137.7,1111.9 1122.7,1109.9 1105.9,1121.2" fill="#96ff79" stroke="#96ff79"/><polygon points="1137.7,1111.9 1154.4,1100.6 1139.4,1098.6 1122.7,1109.9" fill="#96ff65" stroke="#96ff65"/><polygon points="1154.4,1100.6 1170.9,1089.4 1155.9,1087.4 1139.4,1098.6" fill="#97ff59" stroke="#97ff59"/><polygon points="1170.9,1089.4 1187.3,1078.3 1172.2,1076.4 1155.9,1087.4" fill="#97ff4f" stroke="#97ff4f"/><polygon points="1187.3,1078.3 1203.5,1067.3 1188.4,1065.5 1172.2,1076.4" fill="#98ff46" stroke="#98ff46"/><polygon points="1203.5,1067.3 1219.5,1056.4 1204.4,1054.6 1188.4,1065.5" fill="#98ff43" stroke="#98ff43"/><polygon points="1219.5,1056.4 1235.3,1045.6 1220.2,1043.9 1204.4,1054.6" fill="#99ff40" stroke="#99ff40"/><polygon points="1235.3,1045.6 1251,1035 1235.9,1033.3 1220.2,1043.9" fill="#9aff3e" stroke="#9aff3e"/><polygon points="1251,1035 1266.6,1024.4 1251.4,1022.8 1235.9,1033.3" fill="#9dff3c" stroke="#9dff3c"/><polygon points="1266.6,1024.4 1281.9,1014 1266.7,1012.4 1251.4,1022.8" fill="#a2fe3c" stroke="#a2fe3c"/><polygon points="1281.9,1014 1297.1,1003.6 1281.9,1002.1 1266.7,1012.4" fill="#a9fd3c" stroke="#a9fd3c"/><polygon points="1297.1,1003.6 1312.2,993.3 1297,991.9 1281.9,1002.1" fill="#b0fc3c" stroke="#b0fc3c"/><polygon points="1312.2,993.3 1327.1,983.2 1311.9,981.8 1297,991.9" fill="#bbfc3c" stroke="#bbfc3c"/><polygon points="1327.1,983.2 1341.9,973.1 1326.6,971.7 1311.9,981.8" fill="#c6fd3c" stroke="#c6fd3c"/><polygon points="1341.9,973.1 1356.5,963.2 1341.2,961.8 1326.6,971.7" fill="#d1fd3b" stroke="#d1fd3b"/><polygon points="1356.5,963.2 1370.9,953.3 1355.6,952 1341.2,961.8" fill="#dcfc3a" stroke="#dcfc3a"/><polygon points="1370.9,953.3 1385.3,943.5 1370,942.3 1355.6,952" fill="#dcfc3a" stroke="#dcfc3a"/><polygon points="1385.3,943.5 1399.4,933.8 1384.1,932.6 1370,942.3" fill="#dcfc3a" stroke="#dcfc3a"/><polygon points="1000.8,1192.1 1018.8,1180 1004.3,1177.5 986.3,1189.6" fill="#8effe6" stroke="#8effe6"/><polygon points="1018.8,1180 1036.6,1168 1022,1165.6 1004.3,1177.5" fill="#8effe6" stroke="#8effe6"/><polygon points="1036.6,1168 1054.2,1156.1 1039.6,1153.8 1022,1165.6" fill="#8effe6" stroke="#8effe6"/><polygon points="1054.2,1156.1 1071.6,1144.4 1057,1142.1 1039.6,1153.8" fill="#91ffca" stroke="#91ffca"/><polygon points="1071.6,1144.4 1088.8,1132.7 1074.1,1130.6 1057,1142.1" fill="#94ffae" stroke="#94ffae"/><polygon points="1088.8,1132.7 1105.9,1121.2 1091.2,1119.1 1074.1,1130.6" fill="#96ff97" stroke="#96ff97"/><polygon points="1105.9,1121.2 1122.7,1109.9 1108,1107.8 1091.2,1119.1" fill="#96ff83" stroke="#96ff83"/><polygon points="1122.7,1109.9 1139.4,1098.6 1124.6,1096.6 1108,1107.8" fill="#96ff6f" stroke="#96ff6f"/><polygon points="1139.4,1098.6 1155.9,1087.4 1141.1,1085.5 1124.6,1096.6" fill="#96ff5d" stroke="#96ff5d"/><polygon points="1155.9,1087.4 1172.2,1076.4 1157.4,1074.5 1141.1,1085.5" fill="#97ff54" stroke="#97ff54"/><polygon points="1172.2,1076.4 1188.4,1065.5 1173.5,1063.7 1157.4,1074.5" fill="#98ff4a" stroke="#98ff4a"/><polygon points="1188.4,1065.5 1204.4,1054.6 1189.5,1052.9 1173.5,1063.7" fill="#98ff44" stroke="#98ff44"/><polygon points="1204.4,1054.6 1220.2,1043.9 1205.3,1042.2 1189.5,1052.9" fill="#99ff41" stroke="#99ff41"/><polygon points="1220.2,1043.9 1235.9,1033.3 1220.9,1031.7 1205.3,1042.2" fill="#99ff3e" stroke="#99ff3e"/><polygon points="1235.9,1033.3 1251.4,1022.8 1236.4,1021.2 1220.9,1031.7" fill="#9cff3d" stroke="#9cff3d"/><polygon points="1251.4,1022.8 1266.7,1012.4 1251.7,1010.8 1236.4,1021.2" fill="#9fff3c" stroke="#9fff3c"/><polygon points="1266.7,1012.4 1281.9,1002.1 1266.9,1000.6 1251.7,1010.8" fill="#a6fe3c" stroke="#a6fe3c"/><polygon points="1281.9,1002.1 1297,991.9 1281.9,990.4 1266.9,1000.6" fill="#acfc3c" stroke="#acfc3c"/><polygon points="1297,991.9 1311.9,981.8 1296.8,980.3 1281.9,990.4" fill="#b6fc3c" stroke="#b6fc3c"/><polygon points="1311.9,981.8 1326.6,971.7 1311.5,970.4 1296.8,980.3" fill="#c1fd3c" stroke="#c1fd3c"/><polygon points="1326.6,971.7 1341.2,961.8 1326.1,960.5 1311.5,970.4" fill="#ccfd3c" stroke="#ccfd3c"/><polygon points="1341.2,961.8 1355.6,952 1340.5,950.7 1326.1,960.5" fill="#d7fc3a" stroke="#d7fc3a"/><polygon points="1355.6,952 1370,942.3 1354.8,941 1340.5,950.7" fill="#d7fc3a" stroke="#d7fc3a"/><polygon points="1370,942.3 1384.1,932.6 1369,931.4 1354.8,941" fill="#d7fc3a" stroke="#d7fc3a"/><polygon points="986.3,1189.6 1004.3,1177.5 990,1175.1 972.1,1187.1" fill="#8cfef0" stroke="#8cfef0"/><polygon points="1004.3,1177.5 1022,1165.6 1007.7,1163.3 990,1175.1" fill="#8cfef0" stroke="#8cfef0"/><polygon points="1022,1165.6 1039.6,1153.8 1025.2,1151.5 1007.7,1163.3" fill="#8cfef0" stroke="#8cfef0"/><polygon points="1039.6,1153.8 1057,1142.1 1042.5,1139.9 1025.2,1151.5" fill="#8fffd9" stroke="#8fffd9"/><polygon points="1057,1142.1 1074.1,1130.6 1059.7,1128.4 1042.5,1139.9" fill="#93ffbd" stroke="#93ffbd"/><polygon points="1074.1,1130.6 1091.2,1119.1 1076.6,1117.1 1059.7,1128.4" fill="#96ffa1" stroke="#96ffa1"/><polygon points="1091.2,1119.1 1108,1107.8 1093.4,1105.8 1076.6,1117.1" fill="#96ff8d" stroke="#96ff8d"/><polygon points="1108,1107.8 1124.6,1096.6 1110,1094.7 1093.4,1105.8" fill="#96ff79" stroke="#96ff79"/><polygon points="1124.6,1096.6 1141.1,1085.5 1126.5,1083.6 1110,1094.7" fill="#96ff66" stroke="#96ff66"/><polygon points="1141.1,1085.5 1157.4,1074.5 1142.7,1072.7 1126.5,1083.6" fill="#97ff59" stroke="#97ff59"/><polygon points="1157.4,1074.5 1173.5,1063.7 1158.8,1061.9 1142.7,1072.7" fill="#97ff4f" stroke="#97ff4f"/><polygon points="1173.5,1063.7 1189.5,1052.9 1174.8,1051.1 1158.8,1061.9" fill="#98ff46" stroke="#98ff46"/><polygon points="1189.5,1052.9 1205.3,1042.2 1190.5,1040.5 1174.8,1051.1" fill="#98ff43" stroke="#98ff43"/><polygon points="1205.3,1042.2 1220.9,1031.7 1206.2,1030 1190.5,1040.5" fill="#99ff40" stroke="#99ff40"/><polygon points="1220.9,1031.7 1236.4,1021.2 1221.6,1019.6 1206.2,1030" fill="#9aff3d" stroke="#9aff3d"/><polygon points="1236.4,1021.2 1251.7,1010.8 1236.9,1009.3 1221.6,1019.6" fill="#9dff3c" stroke="#9dff3c"/><polygon points="1251.7,1010.8 1266.9,1000.6 1252.1,999.1 1236.9,1009.3" fill="#a3fe3c" stroke="#a3fe3c"/><polygon points="1266.9,1000.6 1281.9,990.4 1267.1,989 1252.1,999.1" fill="#aafd3c" stroke="#aafd3c"/><polygon points="1281.9,990.4 1296.8,980.3 1281.9,978.9 1267.1,989" fill="#b1fc3c" stroke="#b1fc3c"/><polygon points="1296.8,980.3 1311.5,970.4 1296.6,969 1281.9,978.9" fill="#bcfd3c" stroke="#bcfd3c"/><polygon points="1311.5,970.4 1326.1,960.5 1311.2,959.2 1296.6,969" fill="#c7fd3c" stroke="#c7fd3c"/><polygon points="1326.1,960.5 1340.5,950.7 1325.6,949.4 1311.2,959.2" fill="#d2fd3b" stroke="#d2fd3b"/><polygon points="1340.5,950.7 1354.8,941 1339.9,939.8 1325.6,949.4" fill="#d2fd3b" stroke="#d2fd3b"/><polygon points="1354.8,941 1369,931.4 1354,930.2 1339.9,939.8" fill="#d2fd3b" stroke="#d2fd3b"/><polygon points="972.1,1187.1 990,1175.1 975.9,1172.8 958,1184.7" fill="#8afbf4" stroke="#8afbf4"/><polygon points="990,1175.1 1007.7,1163.3 993.5,1161 975.9,1172.8" fill="#8afbf4" stroke="#8afbf4"/><polygon points="1007.7,1163.3 1025.2,1151.5 1011,1149.3 993.5,1161" fill="#8afbf4" stroke="#8afbf4"/><polygon points="1025.2,1151.5 1042.5,1139.9 1028.3,1137.8 1011,1149.3" fill="#8effe7" stroke="#8effe7"/><polygon points="1042.5,1139.9 1059.7,1128.4 1045.4,1126.3 1028.3,1137.8" fill="#91ffcb" stroke="#91ffcb"/><polygon points="1059.7,1128.4 1076.6,1117.1 1062.3,1115 1045.4,1126.3" fill="#94ffaf" stroke="#94ffaf"/><polygon points="1076.6,1117.1 1093.4,1105.8 1079.1,1103.8 1062.3,1115" fill="#96ff97" stroke="#96ff97"/><polygon points="1093.4,1105.8 1110,1094.7 1095.6,1092.7 1079.1,1103.8" fill="#96ff83" stroke="#96ff83"/><polygon points="1110,1094.7 1126.5,1083.6 1112,1081.7 1095.6,1092.7" fill="#96ff6f" stroke="#96ff6f"/><polygon points="1126.5,1083.6 1142.7,1072.7 1128.3,1070.9 1112,1081.7" fill="#96ff5d" stroke="#96ff5d"/><polygon points="1142.7,1072.7 1158.8,1061.9 1144.3,1060.1 1128.3,1070.9" fill="#97ff54" stroke="#97ff54"/><polygon points="1158.8,1061.9 1174.8,1051.1 1160.2,1049.4 1144.3,1060.1" fill="#98ff4a" stroke="#98ff4a"/><polygon points="1174.8,1051.1 1190.5,1040.5 1176,1038.9 1160.2,1049.4" fill="#98ff44" stroke="#98ff44"/><polygon points="1190.5,1040.5 1206.2,1030 1191.6,1028.4 1176,1038.9" fill="#99ff41" stroke="#99ff41"/><polygon points="1206.2,1030 1221.6,1019.6 1207,1018 1191.6,1028.4" fill="#99ff3e" stroke="#99ff3e"/><polygon points="1221.6,1019.6 1236.9,1009.3 1222.3,1007.8 1207,1018" fill="#9cff3d" stroke="#9cff3d"/><polygon points="1236.9,1009.3 1252.1,999.1 1237.4,997.6 1222.3,1007.8" fill="#a0ff3c" stroke="#a0ff3c"/><polygon points="1252.1,999.1 1267.1,989 1252.4,987.5 1237.4,997.6" fill="#a7fd3c" stroke="#a7fd3c"/><polygon points="1267.1,989 1281.9,978.9 1267.2,977.6 1252.4,987.5" fill="#adfc3c" stroke="#adfc3c"/><polygon points="1281.9,978.9 1296.6,969 1281.9,967.7 1267.2,977.6" fill="#b7fc3c" stroke="#b7fc3c"/><polygon points="1296.6,969 1311.2,959.2 1296.5,957.9 1281.9,967.7" fill="#c2fd3c" stroke="#c2fd3c"/><polygon points="1311.2,959.2 1325.6,949.4 1310.9,948.2 1296.5,957.9" fill="#cefd3b" stroke="#cefd3b"/><polygon points="1325.6,949.4 1339.9,939.8 1325.1,938.6 1310.9,948.2" fill="#cefd3b" stroke="#cefd3b"/><polygon points="1339.9,939.8 1354,930.2 1339.3,929 1325.1,938.6" fill="#cefd3b" stroke="#cefd3b"/><polygon points="958,1184.7 975.9,1172.8 961.9,1170.4 944.1,1182.3" fill="#88f8f8" stroke="#88f8f8"/><polygon points="975.9,1172.8 993.5,1161 979.6,1158.7 961.9,1170.4" fill="#88f8f8" stroke="#88f8f8"/><polygon points="993.5,1161 1011,1149.3 997,1147.1 979.6,1158.7" fill="#88f8f8" stroke="#88f8f8"/><polygon points="1011,1149.3 1028.3,1137.8 1014.2,1135.6 997,1147.1" fill="#8cfdf0" stroke="#8cfdf0"/><polygon points="1028.3,1137.8 1045.4,1126.3 1031.3,1124.3 1014.2,1135.6" fill="#8fffda" stroke="#8fffda"/><polygon points="1045.4,1126.3 1062.3,1115 1048.2,1113 1031.3,1124.3" fill="#93ffbd" stroke="#93ffbd"/><polygon points="1062.3,1115 1079.1,1103.8 1064.9,1101.9 1048.2,1113" fill="#96ffa1" stroke="#96ffa1"/><polygon points="1079.1,1103.8 1095.6,1092.7 1081.4,1090.8 1064.9,1101.9" fill="#96ff8d" stroke="#96ff8d"/><polygon points="1095.6,1092.7 1112,1081.7 1097.8,1079.9 1081.4,1090.8" fill="#96ff79" stroke="#96ff79"/><polygon points="1112,1081.7 1128.3,1070.9 1114,1069.1 1097.8,1079.9" fill="#96ff65" stroke="#96ff65"/><polygon points="1128.3,1070.9 1144.3,1060.1 1130,1058.3 1114,1069.1" fill="#97ff58" stroke="#97ff58"/><polygon points="1144.3,1060.1 1160.2,1049.4 1145.9,1047.7 1130,1058.3" fill="#97ff4f" stroke="#97ff4f"/><polygon points="1160.2,1049.4 1176,1038.9 1161.6,1037.2 1145.9,1047.7" fill="#98ff46" stroke="#98ff46"/><polygon points="1176,1038.9 1191.6,1028.4 1177.2,1026.8 1161.6,1037.2" fill="#98ff43" stroke="#98ff43"/><polygon points="1191.6,1028.4 1207,1018 1192.6,1016.5 1177.2,1026.8" fill="#99ff3f" stroke="#99ff3f"/><polygon points="1207,1018 1222.3,1007.8 1207.9,1006.3 1192.6,1016.5" fill="#9bff3d" stroke="#9bff3d"/><polygon points="1222.3,1007.8 1237.4,997.6 1223,996.2 1207.9,1006.3" fill="#9eff3c" stroke="#9eff3c"/><polygon points="1237.4,997.6 1252.4,987.5 1237.9,986.1 1223,996.2" fill="#a4fe3c" stroke="#a4fe3c"/><polygon points="1252.4,987.5 1267.2,977.6 1252.7,976.2 1237.9,986.1" fill="#aafd3c" stroke="#aafd3c"/><polygon points="1267.2,977.6 1281.9,967.7 1267.4,966.4 1252.7,976.2" fill="#b2fc3c" stroke="#b2fc3c"/><polygon points="1281.9,967.7 1296.5,957.9 1281.9,956.6 1267.4,966.4" fill="#bdfd3c" stroke="#bdfd3c"/><polygon points="1296.5,957.9 1310.9,948.2 1296.3,946.9 1281.9,956.6" fill="#c9fd3c" stroke="#c9fd3c"/><polygon points="1310.9,948.2 1325.1,938.6 1310.6,937.4 1296.3,946.9" fill="#c9fd3c" stroke="#c9fd3c"/><polygon points="1325.1,938.6 1339.3,929 1324.7,927.9 1310.6,937.4" fill="#c9fd3c" stroke="#c9fd3c"/><polygon points="944.1,1182.3 961.9,1170.4 948.2,1168.1 930.5,1179.9" fill="#85f3fc" stroke="#85f3fc"/><polygon points="961.9,1170.4 979.6,1158.7 965.8,1156.5 948.2,1168.1" fill="#85f3fc" stroke="#85f3fc"/><polygon points="979.6,1158.7 997,1147.1 983.2,1144.9 965.8,1156.5" fill="#85f3fc" stroke="#85f3fc"/><polygon points="997,1147.1 1014.2,1135.6 1000.4,1133.5 983.2,1144.9" fill="#8afaf4" stroke="#8afaf4"/><polygon points="1014.2,1135.6 1031.3,1124.3 1017.4,1122.2 1000.4,1133.5" fill="#8effe8" stroke="#8effe8"/><polygon points="1031.3,1124.3 1048.2,1113 1034.2,1111 1017.4,1122.2" fill="#91ffcc" stroke="#91ffcc"/><polygon points="1048.2,1113 1064.9,1101.9 1050.9,1099.9 1034.2,1111" fill="#94ffaf" stroke="#94ffaf"/><polygon points="1064.9,1101.9 1081.4,1090.8 1067.4,1088.9 1050.9,1099.9" fill="#96ff97" stroke="#96ff97"/><polygon points="1081.4,1090.8 1097.8,1079.9 1083.7,1078.1 1067.4,1088.9" fill="#96ff83" stroke="#96ff83"/><polygon points="1097.8,1079.9 1114,1069.1 1099.9,1067.3 1083.7,1078.1" fill="#96ff6f" stroke="#96ff6f"/><polygon points="1114,1069.1 1130,1058.3 1115.9,1056.6 1099.9,1067.3" fill="#96ff5d" stroke="#96ff5d"/><polygon points="1130,1058.3 1145.9,1047.7 1131.8,1046.1 1115.9,1056.6" fill="#97ff53" stroke="#97ff53"/><polygon points="1145.9,1047.7 1161.6,1037.2 1147.4,1035.6 1131.8,1046.1" fill="#98ff49" stroke="#98ff49"/><polygon points="1161.6,1037.2 1177.2,1026.8 1163,1025.2 1147.4,1035.6" fill="#98ff44" stroke="#98ff44"/><polygon points="1177.2,1026.8 1192.6,1016.5 1178.4,1015 1163,1025.2" fill="#99ff41" stroke="#99ff41"/><polygon points="1192.6,1016.5 1207.9,1006.3 1193.6,1004.8 1178.4,1015" fill="#99ff3e" stroke="#99ff3e"/><polygon points="1207.9,1006.3 1223,996.2 1208.7,994.7 1193.6,1004.8" fill="#9cff3d" stroke="#9cff3d"/><polygon points="1223,996.2 1237.9,986.1 1223.6,984.7 1208.7,994.7" fill="#a1ff3c" stroke="#a1ff3c"/><polygon points="1237.9,986.1 1252.7,976.2 1238.4,974.8 1223.6,984.7" fill="#a7fd3c" stroke="#a7fd3c"/><polygon points="1252.7,976.2 1267.4,966.4 1253,965 1238.4,974.8" fill="#aefc3c" stroke="#aefc3c"/><polygon points="1267.4,966.4 1281.9,956.6 1267.6,955.3 1253,965" fill="#b8fc3c" stroke="#b8fc3c"/><polygon points="1281.9,956.6 1296.3,946.9 1281.9,945.7 1267.6,955.3" fill="#c4fd3c" stroke="#c4fd3c"/><polygon points="1296.3,946.9 1310.6,937.4 1296.2,936.2 1281.9,945.7" fill="#c4fd3c" stroke="#c4fd3c"/><polygon points="1310.6,937.4 1324.7,927.9 1310.3,926.7 1296.2,936.2" fill="#c4fd3c" stroke="#c4fd3c"/><polygon points="930.5,1179.9 948.2,1168.1 934.7,1165.8 917,1177.5" fill="#85f3fc" stroke="#85f3fc"/><polygon points="948.2,1168.1 965.8,1156.5 952.2,1154.2 934.7,1165.8" fill="#85f3fc" stroke="#85f3fc"/><polygon points="965.8,1156.5 983.2,1144.9 969.5,1142.8 952.2,1154.2" fill="#85f3fc" stroke="#85f3fc"/><polygon points="983.2,1144.9 1000.4,1133.5 986.7,1131.4 969.5,1142.8" fill="#8afaf4" stroke="#8afaf4"/><polygon points="1000.4,1133.5 1017.4,1122.2 1003.6,1120.2 986.7,1131.4" fill="#8effe8" stroke="#8effe8"/><polygon points="1017.4,1122.2 1034.2,1111 1020.5,1109 1003.6,1120.2" fill="#91ffcc" stroke="#91ffcc"/><polygon points="1034.2,1111 1050.9,1099.9 1037.1,1098 1020.5,1109" fill="#94ffaf" stroke="#94ffaf"/><polygon points="1050.9,1099.9 1067.4,1088.9 1053.6,1087.1 1037.1,1098" fill="#96ff97" stroke="#96ff97"/><polygon points="1067.4,1088.9 1083.7,1078.1 1069.9,1076.2 1053.6,1087.1" fill="#96ff83" stroke="#96ff83"/><polygon points="1083.7,1078.1 1099.9,1067.3 1086,1065.5 1069.9,1076.2" fill="#96ff6f" stroke="#96ff6f"/><polygon points="1099.9,1067.3 1115.9,1056.6 1102,1054.9 1086,1065.5" fill="#96ff5d" stroke="#96ff5d"/><polygon points="1115.9,1056.6 1131.8,1046.1 1117.8,1044.4 1102,1054.9" fill="#97ff53" stroke="#97ff53"/><polygon points="1131.8,1046.1 1147.4,1035.6 1133.4,1034 1117.8,1044.4" fill="#98ff49" stroke="#98ff49"/><polygon points="1147.4,1035.6 1163,1025.2 1148.9,1023.7 1133.4,1034" fill="#98ff44" stroke="#98ff44"/><polygon points="1163,1025.2 1178.4,1015 1164.3,1013.5 1148.9,1023.7" fill="#99ff41" stroke="#99ff41"/><polygon points="1178.4,1015 1193.6,1004.8 1179.5,1003.3 1164.3,1013.5" fill="#99ff3e" stroke="#99ff3e"/><polygon points="1193.6,1004.8 1208.7,994.7 1194.6,993.3 1179.5,1003.3" fill="#9cff3d" stroke="#9cff3d"/><polygon points="1208.7,994.7 1223.6,984.7 1209.5,983.4 1194.6,993.3" fill="#a1ff3c" stroke="#a1ff3c"/><polygon points="1223.6,984.7 1238.4,974.8 1224.2,973.5 1209.5,983.4" fill="#a7fd3c" stroke="#a7fd3c"/><polygon points="1238.4,974.8 1253,965 1238.9,963.7 1224.2,973.5" fill="#aefc3c" stroke="#aefc3c"/><polygon points="1253,965 1267.6,955.3 1253.4,954.1 1238.9,963.7" fill="#b8fc3c" stroke="#b8fc3c"/><polygon points="1267.6,955.3 1281.9,945.7 1267.7,944.5 1253.4,954.1" fill="#c4fd3c" stroke="#c4fd3c"/><polygon points="1281.9,945.7 1296.2,936.2 1281.9,935 1267.7,944.5" fill="#c4fd3c" stroke="#c4fd3c"/><polygon points="1296.2,936.2 1310.3,926.7 1296,925.6 1281.9,935" fill="#c4fd3c" stroke="#c4fd3c"/><polygon points="917,1177.5 934.7,1165.8 921.3,1163.6 903.6,1175.2" fill="#85f3fc" stroke="#85f3fc"/><polygon points="934.7,1165.8 952.2,1154.2 938.8,1152.1 921.3,1163.6" fill="#85f3fc" stroke="#85f3fc"/><polygon points="952.2,1154.2 969.5,1142.8 956.1,1140.6 938.8,1152.1" fill="#85f3fc" stroke="#85f3fc"/><polygon points="969.5,1142.8 986.7,1131.4 973.2,1129.3 956.1,1140.6" fill="#8afaf4" stroke="#8afaf4"/><polygon points="986.7,1131.4 1003.6,1120.2 990.1,1118.2 973.2,1129.3" fill="#8effe8" stroke="#8effe8"/><polygon points="1003.6,1120.2 1020.5,1109 1006.9,1107.1 990.1,1118.2" fill="#91ffcc" stroke="#91ffcc"/><polygon points="1020.5,1109 1037.1,1098 1023.5,1096.1 1006.9,1107.1" fill="#94ffaf" stroke="#94ffaf"/><polygon points="1037.1,1098 1053.6,1087.1 1039.9,1085.2 1023.5,1096.1" fill="#96ff97" stroke="#96ff97"/><polygon points="1053.6,1087.1 1069.9,1076.2 1056.1,1074.5 1039.9,1085.2" fill="#96ff83" stroke="#96ff83"/><polygon points="1069.9,1076.2 1086,1065.5 1072.2,1063.8 1056.1,1074.5" fill="#96ff6f" stroke="#96ff6f"/><polygon points="1086,1065.5 1102,1054.9 1088.2,1053.2 1072.2,1063.8" fill="#96ff5d" stroke="#96ff5d"/><polygon points="1102,1054.9 1117.8,1044.4 1104,1042.8 1088.2,1053.2" fill="#97ff53" stroke="#97ff53"/><polygon points="1117.8,1044.4 1133.4,1034 1119.6,1032.4 1104,1042.8" fill="#98ff49" stroke="#98ff49"/><polygon points="1133.4,1034 1148.9,1023.7 1135.1,1022.1 1119.6,1032.4" fill="#98ff44" stroke="#98ff44"/><polygon points="1148.9,1023.7 1164.3,1013.5 1150.4,1012 1135.1,1022.1" fill="#99ff41" stroke="#99ff41"/><polygon points="1164.3,1013.5 1179.5,1003.3 1165.6,1001.9 1150.4,1012" fill="#99ff3e" stroke="#99ff3e"/><polygon points="1179.5,1003.3 1194.6,993.3 1180.6,991.9 1165.6,1001.9" fill="#9cff3d" stroke="#9cff3d"/><polygon points="1194.6,993.3 1209.5,983.4 1195.5,982 1180.6,991.9" fill="#a1ff3c" stroke="#a1ff3c"/><polygon points="1209.5,983.4 1224.2,973.5 1210.3,972.2 1195.5,982" fill="#a7fd3c" stroke="#a7fd3c"/><polygon points="1224.2,973.5 1238.9,963.7 1224.9,962.5 1210.3,972.2" fill="#aefc3c" stroke="#aefc3c"/><polygon points="1238.9,963.7 1253.4,954.1 1239.3,952.8 1224.9,962.5" fill="#b8fc3c" stroke="#b8fc3c"/><polygon points="1253.4,954.1 1267.7,944.5 1253.7,943.3 1239.3,952.8" fill="#c4fd3c" stroke="#c4fd3c"/><polygon points="1267.7,944.5 1281.9,935 1267.9,933.8 1253.7,943.3" fill="#c4fd3c" stroke="#c4fd3c"/><polygon points="1281.9,935 1296,925.6 1281.9,924.4 1267.9,933.8" fill="#c4fd3c" stroke="#c4fd3c"/></g></g><g fill="none" stroke="#161616" stroke-width="2" stroke-linejoin="round"><polyline points="1281.9,1207.5 1300,1194.5 1318,1181.6 1335.7,1168.9 1353.2,1156.3 1370.4,1143.9 1387.5,1131.6 1404.4,1119.5 1421.1,1107.4 1437.5,1095.6 1453.8,1083.8 1469.9,1072.2 1485.9,1060.7 1501.6,1049.3 1517.1,1038.1 1532.5,1027 1547.7,1016 1562.8,1005.1 1577.7,994.3 1592.4,983.7 1606.9,973.1"/><polyline points="1281.9,1207.5 1263.8,1204.6 1245.9,1201.8 1228.4,1198.9 1211.1,1196.2 1194,1193.4 1177.2,1190.7 1160.7,1188 1144.4,1185.4 1128.3,1182.8 1112.5,1180.3 1096.9,1177.7 1081.5,1175.2 1066.3,1172.8 1051.3,1170.4 1036.6,1168 1022,1165.6 1007.7,1163.3 993.5,1161 979.6,1158.7 965.8,1156.5"/><polyline points="1263.8,1204.6 1281.9,1191.7 1299.8,1178.9 1317.5,1166.3 1334.9,1153.8 1352.2,1141.4 1369.3,1129.2 1386.1,1117.1 1402.8,1105.2 1419.2,1093.4 1435.5,1081.7 1451.6,1070.1 1467.5,1058.7 1483.3,1047.4 1498.8,1036.2 1514.2,1025.2 1529.4,1014.2 1544.4,1003.4 1559.3,992.7 1574,982.1 1588.6,971.6"/><polyline points="1300,1194.5 1281.9,1191.7 1264,1188.9 1246.4,1186.2 1229.1,1183.5 1212,1180.8 1195.2,1178.2 1178.6,1175.6 1162.3,1173 1146.2,1170.5 1130.3,1168 1114.6,1165.6 1099.2,1163.2 1084,1160.8 1069,1158.4 1054.2,1156.1 1039.6,1153.8 1025.2,1151.5 1011,1149.3 997,1147.1 983.2,1144.9"/><polyline points="1245.9,1201.8 1264,1188.9 1281.9,1176.2 1299.6,1163.6 1317,1151.2 1334.2,1138.9 1351.3,1126.8 1368.1,1114.8 1384.8,1102.9 1401.2,1091.2 1417.5,1079.6 1433.6,1068.1 1449.5,1056.7 1465.2,1045.5 1480.7,1034.4 1496.1,1023.4 1511.3,1012.5 1526.3,1001.7 1541.2,991.1 1555.9,980.5 1570.5,970.1"/><polyline points="1318,1181.6 1299.8,1178.9 1281.9,1176.2 1264.3,1173.5 1246.9,1170.9 1229.8,1168.3 1212.9,1165.8 1196.3,1163.3 1180,1160.8 1163.8,1158.4 1147.9,1156 1132.2,1153.6 1116.7,1151.2 1101.5,1148.9 1086.4,1146.6 1071.6,1144.4 1057,1142.1 1042.5,1139.9 1028.3,1137.8 1014.2,1135.6 1000.4,1133.5"/><polyline points="1228.4,1198.9 1246.4,1186.2 1264.3,1173.5 1281.9,1161.1 1299.3,1148.7 1316.5,1136.5 1333.6,1124.5 1350.4,1112.5 1367,1100.7 1383.4,1089.1 1399.7,1077.5 1415.8,1066.1 1431.7,1054.8 1447.4,1043.6 1462.9,1032.6 1478.3,1021.6 1493.5,1010.8 1508.5,1000.1 1523.4,989.5 1538.1,979 1552.6,968.6"/><polyline points="1335.7,1168.9 1317.5,1166.3 1299.6,1163.6 1281.9,1161.1 1264.5,1158.5 1247.4,1156 1230.5,1153.6 1213.8,1151.1 1197.4,1148.7 1181.3,1146.3 1165.3,1144 1149.6,1141.7 1134.1,1139.4 1118.8,1137.2 1103.7,1134.9 1088.8,1132.7 1074.1,1130.6 1059.7,1128.4 1045.4,1126.3 1031.3,1124.3 1017.4,1122.2"/><polyline points="1211.1,1196.2 1229.1,1183.5 1246.9,1170.9 1264.5,1158.5 1281.9,1146.3 1299.1,1134.1 1316.1,1122.1 1332.9,1110.3 1349.5,1098.6 1365.9,1087 1382.2,1075.5 1398.2,1064.1 1414.1,1052.9 1429.8,1041.8 1445.3,1030.8 1460.7,1019.9 1475.9,1009.1 1490.9,998.5 1505.8,987.9 1520.5,977.5 1535,967.1"/><polyline points="1353.2,1156.3 1334.9,1153.8 1317,1151.2 1299.3,1148.7 1281.9,1146.3 1264.7,1143.8 1247.8,1141.4 1231.1,1139.1 1214.7,1136.7 1198.5,1134.4 1182.5,1132.2 1166.8,1129.9 1151.2,1127.7 1135.9,1125.5 1120.8,1123.4 1105.9,1121.2 1091.2,1119.1 1076.6,1117.1 1062.3,1115 1048.2,1113 1034.2,1111"/><polyline points="1194,1193.4 1212,1180.8 1229.8,1168.3 1247.4,1156 1264.7,1143.8 1281.9,1131.8 1298.9,1119.9 1315.7,1108.1 1332.2,1096.4 1348.6,1084.9 1364.9,1073.5 1380.9,1062.2 1396.8,1051 1412.5,1039.9 1428,1029 1443.3,1018.2 1458.5,1007.5 1473.5,996.8 1488.4,986.4 1503.1,976 1517.6,965.7"/><polyline points="1370.4,1143.9 1352.2,1141.4 1334.2,1138.9 1316.5,1136.5 1299.1,1134.1 1281.9,1131.8 1265,1129.5 1248.3,1127.2 1231.8,1124.9 1215.6,1122.7 1199.5,1120.5 1183.8,1118.3 1168.2,1116.1 1152.8,1114 1137.7,1111.9 1122.7,1109.9 1108,1107.8 1093.4,1105.8 1079.1,1103.8 1064.9,1101.9 1050.9,1099.9"/><polyline points="1177.2,1190.7 1195.2,1178.2 1212.9,1165.8 1230.5,1153.6 1247.8,1141.4 1265,1129.5 1281.9,1117.6 1298.7,1105.9 1315.2,1094.3 1331.6,1082.8 1347.8,1071.5 1363.8,1060.2 1379.7,1049.1 1395.4,1038.1 1410.9,1027.2 1426.2,1016.5 1441.4,1005.8 1456.4,995.3 1471.2,984.8 1485.9,974.5 1500.5,964.2"/><polyline points="1387.5,1131.6 1369.3,1129.2 1351.3,1126.8 1333.6,1124.5 1316.1,1122.1 1298.9,1119.9 1281.9,1117.6 1265.2,1115.4 1248.7,1113.2 1232.4,1111 1216.4,1108.9 1200.6,1106.8 1185,1104.7 1169.6,1102.6 1154.4,1100.6 1139.4,1098.6 1124.6,1096.6 1110,1094.7 1095.6,1092.7 1081.4,1090.8 1067.4,1088.9"/><polyline points="1160.7,1188 1178.6,1175.6 1196.3,1163.3 1213.8,1151.1 1231.1,1139.1 1248.3,1127.2 1265.2,1115.4 1281.9,1103.7 1298.5,1092.2 1314.8,1080.8 1331,1069.5 1347,1058.3 1362.8,1047.3 1378.5,1036.3 1394,1025.5 1409.3,1014.8 1424.5,1004.2 1439.5,993.7 1454.3,983.3 1469,973 1483.6,962.8"/><polyline points="1404.4,1119.5 1386.1,1117.1 1368.1,1114.8 1350.4,1112.5 1332.9,1110.3 1315.7,1108.1 1298.7,1105.9 1281.9,1103.7 1265.4,1101.6 1249.1,1099.5 1233,1097.4 1217.2,1095.4 1201.6,1093.4 1186.1,1091.4 1170.9,1089.4 1155.9,1087.4 1141.1,1085.5 1126.5,1083.6 1112,1081.7 1097.8,1079.9 1083.7,1078.1"/><polyline points="1144.4,1185.4 1162.3,1173 1180,1160.8 1197.4,1148.7 1214.7,1136.7 1231.8,1124.9 1248.7,1113.2 1265.4,1101.6 1281.9,1090.1 1298.3,1078.8 1314.4,1067.6 1330.4,1056.4 1346.2,1045.5 1361.9,1034.6 1377.3,1023.8 1392.7,1013.1 1407.8,1002.6 1422.8,992.1 1437.6,981.8 1452.3,971.5 1466.8,961.4"/><polyline points="1421.1,1107.4 1402.8,1105.2 1384.8,1102.9 1367,1100.7 1349.5,1098.6 1332.2,1096.4 1315.2,1094.3 1298.5,1092.2 1281.9,1090.1 1265.6,1088.1 1249.5,1086.1 1233.6,1084.1 1218,1082.1 1202.5,1080.2 1187.3,1078.3 1172.2,1076.4 1157.4,1074.5 1142.7,1072.7 1128.3,1070.9 1114,1069.1 1099.9,1067.3"/><polyline points="1128.3,1182.8 1146.2,1170.5 1163.8,1158.4 1181.3,1146.3 1198.5,1134.4 1215.6,1122.7 1232.4,1111 1249.1,1099.5 1265.6,1088.1 1281.9,1076.8 1298.1,1065.6 1314,1054.6 1329.8,1043.7 1345.4,1032.8 1360.9,1022.1 1376.2,1011.5 1391.3,1001 1406.3,990.6 1421.2,980.3 1435.8,970.1 1450.3,960"/><polyline points="1437.5,1095.6 1419.2,1093.4 1401.2,1091.2 1383.4,1089.1 1365.9,1087 1348.6,1084.9 1331.6,1082.8 1314.8,1080.8 1298.3,1078.8 1281.9,1076.8 1265.8,1074.9 1249.9,1072.9 1234.2,1071 1218.7,1069.2 1203.5,1067.3 1188.4,1065.5 1173.5,1063.7 1158.8,1061.9 1144.3,1060.1 1130,1058.3 1115.9,1056.6"/><polyline points="1112.5,1180.3 1130.3,1168 1147.9,1156 1165.3,1144 1182.5,1132.2 1199.5,1120.5 1216.4,1108.9 1233,1097.4 1249.5,1086.1 1265.8,1074.9 1281.9,1063.8 1297.9,1052.8 1313.6,1041.9 1329.2,1031.1 1344.7,1020.4 1360,1009.9 1375.1,999.4 1390.1,989.1 1404.9,978.8 1419.5,968.7 1434.1,958.6"/><polyline points="1453.8,1083.8 1435.5,1081.7 1417.5,1079.6 1399.7,1077.5 1382.2,1075.5 1364.9,1073.5 1347.8,1071.5 1331,1069.5 1314.4,1067.6 1298.1,1065.6 1281.9,1063.8 1266,1061.9 1250.3,1060 1234.8,1058.2 1219.5,1056.4 1204.4,1054.6 1189.5,1052.9 1174.8,1051.1 1160.2,1049.4 1145.9,1047.7 1131.8,1046.1"/><polyline points="1096.9,1177.7 1114.6,1165.6 1132.2,1153.6 1149.6,1141.7 1166.8,1129.9 1183.8,1118.3 1200.6,1106.8 1217.2,1095.4 1233.6,1084.1 1249.9,1072.9 1266,1061.9 1281.9,1050.9 1297.7,1040.1 1313.3,1029.4 1328.7,1018.8 1344,1008.3 1359.1,997.9 1374,987.6 1388.8,977.4 1403.5,967.3 1418,957.3"/><polyline points="1469.9,1072.2 1451.6,1070.1 1433.6,1068.1 1415.8,1066.1 1398.2,1064.1 1380.9,1062.2 1363.8,1060.2 1347,1058.3 1330.4,1056.4 1314,1054.6 1297.9,1052.8 1281.9,1050.9 1266.2,1049.2 1250.7,1047.4 1235.3,1045.6 1220.2,1043.9 1205.3,1042.2 1190.5,1040.5 1176,1038.9 1161.6,1037.2 1147.4,1035.6"/><polyline points="1081.5,1175.2 1099.2,1163.2 1116.7,1151.2 1134.1,1139.4 1151.2,1127.7 1168.2,1116.1 1185,1104.7 1201.6,1093.4 1218,1082.1 1234.2,1071 1250.3,1060 1266.2,1049.2 1281.9,1038.4 1297.5,1027.7 1312.9,1017.2 1328.1,1006.7 1343.2,996.4 1358.2,986.1 1373,975.9 1387.6,965.9 1402.1,955.9"/><polyline points="1485.9,1060.7 1467.5,1058.7 1449.5,1056.7 1431.7,1054.8 1414.1,1052.9 1396.8,1051 1379.7,1049.1 1362.8,1047.3 1346.2,1045.5 1329.8,1043.7 1313.6,1041.9 1297.7,1040.1 1281.9,1038.4 1266.4,1036.7 1251,1035 1235.9,1033.3 1220.9,1031.7 1206.2,1030 1191.6,1028.4 1177.2,1026.8 1163,1025.2"/><polyline points="1066.3,1172.8 1084,1160.8 1101.5,1148.9 1118.8,1137.2 1135.9,1125.5 1152.8,1114 1169.6,1102.6 1186.1,1091.4 1202.5,1080.2 1218.7,1069.2 1234.8,1058.2 1250.7,1047.4 1266.4,1036.7 1281.9,1026.1 1297.3,1015.6 1312.5,1005.1 1327.6,994.8 1342.5,984.6 1357.3,974.5 1371.9,964.5 1386.4,954.6"/><polyline points="1501.6,1049.3 1483.3,1047.4 1465.2,1045.5 1447.4,1043.6 1429.8,1041.8 1412.5,1039.9 1395.4,1038.1 1378.5,1036.3 1361.9,1034.6 1345.4,1032.8 1329.2,1031.1 1313.3,1029.4 1297.5,1027.7 1281.9,1026.1 1266.6,1024.4 1251.4,1022.8 1236.4,1021.2 1221.6,1019.6 1207,1018 1192.6,1016.5 1178.4,1015"/><polyline points="1051.3,1170.4 1069,1158.4 1086.4,1146.6 1103.7,1134.9 1120.8,1123.4 1137.7,1111.9 1154.4,1100.6 1170.9,1089.4 1187.3,1078.3 1203.5,1067.3 1219.5,1056.4 1235.3,1045.6 1251,1035 1266.6,1024.4 1281.9,1014 1297.1,1003.6 1312.2,993.3 1327.1,983.2 1341.9,973.1 1356.5,963.2 1370.9,953.3"/><polyline points="1517.1,1038.1 1498.8,1036.2 1480.7,1034.4 1462.9,1032.6 1445.3,1030.8 1428,1029 1410.9,1027.2 1394,1025.5 1377.3,1023.8 1360.9,1022.1 1344.7,1020.4 1328.7,1018.8 1312.9,1017.2 1297.3,1015.6 1281.9,1014 1266.7,1012.4 1251.7,1010.8 1236.9,1009.3 1222.3,1007.8 1207.9,1006.3 1193.6,1004.8"/><polyline points="1036.6,1168 1054.2,1156.1 1071.6,1144.4 1088.8,1132.7 1105.9,1121.2 1122.7,1109.9 1139.4,1098.6 1155.9,1087.4 1172.2,1076.4 1188.4,1065.5 1204.4,1054.6 1220.2,1043.9 1235.9,1033.3 1251.4,1022.8 1266.7,1012.4 1281.9,1002.1 1297,991.9 1311.9,981.8 1326.6,971.7 1341.2,961.8 1355.6,952"/><polyline points="1532.5,1027 1514.2,1025.2 1496.1,1023.4 1478.3,1021.6 1460.7,1019.9 1443.3,1018.2 1426.2,1016.5 1409.3,1014.8 1392.7,1013.1 1376.2,1011.5 1360,1009.9 1344,1008.3 1328.1,1006.7 1312.5,1005.1 1297.1,1003.6 1281.9,1002.1 1266.9,1000.6 1252.1,999.1 1237.4,997.6 1223,996.2 1208.7,994.7"/><polyline points="1022,1165.6 1039.6,1153.8 1057,1142.1 1074.1,1130.6 1091.2,1119.1 1108,1107.8 1124.6,1096.6 1141.1,1085.5 1157.4,1074.5 1173.5,1063.7 1189.5,1052.9 1205.3,1042.2 1220.9,1031.7 1236.4,1021.2 1251.7,1010.8 1266.9,1000.6 1281.9,990.4 1296.8,980.3 1311.5,970.4 1326.1,960.5 1340.5,950.7"/><polyline points="1547.7,1016 1529.4,1014.2 1511.3,1012.5 1493.5,1010.8 1475.9,1009.1 1458.5,1007.5 1441.4,1005.8 1424.5,1004.2 1407.8,1002.6 1391.3,1001 1375.1,999.4 1359.1,997.9 1343.2,996.4 1327.6,994.8 1312.2,993.3 1297,991.9 1281.9,990.4 1267.1,989 1252.4,987.5 1237.9,986.1 1223.6,984.7"/><polyline points="1007.7,1163.3 1025.2,1151.5 1042.5,1139.9 1059.7,1128.4 1076.6,1117.1 1093.4,1105.8 1110,1094.7 1126.5,1083.6 1142.7,1072.7 1158.8,1061.9 1174.8,1051.1 1190.5,1040.5 1206.2,1030 1221.6,1019.6 1236.9,1009.3 1252.1,999.1 1267.1,989 1281.9,978.9 1296.6,969 1311.2,959.2 1325.6,949.4"/><polyline points="1562.8,1005.1 1544.4,1003.4 1526.3,1001.7 1508.5,1000.1 1490.9,998.5 1473.5,996.8 1456.4,995.3 1439.5,993.7 1422.8,992.1 1406.3,990.6 1390.1,989.1 1374,987.6 1358.2,986.1 1342.5,984.6 1327.1,983.2 1311.9,981.8 1296.8,980.3 1281.9,978.9 1267.2,977.6 1252.7,976.2 1238.4,974.8"/><polyline points="993.5,1161 1011,1149.3 1028.3,1137.8 1045.4,1126.3 1062.3,1115 1079.1,1103.8 1095.6,1092.7 1112,1081.7 1128.3,1070.9 1144.3,1060.1 1160.2,1049.4 1176,1038.9 1191.6,1028.4 1207,1018 1222.3,1007.8 1237.4,997.6 1252.4,987.5 1267.2,977.6 1281.9,967.7 1296.5,957.9 1310.9,948.2"/><polyline points="1577.7,994.3 1559.3,992.7 1541.2,991.1 1523.4,989.5 1505.8,987.9 1488.4,986.4 1471.2,984.8 1454.3,983.3 1437.6,981.8 1421.2,980.3 1404.9,978.8 1388.8,977.4 1373,975.9 1357.3,974.5 1341.9,973.1 1326.6,971.7 1311.5,970.4 1296.6,969 1281.9,967.7 1267.4,966.4 1253,965"/><polyline points="979.6,1158.7 997,1147.1 1014.2,1135.6 1031.3,1124.3 1048.2,1113 1064.9,1101.9 1081.4,1090.8 1097.8,1079.9 1114,1069.1 1130,1058.3 1145.9,1047.7 1161.6,1037.2 1177.2,1026.8 1192.6,1016.5 1207.9,1006.3 1223,996.2 1237.9,986.1 1252.7,976.2 1267.4,966.4 1281.9,956.6 1296.3,946.9"/><polyline points="1592.4,983.7 1574,982.1 1555.9,980.5 1538.1,979 1520.5,977.5 1503.1,976 1485.9,974.5 1469,973 1452.3,971.5 1435.8,970.1 1419.5,968.7 1403.5,967.3 1387.6,965.9 1371.9,964.5 1356.5,963.2 1341.2,961.8 1326.1,960.5 1311.2,959.2 1296.5,957.9 1281.9,956.6 1267.6,955.3"/><polyline points="965.8,1156.5 983.2,1144.9 1000.4,1133.5 1017.4,1122.2 1034.2,1111 1050.9,1099.9 1067.4,1088.9 1083.7,1078.1 1099.9,1067.3 1115.9,1056.6 1131.8,1046.1 1147.4,1035.6 1163,1025.2 1178.4,1015 1193.6,1004.8 1208.7,994.7 1223.6,984.7 1238.4,974.8 1253,965 1267.6,955.3 1281.9,945.7"/><polyline points="1606.9,973.1 1588.6,971.6 1570.5,970.1 1552.6,968.6 1535,967.1 1517.6,965.7 1500.5,964.2 1483.6,962.8 1466.8,961.4 1450.3,960 1434.1,958.6 1418,957.3 1402.1,955.9 1386.4,954.6 1370.9,953.3 1355.6,952 1340.5,950.7 1325.6,949.4 1310.9,948.2 1296.3,946.9 1281.9,945.7"/></g><line x1="1281.9" y1="1045.1" x2="1281.9" y2="1063.8" stroke="#111" stroke-width="2.2"/><ellipse cx="1281.9" cy="1045.1" rx="6.5" ry="9.1" fill="#b8101c" stroke="#222" stroke-width="1.2"/><path d="M972.3 2085.1L1298.3 1974.7L1624.4 2084.8M969.6 2029.2L1298.3 1924.2L1627 2028.9M966.9 1973.2L1298.3 1873.7L1629.7 1972.9M964.2 1917.2L1298.3 1823.2L1632.3 1916.9M961.5 1861.3L1298.2 1772.7L1635 1860.9M958.8 1805.3L1298.2 1722.2L1637.7 1804.9M956.1 1749.3L1298.2 1671.7L1640.3 1748.9M1053.8 2057.5L1041.7 1729.9M1379.8 2002.2L1383.7 1691M1135.3 2029.9L1127.2 1710.5M1461.4 2029.8L1469.3 1710.3M1216.8 2002.3L1212.7 1691.1M1542.9 2057.3L1554.8 1729.6M977.4 2190.3L956.1 1749.3M1298.4 2069.6L1298.2 1671.7M1619.4 2190L1640.3 1748.9" stroke="#1c1c1c" stroke-width="1.7" fill="none"/><polygon points="977.4,2190.3 1298.3,2343.7 1619.4,2190 1298.4,2069.6" fill="#646464" stroke="#111" stroke-width="1.8" stroke-linejoin="round"/><polyline points="1576.6,2210.5 1558.7,2200.4 1542.7,2190.7 1528.8,2181.4 1517.6,2172.9 1508.4,2164.8 1504.5,2160.9 1501,2156.9 1497.9,2153 1495.5,2149.3 1493.5,2145.7 1492,2142.2" fill="none" stroke="#96ff5d" stroke-width="3" stroke-linecap="round"/><polyline points="1115.3,2138.4 1114,2142.5 1112.3,2146.5 1110,2150.6 1107.1,2154.8 1103.8,2158.8 1099.6,2163.4 1094.9,2167.9 1089.8,2172.2 1078,2181.3 1063.3,2191.2 1045.5,2202 1025.5,2213.2" fill="none" stroke="#96ff5d" stroke-width="3" stroke-linecap="round"/><polyline points="1525.6,2234.9 1481.5,2219.1 1445.1,2206.7 1414.5,2197.1 1386.9,2189.4 1363.3,2183.9 1351.8,2181.7 1341.3,2180 1330.9,2178.7 1321.1,2177.8 1311.3,2177.3 1302.5,2177.1 1292.5,2177.4 1283.2,2178 1272.9,2179 1263.2,2180.3 1252.5,2182.1 1240.9,2184.4 1217.5,2190 1190.1,2197.8 1158.4,2207.9 1120.8,2220.8 1075.5,2237.2" fill="none" stroke="#9aff3e" stroke-width="3" stroke-linecap="round"/><polyline points="1240.6,2091.3 1256.2,2094.3 1271.8,2096.5 1286.1,2097.9 1300.4,2098.4 1314.9,2098.1 1328.4,2097.1 1343.2,2095.2 1359.2,2092.4" fill="none" stroke="#9aff3e" stroke-width="3" stroke-linecap="round"/><polyline points="1472.5,2260.3 1447.7,2254.8 1425.4,2250.4 1403.9,2246.7 1381.6,2243.6 1360.3,2241.2 1340.8,2239.7 1321,2238.8 1300.9,2238.5 1281,2238.9 1261.1,2240 1240.5,2241.9 1219.2,2244.4 1197.1,2247.8 1176,2251.6 1152.3,2256.5 1127.7,2262.1" fill="none" stroke="#bdfd3c" stroke-width="3" stroke-linecap="round"/><polyline points="1417,2286.9 1387.2,2283.4 1357.7,2280.9 1328.6,2279.4 1299.9,2279 1271.3,2279.7 1242.4,2281.4 1213.4,2284.1 1182.1,2288.1" fill="none" stroke="#fff937" stroke-width="3" stroke-linecap="round"/><polyline points="1359,2314.7 1328.3,2313.4 1298.7,2313.1 1269.1,2313.7 1239,2315.3" fill="none" stroke="#e2751f" stroke-width="3" stroke-linecap="round"/><g fill="#111"><circle cx="972.3" cy="2085.1" r="3"/><circle cx="969.6" cy="2029.2" r="3"/><circle cx="966.9" cy="1973.2" r="3"/><circle cx="964.2" cy="1917.2" r="3"/><circle cx="961.5" cy="1861.3" r="3"/><circle cx="958.8" cy="1805.3" r="3"/><circle cx="956.1" cy="1749.3" r="3"/><circle cx="977.4" cy="2190.3" r="3"/><circle cx="1298.3" cy="2343.7" r="3"/><circle cx="1057.6" cy="2228.6" r="3"/><circle cx="1378.6" cy="2305.3" r="3"/><circle cx="1137.9" cy="2267" r="3"/><circle cx="1458.9" cy="2266.8" r="3"/><circle cx="1218.1" cy="2305.3" r="3"/><circle cx="1539.1" cy="2228.4" r="3"/><circle cx="1298.3" cy="2343.7" r="3"/><circle cx="1619.4" cy="2190" r="3"/></g><g stroke="#161616" stroke-width="1.9" stroke-linejoin="round"><polygon points="1298.2,1799.8 1313.2,1792.4 1298.2,1784.6 1283.2,1792.6" fill="#a2fe3c"/><polygon points="1283.1,1807.3 1298.2,1799.8 1283.2,1792.6 1268.1,1800.7" fill="#9eff3c"/><polygon points="1313.4,1807.1 1328.4,1800.3 1313.2,1792.4 1298.2,1799.8" fill="#9eff3c"/><polygon points="1267.8,1814.9 1283.1,1807.3 1268.1,1800.7 1252.8,1808.9" fill="#9cff3d"/><polygon points="1328.7,1814.4 1343.7,1808.2 1328.4,1800.3 1313.4,1807.1" fill="#9cff3d"/><polygon points="1298.2,1814 1313.4,1807.1 1298.2,1799.8 1283.1,1807.3" fill="#9dff3d"/><polygon points="1252.3,1822.5 1267.8,1814.9 1252.8,1808.9 1237.3,1817.1" fill="#9aff3d"/><polygon points="1344.2,1821.9 1359.2,1816.2 1343.7,1808.2 1328.7,1814.4" fill="#9bff3d"/><polygon points="1282.9,1821 1298.2,1814 1283.1,1807.3 1267.8,1814.9" fill="#9bff3d"/><polygon points="1313.6,1820.7 1328.7,1814.4 1313.4,1807.1 1298.2,1814" fill="#9bff3d"/><polygon points="1236.7,1830.3 1252.3,1822.5 1237.3,1817.1 1221.7,1825.4" fill="#99ff3e"/><polygon points="1359.8,1829.4 1374.8,1824.3 1359.2,1816.2 1344.2,1821.9" fill="#99ff3e"/><polygon points="1267.4,1828 1282.9,1821 1267.8,1814.9 1252.3,1822.5" fill="#9aff3e"/><polygon points="1329,1827.6 1344.2,1821.9 1328.7,1814.4 1313.6,1820.7" fill="#9aff3e"/><polygon points="1298.2,1827.1 1313.6,1820.7 1298.2,1814 1282.9,1821" fill="#9aff3e"/><polygon points="1220.9,1838.1 1236.7,1830.3 1221.7,1825.4 1205.9,1833.9" fill="#99ff40"/><polygon points="1375.6,1837 1390.6,1832.5 1374.8,1824.3 1359.8,1829.4" fill="#99ff40"/><polygon points="1251.8,1835.1 1267.4,1828 1252.3,1822.5 1236.7,1830.3" fill="#99ff3f"/><polygon points="1344.7,1834.5 1359.8,1829.4 1344.2,1821.9 1329,1827.6" fill="#99ff3e"/><polygon points="1282.8,1833.6 1298.2,1827.1 1282.9,1821 1267.4,1828" fill="#99ff3e"/><polygon points="1313.7,1833.3 1329,1827.6 1313.6,1820.7 1298.2,1827.1" fill="#99ff3e"/><polygon points="1204.9,1846 1220.9,1838.1 1205.9,1833.9 1190,1842.4" fill="#98ff42"/><polygon points="1391.6,1844.6 1406.6,1840.8 1390.6,1832.5 1375.6,1837" fill="#99ff42"/><polygon points="1236,1842.3 1251.8,1835.1 1236.7,1830.3 1220.9,1838.1" fill="#99ff40"/><polygon points="1360.5,1841.4 1375.6,1837 1359.8,1829.4 1344.7,1834.5" fill="#99ff40"/><polygon points="1267.1,1840.1 1282.8,1833.6 1267.4,1828 1251.8,1835.1" fill="#99ff3f"/><polygon points="1329.4,1839.6 1344.7,1834.5 1329,1827.6 1313.7,1833.3" fill="#99ff3f"/><polygon points="1298.2,1839.2 1313.7,1833.3 1298.2,1827.1 1282.8,1833.6" fill="#99ff3f"/><polygon points="1188.7,1853.9 1204.9,1846 1190,1842.4 1173.9,1851" fill="#98ff44"/><polygon points="1407.8,1852.4 1422.7,1849.2 1406.6,1840.8 1391.6,1844.6" fill="#98ff43"/><polygon points="1220,1849.6 1236,1842.3 1220.9,1838.1 1204.9,1846" fill="#99ff42"/><polygon points="1376.5,1848.5 1391.6,1844.6 1375.6,1837 1360.5,1841.4" fill="#99ff41"/><polygon points="1251.3,1846.7 1267.1,1840.1 1251.8,1835.1 1236,1842.3" fill="#99ff40"/><polygon points="1345.2,1846 1360.5,1841.4 1344.7,1834.5 1329.4,1839.6" fill="#99ff40"/><polygon points="1282.6,1845.1 1298.2,1839.2 1282.8,1833.6 1267.1,1840.1" fill="#99ff40"/><polygon points="1313.9,1844.8 1329.4,1839.6 1313.7,1833.3 1298.2,1839.2" fill="#99ff3f"/><polygon points="1172.4,1862 1188.7,1853.9 1173.9,1851 1157.6,1859.6" fill="#98ff46"/><polygon points="1424.1,1860.2 1439,1857.6 1422.7,1849.2 1407.8,1852.4" fill="#98ff45"/><polygon points="1203.8,1857 1220,1849.6 1204.9,1846 1188.7,1853.9" fill="#98ff43"/><polygon points="1392.7,1855.6 1407.8,1852.4 1391.6,1844.6 1376.5,1848.5" fill="#98ff43"/><polygon points="1235.3,1853.3 1251.3,1846.7 1236,1842.3 1220,1849.6" fill="#99ff42"/><polygon points="1361.2,1852.4 1376.5,1848.5 1360.5,1841.4 1345.2,1846" fill="#99ff41"/><polygon points="1266.7,1851 1282.6,1845.1 1267.1,1840.1 1251.3,1846.7" fill="#99ff40"/><polygon points="1329.8,1850.6 1345.2,1846 1329.4,1839.6 1313.9,1844.8" fill="#99ff40"/><polygon points="1298.2,1850.1 1313.9,1844.8 1298.2,1839.2 1282.6,1845.1" fill="#99ff40"/><polygon points="1155.9,1870.2 1172.4,1862 1157.6,1859.6 1141.1,1868.4" fill="#98ff4b"/><polygon points="1440.6,1868.1 1455.5,1866.1 1439,1857.6 1424.1,1860.2" fill="#98ff49"/><polygon points="1187.5,1864.4 1203.8,1857 1188.7,1853.9 1172.4,1862" fill="#98ff45"/><polygon points="1409.1,1862.8 1424.1,1860.2 1407.8,1852.4 1392.7,1855.6" fill="#98ff44"/><polygon points="1219.1,1860 1235.3,1853.3 1220,1849.6 1203.8,1857" fill="#98ff43"/><polygon points="1377.4,1858.9 1392.7,1855.6 1376.5,1848.5 1361.2,1852.4" fill="#98ff42"/><polygon points="1250.7,1857 1266.7,1851 1251.3,1846.7 1235.3,1853.3" fill="#99ff41"/><polygon points="1345.8,1856.4 1361.2,1852.4 1345.2,1846 1329.8,1850.6" fill="#99ff41"/><polygon points="1282.4,1855.4 1298.2,1850.1 1282.6,1845.1 1266.7,1851" fill="#99ff41"/><polygon points="1314.1,1855.2 1329.8,1850.6 1313.9,1844.8 1298.2,1850.1" fill="#99ff40"/><polygon points="1139.2,1878.4 1155.9,1870.2 1141.1,1868.4 1124.5,1877.3" fill="#97ff51"/><polygon points="1457.3,1876.1 1472.1,1874.8 1455.5,1866.1 1440.6,1868.1" fill="#97ff4e"/><polygon points="1170.9,1871.9 1187.5,1864.4 1172.4,1862 1155.9,1870.2" fill="#98ff47"/><polygon points="1425.6,1870.1 1440.6,1868.1 1424.1,1860.2 1409.1,1862.8" fill="#98ff46"/><polygon points="1202.7,1866.8 1219.1,1860 1203.8,1857 1187.5,1864.4" fill="#98ff44"/><polygon points="1393.8,1865.5 1409.1,1862.8 1392.7,1855.6 1377.4,1858.9" fill="#98ff43"/><polygon points="1122.4,1886.7 1139.2,1878.4 1124.5,1877.3 1107.7,1886.2" fill="#97ff57"/><polygon points="1234.5,1863.1 1250.7,1857 1235.3,1853.3 1219.1,1860" fill="#98ff42"/><polygon points="1362,1862.2 1377.4,1858.9 1361.2,1852.4 1345.8,1856.4" fill="#99ff42"/><polygon points="1474.2,1884.2 1488.9,1883.5 1472.1,1874.8 1457.3,1876.1" fill="#97ff54"/><polygon points="1266.4,1860.8 1282.4,1855.4 1266.7,1851 1250.7,1857" fill="#99ff41"/><polygon points="1330.1,1860.4 1345.8,1856.4 1329.8,1850.6 1314.1,1855.2" fill="#99ff41"/><polygon points="1298.2,1859.9 1314.1,1855.2 1298.2,1850.1 1282.4,1855.4" fill="#99ff41"/><polygon points="1154.2,1879.5 1170.9,1871.9 1155.9,1870.2 1139.2,1878.4" fill="#98ff4c"/><polygon points="1442.3,1877.5 1457.3,1876.1 1440.6,1868.1 1425.6,1870.1" fill="#98ff49"/><polygon points="1186.1,1873.7 1202.7,1866.8 1187.5,1864.4 1170.9,1871.9" fill="#98ff45"/><polygon points="1410.4,1872.1 1425.6,1870.1 1409.1,1862.8 1393.8,1865.5" fill="#98ff44"/><polygon points="1105.3,1895.1 1122.4,1886.7 1107.7,1886.2 1090.7,1895.3" fill="#96ff5d"/><polygon points="1491.3,1892.4 1506,1892.3 1488.9,1883.5 1474.2,1884.2" fill="#96ff59"/><polygon points="1218.1,1869.3 1234.5,1863.1 1219.1,1860 1202.7,1866.8" fill="#98ff43"/><polygon points="1378.4,1868.1 1393.8,1865.5 1377.4,1858.9 1362,1862.2" fill="#98ff42"/><polygon points="1250.1,1866.3 1266.4,1860.8 1250.7,1857 1234.5,1863.1" fill="#99ff42"/><polygon points="1346.3,1865.6 1362,1862.2 1345.8,1856.4 1330.1,1860.4" fill="#99ff41"/><polygon points="1282.2,1864.7 1298.2,1859.9 1282.4,1855.4 1266.4,1860.8" fill="#99ff41"/><polygon points="1314.3,1864.4 1330.1,1860.4 1314.1,1855.2 1298.2,1859.9" fill="#99ff41"/><polygon points="1137.3,1887.2 1154.2,1879.5 1139.2,1878.4 1122.4,1886.7" fill="#97ff51"/><polygon points="1459.3,1884.9 1474.2,1884.2 1457.3,1876.1 1442.3,1877.5" fill="#97ff4e"/><polygon points="1088.1,1903.6 1105.3,1895.1 1090.7,1895.3 1073.5,1904.4" fill="#96ff67"/><polygon points="1169.4,1880.7 1186.1,1873.7 1170.9,1871.9 1154.2,1879.5" fill="#98ff47"/><polygon points="1427.2,1878.8 1442.3,1877.5 1425.6,1870.1 1410.4,1872.1" fill="#98ff45"/><polygon points="1508.5,1900.6 1523.2,1901.2 1506,1892.3 1491.3,1892.4" fill="#96ff5f"/><polygon points="1201.5,1875.5 1218.1,1869.3 1202.7,1866.8 1186.1,1873.7" fill="#98ff44"/><polygon points="1395,1874.1 1410.4,1872.1 1393.8,1865.5 1378.4,1868.1" fill="#98ff43"/><polygon points="1120.2,1895 1137.3,1887.2 1122.4,1886.7 1105.3,1895.1" fill="#97ff56"/><polygon points="1233.7,1871.8 1250.1,1866.3 1234.5,1863.1 1218.1,1869.3" fill="#98ff42"/><polygon points="1362.8,1870.9 1378.4,1868.1 1362,1862.2 1346.3,1865.6" fill="#99ff42"/><polygon points="1476.4,1892.4 1491.3,1892.4 1474.2,1884.2 1459.3,1884.9" fill="#97ff52"/><polygon points="1266,1869.5 1282.2,1864.7 1266.4,1860.8 1250.1,1866.3" fill="#99ff41"/><polygon points="1330.5,1869 1346.3,1865.6 1330.1,1860.4 1314.3,1864.4" fill="#99ff41"/><polygon points="1298.2,1868.5 1314.3,1864.4 1298.2,1859.9 1282.2,1864.7" fill="#99ff40"/><polygon points="1070.7,1912.2 1088.1,1903.6 1073.5,1904.4 1056.1,1913.7" fill="#96ff73"/><polygon points="1526,1909 1540.5,1910.2 1523.2,1901.2 1508.5,1900.6" fill="#96ff69"/><polygon points="1152.4,1887.7 1169.4,1880.7 1154.2,1879.5 1137.3,1887.2" fill="#98ff4b"/><polygon points="1444.1,1885.6 1459.3,1884.9 1442.3,1877.5 1427.2,1878.8" fill="#98ff48"/><polygon points="1184.7,1881.8 1201.5,1875.5 1186.1,1873.7 1169.4,1880.7" fill="#98ff45"/><polygon points="1411.8,1880.2 1427.2,1878.8 1410.4,1872.1 1395,1874.1" fill="#98ff44"/><polygon points="1102.9,1902.8 1120.2,1895 1105.3,1895.1 1088.1,1903.6" fill="#96ff5a"/><polygon points="1493.7,1900 1508.5,1900.6 1491.3,1892.4 1476.4,1892.4" fill="#97ff57"/><polygon points="1217.1,1877.4 1233.7,1871.8 1218.1,1869.3 1201.5,1875.5" fill="#98ff43"/><polygon points="1379.4,1876.2 1395,1874.1 1378.4,1868.1 1362.8,1870.9" fill="#99ff42"/><polygon points="1053,1920.9 1070.7,1912.2 1056.1,1913.7 1038.6,1923" fill="#96ff7f"/><polygon points="1249.5,1874.3 1266,1869.5 1250.1,1866.3 1233.7,1871.8" fill="#99ff41"/><polygon points="1346.9,1873.6 1362.8,1870.9 1346.3,1865.6 1330.5,1869" fill="#99ff41"/><polygon points="1543.6,1917.4 1558.1,1919.3 1540.5,1910.2 1526,1909" fill="#96ff75"/><polygon points="1282,1872.7 1298.2,1868.5 1282.2,1864.7 1266,1869.5" fill="#99ff40"/><polygon points="1314.5,1872.4 1330.5,1869 1314.3,1864.4 1298.2,1868.5" fill="#99ff40"/><polygon points="1135.3,1894.8 1152.4,1887.7 1137.3,1887.2 1120.2,1895" fill="#97ff4e"/><polygon points="1461.3,1892.5 1476.4,1892.4 1459.3,1884.9 1444.1,1885.6" fill="#98ff4b"/><polygon points="1085.4,1910.8 1102.9,1902.8 1088.1,1903.6 1070.7,1912.2" fill="#96ff5f"/><polygon points="1167.7,1888.2 1184.7,1881.8 1169.4,1880.7 1152.4,1887.7" fill="#98ff46"/><polygon points="1428.8,1886.3 1444.1,1885.6 1427.2,1878.8 1411.8,1880.2" fill="#98ff45"/><polygon points="1511.2,1907.7 1526,1909 1508.5,1900.6 1493.7,1900" fill="#96ff5b"/><polygon points="1035.2,1929.7 1053,1920.9 1038.6,1923 1020.8,1932.5" fill="#96ff8b"/><polygon points="1200.3,1883 1217.1,1877.4 1201.5,1875.5 1184.7,1881.8" fill="#98ff43"/><polygon points="1561.5,1926 1575.9,1928.5 1558.1,1919.3 1543.6,1917.4" fill="#96ff80"/><polygon points="1396.2,1881.6 1411.8,1880.2 1395,1874.1 1379.4,1876.2" fill="#98ff42"/><polygon points="1117.9,1902 1135.3,1894.8 1120.2,1895 1102.9,1902.8" fill="#97ff52"/><polygon points="1232.9,1879.2 1249.5,1874.3 1233.7,1871.8 1217.1,1877.4" fill="#99ff41"/><polygon points="1363.6,1878.3 1379.4,1876.2 1362.8,1870.9 1346.9,1873.6" fill="#99ff41"/><polygon points="1478.6,1899.4 1493.7,1900 1476.4,1892.4 1461.3,1892.5" fill="#97ff4e"/><polygon points="1265.6,1876.9 1282,1872.7 1266,1869.5 1249.5,1874.3" fill="#99ff40"/><polygon points="1330.9,1876.4 1346.9,1873.6 1330.5,1869 1314.5,1872.4" fill="#99ff40"/><polygon points="1298.2,1875.9 1314.5,1872.4 1298.2,1868.5 1282,1872.7" fill="#99ff40"/><polygon points="1067.7,1918.8 1085.4,1910.8 1070.7,1912.2 1053,1920.9" fill="#96ff69"/><polygon points="1150.6,1894.7 1167.7,1888.2 1152.4,1887.7 1135.3,1894.8" fill="#98ff47"/><polygon points="1017.2,1938.6 1035.2,1929.7 1020.8,1932.5 1002.9,1942" fill="#96ff97"/><polygon points="1528.9,1915.5 1543.6,1917.4 1526,1909 1511.2,1907.7" fill="#96ff60"/><polygon points="1446,1892.6 1461.3,1892.5 1444.1,1885.6 1428.8,1886.3" fill="#98ff45"/><polygon points="1579.5,1934.6 1593.9,1937.8 1575.9,1928.5 1561.5,1926" fill="#96ff8b"/><polygon points="1183.3,1888.7 1200.3,1883 1184.7,1881.8 1167.7,1888.2" fill="#98ff44"/><polygon points="1413.2,1887.1 1428.8,1886.3 1411.8,1880.2 1396.2,1881.6" fill="#98ff43"/><polygon points="1100.4,1909.3 1117.9,1902 1102.9,1902.8 1085.4,1910.8" fill="#97ff56"/><polygon points="1496.2,1906.5 1511.2,1907.7 1493.7,1900 1478.6,1899.4" fill="#97ff52"/><polygon points="1216.1,1884.2 1232.9,1879.2 1217.1,1877.4 1200.3,1883" fill="#99ff41"/><polygon points="1380.4,1883 1396.2,1881.6 1379.4,1876.2 1363.6,1878.3" fill="#99ff41"/><polygon points="1049.8,1926.9 1067.7,1918.8 1053,1920.9 1035.2,1929.7" fill="#96ff73"/><polygon points="999,1947.6 1017.2,1938.6 1002.9,1942 984.7,1951.7" fill="#96ffa4"/><polygon points="1248.9,1881.1 1265.6,1876.9 1249.5,1874.3 1232.9,1879.2" fill="#99ff40"/><polygon points="1347.6,1880.4 1363.6,1878.3 1346.9,1873.6 1330.9,1876.4" fill="#99ff40"/><polygon points="1546.8,1923.4 1561.5,1926 1543.6,1917.4 1528.9,1915.5" fill="#96ff69"/><polygon points="1281.8,1879.5 1298.2,1875.9 1282,1872.7 1265.6,1876.9" fill="#99ff3f"/><polygon points="1314.7,1879.2 1330.9,1876.4 1314.5,1872.4 1298.2,1875.9" fill="#99ff3f"/><polygon points="1133.2,1901.2 1150.6,1894.7 1135.3,1894.8 1117.9,1902" fill="#98ff4a"/><polygon points="1597.8,1943.3 1612.1,1947.2 1593.9,1937.8 1579.5,1934.6" fill="#96ff97"/><polygon points="1463.4,1898.8 1478.6,1899.4 1461.3,1892.5 1446,1892.6" fill="#98ff46"/><polygon points="1166,1894.5 1183.3,1888.7 1167.7,1888.2 1150.6,1894.7" fill="#98ff44"/><polygon points="1082.6,1916.7 1100.4,1909.3 1085.4,1910.8 1067.7,1918.8" fill="#96ff59"/><polygon points="1430.5,1892.6 1446,1892.6 1428.8,1886.3 1413.2,1887.1" fill="#98ff43"/><polygon points="1514,1913.6 1528.9,1915.5 1511.2,1907.7 1496.2,1906.5" fill="#97ff55"/><polygon points="1031.7,1935.2 1049.8,1926.9 1035.2,1929.7 1017.2,1938.6" fill="#96ff7d"/><polygon points="980.5,1956.7 999,1947.6 984.7,1951.7 966.4,1961.4" fill="#94ffb5"/><polygon points="1199,1889.3 1216.1,1884.2 1200.3,1883 1183.3,1888.7" fill="#99ff42"/><polygon points="1565,1931.4 1579.5,1934.6 1561.5,1926 1546.8,1923.4" fill="#96ff72"/><polygon points="1397.5,1887.8 1413.2,1887.1 1396.2,1881.6 1380.4,1883" fill="#99ff41"/><polygon points="1616.3,1952.2 1630.5,1956.7 1612.1,1947.2 1597.8,1943.3" fill="#96ffa3"/><polygon points="1232,1885.4 1248.9,1881.1 1232.9,1879.2 1216.1,1884.2" fill="#99ff40"/><polygon points="1115.6,1907.8 1133.2,1901.2 1117.9,1902 1100.4,1909.3" fill="#97ff4c"/><polygon points="1364.4,1884.5 1380.4,1883 1363.6,1878.3 1347.6,1880.4" fill="#99ff3f"/><polygon points="1481,1905.2 1496.2,1906.5 1478.6,1899.4 1463.4,1898.8" fill="#98ff49"/><polygon points="1265.1,1883 1281.8,1879.5 1265.6,1876.9 1248.9,1881.1" fill="#99ff3f"/><polygon points="1331.3,1882.6 1347.6,1880.4 1330.9,1876.4 1314.7,1879.2" fill="#99ff3e"/><polygon points="1298.2,1882.1 1314.7,1879.2 1298.2,1875.9 1281.8,1879.5" fill="#99ff3e"/><polygon points="1064.7,1924.1 1082.6,1916.7 1067.7,1918.8 1049.8,1926.9" fill="#96ff5d"/><polygon points="1148.6,1900.4 1166,1894.5 1150.6,1894.7 1133.2,1901.2" fill="#98ff45"/><polygon points="1532,1920.8 1546.8,1923.4 1528.9,1915.5 1514,1913.6" fill="#97ff59"/><polygon points="1013.4,1943.5 1031.7,1935.2 1017.2,1938.6 999,1947.6" fill="#96ff86"/><polygon points="1447.9,1898.2 1463.4,1898.8 1446,1892.6 1430.5,1892.6" fill="#98ff44"/><polygon points="1583.3,1939.4 1597.8,1943.3 1579.5,1934.6 1565,1931.4" fill="#96ff7b"/><polygon points="1181.8,1894.4 1199,1889.3 1183.3,1888.7 1166,1894.5" fill="#99ff42"/><polygon points="1414.7,1892.7 1430.5,1892.6 1413.2,1887.1 1397.5,1887.8" fill="#99ff41"/><polygon points="1097.7,1914.5 1115.6,1907.8 1100.4,1909.3 1082.6,1916.7" fill="#97ff4f"/><polygon points="1498.8,1911.6 1514,1913.6 1496.2,1906.5 1481,1905.2" fill="#98ff4b"/><polygon points="1215,1889.8 1232,1885.4 1216.1,1884.2 1199,1889.3" fill="#99ff40"/><polygon points="1381.5,1888.6 1397.5,1887.8 1380.4,1883 1364.4,1884.5" fill="#99ff3f"/><polygon points="1046.5,1931.7 1064.7,1924.1 1049.8,1926.9 1031.7,1935.2" fill="#96ff63"/><polygon points="1248.3,1886.6 1265.1,1883 1248.9,1881.1 1232,1885.4" fill="#99ff3e"/><polygon points="1348.2,1885.9 1364.4,1884.5 1347.6,1880.4 1331.3,1882.6" fill="#99ff3e"/><polygon points="994.9,1951.9 1013.4,1943.5 999,1947.6 980.5,1956.7" fill="#96ff90"/><polygon points="1281.6,1885 1298.2,1882.1 1281.8,1879.5 1265.1,1883" fill="#9aff3e"/><polygon points="1550.2,1928.1 1565,1931.4 1546.8,1923.4 1532,1920.8" fill="#96ff5c"/><polygon points="1314.9,1884.7 1331.3,1882.6 1314.7,1879.2 1298.2,1882.1" fill="#9aff3e"/><polygon points="1131,1906.3 1148.6,1900.4 1133.2,1901.2 1115.6,1907.8" fill="#98ff45"/><polygon points="1601.9,1947.6 1616.3,1952.2 1597.8,1943.3 1583.3,1939.4" fill="#96ff84"/><polygon points="1465.6,1903.9 1481,1905.2 1463.4,1898.8 1447.9,1898.2" fill="#98ff44"/><polygon points="1164.3,1899.5 1181.8,1894.4 1166,1894.5 1148.6,1900.4" fill="#99ff42"/><polygon points="1079.7,1921.3 1097.7,1914.5 1082.6,1916.7 1064.7,1924.1" fill="#97ff52"/><polygon points="1432.2,1897.6 1447.9,1898.2 1430.5,1892.6 1414.7,1892.7" fill="#99ff41"/><polygon points="1516.9,1918.1 1532,1920.8 1514,1913.6 1498.8,1911.6" fill="#97ff4d"/><polygon points="1028.1,1939.3 1046.5,1931.7 1031.7,1935.2 1013.4,1943.5" fill="#96ff6a"/><polygon points="1197.7,1894.2 1215,1889.8 1199,1889.3 1181.8,1894.4" fill="#99ff3f"/><polygon points="1398.8,1892.7 1414.7,1892.7 1397.5,1887.8 1381.5,1888.6" fill="#99ff3f"/><polygon points="1568.6,1935.4 1583.3,1939.4 1565,1931.4 1550.2,1928.1" fill="#96ff60"/><polygon points="1231.2,1890.3 1248.3,1886.6 1232,1885.4 1215,1889.8" fill="#99ff3e"/><polygon points="1113.1,1912.3 1131,1906.3 1115.6,1907.8 1097.7,1914.5" fill="#98ff45"/><polygon points="1365.3,1889.3 1381.5,1888.6 1364.4,1884.5 1348.2,1885.9" fill="#9aff3e"/><polygon points="1483.5,1909.6 1498.8,1911.6 1481,1905.2 1465.6,1903.9" fill="#98ff44"/><polygon points="1264.7,1887.9 1281.6,1885 1265.1,1883 1248.3,1886.6" fill="#9bff3d"/><polygon points="1331.8,1887.4 1348.2,1885.9 1331.3,1882.6 1314.9,1884.7" fill="#9bff3d"/><polygon points="1298.2,1886.9 1314.9,1884.7 1298.2,1882.1 1281.6,1885" fill="#9bff3d"/><polygon points="1061.5,1928.1 1079.7,1921.3 1064.7,1924.1 1046.5,1931.7" fill="#97ff54"/><polygon points="1146.6,1904.7 1164.3,1899.5 1148.6,1900.4 1131,1906.3" fill="#99ff42"/><polygon points="1535.2,1924.7 1550.2,1928.1 1532,1920.8 1516.9,1918.1" fill="#97ff50"/><polygon points="1449.9,1902.6 1465.6,1903.9 1447.9,1898.2 1432.2,1897.6" fill="#99ff41"/><polygon points="1009.5,1947 1028.1,1939.3 1013.4,1943.5 994.9,1951.9" fill="#96ff72"/><polygon points="1587.3,1942.9 1601.9,1947.6 1583.3,1939.4 1568.6,1935.4" fill="#96ff66"/><polygon points="1180.2,1898.7 1197.7,1894.2 1181.8,1894.4 1164.3,1899.5" fill="#99ff3f"/><polygon points="1416.3,1897 1432.2,1897.6 1414.7,1892.7 1398.8,1892.7" fill="#99ff3e"/><polygon points="1095,1918.3 1113.1,1912.3 1097.7,1914.5 1079.7,1921.3" fill="#98ff46"/><polygon points="1501.6,1915.4 1516.9,1918.1 1498.8,1911.6 1483.5,1909.6" fill="#98ff45"/><polygon points="1213.8,1894 1231.2,1890.3 1215,1889.8 1197.7,1894.2" fill="#9aff3e"/><polygon points="1382.6,1892.8 1398.8,1892.7 1381.5,1888.6 1365.3,1889.3" fill="#9aff3d"/><polygon points="1043,1935 1061.5,1928.1 1046.5,1931.7 1028.1,1939.3" fill="#97ff57"/><polygon points="1247.6,1890.8 1264.7,1887.9 1248.3,1886.6 1231.2,1890.3" fill="#9bff3d"/><polygon points="1348.9,1890.1 1365.3,1889.3 1348.2,1885.9 1331.8,1887.4" fill="#9cff3d"/><polygon points="1281.3,1889.1 1298.2,1886.9 1281.6,1885 1264.7,1887.9" fill="#9cff3d"/><polygon points="1315.1,1888.9 1331.8,1887.4 1314.9,1884.7 1298.2,1886.9" fill="#9cff3d"/><polygon points="1553.7,1931.4 1568.6,1935.4 1550.2,1928.1 1535.2,1924.7" fill="#97ff52"/><polygon points="1128.7,1910 1146.6,1904.7 1131,1906.3 1113.1,1912.3" fill="#98ff42"/><polygon points="1467.9,1907.6 1483.5,1909.6 1465.6,1903.9 1449.9,1902.6" fill="#99ff41"/><line x1="1298.2" y1="1943.7" x2="1298.2" y2="1886.9" stroke="#111" stroke-width="2.2"/><ellipse cx="1298.2" cy="1943.7" rx="7.3" ry="7.2" fill="#f0c8c8" stroke="#222" stroke-width="1.2"/><polygon points="1162.4,1903.2 1180.2,1898.7 1164.3,1899.5 1146.6,1904.7" fill="#99ff3f"/><polygon points="1076.7,1924.5 1095,1918.3 1079.7,1921.3 1061.5,1928.1" fill="#98ff48"/><polygon points="1434.1,1901.2 1449.9,1902.6 1432.2,1897.6 1416.3,1897" fill="#99ff3e"/><polygon points="1519.9,1921.3 1535.2,1924.7 1516.9,1918.1 1501.6,1915.4" fill="#98ff45"/><polygon points="1024.3,1942 1043,1935 1028.1,1939.3 1009.5,1947" fill="#96ff59"/><polygon points="1196.3,1897.8 1213.8,1894 1197.7,1894.2 1180.2,1898.7" fill="#9aff3d"/><polygon points="1400.2,1896.3 1416.3,1897 1398.8,1892.7 1382.6,1892.8" fill="#9bff3d"/><polygon points="1572.4,1938.1 1587.3,1942.9 1568.6,1935.4 1553.7,1931.4" fill="#97ff54"/><polygon points="1230.2,1893.8 1247.6,1890.8 1231.2,1890.3 1213.8,1894" fill="#9cff3d"/><polygon points="1366.2,1892.9 1382.6,1892.8 1365.3,1889.3 1348.9,1890.1" fill="#9dff3d"/><polygon points="1110.5,1915.4 1128.7,1910 1113.1,1912.3 1095,1918.3" fill="#98ff42"/><polygon points="1264.2,1891.4 1281.3,1889.1 1264.7,1887.9 1247.6,1890.8" fill="#9dff3c"/><polygon points="1486,1912.7 1501.6,1915.4 1483.5,1909.6 1467.9,1907.6" fill="#99ff41"/><polygon points="1332.2,1890.9 1348.9,1890.1 1331.8,1887.4 1315.1,1888.9" fill="#9dff3c"/><polygon points="1298.2,1890.4 1315.1,1888.9 1298.2,1886.9 1281.3,1889.1" fill="#9eff3c"/><polygon points="1058.1,1930.7 1076.7,1924.5 1061.5,1928.1 1043,1935" fill="#98ff49"/><polygon points="1144.5,1907.8 1162.4,1903.2 1146.6,1904.7 1128.7,1910" fill="#99ff3f"/><polygon points="1538.5,1927.3 1553.7,1931.4 1535.2,1924.7 1519.9,1921.3" fill="#98ff46"/><polygon points="1452,1905.5 1467.9,1907.6 1449.9,1902.6 1434.1,1901.2" fill="#99ff3e"/><polygon points="1178.5,1901.6 1196.3,1897.8 1180.2,1898.7 1162.4,1903.2" fill="#9bff3d"/><polygon points="1418,1899.9 1434.1,1901.2 1416.3,1897 1400.2,1896.3" fill="#9cff3d"/><polygon points="1092.1,1920.8 1110.5,1915.4 1095,1918.3 1076.7,1924.5" fill="#98ff42"/><polygon points="1212.7,1896.9 1230.2,1893.8 1213.8,1894 1196.3,1897.8" fill="#9dff3c"/><polygon points="1504.4,1917.9 1519.9,1921.3 1501.6,1915.4 1486,1912.7" fill="#99ff41"/><polygon points="1383.8,1895.7 1400.2,1896.3 1382.6,1892.8 1366.2,1892.9" fill="#9dff3c"/><polygon points="1246.9,1893.7 1264.2,1891.4 1247.6,1890.8 1230.2,1893.8" fill="#9fff3c"/><polygon points="1349.6,1892.9 1366.2,1892.9 1348.9,1890.1 1332.2,1890.9" fill="#9fff3c"/><polygon points="1039.3,1937 1058.1,1930.7 1043,1935 1024.3,1942" fill="#98ff4b"/><polygon points="1281.1,1891.9 1298.2,1890.4 1281.3,1889.1 1264.2,1891.4" fill="#a0ff3c"/><polygon points="1315.3,1891.7 1332.2,1890.9 1315.1,1888.9 1298.2,1890.4" fill="#a1ff3c"/><polygon points="1557.3,1933.3 1572.4,1938.1 1553.7,1931.4 1538.5,1927.3" fill="#98ff46"/><polygon points="1126.3,1912.4 1144.5,1907.8 1128.7,1910 1110.5,1915.4" fill="#99ff3f"/><polygon points="1470.3,1909.9 1486,1912.7 1467.9,1907.6 1452,1905.5" fill="#99ff3e"/><polygon points="1160.5,1905.4 1178.5,1901.6 1162.4,1903.2 1144.5,1907.8" fill="#9bff3d"/><polygon points="1073.5,1926.3 1092.1,1920.8 1076.7,1924.5 1058.1,1930.7" fill="#98ff43"/><polygon points="1436,1903.5 1452,1905.5 1434.1,1901.2 1418,1899.9" fill="#9cff3d"/><polygon points="1523.1,1923.1 1538.5,1927.3 1519.9,1921.3 1504.4,1917.9" fill="#99ff41"/><polygon points="1194.8,1900 1212.7,1896.9 1196.3,1897.8 1178.5,1901.6" fill="#9eff3c"/><polygon points="1401.6,1898.5 1418,1899.9 1400.2,1896.3 1383.8,1895.7" fill="#9fff3c"/><polygon points="1229.3,1896 1246.9,1893.7 1230.2,1893.8 1212.7,1896.9" fill="#a1fe3c"/><polygon points="1367.2,1895 1383.8,1895.7 1366.2,1892.9 1349.6,1892.9" fill="#a2fe3c"/><polygon points="1107.8,1917.1 1126.3,1912.4 1110.5,1915.4 1092.1,1920.8" fill="#99ff3e"/><polygon points="1263.7,1893.5 1281.1,1891.9 1264.2,1891.4 1246.9,1893.7" fill="#a4fe3c"/><polygon points="1332.7,1893 1349.6,1892.9 1332.2,1890.9 1315.3,1891.7" fill="#a4fe3c"/><polygon points="1488.7,1914.4 1504.4,1917.9 1486,1912.7 1470.3,1909.9" fill="#9aff3e"/><polygon points="1298.2,1892.5 1315.3,1891.7 1298.2,1890.4 1281.1,1891.9" fill="#a5fe3c"/><polygon points="1054.6,1931.9 1073.5,1926.3 1058.1,1930.7 1039.3,1937" fill="#98ff43"/><polygon points="1142.3,1909.3 1160.5,1905.4 1144.5,1907.8 1126.3,1912.4" fill="#9cff3d"/><polygon points="1454.2,1907.1 1470.3,1909.9 1452,1905.5 1436,1903.5" fill="#9dff3c"/><polygon points="1542,1928.4 1557.3,1933.3 1538.5,1927.3 1523.1,1923.1" fill="#99ff41"/><polygon points="1176.8,1903.1 1194.8,1900 1178.5,1901.6 1160.5,1905.4" fill="#9fff3c"/><polygon points="1419.7,1901.3 1436,1903.5 1418,1899.9 1401.6,1898.5" fill="#a1fe3c"/><polygon points="1089.1,1921.8 1107.8,1917.1 1092.1,1920.8 1073.5,1926.3" fill="#99ff3e"/><polygon points="1211.4,1898.3 1229.3,1896 1212.7,1896.9 1194.8,1900" fill="#a4fe3c"/><polygon points="1507.4,1918.8 1523.1,1923.1 1504.4,1917.9 1488.7,1914.4" fill="#9aff3e"/><polygon points="1385,1897.1 1401.6,1898.5 1383.8,1895.7 1367.2,1895" fill="#a5fe3c"/><polygon points="1246.1,1895.1 1263.7,1893.5 1246.9,1893.7 1229.3,1896" fill="#a7fd3c"/><polygon points="1350.3,1894.3 1367.2,1895 1349.6,1892.9 1332.7,1893" fill="#a8fd3c"/><polygon points="1280.8,1893.3 1298.2,1892.5 1281.1,1891.9 1263.7,1893.5" fill="#a9fd3c"/><polygon points="1315.6,1893 1332.7,1893 1315.3,1891.7 1298.2,1892.5" fill="#a9fd3c"/><polygon points="1123.7,1913.3 1142.3,1909.3 1126.3,1912.4 1107.8,1917.1" fill="#9cff3d"/><polygon points="1472.8,1910.8 1488.7,1914.4 1470.3,1909.9 1454.2,1907.1" fill="#9dff3c"/><polygon points="1158.5,1906.2 1176.8,1903.1 1160.5,1905.4 1142.3,1909.3" fill="#a1fe3c"/><polygon points="1438,1904.2 1454.2,1907.1 1436,1903.5 1419.7,1901.3" fill="#a3fe3c"/><polygon points="1070.2,1926.7 1089.1,1921.8 1073.5,1926.3 1054.6,1931.9" fill="#99ff3e"/><polygon points="1526.4,1923.4 1542,1928.4 1523.1,1923.1 1507.4,1918.8" fill="#9aff3d"/><polygon points="1193.3,1900.7 1211.4,1898.3 1194.8,1900 1176.8,1903.1" fill="#a6fe3c"/><polygon points="1403.1,1899.2 1419.7,1901.3 1401.6,1898.5 1385,1897.1" fill="#a8fd3c"/><polygon points="1228.2,1896.6 1246.1,1895.1 1229.3,1896 1211.4,1898.3" fill="#aafd3c"/><polygon points="1368.2,1895.6 1385,1897.1 1367.2,1895 1350.3,1894.3" fill="#abfd3c"/><polygon points="1105,1917.3 1123.7,1913.3 1107.8,1917.1 1089.1,1921.8" fill="#9dff3c"/><polygon points="1263.2,1894.1 1280.8,1893.3 1263.7,1893.5 1246.1,1895.1" fill="#adfc3c"/><polygon points="1333.2,1893.6 1350.3,1894.3 1332.7,1893 1315.6,1893" fill="#adfc3c"/><polygon points="1491.5,1914.5 1507.4,1918.8 1488.7,1914.4 1472.8,1910.8" fill="#9eff3c"/><polygon points="1298.2,1893.1 1315.6,1893 1298.2,1892.5 1280.8,1893.3" fill="#aefc3c"/><polygon points="1139.9,1909.4 1158.5,1906.2 1142.3,1909.3 1123.7,1913.3" fill="#a3fe3c"/><polygon points="1456.5,1907.2 1472.8,1910.8 1454.2,1907.1 1438,1904.2" fill="#a5fe3c"/><polygon points="1175,1903.1 1193.3,1900.7 1176.8,1903.1 1158.5,1906.2" fill="#a9fd3c"/><polygon points="1421.5,1901.3 1438,1904.2 1419.7,1901.3 1403.1,1899.2" fill="#abfd3c"/><polygon points="1086,1921.4 1105,1917.3 1089.1,1921.8 1070.2,1926.7" fill="#9dff3c"/><polygon points="1210.1,1898.3 1228.2,1896.6 1211.4,1898.3 1193.3,1900.7" fill="#aefc3c"/><polygon points="1386.3,1897 1403.1,1899.2 1385,1897.1 1368.2,1895.6" fill="#affc3c"/><polygon points="1510.6,1918.3 1526.4,1923.4 1507.4,1918.8 1491.5,1914.5" fill="#9fff3c"/><polygon points="1245.3,1894.9 1263.2,1894.1 1246.1,1895.1 1228.2,1896.6" fill="#b2fc3c"/><polygon points="1351.1,1894.2 1368.2,1895.6 1350.3,1894.3 1333.2,1893.6" fill="#b3fc3c"/><polygon points="1280.6,1893.2 1298.2,1893.1 1280.8,1893.3 1263.2,1894.1" fill="#b5fc3c"/><polygon points="1315.8,1892.9 1333.2,1893.6 1315.6,1893 1298.2,1893.1" fill="#b5fc3c"/><polygon points="1121.1,1912.7 1139.9,1909.4 1123.7,1913.3 1105,1917.3" fill="#a5fe3c"/><polygon points="1475.4,1910.1 1491.5,1914.5 1472.8,1910.8 1456.5,1907.2" fill="#a7fd3c"/><polygon points="1156.4,1905.5 1175,1903.1 1158.5,1906.2 1139.9,1909.4" fill="#acfd3c"/><polygon points="1440.1,1903.5 1456.5,1907.2 1438,1904.2 1421.5,1901.3" fill="#adfc3c"/><polygon points="1191.8,1899.9 1210.1,1898.3 1193.3,1900.7 1175,1903.1" fill="#b2fc3c"/><polygon points="1404.7,1898.4 1421.5,1901.3 1403.1,1899.2 1386.3,1897" fill="#b5fc3c"/><polygon points="1227.2,1895.8 1245.3,1894.9 1228.2,1896.6 1210.1,1898.3" fill="#b9fc3c"/><polygon points="1369.2,1894.8 1386.3,1897 1368.2,1895.6 1351.1,1894.2" fill="#bafc3c"/><polygon points="1102,1916 1121.1,1912.7 1105,1917.3 1086,1921.4" fill="#a7fd3c"/><polygon points="1262.7,1893.2 1280.6,1893.2 1263.2,1894.1 1245.3,1894.9" fill="#bdfd3c"/><polygon points="1333.7,1892.7 1351.1,1894.2 1333.2,1893.6 1315.8,1892.9" fill="#befd3c"/><polygon points="1298.2,1892.2 1315.8,1892.9 1298.2,1893.1 1280.6,1893.2" fill="#bffd3c"/><polygon points="1494.5,1913.2 1510.6,1918.3 1491.5,1914.5 1475.4,1910.1" fill="#a9fd3c"/><polygon points="1137.5,1908 1156.4,1905.5 1139.9,1909.4 1121.1,1912.7" fill="#aefc3c"/><polygon points="1458.9,1905.7 1475.4,1910.1 1456.5,1907.2 1440.1,1903.5" fill="#b1fc3c"/><polygon points="1173.1,1901.5 1191.8,1899.9 1175,1903.1 1156.4,1905.5" fill="#b8fc3c"/><polygon points="1423.3,1899.7 1440.1,1903.5 1421.5,1901.3 1404.7,1898.4" fill="#bbfc3c"/><polygon points="1208.8,1896.6 1227.2,1895.8 1210.1,1898.3 1191.8,1899.9" fill="#c0fd3c"/><polygon points="1387.6,1895.3 1404.7,1898.4 1386.3,1897 1369.2,1894.8" fill="#c2fd3c"/><polygon points="1244.5,1893.3 1262.7,1893.2 1245.3,1894.9 1227.2,1895.8" fill="#c5fd3c"/><polygon points="1351.9,1892.5 1369.2,1894.8 1351.1,1894.2 1333.7,1892.7" fill="#c6fd3c"/><polygon points="1280.3,1891.5 1298.2,1892.2 1280.6,1893.2 1262.7,1893.2" fill="#c8fd3c"/><polygon points="1316.1,1891.2 1333.7,1892.7 1315.8,1892.9 1298.2,1892.2" fill="#c8fd3c"/><polygon points="1118.4,1910.5 1137.5,1908 1121.1,1912.7 1102,1916" fill="#b2fc3c"/><polygon points="1478.1,1907.9 1494.5,1913.2 1475.4,1910.1 1458.9,1905.7" fill="#b6fc3c"/><polygon points="1154.2,1903.2 1173.1,1901.5 1156.4,1905.5 1137.5,1908" fill="#befd3c"/><polygon points="1442.2,1901.1 1458.9,1905.7 1440.1,1903.5 1423.3,1899.7" fill="#c1fd3c"/><polygon points="1190.1,1897.5 1208.8,1896.6 1191.8,1899.9 1173.1,1901.5" fill="#c7fd3c"/><polygon points="1406.3,1895.9 1423.3,1899.7 1404.7,1898.4 1387.6,1895.3" fill="#c9fd3c"/><polygon points="1226.1,1893.3 1244.5,1893.3 1227.2,1895.8 1208.8,1896.6" fill="#cdfd3b"/><polygon points="1370.3,1892.3 1387.6,1895.3 1369.2,1894.8 1351.9,1892.5" fill="#cffd3b"/><polygon points="1262.1,1890.7 1280.3,1891.5 1262.7,1893.2 1244.5,1893.3" fill="#d1fd3b"/><polygon points="1334.3,1890.2 1351.9,1892.5 1333.7,1892.7 1316.1,1891.2" fill="#d2fd3b"/><polygon points="1298.2,1889.7 1316.1,1891.2 1298.2,1892.2 1280.3,1891.5" fill="#d3fd3b"/><polygon points="1135,1904.9 1154.2,1903.2 1137.5,1908 1118.4,1910.5" fill="#c3fd3c"/><polygon points="1461.5,1902.6 1478.1,1907.9 1458.9,1905.7 1442.2,1901.1" fill="#c7fd3c"/><polygon points="1171.1,1898.4 1190.1,1897.5 1173.1,1901.5 1154.2,1903.2" fill="#cdfd3b"/><polygon points="1425.3,1896.5 1442.2,1901.1 1423.3,1899.7 1406.3,1895.9" fill="#d0fd3b"/><polygon points="1207.4,1893.4 1226.1,1893.3 1208.8,1896.6 1190.1,1897.5" fill="#d5fc3a"/><polygon points="1389,1892.1 1406.3,1895.9 1387.6,1895.3 1370.3,1892.3" fill="#d7fc3a"/><polygon points="1243.7,1890 1262.1,1890.7 1244.5,1893.3 1226.1,1893.3" fill="#dafc3a"/><polygon points="1352.7,1889.2 1370.3,1892.3 1351.9,1892.5 1334.3,1890.2" fill="#dcfc3a"/><polygon points="1280,1888.1 1298.2,1889.7 1280.3,1891.5 1262.1,1890.7" fill="#ddfc39"/><polygon points="1316.4,1887.9 1334.3,1890.2 1316.1,1891.2 1298.2,1889.7" fill="#defc39"/><polygon points="1151.9,1899.3 1171.1,1898.4 1154.2,1903.2 1135,1904.9" fill="#d4fd3b"/><polygon points="1444.5,1897.1 1461.5,1902.6 1442.2,1901.1 1425.3,1896.5" fill="#d7fc3a"/><polygon points="1188.4,1893.4 1207.4,1893.4 1190.1,1897.5 1171.1,1898.4" fill="#ddfc39"/><polygon points="1408,1891.8 1425.3,1896.5 1406.3,1895.9 1389,1892.1" fill="#e0fc39"/><polygon points="1224.9,1889.2 1243.7,1890 1226.1,1893.3 1207.4,1893.4" fill="#e5fc39"/><polygon points="1371.4,1888.1 1389,1892.1 1370.3,1892.3 1352.7,1889.2" fill="#e7fc39"/><polygon points="1261.5,1886.5 1280,1888.1 1262.1,1890.7 1243.7,1890" fill="#eafb38"/><polygon points="1334.8,1886 1352.7,1889.2 1334.3,1890.2 1316.4,1887.9" fill="#ebfb38"/><polygon points="1298.2,1885.5 1316.4,1887.9 1298.2,1889.7 1280,1888.1" fill="#ecfb38"/><polygon points="1169.1,1893.5 1188.4,1893.4 1171.1,1898.4 1151.9,1899.3" fill="#e7fc39"/><polygon points="1427.3,1891.6 1444.5,1897.1 1425.3,1896.5 1408,1891.8" fill="#ebfb38"/><polygon points="1205.9,1888.4 1224.9,1889.2 1207.4,1893.4 1188.4,1893.4" fill="#f1fb38"/><polygon points="1390.5,1887.1 1408,1891.8 1389,1892.1 1371.4,1888.1" fill="#f4fb38"/><polygon points="1242.8,1884.9 1261.5,1886.5 1243.7,1890 1224.9,1889.2" fill="#f9fa37"/><polygon points="1353.6,1884.1 1371.4,1888.1 1352.7,1889.2 1334.8,1886" fill="#fafa37"/><polygon points="1279.7,1883.1 1298.2,1885.5 1280,1888.1 1261.5,1886.5" fill="#fcfa37"/><polygon points="1316.6,1882.8 1334.8,1886 1316.4,1887.9 1298.2,1885.5" fill="#fdfa37"/><polygon points="1186.5,1887.6 1205.9,1888.4 1188.4,1893.4 1169.1,1893.5" fill="#fefa37"/><polygon points="1409.8,1886 1427.3,1891.6 1408,1891.8 1390.5,1887.1" fill="#fff837"/><polygon points="1223.7,1883.3 1242.8,1884.9 1224.9,1889.2 1205.9,1888.4" fill="#fff336"/><polygon points="1372.6,1882.2 1390.5,1887.1 1371.4,1888.1 1353.6,1884.1" fill="#fff135"/><polygon points="1260.9,1880.6 1279.7,1883.1 1261.5,1886.5 1242.8,1884.9" fill="#feec34"/><polygon points="1335.4,1880.1 1353.6,1884.1 1334.8,1886 1316.6,1882.8" fill="#fdea34"/><polygon points="1298.2,1879.5 1316.6,1882.8 1298.2,1885.5 1279.7,1883.1" fill="#fce733"/><polygon points="1204.3,1881.6 1223.7,1883.3 1205.9,1888.4 1186.5,1887.6" fill="#f6d831"/><polygon points="1392,1880.3 1409.8,1886 1390.5,1887.1 1372.6,1882.2" fill="#f4d230"/><polygon points="1241.8,1878.1 1260.9,1880.6 1242.8,1884.9 1223.7,1883.3" fill="#f1c72e"/><polygon points="1354.5,1877.3 1372.6,1882.2 1353.6,1884.1 1335.4,1880.1" fill="#efc42e"/><polygon points="1279.4,1876.2 1298.2,1879.5 1279.7,1883.1 1260.9,1880.6" fill="#eebf2d"/><polygon points="1316.9,1875.9 1335.4,1880.1 1316.6,1882.8 1298.2,1879.5" fill="#eebe2d"/><polygon points="1222.4,1875.5 1241.8,1878.1 1223.7,1883.3 1204.3,1881.6" fill="#e9ac29"/><polygon points="1373.9,1874.4 1392,1880.3 1372.6,1882.2 1354.5,1877.3" fill="#e8a928"/><polygon points="1260.3,1872.8 1279.4,1876.2 1260.9,1880.6 1241.8,1878.1" fill="#e7a427"/><polygon points="1336,1872.2 1354.5,1877.3 1335.4,1880.1 1316.9,1875.9" fill="#e7a227"/><polygon points="1298.2,1871.7 1316.9,1875.9 1298.2,1879.5 1279.4,1876.2" fill="#e7a027"/><polygon points="1240.8,1869.3 1260.3,1872.8 1241.8,1878.1 1222.4,1875.5" fill="#e48922"/><polygon points="1355.4,1868.5 1373.9,1874.4 1354.5,1877.3 1336,1872.2" fill="#e48622"/><polygon points="1279,1867.4 1298.2,1871.7 1279.4,1876.2 1260.3,1872.8" fill="#e38321"/><polygon points="1317.2,1867.1 1336,1872.2 1316.9,1875.9 1298.2,1871.7" fill="#e38221"/><polygon points="1259.6,1863 1279,1867.4 1260.3,1872.8 1240.8,1869.3" fill="#e0671c"/><polygon points="1336.7,1862.5 1355.4,1868.5 1336,1872.2 1317.2,1867.1" fill="#e0651c"/><polygon points="1298.1,1861.9 1317.2,1867.1 1298.2,1871.7 1279,1867.4" fill="#e0641c"/><polygon points="1278.7,1856.6 1298.1,1861.9 1279,1867.4 1259.6,1863" fill="#dd4816"/><polygon points="1317.6,1856.3 1336.7,1862.5 1317.2,1867.1 1298.1,1861.9" fill="#dd4716"/><polygon points="1298.1,1850.1 1317.6,1856.3 1298.1,1861.9 1278.7,1856.6" fill="#da2d10"/></g><g fill="#1a1a1a"><text x="1.4" y="43" font-size="42" textLength="33.3" lengthAdjust="spacingAndGlyphs" font-weight="bold" fill="#000">A</text><text x="391.2" y="29.2" font-size="31" textLength="163.8" lengthAdjust="spacingAndGlyphs">Removal (%)</text><text x="66.5" y="42.8" font-size="18.7" textLength="67.7" lengthAdjust="spacingAndGlyphs">42.9056</text><text x="66.5" y="202" font-size="18.7" textLength="67.7" lengthAdjust="spacingAndGlyphs">37.7028</text><text x="97.8" y="361.1" font-size="18.7" textLength="36.5" lengthAdjust="spacingAndGlyphs">32.5</text><text x="66.7" y="520.3" font-size="18.7" textLength="67.7" lengthAdjust="spacingAndGlyphs">27.2972</text><text x="66.3" y="679.4" font-size="18.7" textLength="67.7" lengthAdjust="spacingAndGlyphs">22.0944</text><text x="123" y="719.6" font-size="17.9" textLength="64.7" lengthAdjust="spacingAndGlyphs">87.0944</text><text x="282.3" y="719.6" font-size="17.9" textLength="64.7" lengthAdjust="spacingAndGlyphs">92.2972</text><text x="456.3" y="719.6" font-size="17.9" textLength="34.8" lengthAdjust="spacingAndGlyphs">97.5</text><text x="600.3" y="719.6" font-size="17.9" textLength="64.7" lengthAdjust="spacingAndGlyphs">102.703</text><g clip-path="url(#clipA107)"><text x="759" y="719.6" font-size="19" textLength="56.5" lengthAdjust="spacingAndGlyphs">107.90</text></g><text x="387.3" y="767" font-size="24.8" textLength="172.7" lengthAdjust="spacingAndGlyphs">A: Pressure (PSI)</text><text x="62.1" y="460.5" font-size="26.8" textLength="206.4" lengthAdjust="spacingAndGlyphs" transform="rotate(-90 62.1 460.5)">B: Temperature (°C)</text><text x="4.4" y="845.9" font-size="43" textLength="28.9" lengthAdjust="spacingAndGlyphs" font-weight="bold" fill="#000">C</text><text x="391.5" y="827.3" font-size="31" textLength="164.1" lengthAdjust="spacingAndGlyphs">Removal (%)</text><text x="67.6" y="840.9" font-size="18.7" textLength="67.7" lengthAdjust="spacingAndGlyphs">51.8921</text><text x="78.1" y="999.7" font-size="18.7" textLength="57.3" lengthAdjust="spacingAndGlyphs">45.946</text><text x="114.5" y="1158.5" font-size="18.7" textLength="20.8" lengthAdjust="spacingAndGlyphs">40</text><text x="77.7" y="1317.3" font-size="18.7" textLength="57.3" lengthAdjust="spacingAndGlyphs">34.054</text><text x="67.6" y="1476" font-size="18.7" textLength="67.7" lengthAdjust="spacingAndGlyphs">28.1079</text><text x="124.1" y="1516.8" font-size="17.9" textLength="64.7" lengthAdjust="spacingAndGlyphs">87.0944</text><text x="283.3" y="1516.8" font-size="17.9" textLength="64.7" lengthAdjust="spacingAndGlyphs">92.2972</text><text x="457.2" y="1516.8" font-size="17.9" textLength="34.8" lengthAdjust="spacingAndGlyphs">97.5</text><text x="601" y="1516.8" font-size="17.9" textLength="64.7" lengthAdjust="spacingAndGlyphs">102.703</text><text x="759.7" y="1516.8" font-size="19.2" textLength="54.9" lengthAdjust="spacingAndGlyphs">107.90</text><text x="388.5" y="1565.1" font-size="24.8" textLength="172" lengthAdjust="spacingAndGlyphs">A: Pressure (PSI)</text><text x="65" y="1220.9" font-size="25.9" textLength="133.3" lengthAdjust="spacingAndGlyphs" transform="rotate(-90 65 1220.9)">C: FEED (HZ)</text><text x="6.3" y="1674" font-size="43.6" textLength="27.8" lengthAdjust="spacingAndGlyphs" font-weight="bold" fill="#000">E</text><text x="398.3" y="1654.8" font-size="31" textLength="164.7" lengthAdjust="spacingAndGlyphs">Removal (%)</text><text x="73.1" y="1669.5" font-size="18.7" textLength="67.7" lengthAdjust="spacingAndGlyphs">51.8921</text><text x="83.6" y="1828.9" font-size="18.7" textLength="57.3" lengthAdjust="spacingAndGlyphs">45.946</text><text x="120" y="1988.3" font-size="18.7" textLength="20.8" lengthAdjust="spacingAndGlyphs">40</text><text x="83.2" y="2147.6" font-size="18.7" textLength="57.3" lengthAdjust="spacingAndGlyphs">34.054</text><text x="73.1" y="2307" font-size="18.7" textLength="67.7" lengthAdjust="spacingAndGlyphs">28.1079</text><text x="129.8" y="2347.1" font-size="17.7" textLength="64.2" lengthAdjust="spacingAndGlyphs">22.0944</text><text x="289.7" y="2347.1" font-size="17.7" textLength="64.2" lengthAdjust="spacingAndGlyphs">27.2972</text><text x="464.3" y="2347.1" font-size="17.7" textLength="34.5" lengthAdjust="spacingAndGlyphs">32.5</text><text x="609.2" y="2347.1" font-size="17.7" textLength="64.2" lengthAdjust="spacingAndGlyphs">37.7028</text><text x="767.2" y="2347.6" font-size="19" textLength="46.3" lengthAdjust="spacingAndGlyphs">42.90</text><text x="376.1" y="2396.5" font-size="26.1" textLength="210.3" lengthAdjust="spacingAndGlyphs">B: Temperature (°C)</text><text x="69" y="2052.4" font-size="26.4" textLength="136" lengthAdjust="spacingAndGlyphs" transform="rotate(-90 69 2052.4)">C: FEED (HZ)</text><text x="834.6" y="43.5" font-size="43.6" textLength="30.5" lengthAdjust="spacingAndGlyphs" font-weight="bold" fill="#000">B</text><text x="903.3" y="118.7" font-size="20.3" textLength="35.3" lengthAdjust="spacingAndGlyphs">100</text><text x="918.3" y="173.9" font-size="19.3" textLength="24.3" lengthAdjust="spacingAndGlyphs">95</text><text x="921.3" y="228.6" font-size="19.3" textLength="24.9" lengthAdjust="spacingAndGlyphs">90</text><text x="923.9" y="283.2" font-size="19.3" textLength="24.2" lengthAdjust="spacingAndGlyphs">85</text><text x="925.9" y="337.4" font-size="19.6" textLength="24.7" lengthAdjust="spacingAndGlyphs">80</text><text x="929.2" y="392" font-size="20.3" textLength="24.4" lengthAdjust="spacingAndGlyphs">75</text><text x="931.2" y="446.9" font-size="19.3" textLength="24.4" lengthAdjust="spacingAndGlyphs">70</text><text x="855.3" y="408.5" font-size="18.6" textLength="120.9" lengthAdjust="spacingAndGlyphs" transform="rotate(-90 855.3 408.5)">Removal (%)</text><text x="882.8" y="578.7" font-size="20.1" textLength="75.8" lengthAdjust="spacingAndGlyphs">42.9056</text><text x="961.3" y="615.8" font-size="19.9" textLength="75.8" lengthAdjust="spacingAndGlyphs">37.7028</text><text x="1076.1" y="653.1" font-size="19.3" textLength="39" lengthAdjust="spacingAndGlyphs">32.5</text><text x="1119.5" y="691.6" font-size="20" textLength="76.5" lengthAdjust="spacingAndGlyphs">27.2972</text><text x="1197.8" y="728.8" font-size="19.9" textLength="76.1" lengthAdjust="spacingAndGlyphs">22.0944</text><text x="1613.8" y="577.6" font-size="19.6" textLength="61.6" lengthAdjust="spacingAndGlyphs">107.90</text><text x="1533.1" y="616.1" font-size="20.6" textLength="73.1" lengthAdjust="spacingAndGlyphs">102.703</text><text x="1454.2" y="653.2" font-size="19.6" textLength="39.9" lengthAdjust="spacingAndGlyphs">97.5</text><text x="1376" y="691.4" font-size="20.1" textLength="74.2" lengthAdjust="spacingAndGlyphs">92.2972</text><text x="1298.9" y="728.4" font-size="20.1" textLength="73.8" lengthAdjust="spacingAndGlyphs">87.0944</text><text x="913.2" y="696.3" font-size="19.8" textLength="186.9" lengthAdjust="spacingAndGlyphs">B: Temperature (°C)</text><text x="1487.3" y="696" font-size="19.3" textLength="155.7" lengthAdjust="spacingAndGlyphs">A: Pressure (PSI)</text><text x="832.1" y="846.6" font-size="42.9" textLength="32.8" lengthAdjust="spacingAndGlyphs" font-weight="bold" fill="#000">D</text><text x="908.4" y="925.9" font-size="20.3" textLength="34.5" lengthAdjust="spacingAndGlyphs">100</text><text x="923" y="979.8" font-size="19.3" textLength="23.7" lengthAdjust="spacingAndGlyphs">95</text><text x="925.9" y="1033.2" font-size="19.3" textLength="24.3" lengthAdjust="spacingAndGlyphs">90</text><text x="928.5" y="1086.6" font-size="19.3" textLength="23.6" lengthAdjust="spacingAndGlyphs">85</text><text x="930.5" y="1139.5" font-size="19.6" textLength="24.2" lengthAdjust="spacingAndGlyphs">80</text><text x="933.7" y="1192.8" font-size="20.3" textLength="23.9" lengthAdjust="spacingAndGlyphs">75</text><text x="935.6" y="1246.4" font-size="19.3" textLength="23.9" lengthAdjust="spacingAndGlyphs">70</text><text x="863" y="1208.6" font-size="19.8" textLength="118.8" lengthAdjust="spacingAndGlyphs" transform="rotate(-90 863 1208.6)">Removal (%)</text><text x="887.2" y="1375" font-size="20" textLength="74.7" lengthAdjust="spacingAndGlyphs">51.8921</text><text x="977.1" y="1411.5" font-size="20" textLength="62.3" lengthAdjust="spacingAndGlyphs">45.946</text><text x="1093.4" y="1448.2" font-size="19.2" textLength="24.5" lengthAdjust="spacingAndGlyphs">40</text><text x="1132.2" y="1485" font-size="19.6" textLength="61.6" lengthAdjust="spacingAndGlyphs">34.054</text><text x="1196.4" y="1522" font-size="20" textLength="74.2" lengthAdjust="spacingAndGlyphs">28.1079</text><text x="1600.1" y="1374.6" font-size="20.1" textLength="61.9" lengthAdjust="spacingAndGlyphs">107.90</text><text x="1523.2" y="1411.4" font-size="20.1" textLength="71.3" lengthAdjust="spacingAndGlyphs">102.703</text><text x="1444.5" y="1448.6" font-size="20" textLength="41.5" lengthAdjust="spacingAndGlyphs">97.5</text><text x="1368.6" y="1485.6" font-size="20" textLength="73.9" lengthAdjust="spacingAndGlyphs">92.2972</text><text x="1294.4" y="1522.2" font-size="20" textLength="72.2" lengthAdjust="spacingAndGlyphs">87.0944</text><text x="951.3" y="1489.9" font-size="18.3" textLength="116.9" lengthAdjust="spacingAndGlyphs">C: FEED (HZ)</text><text x="1477.5" y="1489.8" font-size="20.3" textLength="152.2" lengthAdjust="spacingAndGlyphs">A: Pressure (PSI)</text><text x="833.2" y="1674.2" font-size="42.3" textLength="27.9" lengthAdjust="spacingAndGlyphs" font-weight="bold" fill="#000">F</text><text x="907.4" y="1742" font-size="20.3" textLength="36.1" lengthAdjust="spacingAndGlyphs">100</text><text x="922.7" y="1798.5" font-size="19.3" textLength="24.8" lengthAdjust="spacingAndGlyphs">95</text><text x="925.8" y="1854.4" font-size="19.3" textLength="25.4" lengthAdjust="spacingAndGlyphs">90</text><text x="928.5" y="1910.1" font-size="19.3" textLength="24.7" lengthAdjust="spacingAndGlyphs">85</text><text x="930.5" y="1965.5" font-size="19.6" textLength="25.3" lengthAdjust="spacingAndGlyphs">80</text><text x="933.9" y="2021.3" font-size="20.3" textLength="25" lengthAdjust="spacingAndGlyphs">75</text><text x="935.9" y="2077.4" font-size="19.3" textLength="25" lengthAdjust="spacingAndGlyphs">70</text><text x="859" y="2039" font-size="19.3" textLength="125.3" lengthAdjust="spacingAndGlyphs" transform="rotate(-90 859 2039)">Removal (%)</text><text x="887.2" y="2213.2" font-size="20.3" textLength="75.9" lengthAdjust="spacingAndGlyphs">51.8921</text><text x="979.6" y="2251" font-size="20.3" textLength="65.6" lengthAdjust="spacingAndGlyphs">45.946</text><text x="1102.1" y="2289.2" font-size="20" textLength="25" lengthAdjust="spacingAndGlyphs">40</text><text x="1142.2" y="2328" font-size="20.3" textLength="64" lengthAdjust="spacingAndGlyphs">34.054</text><text x="1209" y="2366.3" font-size="20.1" textLength="78.3" lengthAdjust="spacingAndGlyphs">28.1079</text><text x="1631.9" y="2212.4" font-size="20.3" textLength="52.7" lengthAdjust="spacingAndGlyphs">42.90</text><text x="1549.5" y="2249.2" font-size="20.3" textLength="77.8" lengthAdjust="spacingAndGlyphs">37.7028</text><text x="1469.8" y="2287.8" font-size="20.3" textLength="40.6" lengthAdjust="spacingAndGlyphs">32.5</text><text x="1389.8" y="2326.8" font-size="20.3" textLength="76.6" lengthAdjust="spacingAndGlyphs">27.2972</text><text x="1310" y="2365.4" font-size="20.3" textLength="77.8" lengthAdjust="spacingAndGlyphs">22.0944</text><text x="952.4" y="2331.9" font-size="18" textLength="122.7" lengthAdjust="spacingAndGlyphs">C: FEED (HZ)</text><text x="1487.5" y="2333.2" font-size="21.5" textLength="189.2" lengthAdjust="spacingAndGlyphs">B: Temperature (°C)</text></g></svg></body></html>
